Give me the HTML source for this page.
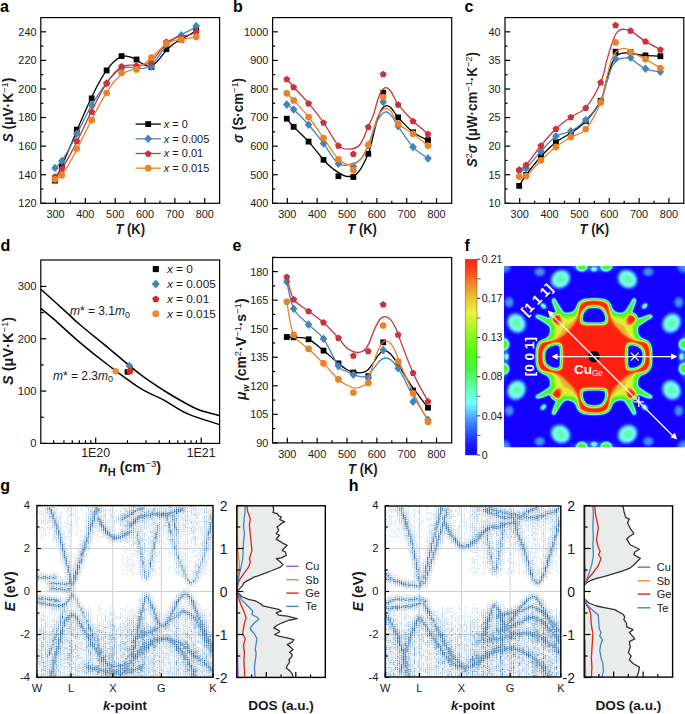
<!DOCTYPE html>
<html><head><meta charset="utf-8"><style>
html,body{margin:0;padding:0;background:#fff;}
svg{display:block;font-family:"Liberation Sans", sans-serif;}
</style></head><body>
<svg width="685" height="714" viewBox="0 0 685 714">
<rect x="40.8" y="17.6" width="178.8" height="185.7" fill="none" stroke="#000000" stroke-width="1.2" />
<line x1="40.8" y1="203.3" x2="46" y2="203.3" stroke="#000000" stroke-width="1.2" />
<line x1="40.8" y1="174.72" x2="46" y2="174.72" stroke="#000000" stroke-width="1.2" />
<line x1="40.8" y1="146.14" x2="46" y2="146.14" stroke="#000000" stroke-width="1.2" />
<line x1="40.8" y1="117.56" x2="46" y2="117.56" stroke="#000000" stroke-width="1.2" />
<line x1="40.8" y1="88.98" x2="46" y2="88.98" stroke="#000000" stroke-width="1.2" />
<line x1="40.8" y1="60.4" x2="46" y2="60.4" stroke="#000000" stroke-width="1.2" />
<line x1="40.8" y1="31.82" x2="46" y2="31.82" stroke="#000000" stroke-width="1.2" />
<line x1="40.8" y1="189.01" x2="43.4" y2="189.01" stroke="#000000" stroke-width="1.2" />
<line x1="40.8" y1="160.43" x2="43.4" y2="160.43" stroke="#000000" stroke-width="1.2" />
<line x1="40.8" y1="131.85" x2="43.4" y2="131.85" stroke="#000000" stroke-width="1.2" />
<line x1="40.8" y1="103.27" x2="43.4" y2="103.27" stroke="#000000" stroke-width="1.2" />
<line x1="40.8" y1="74.69" x2="43.4" y2="74.69" stroke="#000000" stroke-width="1.2" />
<line x1="40.8" y1="46.11" x2="43.4" y2="46.11" stroke="#000000" stroke-width="1.2" />
<text x="36.5" y="207.2" font-size="10.9" text-anchor="end" font-weight="normal" font-style="normal" fill="#1a1a1a" >120</text>
<text x="36.5" y="178.62" font-size="10.9" text-anchor="end" font-weight="normal" font-style="normal" fill="#1a1a1a" >140</text>
<text x="36.5" y="150.04" font-size="10.9" text-anchor="end" font-weight="normal" font-style="normal" fill="#1a1a1a" >160</text>
<text x="36.5" y="121.46" font-size="10.9" text-anchor="end" font-weight="normal" font-style="normal" fill="#1a1a1a" >180</text>
<text x="36.5" y="92.88" font-size="10.9" text-anchor="end" font-weight="normal" font-style="normal" fill="#1a1a1a" >200</text>
<text x="36.5" y="64.3" font-size="10.9" text-anchor="end" font-weight="normal" font-style="normal" fill="#1a1a1a" >220</text>
<text x="36.5" y="35.72" font-size="10.9" text-anchor="end" font-weight="normal" font-style="normal" fill="#1a1a1a" >240</text>
<line x1="55.5" y1="203.3" x2="55.5" y2="198.1" stroke="#000000" stroke-width="1.2" />
<line x1="85.35" y1="203.3" x2="85.35" y2="198.1" stroke="#000000" stroke-width="1.2" />
<line x1="115.2" y1="203.3" x2="115.2" y2="198.1" stroke="#000000" stroke-width="1.2" />
<line x1="145.05" y1="203.3" x2="145.05" y2="198.1" stroke="#000000" stroke-width="1.2" />
<line x1="174.9" y1="203.3" x2="174.9" y2="198.1" stroke="#000000" stroke-width="1.2" />
<line x1="204.75" y1="203.3" x2="204.75" y2="198.1" stroke="#000000" stroke-width="1.2" />
<line x1="70.42" y1="203.3" x2="70.42" y2="200.7" stroke="#000000" stroke-width="1.2" />
<line x1="100.28" y1="203.3" x2="100.28" y2="200.7" stroke="#000000" stroke-width="1.2" />
<line x1="130.12" y1="203.3" x2="130.12" y2="200.7" stroke="#000000" stroke-width="1.2" />
<line x1="159.97" y1="203.3" x2="159.97" y2="200.7" stroke="#000000" stroke-width="1.2" />
<line x1="189.82" y1="203.3" x2="189.82" y2="200.7" stroke="#000000" stroke-width="1.2" />
<text x="55.5" y="217.9" font-size="10.9" text-anchor="middle" font-weight="normal" font-style="normal" fill="#1a1a1a" >300</text>
<text x="85.35" y="217.9" font-size="10.9" text-anchor="middle" font-weight="normal" font-style="normal" fill="#1a1a1a" >400</text>
<text x="115.2" y="217.9" font-size="10.9" text-anchor="middle" font-weight="normal" font-style="normal" fill="#1a1a1a" >500</text>
<text x="145.05" y="217.9" font-size="10.9" text-anchor="middle" font-weight="normal" font-style="normal" fill="#1a1a1a" >600</text>
<text x="174.9" y="217.9" font-size="10.9" text-anchor="middle" font-weight="normal" font-style="normal" fill="#1a1a1a" >700</text>
<text x="204.75" y="217.9" font-size="10.9" text-anchor="middle" font-weight="normal" font-style="normal" fill="#1a1a1a" >800</text>
<text x="130.2" y="233.8" font-size="13.8" font-weight="bold" text-anchor="middle" textLength="29.6" lengthAdjust="spacingAndGlyphs" fill="#1a1a1a"><tspan font-style="italic">T</tspan> (K)</text>
<text x="0" y="11.6" font-size="16" font-weight="bold" fill="#000000">a</text>
<text transform="translate(12.6,110.1) rotate(-90)" font-size="14.1" textLength="64.8" lengthAdjust="spacingAndGlyphs" font-weight="bold" text-anchor="middle" fill="#1a1a1a"><tspan font-style="italic">S</tspan> (μV·K<tspan dy="-5" font-size="9.6" font-weight="normal">−1</tspan><tspan dy="5">)</tspan></text>
<path d="M55,180.49 L56.19,178.05 L57.37,175.57 L58.56,173.04 L59.75,170.47 L60.93,167.86 L62.12,165.22 L63.31,162.54 L64.49,159.84 L65.68,157.11 L66.86,154.36 L68.05,151.59 L69.24,148.81 L70.42,146.01 L71.61,143.2 L72.8,140.38 L73.98,137.56 L75.17,134.74 L76.36,131.92 L77.54,129.11 L78.73,126.3 L79.92,123.51 L81.1,120.73 L82.29,117.97 L83.48,115.23 L84.66,112.51 L85.85,109.82 L87.03,107.16 L88.22,104.53 L89.41,101.94 L90.59,99.39 L91.78,96.88 L92.97,94.42 L94.15,92 L95.34,89.63 L96.53,87.32 L97.71,85.07 L98.9,82.88 L100.09,80.75 L101.27,78.69 L102.46,76.7 L103.65,74.78 L104.83,72.94 L106.02,71.18 L107.2,69.5 L108.39,67.9 L109.58,66.39 L110.76,64.98 L111.95,63.66 L113.14,62.44 L114.32,61.31 L115.51,60.29 L116.7,59.38 L117.88,58.58 L119.07,57.89 L120.26,57.32 L121.44,56.87 L122.63,56.53 L123.82,56.32 L125,56.22 L126.19,56.22 L127.37,56.33 L128.56,56.53 L129.75,56.82 L130.93,57.19 L132.12,57.65 L133.31,58.17 L134.49,58.77 L135.68,59.43 L136.87,60.14 L138.05,60.9 L139.24,61.68 L140.43,62.46 L141.61,63.22 L142.8,63.94 L143.99,64.58 L145.17,65.14 L146.36,65.58 L147.55,65.88 L148.73,66.02 L149.92,65.98 L151.1,65.73 L152.29,65.26 L153.48,64.57 L154.66,63.69 L155.85,62.65 L157.04,61.47 L158.22,60.18 L159.41,58.8 L160.6,57.37 L161.78,55.9 L162.97,54.42 L164.16,52.96 L165.34,51.55 L166.53,50.2 L167.72,48.95 L168.9,47.78 L170.09,46.69 L171.27,45.67 L172.46,44.72 L173.65,43.83 L174.83,43 L176.02,42.21 L177.21,41.47 L178.39,40.76 L179.58,40.08 L180.77,39.43 L181.95,38.79 L183.14,38.17 L184.33,37.55 L185.51,36.93 L186.7,36.3 L187.89,35.66 L189.07,35 L190.26,34.32 L191.44,33.6 L192.63,32.85 L193.82,32.05 L195,31.2 L196.19,30.3" fill="none" stroke="#000000" stroke-width="1.3" stroke-linejoin="round"/>
<rect x="52.1" y="177.7" width="5.8" height="5.8" fill="#000000"/>
<rect x="58.97" y="163.1" width="5.8" height="5.8" fill="#000000"/>
<rect x="73.89" y="126.7" width="5.8" height="5.8" fill="#000000"/>
<rect x="88.82" y="95.5" width="5.8" height="5.8" fill="#000000"/>
<rect x="103.74" y="67.5" width="5.8" height="5.8" fill="#000000"/>
<rect x="118.67" y="53.2" width="5.8" height="5.8" fill="#000000"/>
<rect x="133.59" y="56.6" width="5.8" height="5.8" fill="#000000"/>
<rect x="148.52" y="64.1" width="5.8" height="5.8" fill="#000000"/>
<rect x="163.44" y="46.3" width="5.8" height="5.8" fill="#000000"/>
<rect x="178.37" y="36.8" width="5.8" height="5.8" fill="#000000"/>
<rect x="193.29" y="27.3" width="5.8" height="5.8" fill="#000000"/>
<path d="M55,168.31 L56.19,167.23 L57.37,166.03 L58.56,164.71 L59.75,163.28 L60.93,161.75 L62.12,160.12 L63.31,158.4 L64.49,156.59 L65.68,154.7 L66.86,152.74 L68.05,150.71 L69.24,148.62 L70.42,146.47 L71.61,144.28 L72.8,142.04 L73.98,139.76 L75.17,137.45 L76.36,135.12 L77.54,132.76 L78.73,130.4 L79.92,128.02 L81.1,125.64 L82.29,123.27 L83.48,120.91 L84.66,118.56 L85.85,116.24 L87.03,113.95 L88.22,111.69 L89.41,109.47 L90.59,107.3 L91.78,105.18 L92.97,103.11 L94.15,101.11 L95.34,99.16 L96.53,97.25 L97.71,95.4 L98.9,93.6 L100.09,91.84 L101.27,90.13 L102.46,88.46 L103.65,86.82 L104.83,85.23 L106.02,83.66 L107.2,82.14 L108.39,80.64 L109.58,79.19 L110.76,77.79 L111.95,76.45 L113.14,75.17 L114.32,73.97 L115.51,72.85 L116.7,71.81 L117.88,70.87 L119.07,70.03 L120.26,69.3 L121.44,68.68 L122.63,68.19 L123.82,67.82 L125,67.55 L126.19,67.37 L127.37,67.27 L128.56,67.25 L129.75,67.28 L130.93,67.36 L132.12,67.48 L133.31,67.63 L134.49,67.79 L135.68,67.95 L136.87,68.11 L138.05,68.25 L139.24,68.36 L140.43,68.42 L141.61,68.43 L142.8,68.37 L143.99,68.22 L145.17,67.99 L146.36,67.64 L147.55,67.18 L148.73,66.59 L149.92,65.85 L151.1,64.96 L152.29,63.9 L153.48,62.69 L154.66,61.34 L155.85,59.88 L157.04,58.34 L158.22,56.73 L159.41,55.08 L160.6,53.4 L161.78,51.73 L162.97,50.09 L164.16,48.49 L165.34,46.96 L166.53,45.53 L167.72,44.2 L168.9,42.97 L170.09,41.84 L171.27,40.8 L172.46,39.84 L173.65,38.95 L174.83,38.13 L176.02,37.37 L177.21,36.66 L178.39,35.99 L179.58,35.36 L180.77,34.76 L181.95,34.18 L183.14,33.61 L184.33,33.06 L185.51,32.5 L186.7,31.93 L187.89,31.35 L189.07,30.75 L190.26,30.12 L191.44,29.45 L192.63,28.73 L193.82,27.97 L195,27.14 L196.19,26.25" fill="none" stroke="#4484ba" stroke-width="1.3" stroke-linejoin="round"/>
<path d="M55,163.7 L58.8,168 L55,172.3 L51.2,168 Z" fill="#4484ba"/>
<path d="M61.87,156.8 L65.67,161.1 L61.87,165.4 L58.07,161.1 Z" fill="#4484ba"/>
<path d="M76.79,129.5 L80.59,133.8 L76.79,138.1 L72.99,133.8 Z" fill="#4484ba"/>
<path d="M91.72,100.9 L95.52,105.2 L91.72,109.5 L87.92,105.2 Z" fill="#4484ba"/>
<path d="M106.64,79.2 L110.44,83.5 L106.64,87.8 L102.84,83.5 Z" fill="#4484ba"/>
<path d="M121.57,63.9 L125.37,68.2 L121.57,72.5 L117.77,68.2 Z" fill="#4484ba"/>
<path d="M136.49,63.1 L140.29,67.4 L136.49,71.7 L132.69,67.4 Z" fill="#4484ba"/>
<path d="M151.42,62.1 L155.22,66.4 L151.42,70.7 L147.62,66.4 Z" fill="#4484ba"/>
<path d="M166.34,39.8 L170.14,44.1 L166.34,48.4 L162.54,44.1 Z" fill="#4484ba"/>
<path d="M181.27,31 L185.07,35.3 L181.27,39.6 L177.47,35.3 Z" fill="#4484ba"/>
<path d="M196.19,21.8 L199.99,26.1 L196.19,30.4 L192.39,26.1 Z" fill="#4484ba"/>
<path d="M55,176.7 L56.19,175.46 L57.37,174.12 L58.56,172.69 L59.75,171.17 L60.93,169.57 L62.12,167.88 L63.31,166.11 L64.49,164.27 L65.68,162.36 L66.86,160.39 L68.05,158.35 L69.24,156.25 L70.42,154.1 L71.61,151.9 L72.8,149.65 L73.98,147.37 L75.17,145.04 L76.36,142.68 L77.54,140.29 L78.73,137.87 L79.92,135.43 L81.1,132.97 L82.29,130.5 L83.48,128.02 L84.66,125.53 L85.85,123.04 L87.03,120.55 L88.22,118.07 L89.41,115.6 L90.59,113.14 L91.78,110.7 L92.97,108.28 L94.15,105.89 L95.34,103.53 L96.53,101.2 L97.71,98.9 L98.9,96.65 L100.09,94.45 L101.27,92.3 L102.46,90.2 L103.65,88.15 L104.83,86.17 L106.02,84.26 L107.2,82.41 L108.39,80.64 L109.58,78.95 L110.76,77.34 L111.95,75.81 L113.14,74.37 L114.32,73.03 L115.51,71.79 L116.7,70.64 L117.88,69.61 L119.07,68.68 L120.26,67.87 L121.44,67.17 L122.63,66.59 L123.82,66.13 L125,65.77 L126.19,65.49 L127.37,65.3 L128.56,65.18 L129.75,65.11 L130.93,65.09 L132.12,65.11 L133.31,65.15 L134.49,65.2 L135.68,65.26 L136.87,65.31 L138.05,65.34 L139.24,65.34 L140.43,65.3 L141.61,65.21 L142.8,65.05 L143.99,64.82 L145.17,64.51 L146.36,64.1 L147.55,63.59 L148.73,62.95 L149.92,62.19 L151.1,61.29 L152.29,60.24 L153.48,59.06 L154.66,57.76 L155.85,56.37 L157.04,54.91 L158.22,53.4 L159.41,51.88 L160.6,50.35 L161.78,48.84 L162.97,47.38 L164.16,45.98 L165.34,44.68 L166.53,43.49 L167.72,42.42 L168.9,41.48 L170.09,40.65 L171.27,39.92 L172.46,39.28 L173.65,38.73 L174.83,38.25 L176.02,37.84 L177.21,37.48 L178.39,37.16 L179.58,36.89 L180.77,36.64 L181.95,36.4 L183.14,36.18 L184.33,35.96 L185.51,35.72 L186.7,35.47 L187.89,35.18 L189.07,34.86 L190.26,34.49 L191.44,34.06 L192.63,33.57 L193.82,33 L195,32.35 L196.19,31.6" fill="none" stroke="#c7343b" stroke-width="1.3" stroke-linejoin="round"/>
<path d="M55,173.3 L58.42,175.79 L57.12,179.81 L52.88,179.81 L51.58,175.79 Z" fill="#c7343b"/>
<path d="M61.87,165.3 L65.29,167.79 L63.98,171.81 L59.75,171.81 L58.44,167.79 Z" fill="#c7343b"/>
<path d="M76.79,137.7 L80.21,140.19 L78.91,144.21 L74.67,144.21 L73.37,140.19 Z" fill="#c7343b"/>
<path d="M91.72,108.5 L95.14,110.99 L93.83,115.01 L89.6,115.01 L88.29,110.99 Z" fill="#c7343b"/>
<path d="M106.64,79.8 L110.06,82.29 L108.76,86.31 L104.52,86.31 L103.22,82.29 Z" fill="#c7343b"/>
<path d="M121.57,63.1 L124.99,65.59 L123.68,69.61 L119.45,69.61 L118.14,65.59 Z" fill="#c7343b"/>
<path d="M136.49,62.2 L139.91,64.69 L138.61,68.71 L134.37,68.71 L133.07,64.69 Z" fill="#c7343b"/>
<path d="M151.42,59 L154.84,61.49 L153.53,65.51 L149.3,65.51 L147.99,61.49 Z" fill="#c7343b"/>
<path d="M166.34,38.6 L169.76,41.09 L168.46,45.11 L164.22,45.11 L162.92,41.09 Z" fill="#c7343b"/>
<path d="M181.27,34.2 L184.69,36.69 L183.38,40.71 L179.15,40.71 L177.84,36.69 Z" fill="#c7343b"/>
<path d="M196.19,28.1 L199.61,30.59 L198.31,34.61 L194.07,34.61 L192.77,30.59 Z" fill="#c7343b"/>
<path d="M55,179.65 L56.19,179.21 L57.37,178.56 L58.56,177.73 L59.75,176.72 L60.93,175.55 L62.12,174.23 L63.31,172.76 L64.49,171.15 L65.68,169.43 L66.86,167.6 L68.05,165.66 L69.24,163.64 L70.42,161.54 L71.61,159.37 L72.8,157.14 L73.98,154.87 L75.17,152.56 L76.36,150.23 L77.54,147.89 L78.73,145.54 L79.92,143.18 L81.1,140.82 L82.29,138.45 L83.48,136.08 L84.66,133.71 L85.85,131.34 L87.03,128.98 L88.22,126.61 L89.41,124.26 L90.59,121.9 L91.78,119.56 L92.97,117.23 L94.15,114.91 L95.34,112.62 L96.53,110.34 L97.71,108.09 L98.9,105.87 L100.09,103.68 L101.27,101.53 L102.46,99.42 L103.65,97.36 L104.83,95.34 L106.02,93.38 L107.2,91.48 L108.39,89.64 L109.58,87.86 L110.76,86.16 L111.95,84.52 L113.14,82.97 L114.32,81.49 L115.51,80.1 L116.7,78.8 L117.88,77.59 L119.07,76.48 L120.26,75.47 L121.44,74.56 L122.63,73.76 L123.82,73.06 L125,72.44 L126.19,71.9 L127.37,71.4 L128.56,70.96 L129.75,70.54 L130.93,70.14 L132.12,69.75 L133.31,69.35 L134.49,68.92 L135.68,68.46 L136.87,67.96 L138.05,67.39 L139.24,66.77 L140.43,66.1 L141.61,65.37 L142.8,64.6 L143.99,63.78 L145.17,62.91 L146.36,62 L147.55,61.04 L148.73,60.05 L149.92,59.02 L151.1,57.95 L152.29,56.85 L153.48,55.72 L154.66,54.58 L155.85,53.42 L157.04,52.27 L158.22,51.12 L159.41,50 L160.6,48.9 L161.78,47.84 L162.97,46.82 L164.16,45.86 L165.34,44.97 L166.53,44.15 L167.72,43.41 L168.9,42.74 L170.09,42.15 L171.27,41.62 L172.46,41.15 L173.65,40.74 L174.83,40.38 L176.02,40.07 L177.21,39.79 L178.39,39.56 L179.58,39.35 L180.77,39.17 L181.95,39.01 L183.14,38.87 L184.33,38.74 L185.51,38.61 L186.7,38.48 L187.89,38.36 L189.07,38.22 L190.26,38.07 L191.44,37.9 L192.63,37.71 L193.82,37.48 L195,37.23 L196.19,36.94" fill="none" stroke="#eb8228" stroke-width="1.3" stroke-linejoin="round"/>
<circle cx="55" cy="179.3" r="3.35" fill="#eb8228"/>
<circle cx="61.87" cy="175.3" r="3.35" fill="#eb8228"/>
<circle cx="76.79" cy="148.5" r="3.35" fill="#eb8228"/>
<circle cx="91.72" cy="120.2" r="3.35" fill="#eb8228"/>
<circle cx="106.64" cy="93" r="3.35" fill="#eb8228"/>
<circle cx="121.57" cy="72.8" r="3.35" fill="#eb8228"/>
<circle cx="136.49" cy="69.5" r="3.35" fill="#eb8228"/>
<circle cx="151.42" cy="57.7" r="3.35" fill="#eb8228"/>
<circle cx="166.34" cy="43.4" r="3.35" fill="#eb8228"/>
<circle cx="181.27" cy="39.7" r="3.35" fill="#eb8228"/>
<circle cx="196.19" cy="36.8" r="3.35" fill="#eb8228"/>
<line x1="135.6" y1="124.1" x2="160.8" y2="124.1" stroke="#000000" stroke-width="1.3" />
<rect x="145.3" y="121.2" width="5.8" height="5.8" fill="#000000"/>
<text x="163.8" y="128" font-size="11" fill="#1a1a1a"><tspan font-style="italic">x</tspan> = 0</text>
<line x1="135.6" y1="138.8" x2="160.8" y2="138.8" stroke="#4484ba" stroke-width="1.3" />
<path d="M148.2,134.5 L152,138.8 L148.2,143.1 L144.4,138.8 Z" fill="#4484ba"/>
<text x="163.8" y="142.7" font-size="11" fill="#1a1a1a"><tspan font-style="italic">x</tspan> = 0.005</text>
<line x1="135.6" y1="153.5" x2="160.8" y2="153.5" stroke="#c7343b" stroke-width="1.3" />
<path d="M148.2,150.2 L151.62,152.69 L150.32,156.71 L146.08,156.71 L144.78,152.69 Z" fill="#c7343b"/>
<text x="163.8" y="157.4" font-size="11" fill="#1a1a1a"><tspan font-style="italic">x</tspan> = 0.01</text>
<line x1="135.6" y1="168.2" x2="160.8" y2="168.2" stroke="#eb8228" stroke-width="1.3" />
<circle cx="148.2" cy="168.2" r="3.35" fill="#eb8228"/>
<text x="163.8" y="172.1" font-size="11" fill="#1a1a1a"><tspan font-style="italic">x</tspan> = 0.015</text>
<rect x="272.6" y="17.6" width="179.1" height="185.7" fill="none" stroke="#000000" stroke-width="1.2" />
<line x1="272.6" y1="203.3" x2="277.8" y2="203.3" stroke="#000000" stroke-width="1.2" />
<line x1="272.6" y1="174.72" x2="277.8" y2="174.72" stroke="#000000" stroke-width="1.2" />
<line x1="272.6" y1="146.14" x2="277.8" y2="146.14" stroke="#000000" stroke-width="1.2" />
<line x1="272.6" y1="117.56" x2="277.8" y2="117.56" stroke="#000000" stroke-width="1.2" />
<line x1="272.6" y1="88.98" x2="277.8" y2="88.98" stroke="#000000" stroke-width="1.2" />
<line x1="272.6" y1="60.4" x2="277.8" y2="60.4" stroke="#000000" stroke-width="1.2" />
<line x1="272.6" y1="31.82" x2="277.8" y2="31.82" stroke="#000000" stroke-width="1.2" />
<line x1="272.6" y1="189.01" x2="275.2" y2="189.01" stroke="#000000" stroke-width="1.2" />
<line x1="272.6" y1="160.43" x2="275.2" y2="160.43" stroke="#000000" stroke-width="1.2" />
<line x1="272.6" y1="131.85" x2="275.2" y2="131.85" stroke="#000000" stroke-width="1.2" />
<line x1="272.6" y1="103.27" x2="275.2" y2="103.27" stroke="#000000" stroke-width="1.2" />
<line x1="272.6" y1="74.69" x2="275.2" y2="74.69" stroke="#000000" stroke-width="1.2" />
<line x1="272.6" y1="46.11" x2="275.2" y2="46.11" stroke="#000000" stroke-width="1.2" />
<text x="268.3" y="207.2" font-size="10.9" text-anchor="end" font-weight="normal" font-style="normal" fill="#1a1a1a" >400</text>
<text x="268.3" y="178.62" font-size="10.9" text-anchor="end" font-weight="normal" font-style="normal" fill="#1a1a1a" >500</text>
<text x="268.3" y="150.04" font-size="10.9" text-anchor="end" font-weight="normal" font-style="normal" fill="#1a1a1a" >600</text>
<text x="268.3" y="121.46" font-size="10.9" text-anchor="end" font-weight="normal" font-style="normal" fill="#1a1a1a" >700</text>
<text x="268.3" y="92.88" font-size="10.9" text-anchor="end" font-weight="normal" font-style="normal" fill="#1a1a1a" >800</text>
<text x="268.3" y="64.3" font-size="10.9" text-anchor="end" font-weight="normal" font-style="normal" fill="#1a1a1a" >900</text>
<text x="268.3" y="35.72" font-size="10.9" text-anchor="end" font-weight="normal" font-style="normal" fill="#1a1a1a" >1000</text>
<line x1="287.3" y1="203.3" x2="287.3" y2="198.1" stroke="#000000" stroke-width="1.2" />
<line x1="317.15" y1="203.3" x2="317.15" y2="198.1" stroke="#000000" stroke-width="1.2" />
<line x1="347" y1="203.3" x2="347" y2="198.1" stroke="#000000" stroke-width="1.2" />
<line x1="376.85" y1="203.3" x2="376.85" y2="198.1" stroke="#000000" stroke-width="1.2" />
<line x1="406.7" y1="203.3" x2="406.7" y2="198.1" stroke="#000000" stroke-width="1.2" />
<line x1="436.55" y1="203.3" x2="436.55" y2="198.1" stroke="#000000" stroke-width="1.2" />
<line x1="302.23" y1="203.3" x2="302.23" y2="200.7" stroke="#000000" stroke-width="1.2" />
<line x1="332.07" y1="203.3" x2="332.07" y2="200.7" stroke="#000000" stroke-width="1.2" />
<line x1="361.93" y1="203.3" x2="361.93" y2="200.7" stroke="#000000" stroke-width="1.2" />
<line x1="391.77" y1="203.3" x2="391.77" y2="200.7" stroke="#000000" stroke-width="1.2" />
<line x1="421.62" y1="203.3" x2="421.62" y2="200.7" stroke="#000000" stroke-width="1.2" />
<text x="287.3" y="217.9" font-size="10.9" text-anchor="middle" font-weight="normal" font-style="normal" fill="#1a1a1a" >300</text>
<text x="317.15" y="217.9" font-size="10.9" text-anchor="middle" font-weight="normal" font-style="normal" fill="#1a1a1a" >400</text>
<text x="347" y="217.9" font-size="10.9" text-anchor="middle" font-weight="normal" font-style="normal" fill="#1a1a1a" >500</text>
<text x="376.85" y="217.9" font-size="10.9" text-anchor="middle" font-weight="normal" font-style="normal" fill="#1a1a1a" >600</text>
<text x="406.7" y="217.9" font-size="10.9" text-anchor="middle" font-weight="normal" font-style="normal" fill="#1a1a1a" >700</text>
<text x="436.55" y="217.9" font-size="10.9" text-anchor="middle" font-weight="normal" font-style="normal" fill="#1a1a1a" >800</text>
<text x="362.15" y="233.8" font-size="13.8" font-weight="bold" text-anchor="middle" textLength="29.6" lengthAdjust="spacingAndGlyphs" fill="#1a1a1a"><tspan font-style="italic">T</tspan> (K)</text>
<text x="233" y="11.6" font-size="16" font-weight="bold" fill="#000000">b</text>
<text transform="translate(243.2,110.4) rotate(-90)" font-size="14" textLength="65" lengthAdjust="spacingAndGlyphs" font-weight="bold" text-anchor="middle" fill="#1a1a1a"><tspan font-style="italic">σ</tspan> (S·cm<tspan dy="-5" font-size="9.6" font-weight="normal">−1</tspan><tspan dy="5">)</tspan></text>
<path d="M286.8,118.7 C287.94,120.05 290.03,122.98 293.67,126.8 C297.3,130.62 303.62,136.1 308.59,141.6 C313.57,147.1 319.45,155.27 323.52,159.8 C327.58,164.33 329.17,166.05 333,168.8 C336.83,171.55 342.33,175.68 346.5,176.3 C350.67,176.92 354.37,176.28 358,172.5 C361.63,168.72 365.77,159.75 368.3,153.6 C370.83,147.45 371.62,141.48 373.2,135.6 C374.78,129.72 376.28,122.85 377.8,118.3 C379.32,113.75 380.78,110.42 382.3,108.3 C383.82,106.18 385.38,105.6 386.9,105.6 C388.42,105.6 389.53,106.33 391.4,108.3 C393.27,110.27 394.53,113.4 398.14,117.4 C401.75,121.4 408.09,128.5 413.07,132.3 C418.04,136.1 425.5,138.88 427.99,140.2" fill="none" stroke="#000000" stroke-width="1.3" stroke-linejoin="round"/>
<rect x="283.9" y="115.8" width="5.8" height="5.8" fill="#000000"/>
<rect x="290.77" y="123.9" width="5.8" height="5.8" fill="#000000"/>
<rect x="305.69" y="138.7" width="5.8" height="5.8" fill="#000000"/>
<rect x="320.62" y="156.9" width="5.8" height="5.8" fill="#000000"/>
<rect x="335.54" y="173.3" width="5.8" height="5.8" fill="#000000"/>
<rect x="350.47" y="174.1" width="5.8" height="5.8" fill="#000000"/>
<rect x="365.39" y="150.9" width="5.8" height="5.8" fill="#000000"/>
<rect x="380.32" y="89.9" width="5.8" height="5.8" fill="#000000"/>
<rect x="395.24" y="114.5" width="5.8" height="5.8" fill="#000000"/>
<rect x="410.17" y="129.4" width="5.8" height="5.8" fill="#000000"/>
<rect x="425.09" y="137.3" width="5.8" height="5.8" fill="#000000"/>
<path d="M286.8,104.6 C287.94,105.42 290.03,106.15 293.67,109.5 C297.3,112.85 303.62,119.05 308.59,124.7 C313.57,130.35 318.54,136.88 323.52,143.4 C328.49,149.92 333.83,160.37 338.44,163.8 C343.05,167.23 347.44,164.8 351.2,164 C354.96,163.2 358.18,161.92 361,159 C363.82,156.08 366.07,151 368.1,146.5 C370.13,142 371.58,136.4 373.2,132 C374.82,127.6 376.28,123.13 377.8,120.1 C379.32,117.07 380.78,115.15 382.3,113.8 C383.82,112.45 385.38,111.7 386.9,112 C388.42,112.3 389.53,113.25 391.4,115.6 C393.27,117.95 394.53,120.85 398.14,126.1 C401.75,131.35 408.09,141.72 413.07,147.1 C418.04,152.48 425.5,156.52 427.99,158.4" fill="none" stroke="#4484ba" stroke-width="1.3" stroke-linejoin="round"/>
<path d="M286.8,100.3 L290.6,104.6 L286.8,108.9 L283,104.6 Z" fill="#4484ba"/>
<path d="M293.67,105.2 L297.47,109.5 L293.67,113.8 L289.87,109.5 Z" fill="#4484ba"/>
<path d="M308.59,120.4 L312.39,124.7 L308.59,129 L304.79,124.7 Z" fill="#4484ba"/>
<path d="M323.52,139.1 L327.32,143.4 L323.52,147.7 L319.72,143.4 Z" fill="#4484ba"/>
<path d="M338.44,159.5 L342.24,163.8 L338.44,168.1 L334.64,163.8 Z" fill="#4484ba"/>
<path d="M353.37,162.3 L357.17,166.6 L353.37,170.9 L349.57,166.6 Z" fill="#4484ba"/>
<path d="M368.29,140.7 L372.09,145 L368.29,149.3 L364.49,145 Z" fill="#4484ba"/>
<path d="M383.22,97.6 L387.02,101.9 L383.22,106.2 L379.42,101.9 Z" fill="#4484ba"/>
<path d="M398.14,121.8 L401.94,126.1 L398.14,130.4 L394.34,126.1 Z" fill="#4484ba"/>
<path d="M413.07,142.8 L416.87,147.1 L413.07,151.4 L409.27,147.1 Z" fill="#4484ba"/>
<path d="M427.99,154.1 L431.79,158.4 L427.99,162.7 L424.19,158.4 Z" fill="#4484ba"/>
<path d="M286.8,79.1 C287.94,80.42 290.03,82.98 293.67,87 C297.3,91.02 303.62,97.28 308.59,103.2 C313.57,109.12 318.54,115.43 323.52,122.5 C328.49,129.57 334.03,141.17 338.44,145.6 C342.85,150.03 346.41,149.28 350,149.1 C353.59,148.92 356.98,148.2 360,144.5 C363.02,140.8 365.9,131.72 368.1,126.9 C370.3,122.08 371.73,119.62 373.2,115.6 C374.67,111.58 375.68,106.6 376.9,102.8 C378.12,99 379.05,95.32 380.5,92.8 C381.95,90.28 383.93,88 385.6,87.7 C387.27,87.4 388.92,89.08 390.5,91 C392.08,92.92 393.83,96.93 395.1,99.2 C396.37,101.47 395.15,100.97 398.14,104.6 C401.13,108.23 408.09,116.13 413.07,121 C418.04,125.87 425.5,131.67 427.99,133.8" fill="none" stroke="#c7343b" stroke-width="1.3" stroke-linejoin="round"/>
<path d="M286.8,75.8 L290.22,78.29 L288.92,82.31 L284.68,82.31 L283.38,78.29 Z" fill="#c7343b"/>
<path d="M293.67,83.7 L297.09,86.19 L295.78,90.21 L291.55,90.21 L290.24,86.19 Z" fill="#c7343b"/>
<path d="M308.59,99.9 L312.01,102.39 L310.71,106.41 L306.47,106.41 L305.17,102.39 Z" fill="#c7343b"/>
<path d="M323.52,119.2 L326.94,121.69 L325.63,125.71 L321.4,125.71 L320.09,121.69 Z" fill="#c7343b"/>
<path d="M338.44,142.3 L341.86,144.79 L340.56,148.81 L336.32,148.81 L335.02,144.79 Z" fill="#c7343b"/>
<path d="M353.37,150.5 L356.79,152.99 L355.48,157.01 L351.25,157.01 L349.94,152.99 Z" fill="#c7343b"/>
<path d="M368.29,123.6 L371.71,126.09 L370.41,130.11 L366.17,130.11 L364.87,126.09 Z" fill="#c7343b"/>
<path d="M383.22,70.7 L386.64,73.19 L385.33,77.21 L381.1,77.21 L379.79,73.19 Z" fill="#c7343b"/>
<path d="M398.14,101.3 L401.56,103.79 L400.26,107.81 L396.02,107.81 L394.72,103.79 Z" fill="#c7343b"/>
<path d="M413.07,117.7 L416.49,120.19 L415.18,124.21 L410.95,124.21 L409.64,120.19 Z" fill="#c7343b"/>
<path d="M427.99,130.5 L431.41,132.99 L430.11,137.01 L425.87,137.01 L424.57,132.99 Z" fill="#c7343b"/>
<path d="M286.8,93.3 C287.94,94.48 290.03,96.45 293.67,100.4 C297.3,104.35 303.62,110.73 308.59,117 C313.57,123.27 318.54,130.95 323.52,138 C328.49,145.05 334.11,154.85 338.44,159.3 C342.77,163.75 345.91,164.58 349.5,164.7 C353.09,164.82 356.9,163.27 360,160 C363.1,156.73 365.9,150.08 368.1,145.1 C370.3,140.12 371.58,134.87 373.2,130.1 C374.82,125.33 376.28,119.83 377.8,116.5 C379.32,113.17 380.78,111.47 382.3,110.1 C383.82,108.73 385.38,108 386.9,108.3 C388.42,108.6 389.53,109.32 391.4,111.9 C393.27,114.48 394.53,120.15 398.14,123.8 C401.75,127.45 408.09,130.17 413.07,133.8 C418.04,137.43 425.5,143.63 427.99,145.6" fill="none" stroke="#eb8228" stroke-width="1.3" stroke-linejoin="round"/>
<circle cx="286.8" cy="93.3" r="3.35" fill="#eb8228"/>
<circle cx="293.67" cy="100.4" r="3.35" fill="#eb8228"/>
<circle cx="308.59" cy="117" r="3.35" fill="#eb8228"/>
<circle cx="323.52" cy="138" r="3.35" fill="#eb8228"/>
<circle cx="338.44" cy="159.3" r="3.35" fill="#eb8228"/>
<circle cx="353.37" cy="170.2" r="3.35" fill="#eb8228"/>
<circle cx="368.29" cy="145" r="3.35" fill="#eb8228"/>
<circle cx="383.22" cy="97" r="3.35" fill="#eb8228"/>
<circle cx="398.14" cy="123.8" r="3.35" fill="#eb8228"/>
<circle cx="413.07" cy="133.8" r="3.35" fill="#eb8228"/>
<circle cx="427.99" cy="145.6" r="3.35" fill="#eb8228"/>
<rect x="505" y="17.6" width="178.8" height="185.7" fill="none" stroke="#000000" stroke-width="1.2" />
<line x1="505" y1="203.3" x2="510.2" y2="203.3" stroke="#000000" stroke-width="1.2" />
<line x1="505" y1="174.72" x2="510.2" y2="174.72" stroke="#000000" stroke-width="1.2" />
<line x1="505" y1="146.14" x2="510.2" y2="146.14" stroke="#000000" stroke-width="1.2" />
<line x1="505" y1="117.56" x2="510.2" y2="117.56" stroke="#000000" stroke-width="1.2" />
<line x1="505" y1="88.98" x2="510.2" y2="88.98" stroke="#000000" stroke-width="1.2" />
<line x1="505" y1="60.4" x2="510.2" y2="60.4" stroke="#000000" stroke-width="1.2" />
<line x1="505" y1="31.82" x2="510.2" y2="31.82" stroke="#000000" stroke-width="1.2" />
<line x1="505" y1="189.01" x2="507.6" y2="189.01" stroke="#000000" stroke-width="1.2" />
<line x1="505" y1="160.43" x2="507.6" y2="160.43" stroke="#000000" stroke-width="1.2" />
<line x1="505" y1="131.85" x2="507.6" y2="131.85" stroke="#000000" stroke-width="1.2" />
<line x1="505" y1="103.27" x2="507.6" y2="103.27" stroke="#000000" stroke-width="1.2" />
<line x1="505" y1="74.69" x2="507.6" y2="74.69" stroke="#000000" stroke-width="1.2" />
<line x1="505" y1="46.11" x2="507.6" y2="46.11" stroke="#000000" stroke-width="1.2" />
<text x="500.7" y="207.2" font-size="10.9" text-anchor="end" font-weight="normal" font-style="normal" fill="#1a1a1a" >10</text>
<text x="500.7" y="178.62" font-size="10.9" text-anchor="end" font-weight="normal" font-style="normal" fill="#1a1a1a" >15</text>
<text x="500.7" y="150.04" font-size="10.9" text-anchor="end" font-weight="normal" font-style="normal" fill="#1a1a1a" >20</text>
<text x="500.7" y="121.46" font-size="10.9" text-anchor="end" font-weight="normal" font-style="normal" fill="#1a1a1a" >25</text>
<text x="500.7" y="92.88" font-size="10.9" text-anchor="end" font-weight="normal" font-style="normal" fill="#1a1a1a" >30</text>
<text x="500.7" y="64.3" font-size="10.9" text-anchor="end" font-weight="normal" font-style="normal" fill="#1a1a1a" >35</text>
<text x="500.7" y="35.72" font-size="10.9" text-anchor="end" font-weight="normal" font-style="normal" fill="#1a1a1a" >40</text>
<line x1="519.7" y1="203.3" x2="519.7" y2="198.1" stroke="#000000" stroke-width="1.2" />
<line x1="549.55" y1="203.3" x2="549.55" y2="198.1" stroke="#000000" stroke-width="1.2" />
<line x1="579.4" y1="203.3" x2="579.4" y2="198.1" stroke="#000000" stroke-width="1.2" />
<line x1="609.25" y1="203.3" x2="609.25" y2="198.1" stroke="#000000" stroke-width="1.2" />
<line x1="639.1" y1="203.3" x2="639.1" y2="198.1" stroke="#000000" stroke-width="1.2" />
<line x1="668.95" y1="203.3" x2="668.95" y2="198.1" stroke="#000000" stroke-width="1.2" />
<line x1="534.62" y1="203.3" x2="534.62" y2="200.7" stroke="#000000" stroke-width="1.2" />
<line x1="564.48" y1="203.3" x2="564.48" y2="200.7" stroke="#000000" stroke-width="1.2" />
<line x1="594.33" y1="203.3" x2="594.33" y2="200.7" stroke="#000000" stroke-width="1.2" />
<line x1="624.18" y1="203.3" x2="624.18" y2="200.7" stroke="#000000" stroke-width="1.2" />
<line x1="654.03" y1="203.3" x2="654.03" y2="200.7" stroke="#000000" stroke-width="1.2" />
<text x="519.7" y="217.9" font-size="10.9" text-anchor="middle" font-weight="normal" font-style="normal" fill="#1a1a1a" >300</text>
<text x="549.55" y="217.9" font-size="10.9" text-anchor="middle" font-weight="normal" font-style="normal" fill="#1a1a1a" >400</text>
<text x="579.4" y="217.9" font-size="10.9" text-anchor="middle" font-weight="normal" font-style="normal" fill="#1a1a1a" >500</text>
<text x="609.25" y="217.9" font-size="10.9" text-anchor="middle" font-weight="normal" font-style="normal" fill="#1a1a1a" >600</text>
<text x="639.1" y="217.9" font-size="10.9" text-anchor="middle" font-weight="normal" font-style="normal" fill="#1a1a1a" >700</text>
<text x="668.95" y="217.9" font-size="10.9" text-anchor="middle" font-weight="normal" font-style="normal" fill="#1a1a1a" >800</text>
<text x="594.4" y="233.8" font-size="13.8" font-weight="bold" text-anchor="middle" textLength="29.6" lengthAdjust="spacingAndGlyphs" fill="#1a1a1a"><tspan font-style="italic">T</tspan> (K)</text>
<text x="464.4" y="11.6" font-size="16" font-weight="bold" fill="#000000">c</text>
<text transform="translate(476.6,109.7) rotate(-90)" font-size="14" textLength="115.2" lengthAdjust="spacingAndGlyphs" font-weight="bold" text-anchor="middle" fill="#1a1a1a"><tspan font-style="italic">S</tspan><tspan dy="-5" font-size="9.6" font-weight="normal">2</tspan><tspan dy="5" font-style="italic">σ</tspan> (μW·cm<tspan dy="-5" font-size="9.6" font-weight="normal">−1</tspan><tspan dy="5">·K</tspan><tspan dy="-5" font-size="9.6" font-weight="normal">−2</tspan><tspan dy="5">)</tspan></text>
<path d="M519.2,185.9 C520.34,184.08 522.43,179.9 526.07,175 C529.7,170.1 536.02,161.97 540.99,156.5 C545.97,151.03 550.94,146.12 555.92,142.2 C560.89,138.28 565.87,136.5 570.84,133 C575.82,129.5 580.79,126.55 585.77,121.2 C590.74,115.85 597.18,107.95 600.69,100.9 C604.2,93.85 604.93,85.08 606.8,78.9 C608.67,72.72 610.35,67.58 611.9,63.8 C613.45,60.02 614.7,57.88 616.1,56.2 C617.5,54.52 618.62,54.25 620.3,53.7 C621.98,53.15 624.4,52.92 626.2,52.9 C628,52.88 627.89,53.18 631.1,53.6 C634.31,54.02 640.58,54.97 645.47,55.4 C650.35,55.83 657.9,56.07 660.39,56.2" fill="none" stroke="#000000" stroke-width="1.3" stroke-linejoin="round"/>
<rect x="516.3" y="183" width="5.8" height="5.8" fill="#000000"/>
<rect x="523.17" y="172.1" width="5.8" height="5.8" fill="#000000"/>
<rect x="538.09" y="153.6" width="5.8" height="5.8" fill="#000000"/>
<rect x="553.02" y="139.3" width="5.8" height="5.8" fill="#000000"/>
<rect x="567.94" y="130.1" width="5.8" height="5.8" fill="#000000"/>
<rect x="582.87" y="118.3" width="5.8" height="5.8" fill="#000000"/>
<rect x="597.79" y="98" width="5.8" height="5.8" fill="#000000"/>
<rect x="612.72" y="48.8" width="5.8" height="5.8" fill="#000000"/>
<rect x="627.64" y="49.1" width="5.8" height="5.8" fill="#000000"/>
<rect x="642.57" y="52.5" width="5.8" height="5.8" fill="#000000"/>
<rect x="657.49" y="53.3" width="5.8" height="5.8" fill="#000000"/>
<path d="M519.2,170.8 C520.34,170.37 522.43,171.43 526.07,168.2 C529.7,164.97 536.02,156.72 540.99,151.4 C545.97,146.08 550.94,139.65 555.92,136.3 C560.89,132.95 565.87,134.02 570.84,131.3 C575.82,128.58 580.79,124.97 585.77,120 C590.74,115.03 597.18,107.78 600.69,101.5 C604.2,95.22 604.93,88.03 606.8,82.3 C608.67,76.57 610.35,70.6 611.9,67.1 C613.45,63.6 614.7,62.7 616.1,61.3 C617.5,59.9 618.62,59.27 620.3,58.7 C621.98,58.13 624.4,57.87 626.2,57.9 C628,57.93 627.89,57.08 631.1,58.9 C634.31,60.72 640.58,66.65 645.47,68.8 C650.35,70.95 657.9,71.3 660.39,71.8" fill="none" stroke="#4484ba" stroke-width="1.3" stroke-linejoin="round"/>
<path d="M519.2,166.5 L523,170.8 L519.2,175.1 L515.4,170.8 Z" fill="#4484ba"/>
<path d="M526.07,163.9 L529.87,168.2 L526.07,172.5 L522.27,168.2 Z" fill="#4484ba"/>
<path d="M540.99,147.1 L544.79,151.4 L540.99,155.7 L537.19,151.4 Z" fill="#4484ba"/>
<path d="M555.92,132 L559.72,136.3 L555.92,140.6 L552.12,136.3 Z" fill="#4484ba"/>
<path d="M570.84,127 L574.64,131.3 L570.84,135.6 L567.04,131.3 Z" fill="#4484ba"/>
<path d="M585.77,115.7 L589.57,120 L585.77,124.3 L581.97,120 Z" fill="#4484ba"/>
<path d="M600.69,97.2 L604.49,101.5 L600.69,105.8 L596.89,101.5 Z" fill="#4484ba"/>
<path d="M615.62,54.4 L619.42,58.7 L615.62,63 L611.82,58.7 Z" fill="#4484ba"/>
<path d="M630.54,53.3 L634.34,57.6 L630.54,61.9 L626.74,57.6 Z" fill="#4484ba"/>
<path d="M645.47,64.5 L649.27,68.8 L645.47,73.1 L641.67,68.8 Z" fill="#4484ba"/>
<path d="M660.39,67.5 L664.19,71.8 L660.39,76.1 L656.59,71.8 Z" fill="#4484ba"/>
<path d="M519.2,169.6 C520.34,168.82 522.43,168.92 526.07,164.9 C529.7,160.88 536.02,151.53 540.99,145.5 C545.97,139.47 550.94,133.45 555.92,128.7 C560.89,123.95 565.87,120.5 570.84,117 C575.82,113.5 580.79,113.47 585.77,107.7 C590.74,101.93 597.18,90.28 600.69,82.4 C604.2,74.52 604.93,66.87 606.8,60.4 C608.67,53.93 610.35,48.08 611.9,43.6 C613.45,39.12 614.7,35.8 616.1,33.5 C617.5,31.2 618.9,30.5 620.3,29.8 C621.7,29.1 623.1,29.23 624.5,29.3 C625.9,29.37 627.69,30 628.7,30.2 C629.71,30.4 627.75,28.63 630.54,30.5 C633.33,32.37 640.49,38.23 645.47,41.4 C650.44,44.57 657.9,48.15 660.39,49.5" fill="none" stroke="#c7343b" stroke-width="1.3" stroke-linejoin="round"/>
<path d="M519.2,166.3 L522.62,168.79 L521.32,172.81 L517.08,172.81 L515.78,168.79 Z" fill="#c7343b"/>
<path d="M526.07,161.6 L529.49,164.09 L528.18,168.11 L523.95,168.11 L522.64,164.09 Z" fill="#c7343b"/>
<path d="M540.99,142.2 L544.41,144.69 L543.11,148.71 L538.87,148.71 L537.57,144.69 Z" fill="#c7343b"/>
<path d="M555.92,125.4 L559.34,127.89 L558.03,131.91 L553.8,131.91 L552.49,127.89 Z" fill="#c7343b"/>
<path d="M570.84,113.7 L574.26,116.19 L572.96,120.21 L568.72,120.21 L567.42,116.19 Z" fill="#c7343b"/>
<path d="M585.77,104.4 L589.19,106.89 L587.88,110.91 L583.65,110.91 L582.34,106.89 Z" fill="#c7343b"/>
<path d="M600.69,79.1 L604.11,81.59 L602.81,85.61 L598.57,85.61 L597.27,81.59 Z" fill="#c7343b"/>
<path d="M615.62,21.8 L619.04,24.29 L617.73,28.31 L613.5,28.31 L612.19,24.29 Z" fill="#c7343b"/>
<path d="M630.54,27.2 L633.96,29.69 L632.66,33.71 L628.42,33.71 L627.12,29.69 Z" fill="#c7343b"/>
<path d="M645.47,38.1 L648.89,40.59 L647.58,44.61 L643.35,44.61 L642.04,40.59 Z" fill="#c7343b"/>
<path d="M660.39,46.2 L663.81,48.69 L662.51,52.71 L658.27,52.71 L656.97,48.69 Z" fill="#c7343b"/>
<path d="M519.2,176.6 C520.34,176.52 522.43,178.82 526.07,176.1 C529.7,173.38 536.02,165.17 540.99,160.3 C545.97,155.43 550.94,150.77 555.92,146.9 C560.89,143.03 565.87,140.07 570.84,137.1 C575.82,134.13 580.79,134.85 585.77,129.1 C590.74,123.35 597.18,111.25 600.69,102.6 C604.2,93.95 604.93,84.52 606.8,77.2 C608.67,69.88 610.35,62.9 611.9,58.7 C613.45,54.5 614.7,53.62 616.1,52 C617.5,50.38 618.9,49.62 620.3,49 C621.7,48.38 623.1,48.22 624.5,48.3 C625.9,48.38 627.69,48.88 628.7,49.5 C629.71,50.12 627.75,50.4 630.54,52 C633.33,53.6 640.49,56.43 645.47,59.1 C650.44,61.77 657.9,66.52 660.39,68" fill="none" stroke="#eb8228" stroke-width="1.3" stroke-linejoin="round"/>
<circle cx="519.2" cy="176.6" r="3.35" fill="#eb8228"/>
<circle cx="526.07" cy="176.1" r="3.35" fill="#eb8228"/>
<circle cx="540.99" cy="160.3" r="3.35" fill="#eb8228"/>
<circle cx="555.92" cy="146.9" r="3.35" fill="#eb8228"/>
<circle cx="570.84" cy="137.1" r="3.35" fill="#eb8228"/>
<circle cx="585.77" cy="129.1" r="3.35" fill="#eb8228"/>
<circle cx="600.69" cy="102.6" r="3.35" fill="#eb8228"/>
<circle cx="615.62" cy="42.4" r="3.35" fill="#eb8228"/>
<circle cx="630.54" cy="52" r="3.35" fill="#eb8228"/>
<circle cx="645.47" cy="59.1" r="3.35" fill="#eb8228"/>
<circle cx="660.39" cy="68" r="3.35" fill="#eb8228"/>
<rect x="40.8" y="260" width="178.8" height="183.4" fill="none" stroke="#000000" stroke-width="1.2" />
<line x1="40.8" y1="443.4" x2="46.3" y2="443.4" stroke="#000000" stroke-width="1.2" />
<line x1="40.8" y1="391.08" x2="46.3" y2="391.08" stroke="#000000" stroke-width="1.2" />
<line x1="40.8" y1="338.76" x2="46.3" y2="338.76" stroke="#000000" stroke-width="1.2" />
<line x1="40.8" y1="286.44" x2="46.3" y2="286.44" stroke="#000000" stroke-width="1.2" />
<line x1="40.8" y1="417.24" x2="43.8" y2="417.24" stroke="#000000" stroke-width="1.2" />
<line x1="40.8" y1="364.92" x2="43.8" y2="364.92" stroke="#000000" stroke-width="1.2" />
<line x1="40.8" y1="312.6" x2="43.8" y2="312.6" stroke="#000000" stroke-width="1.2" />
<text x="36.5" y="447.3" font-size="11.3" text-anchor="end" font-weight="normal" font-style="normal" fill="#1a1a1a" >0</text>
<text x="36.5" y="394.98" font-size="11.3" text-anchor="end" font-weight="normal" font-style="normal" fill="#1a1a1a" >100</text>
<text x="36.5" y="342.66" font-size="11.3" text-anchor="end" font-weight="normal" font-style="normal" fill="#1a1a1a" >200</text>
<text x="36.5" y="290.34" font-size="11.3" text-anchor="end" font-weight="normal" font-style="normal" fill="#1a1a1a" >300</text>
<line x1="95.7" y1="443.4" x2="95.7" y2="437.4" stroke="#000000" stroke-width="1.2" />
<line x1="201.2" y1="443.4" x2="201.2" y2="437.4" stroke="#000000" stroke-width="1.2" />
<line x1="53.72" y1="443.4" x2="53.72" y2="440.2" stroke="#000000" stroke-width="1.2" />
<line x1="63.94" y1="443.4" x2="63.94" y2="440.2" stroke="#000000" stroke-width="1.2" />
<line x1="72.29" y1="443.4" x2="72.29" y2="440.2" stroke="#000000" stroke-width="1.2" />
<line x1="79.36" y1="443.4" x2="79.36" y2="440.2" stroke="#000000" stroke-width="1.2" />
<line x1="85.48" y1="443.4" x2="85.48" y2="440.2" stroke="#000000" stroke-width="1.2" />
<line x1="90.87" y1="443.4" x2="90.87" y2="440.2" stroke="#000000" stroke-width="1.2" />
<line x1="127.46" y1="443.4" x2="127.46" y2="440.2" stroke="#000000" stroke-width="1.2" />
<line x1="146.04" y1="443.4" x2="146.04" y2="440.2" stroke="#000000" stroke-width="1.2" />
<line x1="159.22" y1="443.4" x2="159.22" y2="440.2" stroke="#000000" stroke-width="1.2" />
<line x1="169.44" y1="443.4" x2="169.44" y2="440.2" stroke="#000000" stroke-width="1.2" />
<line x1="177.79" y1="443.4" x2="177.79" y2="440.2" stroke="#000000" stroke-width="1.2" />
<line x1="184.86" y1="443.4" x2="184.86" y2="440.2" stroke="#000000" stroke-width="1.2" />
<line x1="190.98" y1="443.4" x2="190.98" y2="440.2" stroke="#000000" stroke-width="1.2" />
<line x1="196.37" y1="443.4" x2="196.37" y2="440.2" stroke="#000000" stroke-width="1.2" />
<text x="95.7" y="456.8" font-size="12.4" text-anchor="middle" font-weight="normal" font-style="normal" fill="#1a1a1a" >1E20</text>
<text x="201.2" y="456.8" font-size="12.4" text-anchor="middle" font-weight="normal" font-style="normal" fill="#1a1a1a" >1E21</text>
<text x="130.1" y="472.2" font-size="14.4" font-weight="bold" text-anchor="middle" fill="#1a1a1a"><tspan font-style="italic">n</tspan><tspan dy="3.5" font-size="11">H</tspan><tspan dy="-3.5"> (cm</tspan><tspan dy="-5" font-size="9.6" font-weight="normal">−3</tspan><tspan dy="5">)</tspan></text>
<text x="0.5" y="251.2" font-size="16" font-weight="bold" fill="#000000">d</text>
<text transform="translate(13,350.9) rotate(-90)" font-size="14.6" textLength="68" lengthAdjust="spacingAndGlyphs" font-weight="bold" text-anchor="middle" fill="#1a1a1a"><tspan font-style="italic">S</tspan> (μV·K<tspan dy="-5" font-size="9.6" font-weight="normal">−1</tspan><tspan dy="5">)</tspan></text>
<path d="M40.8,289.2 C45.27,293.23 61.07,307.47 67.6,313.4 C74.13,319.33 72.93,318.82 80,324.8 C87.07,330.78 100,341.08 110,349.3 C120,357.52 131.02,367.23 140,374.1 C148.98,380.97 156.52,385.77 163.9,390.5 C171.28,395.23 178.5,399.3 184.3,402.5 C190.1,405.7 192.82,407.5 198.7,409.7 C204.58,411.9 216.12,414.7 219.6,415.7" fill="none" stroke="#000000" stroke-width="1.5"/>
<path d="M40.8,308.4 C42.97,310.18 47.27,313.4 53.8,319.1 C60.33,324.8 70.63,334.7 80,342.6 C89.37,350.5 100,358.92 110,366.5 C120,374.08 131.02,382.5 140,388.1 C148.98,393.7 155.92,395.8 163.9,400.1 C171.88,404.4 178.62,409.82 187.9,413.9 C197.18,417.98 214.32,422.82 219.6,424.6" fill="none" stroke="#000000" stroke-width="1.5"/>
<text x="70" y="315" font-size="12" fill="#1a1a1a"><tspan font-style="italic">m</tspan>* = 3.1<tspan font-style="italic">m</tspan><tspan dy="2.8" font-size="9">0</tspan></text>
<text x="53" y="379.6" font-size="12" fill="#1a1a1a"><tspan font-style="italic">m</tspan>* = 2.3<tspan font-style="italic">m</tspan><tspan dy="2.8" font-size="9">0</tspan></text>
<circle cx="115.7" cy="371.2" r="3.18" fill="#ea8a3a"/>
<rect x="124.65" y="369.14" width="5.51" height="5.51" fill="#000000"/>
<path d="M129.5,361.7 L133.3,366 L129.5,370.3 L125.7,366 Z" fill="#4484ba"/>
<path d="M129.9,367.17 L133.67,369.91 L132.23,374.33 L127.57,374.33 L126.13,369.91 Z" fill="#d42a20"/>
<rect x="152.76" y="266.06" width="6.09" height="6.09" fill="#000000"/>
<text x="166.9" y="273.2" font-size="11.8" fill="#1a1a1a"><tspan font-style="italic">x</tspan> = 0</text>
<path d="M155.8,279.49 L159.79,284 L155.8,288.51 L151.81,284 Z" fill="#4484ba"/>
<text x="166.9" y="288.1" font-size="11.8" fill="#1a1a1a"><tspan font-style="italic">x</tspan> = 0.005</text>
<path d="M155.8,295.44 L159.39,298.05 L158.02,302.27 L153.58,302.27 L152.21,298.05 Z" fill="#d42a20"/>
<text x="166.9" y="303" font-size="11.8" fill="#1a1a1a"><tspan font-style="italic">x</tspan> = 0.01</text>
<circle cx="155.8" cy="313.8" r="3.52" fill="#ea8a3a"/>
<text x="166.9" y="317.9" font-size="11.8" fill="#1a1a1a"><tspan font-style="italic">x</tspan> = 0.015</text>
<rect x="272.6" y="257.5" width="179.1" height="185.4" fill="none" stroke="#000000" stroke-width="1.2" />
<line x1="272.6" y1="442.9" x2="277.8" y2="442.9" stroke="#000000" stroke-width="1.2" />
<line x1="272.6" y1="414.35" x2="277.8" y2="414.35" stroke="#000000" stroke-width="1.2" />
<line x1="272.6" y1="385.8" x2="277.8" y2="385.8" stroke="#000000" stroke-width="1.2" />
<line x1="272.6" y1="357.25" x2="277.8" y2="357.25" stroke="#000000" stroke-width="1.2" />
<line x1="272.6" y1="328.7" x2="277.8" y2="328.7" stroke="#000000" stroke-width="1.2" />
<line x1="272.6" y1="300.15" x2="277.8" y2="300.15" stroke="#000000" stroke-width="1.2" />
<line x1="272.6" y1="271.6" x2="277.8" y2="271.6" stroke="#000000" stroke-width="1.2" />
<line x1="272.6" y1="428.62" x2="275.2" y2="428.62" stroke="#000000" stroke-width="1.2" />
<line x1="272.6" y1="400.07" x2="275.2" y2="400.07" stroke="#000000" stroke-width="1.2" />
<line x1="272.6" y1="371.52" x2="275.2" y2="371.52" stroke="#000000" stroke-width="1.2" />
<line x1="272.6" y1="342.97" x2="275.2" y2="342.97" stroke="#000000" stroke-width="1.2" />
<line x1="272.6" y1="314.42" x2="275.2" y2="314.42" stroke="#000000" stroke-width="1.2" />
<line x1="272.6" y1="285.88" x2="275.2" y2="285.88" stroke="#000000" stroke-width="1.2" />
<line x1="272.6" y1="257.32" x2="275.2" y2="257.32" stroke="#000000" stroke-width="1.2" />
<text x="268.3" y="446.8" font-size="10.9" text-anchor="end" font-weight="normal" font-style="normal" fill="#1a1a1a" >90</text>
<text x="268.3" y="418.25" font-size="10.9" text-anchor="end" font-weight="normal" font-style="normal" fill="#1a1a1a" >105</text>
<text x="268.3" y="389.7" font-size="10.9" text-anchor="end" font-weight="normal" font-style="normal" fill="#1a1a1a" >120</text>
<text x="268.3" y="361.15" font-size="10.9" text-anchor="end" font-weight="normal" font-style="normal" fill="#1a1a1a" >135</text>
<text x="268.3" y="332.6" font-size="10.9" text-anchor="end" font-weight="normal" font-style="normal" fill="#1a1a1a" >150</text>
<text x="268.3" y="304.05" font-size="10.9" text-anchor="end" font-weight="normal" font-style="normal" fill="#1a1a1a" >165</text>
<text x="268.3" y="275.5" font-size="10.9" text-anchor="end" font-weight="normal" font-style="normal" fill="#1a1a1a" >180</text>
<line x1="287.3" y1="442.9" x2="287.3" y2="437.7" stroke="#000000" stroke-width="1.2" />
<line x1="317.15" y1="442.9" x2="317.15" y2="437.7" stroke="#000000" stroke-width="1.2" />
<line x1="347" y1="442.9" x2="347" y2="437.7" stroke="#000000" stroke-width="1.2" />
<line x1="376.85" y1="442.9" x2="376.85" y2="437.7" stroke="#000000" stroke-width="1.2" />
<line x1="406.7" y1="442.9" x2="406.7" y2="437.7" stroke="#000000" stroke-width="1.2" />
<line x1="436.55" y1="442.9" x2="436.55" y2="437.7" stroke="#000000" stroke-width="1.2" />
<line x1="302.23" y1="442.9" x2="302.23" y2="440.3" stroke="#000000" stroke-width="1.2" />
<line x1="332.07" y1="442.9" x2="332.07" y2="440.3" stroke="#000000" stroke-width="1.2" />
<line x1="361.93" y1="442.9" x2="361.93" y2="440.3" stroke="#000000" stroke-width="1.2" />
<line x1="391.77" y1="442.9" x2="391.77" y2="440.3" stroke="#000000" stroke-width="1.2" />
<line x1="421.62" y1="442.9" x2="421.62" y2="440.3" stroke="#000000" stroke-width="1.2" />
<text x="287.3" y="457.7" font-size="10.9" text-anchor="middle" font-weight="normal" font-style="normal" fill="#1a1a1a" >300</text>
<text x="317.15" y="457.7" font-size="10.9" text-anchor="middle" font-weight="normal" font-style="normal" fill="#1a1a1a" >400</text>
<text x="347" y="457.7" font-size="10.9" text-anchor="middle" font-weight="normal" font-style="normal" fill="#1a1a1a" >500</text>
<text x="376.85" y="457.7" font-size="10.9" text-anchor="middle" font-weight="normal" font-style="normal" fill="#1a1a1a" >600</text>
<text x="406.7" y="457.7" font-size="10.9" text-anchor="middle" font-weight="normal" font-style="normal" fill="#1a1a1a" >700</text>
<text x="436.55" y="457.7" font-size="10.9" text-anchor="middle" font-weight="normal" font-style="normal" fill="#1a1a1a" >800</text>
<text x="362.9" y="474.2" font-size="13.8" font-weight="bold" text-anchor="middle" textLength="29.6" lengthAdjust="spacingAndGlyphs" fill="#1a1a1a"><tspan font-style="italic">T</tspan> (K)</text>
<text x="232.6" y="251.4" font-size="16" font-weight="bold" fill="#000000">e</text>
<text transform="translate(245.6,349.25) rotate(-90)" font-size="14" textLength="101.5" lengthAdjust="spacingAndGlyphs" font-weight="bold" text-anchor="middle" fill="#1a1a1a"><tspan font-style="italic">μ</tspan><tspan dy="3" font-size="9" font-style="italic">w</tspan><tspan dy="-3" font-style="italic"> (</tspan>cm<tspan dy="-5" font-size="9.6" font-weight="normal">2</tspan><tspan dy="5">·V</tspan><tspan dy="-5" font-size="9.6" font-weight="normal">−1</tspan><tspan dy="5">·s</tspan><tspan dy="-5" font-size="9.6" font-weight="normal">−1</tspan><tspan dy="5">)</tspan></text>
<path d="M286.8,337 C287.94,337.05 290.03,336.92 293.67,337.3 C297.3,337.68 303.62,337.08 308.59,339.3 C313.57,341.52 318.54,346.58 323.52,350.6 C328.49,354.62 334.66,360.3 338.44,363.4 C342.22,366.5 343.74,367.77 346.2,369.2 C348.66,370.63 350.63,371.42 353.2,372 C355.77,372.58 359.27,372.93 361.6,372.7 C363.93,372.47 365.33,372.12 367.2,370.6 C369.07,369.08 370.93,366.17 372.8,363.6 C374.67,361.03 376.53,357.42 378.4,355.2 C380.27,352.98 382.02,350.53 384,350.3 C385.98,350.07 388.2,351.82 390.3,353.8 C392.4,355.78 394.38,358.93 396.6,362.2 C398.82,365.47 401.27,369.67 403.6,373.4 C405.93,377.13 406.53,378.88 410.6,384.6 C414.67,390.32 425.09,403.85 427.99,407.7" fill="none" stroke="#000000" stroke-width="1.3" stroke-linejoin="round"/>
<rect x="283.9" y="334.1" width="5.8" height="5.8" fill="#000000"/>
<rect x="290.77" y="334.4" width="5.8" height="5.8" fill="#000000"/>
<rect x="305.69" y="336.4" width="5.8" height="5.8" fill="#000000"/>
<rect x="320.62" y="347.7" width="5.8" height="5.8" fill="#000000"/>
<rect x="335.54" y="360.5" width="5.8" height="5.8" fill="#000000"/>
<rect x="350.47" y="369.6" width="5.8" height="5.8" fill="#000000"/>
<rect x="365.39" y="373.2" width="5.8" height="5.8" fill="#000000"/>
<rect x="380.32" y="339.4" width="5.8" height="5.8" fill="#000000"/>
<rect x="395.24" y="360" width="5.8" height="5.8" fill="#000000"/>
<rect x="410.17" y="387.6" width="5.8" height="5.8" fill="#000000"/>
<rect x="425.09" y="404.8" width="5.8" height="5.8" fill="#000000"/>
<path d="M286.8,281.8 C287.94,286.28 290.03,301.57 293.67,308.7 C297.3,315.83 303.62,319.58 308.59,324.6 C313.57,329.62 318.54,331.88 323.52,338.8 C328.49,345.72 334.66,360.68 338.44,366.1 C342.22,371.52 343.62,369.85 346.2,371.3 C348.78,372.75 351.1,373.87 353.9,374.8 C356.7,375.73 360.55,376.9 363,376.9 C365.45,376.9 366.73,376.32 368.6,374.8 C370.47,373.28 372.33,370.13 374.2,367.8 C376.07,365.47 377.93,362.43 379.8,360.8 C381.67,359.17 383.53,358.12 385.4,358 C387.27,357.88 389.13,358.7 391,360.1 C392.87,361.5 394.5,363.48 396.6,366.4 C398.7,369.32 401.27,373.4 403.6,377.6 C405.93,381.8 406.53,384.55 410.6,391.6 C414.67,398.65 425.09,415.18 427.99,419.9" fill="none" stroke="#4484ba" stroke-width="1.3" stroke-linejoin="round"/>
<path d="M286.8,277.5 L290.6,281.8 L286.8,286.1 L283,281.8 Z" fill="#4484ba"/>
<path d="M293.67,304.4 L297.47,308.7 L293.67,313 L289.87,308.7 Z" fill="#4484ba"/>
<path d="M308.59,320.3 L312.39,324.6 L308.59,328.9 L304.79,324.6 Z" fill="#4484ba"/>
<path d="M323.52,334.5 L327.32,338.8 L323.52,343.1 L319.72,338.8 Z" fill="#4484ba"/>
<path d="M338.44,361.8 L342.24,366.1 L338.44,370.4 L334.64,366.1 Z" fill="#4484ba"/>
<path d="M353.37,370.5 L357.17,374.8 L353.37,379.1 L349.57,374.8 Z" fill="#4484ba"/>
<path d="M368.29,373.7 L372.09,378 L368.29,382.3 L364.49,378 Z" fill="#4484ba"/>
<path d="M383.22,345.8 L387.02,350.1 L383.22,354.4 L379.42,350.1 Z" fill="#4484ba"/>
<path d="M398.14,364 L401.94,368.3 L398.14,372.6 L394.34,368.3 Z" fill="#4484ba"/>
<path d="M413.07,397.4 L416.87,401.7 L413.07,406 L409.27,401.7 Z" fill="#4484ba"/>
<path d="M427.99,415.6 L431.79,419.9 L427.99,424.2 L424.19,419.9 Z" fill="#4484ba"/>
<path d="M286.8,276.8 C287.94,280.53 290.03,293.48 293.67,299.2 C297.3,304.92 303.62,307.23 308.59,311.1 C313.57,314.97 318.54,317.93 323.52,322.4 C328.49,326.87 334.66,333.72 338.44,337.9 C342.22,342.08 343.74,345.2 346.2,347.5 C348.66,349.8 351.1,350.88 353.2,351.7 C355.3,352.52 356.93,352.63 358.8,352.4 C360.67,352.17 362.65,351.93 364.4,350.3 C366.15,348.67 367.67,345.98 369.3,342.6 C370.93,339.22 372.45,333.85 374.2,330 C375.95,326.15 377.93,321.72 379.8,319.5 C381.67,317.28 383.53,316.58 385.4,316.7 C387.27,316.82 389.13,317.98 391,320.2 C392.87,322.42 395.41,327.6 396.6,330 C397.79,332.4 395.4,327.45 398.14,334.6 C400.88,341.75 408.09,361.78 413.07,372.9 C418.04,384.02 425.5,396.57 427.99,401.3" fill="none" stroke="#c7343b" stroke-width="1.3" stroke-linejoin="round"/>
<path d="M286.8,273.5 L290.22,275.99 L288.92,280.01 L284.68,280.01 L283.38,275.99 Z" fill="#c7343b"/>
<path d="M293.67,295.9 L297.09,298.39 L295.78,302.41 L291.55,302.41 L290.24,298.39 Z" fill="#c7343b"/>
<path d="M308.59,307.8 L312.01,310.29 L310.71,314.31 L306.47,314.31 L305.17,310.29 Z" fill="#c7343b"/>
<path d="M323.52,319.1 L326.94,321.59 L325.63,325.61 L321.4,325.61 L320.09,321.59 Z" fill="#c7343b"/>
<path d="M338.44,334.6 L341.86,337.09 L340.56,341.11 L336.32,341.11 L335.02,337.09 Z" fill="#c7343b"/>
<path d="M353.37,352.2 L356.79,354.69 L355.48,358.71 L351.25,358.71 L349.94,354.69 Z" fill="#c7343b"/>
<path d="M368.29,347.7 L371.71,350.19 L370.41,354.21 L366.17,354.21 L364.87,350.19 Z" fill="#c7343b"/>
<path d="M383.22,300.9 L386.64,303.39 L385.33,307.41 L381.1,307.41 L379.79,303.39 Z" fill="#c7343b"/>
<path d="M398.14,331.3 L401.56,333.79 L400.26,337.81 L396.02,337.81 L394.72,333.79 Z" fill="#c7343b"/>
<path d="M413.07,369.6 L416.49,372.09 L415.18,376.11 L410.95,376.11 L409.64,372.09 Z" fill="#c7343b"/>
<path d="M427.99,398 L431.41,400.49 L430.11,404.51 L425.87,404.51 L424.57,400.49 Z" fill="#c7343b"/>
<path d="M286.8,301.8 C287.94,307.3 290.03,326.97 293.67,334.8 C297.3,342.63 303.62,344.03 308.59,348.8 C313.57,353.57 318.54,358.3 323.52,363.4 C328.49,368.5 334.66,375.87 338.44,379.4 C342.22,382.93 343.51,383.15 346.2,384.6 C348.89,386.05 351.8,387.87 354.6,388.1 C357.4,388.33 360.78,387.05 363,386 C365.22,384.95 366.27,385.3 367.9,381.8 C369.53,378.3 371.05,370.37 372.8,365 C374.55,359.63 376.53,353.57 378.4,349.6 C380.27,345.63 382.13,342.37 384,341.2 C385.87,340.03 387.73,340.97 389.6,342.6 C391.47,344.23 393.68,347.97 395.2,351 C396.72,354.03 397.07,356.83 398.7,360.8 C400.33,364.77 402.67,369.67 405,374.8 C407.33,379.93 408.87,383.78 412.7,391.6 C416.53,399.42 425.44,416.68 427.99,421.7" fill="none" stroke="#eb8228" stroke-width="1.3" stroke-linejoin="round"/>
<circle cx="286.8" cy="301.8" r="3.35" fill="#eb8228"/>
<circle cx="293.67" cy="334.8" r="3.35" fill="#eb8228"/>
<circle cx="308.59" cy="348.8" r="3.35" fill="#eb8228"/>
<circle cx="323.52" cy="363.4" r="3.35" fill="#eb8228"/>
<circle cx="338.44" cy="379.4" r="3.35" fill="#eb8228"/>
<circle cx="353.37" cy="392.5" r="3.35" fill="#eb8228"/>
<circle cx="368.29" cy="382.9" r="3.35" fill="#eb8228"/>
<circle cx="383.22" cy="325.5" r="3.35" fill="#eb8228"/>
<circle cx="398.14" cy="361.4" r="3.35" fill="#eb8228"/>
<circle cx="413.07" cy="393.3" r="3.35" fill="#eb8228"/>
<circle cx="427.99" cy="421.7" r="3.35" fill="#eb8228"/>
<defs>
<filter id="elf" x="0" y="0" width="1" height="1" color-interpolation-filters="sRGB">
<feGaussianBlur stdDeviation="1.1"/>
<feComponentTransfer><feFuncR type="table" tableValues="0.078 0.095 0.115 0.151 0.191 0.244 0.306 0.382 0.447 0.447 0.409 0.371 0.334 0.298 0.280 0.296 0.312 0.383 0.462 0.553 0.662 0.767 0.862 0.919 0.913 0.915 0.926 0.939 0.958 0.975 0.987 1.000"/><feFuncG type="table" tableValues="0.000 0.063 0.135 0.262 0.388 0.515 0.657 0.822 0.953 0.995 0.988 0.983 0.976 0.967 0.962 0.967 0.972 0.973 0.973 0.970 0.965 0.958 0.948 0.914 0.840 0.753 0.654 0.545 0.419 0.299 0.212 0.125"/><feFuncB type="table" tableValues="1.000 1.000 1.000 1.000 1.000 1.000 1.000 1.000 1.000 0.912 0.772 0.620 0.472 0.328 0.213 0.149 0.086 0.092 0.108 0.128 0.156 0.184 0.215 0.227 0.206 0.189 0.174 0.156 0.131 0.106 0.084 0.063"/><feFuncA type="identity"/></feComponentTransfer>
</filter>
<radialGradient id="gb1"><stop offset="0" stop-color="rgb(96,96,96)"/><stop offset="0.22" stop-color="rgb(86,86,86)"/><stop offset="0.45" stop-color="rgb(73,73,73)"/><stop offset="0.62" stop-color="rgb(65,65,65)"/><stop offset="0.8" stop-color="rgb(38,38,38)"/><stop offset="1" stop-color="rgb(0,0,0)"/></radialGradient>
<radialGradient id="gb2"><stop offset="0" stop-color="rgb(48,48,48)"/><stop offset="0.55" stop-color="rgb(40,40,40)"/><stop offset="0.8" stop-color="rgb(22,22,22)"/><stop offset="1" stop-color="rgb(0,0,0)"/></radialGradient>
<radialGradient id="gb3"><stop offset="0" stop-color="rgb(158,158,158)"/><stop offset="0.35" stop-color="rgb(127,127,127)"/><stop offset="0.7" stop-color="rgb(81,81,81)"/><stop offset="0.85" stop-color="rgb(51,51,51)"/><stop offset="1" stop-color="rgb(0,0,0)"/></radialGradient>
<radialGradient id="gb4"><stop offset="0" stop-color="rgb(96,96,96)"/><stop offset="0.5" stop-color="rgb(81,81,81)"/><stop offset="0.8" stop-color="rgb(51,51,51)"/><stop offset="1" stop-color="rgb(0,0,0)"/></radialGradient>
<radialGradient id="gb5"><stop offset="0" stop-color="rgb(38,38,38)"/><stop offset="0.6" stop-color="rgb(30,30,30)"/><stop offset="1" stop-color="rgb(0,0,0)"/></radialGradient>
<clipPath id="hmclip"><rect x="504" y="266" width="181" height="181.2"/></clipPath>
<linearGradient id="cbar" x1="0" y1="0" x2="0" y2="1"><stop offset="0.000" stop-color="rgb(255,32,16)"/><stop offset="0.070" stop-color="rgb(248,80,28)"/><stop offset="0.140" stop-color="rgb(238,150,42)"/><stop offset="0.210" stop-color="rgb(232,205,50)"/><stop offset="0.270" stop-color="rgb(235,240,60)"/><stop offset="0.330" stop-color="rgb(190,245,45)"/><stop offset="0.400" stop-color="rgb(130,248,30)"/><stop offset="0.480" stop-color="rgb(80,248,20)"/><stop offset="0.560" stop-color="rgb(70,245,60)"/><stop offset="0.630" stop-color="rgb(90,250,140)"/><stop offset="0.680" stop-color="rgb(105,252,200)"/><stop offset="0.730" stop-color="rgb(120,255,255)"/><stop offset="0.770" stop-color="rgb(100,215,255)"/><stop offset="0.820" stop-color="rgb(70,150,255)"/><stop offset="0.880" stop-color="rgb(45,90,255)"/><stop offset="0.940" stop-color="rgb(28,30,255)"/><stop offset="1.000" stop-color="rgb(20,0,255)"/></linearGradient>
</defs>
<rect x="465.2" y="259.2" width="11.8" height="195.8" fill="url(#cbar)" stroke="#555" stroke-width="0.5"/>
<line x1="477" y1="259.2" x2="480.2" y2="259.2" stroke="#333" stroke-width="1" />
<text x="481.8" y="263" font-size="10.6" text-anchor="start" font-weight="normal" font-style="normal" fill="#1a1a1a" >0.21</text>
<line x1="477" y1="278.78" x2="480.6" y2="278.78" stroke="#666" stroke-width="1" />
<line x1="477" y1="298.36" x2="480.2" y2="298.36" stroke="#333" stroke-width="1" />
<text x="481.8" y="302.16" font-size="10.6" text-anchor="start" font-weight="normal" font-style="normal" fill="#1a1a1a" >0.17</text>
<line x1="477" y1="317.94" x2="480.6" y2="317.94" stroke="#666" stroke-width="1" />
<line x1="477" y1="337.52" x2="480.2" y2="337.52" stroke="#333" stroke-width="1" />
<text x="481.8" y="341.32" font-size="10.6" text-anchor="start" font-weight="normal" font-style="normal" fill="#1a1a1a" >0.13</text>
<line x1="477" y1="357.1" x2="480.6" y2="357.1" stroke="#666" stroke-width="1" />
<line x1="477" y1="376.68" x2="480.2" y2="376.68" stroke="#333" stroke-width="1" />
<text x="481.8" y="380.48" font-size="10.6" text-anchor="start" font-weight="normal" font-style="normal" fill="#1a1a1a" >0.08</text>
<line x1="477" y1="396.26" x2="480.6" y2="396.26" stroke="#666" stroke-width="1" />
<line x1="477" y1="415.84" x2="480.2" y2="415.84" stroke="#333" stroke-width="1" />
<text x="481.8" y="419.64" font-size="10.6" text-anchor="start" font-weight="normal" font-style="normal" fill="#1a1a1a" >0.04</text>
<line x1="477" y1="435.42" x2="480.6" y2="435.42" stroke="#666" stroke-width="1" />
<line x1="477" y1="455" x2="480.2" y2="455" stroke="#333" stroke-width="1" />
<text x="481.8" y="458.8" font-size="10.6" text-anchor="start" font-weight="normal" font-style="normal" fill="#1a1a1a" >0</text>
<text x="464.5" y="251.1" font-size="16" font-weight="bold" fill="#000000">f</text>
<g clip-path="url(#hmclip)"><g filter="url(#elf)">
<rect x="500" y="262" width="190" height="190" fill="#000"/>
<ellipse cx="594" cy="265.6" rx="30" ry="8" fill="url(#gb5)" transform="rotate(0 594 265.6)"/>
<ellipse cx="503" cy="356.6" rx="8" ry="30" fill="url(#gb5)" transform="rotate(0 503 356.6)"/>
<ellipse cx="594" cy="447.6" rx="30" ry="8" fill="url(#gb5)" transform="rotate(0 594 447.6)"/>
<ellipse cx="685" cy="356.6" rx="8" ry="30" fill="url(#gb5)" transform="rotate(0 685 356.6)"/>
<ellipse cx="560.5" cy="279.1" rx="12.6" ry="11" fill="url(#gb1)" transform="rotate(-35 560.5 279.1)"/>
<ellipse cx="516.5" cy="323.1" rx="11" ry="12.6" fill="url(#gb1)" transform="rotate(-35 516.5 323.1)"/>
<ellipse cx="539.7" cy="271.8" rx="7" ry="6" fill="url(#gb2)" transform="rotate(0 539.7 271.8)"/>
<ellipse cx="509.2" cy="302.3" rx="6" ry="7" fill="url(#gb2)" transform="rotate(0 509.2 302.3)"/>
<ellipse cx="503.5" cy="265.6" rx="9.5" ry="9.5" fill="url(#gb2)" transform="rotate(0 503.5 265.6)"/>
<ellipse cx="581.8" cy="265.8" rx="7.2" ry="6.8" fill="url(#gb3)" transform="rotate(0 581.8 265.8)"/>
<ellipse cx="503.6" cy="344.4" rx="6.8" ry="7.2" fill="url(#gb3)" transform="rotate(0 503.6 344.4)"/>
<ellipse cx="543.4" cy="306" rx="4.4" ry="2.9" fill="url(#gb4)" transform="rotate(45 543.4 306)"/>
<ellipse cx="560.5" cy="434.1" rx="12.6" ry="11" fill="url(#gb1)" transform="rotate(35 560.5 434.1)"/>
<ellipse cx="516.5" cy="390.1" rx="11" ry="12.6" fill="url(#gb1)" transform="rotate(35 516.5 390.1)"/>
<ellipse cx="539.7" cy="441.4" rx="7" ry="6" fill="url(#gb2)" transform="rotate(0 539.7 441.4)"/>
<ellipse cx="509.2" cy="410.9" rx="6" ry="7" fill="url(#gb2)" transform="rotate(0 509.2 410.9)"/>
<ellipse cx="503.5" cy="447.6" rx="9.5" ry="9.5" fill="url(#gb2)" transform="rotate(0 503.5 447.6)"/>
<ellipse cx="581.8" cy="447.4" rx="7.2" ry="6.8" fill="url(#gb3)" transform="rotate(0 581.8 447.4)"/>
<ellipse cx="503.6" cy="368.8" rx="6.8" ry="7.2" fill="url(#gb3)" transform="rotate(0 503.6 368.8)"/>
<ellipse cx="543.4" cy="407.2" rx="4.4" ry="2.9" fill="url(#gb4)" transform="rotate(-45 543.4 407.2)"/>
<ellipse cx="627.5" cy="279.1" rx="12.6" ry="11" fill="url(#gb1)" transform="rotate(35 627.5 279.1)"/>
<ellipse cx="671.5" cy="323.1" rx="11" ry="12.6" fill="url(#gb1)" transform="rotate(35 671.5 323.1)"/>
<ellipse cx="648.3" cy="271.8" rx="7" ry="6" fill="url(#gb2)" transform="rotate(0 648.3 271.8)"/>
<ellipse cx="678.8" cy="302.3" rx="6" ry="7" fill="url(#gb2)" transform="rotate(0 678.8 302.3)"/>
<ellipse cx="684.5" cy="265.6" rx="9.5" ry="9.5" fill="url(#gb2)" transform="rotate(0 684.5 265.6)"/>
<ellipse cx="606.2" cy="265.8" rx="7.2" ry="6.8" fill="url(#gb3)" transform="rotate(0 606.2 265.8)"/>
<ellipse cx="684.4" cy="344.4" rx="6.8" ry="7.2" fill="url(#gb3)" transform="rotate(0 684.4 344.4)"/>
<ellipse cx="644.6" cy="306" rx="4.4" ry="2.9" fill="url(#gb4)" transform="rotate(-45 644.6 306)"/>
<ellipse cx="627.5" cy="434.1" rx="12.6" ry="11" fill="url(#gb1)" transform="rotate(-35 627.5 434.1)"/>
<ellipse cx="671.5" cy="390.1" rx="11" ry="12.6" fill="url(#gb1)" transform="rotate(-35 671.5 390.1)"/>
<ellipse cx="648.3" cy="441.4" rx="7" ry="6" fill="url(#gb2)" transform="rotate(0 648.3 441.4)"/>
<ellipse cx="678.8" cy="410.9" rx="6" ry="7" fill="url(#gb2)" transform="rotate(0 678.8 410.9)"/>
<ellipse cx="684.5" cy="447.6" rx="9.5" ry="9.5" fill="url(#gb2)" transform="rotate(0 684.5 447.6)"/>
<ellipse cx="606.2" cy="447.4" rx="7.2" ry="6.8" fill="url(#gb3)" transform="rotate(0 606.2 447.4)"/>
<ellipse cx="684.4" cy="368.8" rx="6.8" ry="7.2" fill="url(#gb3)" transform="rotate(0 684.4 368.8)"/>
<ellipse cx="644.6" cy="407.2" rx="4.4" ry="2.9" fill="url(#gb4)" transform="rotate(45 644.6 407.2)"/>
<ellipse cx="594" cy="269.1" rx="4.6" ry="3" fill="url(#gb4)" transform="rotate(0 594 269.1)"/>
<ellipse cx="506.5" cy="356.6" rx="3" ry="4.6" fill="url(#gb4)" transform="rotate(0 506.5 356.6)"/>
<ellipse cx="594" cy="444.1" rx="4.6" ry="3" fill="url(#gb4)" transform="rotate(0 594 444.1)"/>
<ellipse cx="681.5" cy="356.6" rx="3" ry="4.6" fill="url(#gb4)" transform="rotate(0 681.5 356.6)"/>
<path d="M594,298.7 C591.33,298.7 588.17,298.77 586,299.1 C583.83,299.43 582.38,299.85 581,300.7 C579.62,301.55 578.57,302.87 577.7,304.2 C576.83,305.53 576.55,307.45 575.8,308.7 C575.05,309.95 574.25,310.98 573.2,311.7 C572.15,312.42 570.75,312.78 569.5,313 C568.25,313.22 567.03,312.93 565.7,313 C564.37,313.07 562.95,313.47 561.5,313.4 C560.05,313.33 558.55,312.37 557,312.6 C555.45,312.83 553.37,313.63 552.2,314.8 C551.03,315.97 550.23,318.05 550,319.6 C549.77,321.15 550.73,322.65 550.8,324.1 C550.87,325.55 550.47,326.97 550.4,328.3 C550.33,329.63 550.62,330.85 550.4,332.1 C550.18,333.35 549.82,334.75 549.1,335.8 C548.38,336.85 547.35,337.65 546.1,338.4 C544.85,339.15 542.93,339.43 541.6,340.3 C540.27,341.17 538.95,342.22 538.1,343.6 C537.25,344.98 536.83,346.43 536.5,348.6 C536.17,350.77 536.1,353.93 536.1,356.6 C536.1,359.27 536.17,362.43 536.5,364.6 C536.83,366.77 537.25,368.22 538.1,369.6 C538.95,370.98 540.27,372.03 541.6,372.9 C542.93,373.77 544.85,374.05 546.1,374.8 C547.35,375.55 548.38,376.35 549.1,377.4 C549.82,378.45 550.18,379.85 550.4,381.1 C550.62,382.35 550.33,383.57 550.4,384.9 C550.47,386.23 550.87,387.65 550.8,389.1 C550.73,390.55 549.77,392.05 550,393.6 C550.23,395.15 551.03,397.23 552.2,398.4 C553.37,399.57 555.45,400.37 557,400.6 C558.55,400.83 560.05,399.87 561.5,399.8 C562.95,399.73 564.37,400.13 565.7,400.2 C567.03,400.27 568.25,399.98 569.5,400.2 C570.75,400.42 572.15,400.78 573.2,401.5 C574.25,402.22 575.05,403.25 575.8,404.5 C576.55,405.75 576.83,407.67 577.7,409 C578.57,410.33 579.62,411.65 581,412.5 C582.38,413.35 583.83,413.77 586,414.1 C588.17,414.43 591.33,414.5 594,414.5 C596.67,414.5 599.83,414.43 602,414.1 C604.17,413.77 605.62,413.35 607,412.5 C608.38,411.65 609.43,410.33 610.3,409 C611.17,407.67 611.45,405.75 612.2,404.5 C612.95,403.25 613.75,402.22 614.8,401.5 C615.85,400.78 617.25,400.42 618.5,400.2 C619.75,399.98 620.97,400.27 622.3,400.2 C623.63,400.13 625.05,399.73 626.5,399.8 C627.95,399.87 629.45,400.83 631,400.6 C632.55,400.37 634.63,399.57 635.8,398.4 C636.97,397.23 637.77,395.15 638,393.6 C638.23,392.05 637.27,390.55 637.2,389.1 C637.13,387.65 637.53,386.23 637.6,384.9 C637.67,383.57 637.38,382.35 637.6,381.1 C637.82,379.85 638.18,378.45 638.9,377.4 C639.62,376.35 640.65,375.55 641.9,374.8 C643.15,374.05 645.07,373.77 646.4,372.9 C647.73,372.03 649.05,370.98 649.9,369.6 C650.75,368.22 651.17,366.77 651.5,364.6 C651.83,362.43 651.9,359.27 651.9,356.6 C651.9,353.93 651.83,350.77 651.5,348.6 C651.17,346.43 650.75,344.98 649.9,343.6 C649.05,342.22 647.73,341.17 646.4,340.3 C645.07,339.43 643.15,339.15 641.9,338.4 C640.65,337.65 639.62,336.85 638.9,335.8 C638.18,334.75 637.82,333.35 637.6,332.1 C637.38,330.85 637.67,329.63 637.6,328.3 C637.53,326.97 637.13,325.55 637.2,324.1 C637.27,322.65 638.23,321.15 638,319.6 C637.77,318.05 636.97,315.97 635.8,314.8 C634.63,313.63 632.55,312.83 631,312.6 C629.45,312.37 627.95,313.33 626.5,313.4 C625.05,313.47 623.63,313.07 622.3,313 C620.97,312.93 619.75,313.22 618.5,313 C617.25,312.78 615.85,312.42 614.8,311.7 C613.75,310.98 612.95,309.95 612.2,308.7 C611.45,307.45 611.17,305.53 610.3,304.2 C609.43,302.87 608.38,301.55 607,300.7 C605.62,299.85 604.17,299.43 602,299.1 C599.83,298.77 596.67,298.7 594,298.7 Z" fill="rgb(128,128,128)"/>
<path d="M560.03,395.4 C559.55,396.23 558.03,398.71 557.18,400.4 C556.33,402.08 555.59,403.91 554.95,405.52 C554.31,407.13 553.72,408.73 553.33,410.05 C552.93,411.36 552.35,412.72 552.57,413.41 C552.79,414.1 554.01,414.56 554.63,414.19 C555.25,413.81 555.6,412.3 556.27,411.15 C556.94,410 557.76,408.67 558.65,407.28 C559.54,405.89 560.57,404.22 561.62,402.8 C562.67,401.39 565.24,400.04 564.97,398.8 C564.71,397.57 560.85,395.97 560.03,395.4" fill="rgb(120,120,120)" stroke="rgb(120,120,120)" stroke-width="1" stroke-linejoin="round"/>
<circle cx="553.6" cy="413.8" r="1.3" fill="rgb(102,102,102)"/>
<path d="M551.8,385.63 C551.13,386.19 549.21,387.93 547.8,388.98 C546.38,390.03 544.71,391.06 543.32,391.95 C541.93,392.84 540.6,393.66 539.45,394.33 C538.3,395 536.79,395.35 536.41,395.97 C536.04,396.59 536.5,397.81 537.19,398.03 C537.88,398.25 539.24,397.67 540.55,397.27 C541.87,396.88 543.47,396.29 545.08,395.65 C546.69,395.01 548.52,394.27 550.2,393.42 C551.89,392.57 554.94,391.87 555.2,390.57 C555.47,389.27 552.37,386.45 551.8,385.63" fill="rgb(120,120,120)" stroke="rgb(120,120,120)" stroke-width="1" stroke-linejoin="round"/>
<circle cx="536.8" cy="397" r="1.3" fill="rgb(102,102,102)"/>
<path d="M564.97,314.4 C564.41,313.73 562.67,311.81 561.62,310.4 C560.57,308.98 559.54,307.31 558.65,305.92 C557.76,304.53 556.94,303.2 556.27,302.05 C555.6,300.9 555.25,299.39 554.63,299.01 C554.01,298.64 552.79,299.1 552.57,299.79 C552.35,300.48 552.93,301.84 553.33,303.15 C553.72,304.47 554.31,306.07 554.95,307.68 C555.59,309.29 556.33,311.12 557.18,312.8 C558.03,314.49 558.73,317.54 560.03,317.8 C561.33,318.07 564.15,314.97 564.97,314.4" fill="rgb(120,120,120)" stroke="rgb(120,120,120)" stroke-width="1" stroke-linejoin="round"/>
<circle cx="553.6" cy="299.4" r="1.3" fill="rgb(102,102,102)"/>
<path d="M555.2,322.63 C554.37,322.15 551.89,320.63 550.2,319.78 C548.52,318.93 546.69,318.19 545.08,317.55 C543.47,316.91 541.87,316.32 540.55,315.93 C539.24,315.53 537.88,314.95 537.19,315.17 C536.5,315.39 536.04,316.61 536.41,317.23 C536.79,317.85 538.3,318.2 539.45,318.87 C540.6,319.54 541.93,320.36 543.32,321.25 C544.71,322.14 546.38,323.17 547.8,324.22 C549.21,325.27 550.56,327.84 551.8,327.57 C553.03,327.31 554.63,323.45 555.2,322.63" fill="rgb(120,120,120)" stroke="rgb(120,120,120)" stroke-width="1" stroke-linejoin="round"/>
<circle cx="536.8" cy="316.2" r="1.3" fill="rgb(102,102,102)"/>
<path d="M623.03,398.8 C623.59,399.47 625.33,401.39 626.38,402.8 C627.43,404.22 628.46,405.89 629.35,407.28 C630.24,408.67 631.06,410 631.73,411.15 C632.4,412.3 632.75,413.81 633.37,414.19 C633.99,414.56 635.21,414.1 635.43,413.41 C635.65,412.72 635.07,411.36 634.67,410.05 C634.28,408.73 633.69,407.13 633.05,405.52 C632.41,403.91 631.67,402.08 630.82,400.4 C629.97,398.71 629.27,395.66 627.97,395.4 C626.67,395.13 623.85,398.23 623.03,398.8" fill="rgb(120,120,120)" stroke="rgb(120,120,120)" stroke-width="1" stroke-linejoin="round"/>
<circle cx="634.4" cy="413.8" r="1.3" fill="rgb(102,102,102)"/>
<path d="M632.8,390.57 C633.63,391.05 636.11,392.57 637.8,393.42 C639.48,394.27 641.31,395.01 642.92,395.65 C644.53,396.29 646.13,396.88 647.45,397.27 C648.76,397.67 650.12,398.25 650.81,398.03 C651.5,397.81 651.96,396.59 651.59,395.97 C651.21,395.35 649.7,395 648.55,394.33 C647.4,393.66 646.07,392.84 644.68,391.95 C643.29,391.06 641.62,390.03 640.2,388.98 C638.79,387.93 637.44,385.36 636.2,385.63 C634.97,385.89 633.37,389.75 632.8,390.57" fill="rgb(120,120,120)" stroke="rgb(120,120,120)" stroke-width="1" stroke-linejoin="round"/>
<circle cx="651.2" cy="397" r="1.3" fill="rgb(102,102,102)"/>
<path d="M627.97,317.8 C628.45,316.97 629.97,314.49 630.82,312.8 C631.67,311.12 632.41,309.29 633.05,307.68 C633.69,306.07 634.28,304.47 634.67,303.15 C635.07,301.84 635.65,300.48 635.43,299.79 C635.21,299.1 633.99,298.64 633.37,299.01 C632.75,299.39 632.4,300.9 631.73,302.05 C631.06,303.2 630.24,304.53 629.35,305.92 C628.46,307.31 627.43,308.98 626.38,310.4 C625.33,311.81 622.76,313.16 623.03,314.4 C623.29,315.63 627.15,317.23 627.97,317.8" fill="rgb(120,120,120)" stroke="rgb(120,120,120)" stroke-width="1" stroke-linejoin="round"/>
<circle cx="634.4" cy="299.4" r="1.3" fill="rgb(102,102,102)"/>
<path d="M636.2,327.57 C636.87,327.01 638.79,325.27 640.2,324.22 C641.62,323.17 643.29,322.14 644.68,321.25 C646.07,320.36 647.4,319.54 648.55,318.87 C649.7,318.2 651.21,317.85 651.59,317.23 C651.96,316.61 651.5,315.39 650.81,315.17 C650.12,314.95 648.76,315.53 647.45,315.93 C646.13,316.32 644.53,316.91 642.92,317.55 C641.31,318.19 639.48,318.93 637.8,319.78 C636.11,320.63 633.06,321.33 632.8,322.63 C632.53,323.93 635.63,326.75 636.2,327.57" fill="rgb(120,120,120)" stroke="rgb(120,120,120)" stroke-width="1" stroke-linejoin="round"/>
<circle cx="651.2" cy="316.2" r="1.3" fill="rgb(102,102,102)"/>
<path d="M594,302.6 C589.67,302.6 583.58,302.43 581,303.6 C578.42,304.77 579.25,307.77 578.5,309.6 C577.75,311.43 577.5,313.43 576.5,314.6 C575.5,315.77 574,316.17 572.5,316.6 C571,317.03 569.12,317.03 567.5,317.2 C565.88,317.37 564.32,317.77 562.8,317.6 C561.28,317.43 559.63,316.13 558.4,316.2 C557.17,316.27 556.2,317.2 555.4,318 C554.6,318.8 553.67,319.77 553.6,321 C553.53,322.23 554.83,323.88 555,325.4 C555.17,326.92 554.77,328.48 554.6,330.1 C554.43,331.72 554.43,333.6 554,335.1 C553.57,336.6 553.17,338.1 552,339.1 C550.83,340.1 548.83,340.35 547,341.1 C545.17,341.85 542.17,341.02 541,343.6 C539.83,346.18 540,352.27 540,356.6 C540,360.93 539.83,367.02 541,369.6 C542.17,372.18 545.17,371.35 547,372.1 C548.83,372.85 550.83,373.1 552,374.1 C553.17,375.1 553.57,376.6 554,378.1 C554.43,379.6 554.43,381.48 554.6,383.1 C554.77,384.72 555.17,386.28 555,387.8 C554.83,389.32 553.53,390.97 553.6,392.2 C553.67,393.43 554.6,394.4 555.4,395.2 C556.2,396 557.17,396.93 558.4,397 C559.63,397.07 561.28,395.77 562.8,395.6 C564.32,395.43 565.88,395.83 567.5,396 C569.12,396.17 571,396.17 572.5,396.6 C574,397.03 575.5,397.43 576.5,398.6 C577.5,399.77 577.75,401.77 578.5,403.6 C579.25,405.43 578.42,408.43 581,409.6 C583.58,410.77 589.67,410.6 594,410.6 C598.33,410.6 604.42,410.77 607,409.6 C609.58,408.43 608.75,405.43 609.5,403.6 C610.25,401.77 610.5,399.77 611.5,398.6 C612.5,397.43 614,397.03 615.5,396.6 C617,396.17 618.88,396.17 620.5,396 C622.12,395.83 623.68,395.43 625.2,395.6 C626.72,395.77 628.37,397.07 629.6,397 C630.83,396.93 631.8,396 632.6,395.2 C633.4,394.4 634.33,393.43 634.4,392.2 C634.47,390.97 633.17,389.32 633,387.8 C632.83,386.28 633.23,384.72 633.4,383.1 C633.57,381.48 633.57,379.6 634,378.1 C634.43,376.6 634.83,375.1 636,374.1 C637.17,373.1 639.17,372.85 641,372.1 C642.83,371.35 645.83,372.18 647,369.6 C648.17,367.02 648,360.93 648,356.6 C648,352.27 648.17,346.18 647,343.6 C645.83,341.02 642.83,341.85 641,341.1 C639.17,340.35 637.17,340.1 636,339.1 C634.83,338.1 634.43,336.6 634,335.1 C633.57,333.6 633.57,331.72 633.4,330.1 C633.23,328.48 632.83,326.92 633,325.4 C633.17,323.88 634.47,322.23 634.4,321 C634.33,319.77 633.4,318.8 632.6,318 C631.8,317.2 630.83,316.27 629.6,316.2 C628.37,316.13 626.72,317.43 625.2,317.6 C623.68,317.77 622.12,317.37 620.5,317.2 C618.88,317.03 617,317.03 615.5,316.6 C614,316.17 612.5,315.77 611.5,314.6 C610.5,313.43 610.25,311.43 609.5,309.6 C608.75,307.77 609.58,304.77 607,303.6 C604.42,302.43 598.33,302.6 594,302.6 Z" fill="rgb(181,181,181)"/>
<path d="M594,301.6 C589.67,301.6 583.55,301.27 581,302.6 C578.45,303.93 579.33,307.52 578.7,309.6 C578.07,311.68 577.98,313.47 577.2,315.1 C576.42,316.73 575.28,318.07 574,319.4 C572.72,320.73 571.25,321.98 569.5,323.1 C567.75,324.22 565,324.6 563.5,326.1 C562,327.6 561.62,330.35 560.5,332.1 C559.38,333.85 558.13,335.32 556.8,336.6 C555.47,337.88 554.13,339.02 552.5,339.8 C550.87,340.58 549.08,340.67 547,341.3 C544.92,341.93 541.33,341.05 540,343.6 C538.67,346.15 539,352.27 539,356.6 C539,360.93 538.67,367.05 540,369.6 C541.33,372.15 544.92,371.27 547,371.9 C549.08,372.53 550.87,372.62 552.5,373.4 C554.13,374.18 555.47,375.32 556.8,376.6 C558.13,377.88 559.38,379.35 560.5,381.1 C561.62,382.85 562,385.6 563.5,387.1 C565,388.6 567.75,388.98 569.5,390.1 C571.25,391.22 572.72,392.47 574,393.8 C575.28,395.13 576.42,396.47 577.2,398.1 C577.98,399.73 578.07,401.52 578.7,403.6 C579.33,405.68 578.45,409.27 581,410.6 C583.55,411.93 589.67,411.6 594,411.6 C598.33,411.6 604.45,411.93 607,410.6 C609.55,409.27 608.67,405.68 609.3,403.6 C609.93,401.52 610.02,399.73 610.8,398.1 C611.58,396.47 612.72,395.13 614,393.8 C615.28,392.47 616.75,391.22 618.5,390.1 C620.25,388.98 623,388.6 624.5,387.1 C626,385.6 626.38,382.85 627.5,381.1 C628.62,379.35 629.87,377.88 631.2,376.6 C632.53,375.32 633.87,374.18 635.5,373.4 C637.13,372.62 638.92,372.53 641,371.9 C643.08,371.27 646.67,372.15 648,369.6 C649.33,367.05 649,360.93 649,356.6 C649,352.27 649.33,346.15 648,343.6 C646.67,341.05 643.08,341.93 641,341.3 C638.92,340.67 637.13,340.58 635.5,339.8 C633.87,339.02 632.53,337.88 631.2,336.6 C629.87,335.32 628.62,333.85 627.5,332.1 C626.38,330.35 626,327.6 624.5,326.1 C623,324.6 620.25,324.22 618.5,323.1 C616.75,321.98 615.28,320.73 614,319.4 C612.72,318.07 611.58,316.73 610.8,315.1 C610.02,313.47 609.93,311.68 609.3,309.6 C608.67,307.52 609.55,303.93 607,302.6 C604.45,301.27 598.33,301.6 594,301.6 Z" fill="rgb(209,209,209)"/>
<path d="M594,300 C592,300 589.67,300.07 588,300.3 C586.33,300.53 585.17,300.85 584,301.4 C582.83,301.95 581.8,302.7 581,303.6 C580.2,304.5 579.63,305.63 579.2,306.8 C578.77,307.97 578.6,309.3 578.4,310.6 C578.2,311.9 578.13,313.37 578,314.6 C577.87,315.83 577.97,316.83 577.6,318 C577.23,319.17 576.67,320.17 575.8,321.6 C574.93,323.03 573.67,325.07 572.4,326.6 C571.13,328.13 569.6,329.4 568.2,330.8 C566.8,332.2 565.53,333.73 564,335 C562.47,336.27 560.43,337.53 559,338.4 C557.57,339.27 556.57,339.83 555.4,340.2 C554.23,340.57 553.23,340.47 552,340.6 C550.77,340.73 549.3,340.8 548,341 C546.7,341.2 545.37,341.37 544.2,341.8 C543.03,342.23 541.9,342.8 541,343.6 C540.1,344.4 539.35,345.43 538.8,346.6 C538.25,347.77 537.93,348.93 537.7,350.6 C537.47,352.27 537.4,354.6 537.4,356.6 C537.4,358.6 537.47,360.93 537.7,362.6 C537.93,364.27 538.25,365.43 538.8,366.6 C539.35,367.77 540.1,368.8 541,369.6 C541.9,370.4 543.03,370.97 544.2,371.4 C545.37,371.83 546.7,372 548,372.2 C549.3,372.4 550.77,372.47 552,372.6 C553.23,372.73 554.23,372.63 555.4,373 C556.57,373.37 557.57,373.93 559,374.8 C560.43,375.67 562.47,376.93 564,378.2 C565.53,379.47 566.8,381 568.2,382.4 C569.6,383.8 571.13,385.07 572.4,386.6 C573.67,388.13 574.93,390.17 575.8,391.6 C576.67,393.03 577.23,394.03 577.6,395.2 C577.97,396.37 577.87,397.37 578,398.6 C578.13,399.83 578.2,401.3 578.4,402.6 C578.6,403.9 578.77,405.23 579.2,406.4 C579.63,407.57 580.2,408.7 581,409.6 C581.8,410.5 582.83,411.25 584,411.8 C585.17,412.35 586.33,412.67 588,412.9 C589.67,413.13 592,413.2 594,413.2 C596,413.2 598.33,413.13 600,412.9 C601.67,412.67 602.83,412.35 604,411.8 C605.17,411.25 606.2,410.5 607,409.6 C607.8,408.7 608.37,407.57 608.8,406.4 C609.23,405.23 609.4,403.9 609.6,402.6 C609.8,401.3 609.87,399.83 610,398.6 C610.13,397.37 610.03,396.37 610.4,395.2 C610.77,394.03 611.33,393.03 612.2,391.6 C613.07,390.17 614.33,388.13 615.6,386.6 C616.87,385.07 618.4,383.8 619.8,382.4 C621.2,381 622.47,379.47 624,378.2 C625.53,376.93 627.57,375.67 629,374.8 C630.43,373.93 631.43,373.37 632.6,373 C633.77,372.63 634.77,372.73 636,372.6 C637.23,372.47 638.7,372.4 640,372.2 C641.3,372 642.63,371.83 643.8,371.4 C644.97,370.97 646.1,370.4 647,369.6 C647.9,368.8 648.65,367.77 649.2,366.6 C649.75,365.43 650.07,364.27 650.3,362.6 C650.53,360.93 650.6,358.6 650.6,356.6 C650.6,354.6 650.53,352.27 650.3,350.6 C650.07,348.93 649.75,347.77 649.2,346.6 C648.65,345.43 647.9,344.4 647,343.6 C646.1,342.8 644.97,342.23 643.8,341.8 C642.63,341.37 641.3,341.2 640,341 C638.7,340.8 637.23,340.73 636,340.6 C634.77,340.47 633.77,340.57 632.6,340.2 C631.43,339.83 630.43,339.27 629,338.4 C627.57,337.53 625.53,336.27 624,335 C622.47,333.73 621.2,332.2 619.8,330.8 C618.4,329.4 616.87,328.13 615.6,326.6 C614.33,325.07 613.07,323.03 612.2,321.6 C611.33,320.17 610.77,319.17 610.4,318 C610.03,316.83 610.13,315.83 610,314.6 C609.87,313.37 609.8,311.9 609.6,310.6 C609.4,309.3 609.23,307.97 608.8,306.8 C608.37,305.63 607.8,304.5 607,303.6 C606.2,302.7 605.17,301.95 604,301.4 C602.83,300.85 601.67,300.53 600,300.3 C598.33,300.07 596,300 594,300 Z" fill="rgb(255,255,255)"/>
<ellipse cx="557.4" cy="320" rx="6.2" ry="5.2" fill="rgb(214,214,214)" transform="rotate(45 557.4 320)"/>
<path d="M558.4,322.4 L553.6,319.4 L558.8,315.8 Z" fill="rgb(255,255,255)" stroke="rgb(255,255,255)" stroke-width="3.2" stroke-linejoin="round"/>
<ellipse cx="557.4" cy="393.2" rx="6.2" ry="5.2" fill="rgb(214,214,214)" transform="rotate(-45 557.4 393.2)"/>
<path d="M558.4,390.8 L553.6,393.8 L558.8,397.4 Z" fill="rgb(255,255,255)" stroke="rgb(255,255,255)" stroke-width="3.2" stroke-linejoin="round"/>
<ellipse cx="630.6" cy="320" rx="6.2" ry="5.2" fill="rgb(214,214,214)" transform="rotate(-45 630.6 320)"/>
<path d="M629.6,322.4 L634.4,319.4 L629.2,315.8 Z" fill="rgb(255,255,255)" stroke="rgb(255,255,255)" stroke-width="3.2" stroke-linejoin="round"/>
<ellipse cx="630.6" cy="393.2" rx="6.2" ry="5.2" fill="rgb(214,214,214)" transform="rotate(45 630.6 393.2)"/>
<path d="M629.6,390.8 L634.4,393.8 L629.2,397.4 Z" fill="rgb(255,255,255)" stroke="rgb(255,255,255)" stroke-width="3.2" stroke-linejoin="round"/>
<path d="M594,305.63 C592.18,305.63 590.02,305.83 588.55,306.24 C587.07,306.64 586.1,307.24 585.14,308.05 C584.17,308.86 583.41,309.96 582.75,311.07 C582.09,312.18 581.54,313.43 581.16,314.7 C580.78,315.96 580.53,317.43 580.48,318.68 C580.42,319.93 580.5,321.28 580.82,322.19 C581.14,323.09 581.41,323.7 582.41,324.12 C583.41,324.54 584.91,324.6 586.84,324.73 C588.77,324.85 591.61,324.85 594,324.85 C596.39,324.85 599.23,324.85 601.16,324.73 C603.09,324.6 604.59,324.54 605.59,324.12 C606.59,323.7 606.86,323.09 607.18,322.19 C607.5,321.28 607.58,319.93 607.52,318.68 C607.47,317.43 607.22,315.96 606.84,314.7 C606.46,313.43 605.91,312.18 605.25,311.07 C604.59,309.96 603.83,308.86 602.86,308.05 C601.9,307.24 600.93,306.64 599.45,306.24 C597.98,305.83 595.82,305.63 594,305.63 Z" fill="rgb(140,140,140)"/>
<path d="M644.97,356.6 C644.97,354.78 644.77,352.62 644.36,351.15 C643.96,349.67 643.36,348.7 642.55,347.74 C641.74,346.77 640.64,346.01 639.53,345.35 C638.42,344.69 637.17,344.14 635.9,343.76 C634.64,343.38 633.17,343.13 631.92,343.08 C630.67,343.02 629.32,343.1 628.41,343.42 C627.51,343.74 626.9,344.01 626.48,345.01 C626.06,346.01 626,347.51 625.88,349.44 C625.75,351.37 625.75,354.21 625.75,356.6 C625.75,358.99 625.75,361.83 625.88,363.76 C626,365.69 626.06,367.19 626.48,368.19 C626.9,369.19 627.51,369.46 628.41,369.78 C629.32,370.1 630.67,370.18 631.92,370.12 C633.17,370.07 634.64,369.82 635.9,369.44 C637.17,369.06 638.42,368.51 639.53,367.85 C640.64,367.19 641.74,366.43 642.55,365.46 C643.36,364.5 643.96,363.53 644.36,362.05 C644.77,360.58 644.97,358.42 644.97,356.6 Z" fill="rgb(140,140,140)"/>
<path d="M594,407.57 C595.82,407.57 597.98,407.37 599.45,406.96 C600.93,406.56 601.9,405.96 602.86,405.15 C603.83,404.34 604.59,403.24 605.25,402.13 C605.91,401.02 606.46,399.77 606.84,398.5 C607.22,397.24 607.47,395.77 607.52,394.52 C607.58,393.27 607.5,391.92 607.18,391.01 C606.86,390.11 606.59,389.5 605.59,389.08 C604.59,388.66 603.09,388.6 601.16,388.48 C599.23,388.35 596.39,388.35 594,388.35 C591.61,388.35 588.77,388.35 586.84,388.48 C584.91,388.6 583.41,388.66 582.41,389.08 C581.41,389.5 581.14,390.11 580.82,391.01 C580.5,391.92 580.42,393.27 580.48,394.52 C580.53,395.77 580.78,397.24 581.16,398.5 C581.54,399.77 582.09,401.02 582.75,402.13 C583.41,403.24 584.17,404.34 585.14,405.15 C586.1,405.96 587.07,406.56 588.55,406.96 C590.02,407.37 592.18,407.57 594,407.57 Z" fill="rgb(140,140,140)"/>
<path d="M543.03,356.6 C543.03,358.42 543.23,360.58 543.64,362.05 C544.04,363.53 544.64,364.5 545.45,365.46 C546.26,366.43 547.36,367.19 548.47,367.85 C549.58,368.51 550.83,369.06 552.1,369.44 C553.36,369.82 554.83,370.07 556.08,370.12 C557.33,370.18 558.68,370.1 559.59,369.78 C560.49,369.46 561.1,369.19 561.52,368.19 C561.94,367.19 562,365.69 562.12,363.76 C562.25,361.83 562.25,358.99 562.25,356.6 C562.25,354.21 562.25,351.37 562.12,349.44 C562,347.51 561.94,346.01 561.52,345.01 C561.1,344.01 560.49,343.74 559.59,343.42 C558.68,343.1 557.33,343.02 556.08,343.08 C554.83,343.13 553.36,343.38 552.1,343.76 C550.83,344.14 549.58,344.69 548.47,345.35 C547.36,346.01 546.26,346.77 545.45,347.74 C544.64,348.7 544.04,349.67 543.64,351.15 C543.23,352.62 543.03,354.78 543.03,356.6 Z" fill="rgb(140,140,140)"/>
<path d="M594,307.3 C592.4,307.3 590.5,307.47 589.2,307.8 C587.9,308.13 587.05,308.63 586.2,309.3 C585.35,309.97 584.68,310.88 584.1,311.8 C583.52,312.72 583.03,313.75 582.7,314.8 C582.37,315.85 582.15,317.07 582.1,318.1 C582.05,319.13 582.12,320.25 582.4,321 C582.68,321.75 582.92,322.25 583.8,322.6 C584.68,322.95 586,323 587.7,323.1 C589.4,323.2 591.9,323.2 594,323.2 C596.1,323.2 598.6,323.2 600.3,323.1 C602,323 603.32,322.95 604.2,322.6 C605.08,322.25 605.32,321.75 605.6,321 C605.88,320.25 605.95,319.13 605.9,318.1 C605.85,317.07 605.63,315.85 605.3,314.8 C604.97,313.75 604.48,312.72 603.9,311.8 C603.32,310.88 602.65,309.97 601.8,309.3 C600.95,308.63 600.1,308.13 598.8,307.8 C597.5,307.47 595.6,307.3 594,307.3 Z" fill="rgb(0,0,0)"/>
<path d="M643.3,356.6 C643.3,355 643.13,353.1 642.8,351.8 C642.47,350.5 641.97,349.65 641.3,348.8 C640.63,347.95 639.72,347.28 638.8,346.7 C637.88,346.12 636.85,345.63 635.8,345.3 C634.75,344.97 633.53,344.75 632.5,344.7 C631.47,344.65 630.35,344.72 629.6,345 C628.85,345.28 628.35,345.52 628,346.4 C627.65,347.28 627.6,348.6 627.5,350.3 C627.4,352 627.4,354.5 627.4,356.6 C627.4,358.7 627.4,361.2 627.5,362.9 C627.6,364.6 627.65,365.92 628,366.8 C628.35,367.68 628.85,367.92 629.6,368.2 C630.35,368.48 631.47,368.55 632.5,368.5 C633.53,368.45 634.75,368.23 635.8,367.9 C636.85,367.57 637.88,367.08 638.8,366.5 C639.72,365.92 640.63,365.25 641.3,364.4 C641.97,363.55 642.47,362.7 642.8,361.4 C643.13,360.1 643.3,358.2 643.3,356.6 Z" fill="rgb(0,0,0)"/>
<path d="M594,405.9 C595.6,405.9 597.5,405.73 598.8,405.4 C600.1,405.07 600.95,404.57 601.8,403.9 C602.65,403.23 603.32,402.32 603.9,401.4 C604.48,400.48 604.97,399.45 605.3,398.4 C605.63,397.35 605.85,396.13 605.9,395.1 C605.95,394.07 605.88,392.95 605.6,392.2 C605.32,391.45 605.08,390.95 604.2,390.6 C603.32,390.25 602,390.2 600.3,390.1 C598.6,390 596.1,390 594,390 C591.9,390 589.4,390 587.7,390.1 C586,390.2 584.68,390.25 583.8,390.6 C582.92,390.95 582.68,391.45 582.4,392.2 C582.12,392.95 582.05,394.07 582.1,395.1 C582.15,396.13 582.37,397.35 582.7,398.4 C583.03,399.45 583.52,400.48 584.1,401.4 C584.68,402.32 585.35,403.23 586.2,403.9 C587.05,404.57 587.9,405.07 589.2,405.4 C590.5,405.73 592.4,405.9 594,405.9 Z" fill="rgb(0,0,0)"/>
<path d="M544.7,356.6 C544.7,358.2 544.87,360.1 545.2,361.4 C545.53,362.7 546.03,363.55 546.7,364.4 C547.37,365.25 548.28,365.92 549.2,366.5 C550.12,367.08 551.15,367.57 552.2,367.9 C553.25,368.23 554.47,368.45 555.5,368.5 C556.53,368.55 557.65,368.48 558.4,368.2 C559.15,367.92 559.65,367.68 560,366.8 C560.35,365.92 560.4,364.6 560.5,362.9 C560.6,361.2 560.6,358.7 560.6,356.6 C560.6,354.5 560.6,352 560.5,350.3 C560.4,348.6 560.35,347.28 560,346.4 C559.65,345.52 559.15,345.28 558.4,345 C557.65,344.72 556.53,344.65 555.5,344.7 C554.47,344.75 553.25,344.97 552.2,345.3 C551.15,345.63 550.12,346.12 549.2,346.7 C548.28,347.28 547.37,347.95 546.7,348.8 C546.03,349.65 545.53,350.5 545.2,351.8 C544.87,353.1 544.7,355 544.7,356.6 Z" fill="rgb(0,0,0)"/>
</g></g>
<circle cx="594" cy="356.6" r="5.7" fill="#000"/>
<line x1="556" y1="356.6" x2="673" y2="356.6" stroke="#ffffff" stroke-width="1.3" />
<path d="M551.4,356.6 L557.6,353.4 L557.6,359.8 Z" fill="#ffffff"/>
<path d="M677.4,356.6 L671.2,353.4 L671.2,359.8 Z" fill="#ffffff"/>
<line x1="551.5" y1="314.5" x2="673" y2="436" stroke="#ffffff" stroke-width="1.3" />
<path d="M547.6,310.4 L554.39,312.66 L549.86,317.19 Z" fill="#ffffff"/>
<path d="M677.2,439.6 L670.41,437.34 L674.94,432.81 Z" fill="#ffffff"/>
<path d="M630.8,352.6 L638.6,360.6 M638.6,352.6 L630.8,360.6" stroke="#ffffff" stroke-width="1.2"/>
<path d="M633.5,401.8 L644,401.8 M638.8,396.5 L638.8,407" stroke="#ffffff" stroke-width="1.3"/>
<text x="574" y="373.8" font-size="13.5" font-weight="bold" fill="#ffffff">Cu<tspan font-size="8.2" font-weight="normal" dy="2">Ge</tspan></text>
<text transform="translate(534.4,356.7) rotate(-90)" font-size="13.6" font-weight="bold" text-anchor="middle" fill="#ffffff">[0 0 1]</text>
<text transform="translate(540.1,302.9) rotate(-45)" font-size="13.3" font-weight="bold" text-anchor="middle" fill="#ffffff">[1 1 1]</text>
<defs><pattern id="dots" width="1.87" height="1.8" patternUnits="userSpaceOnUse"><rect x="0.2" y="0.2" width="1" height="1" fill="#3b78a8"/></pattern>
<pattern id="dots2" width="1.87" height="3.6" patternUnits="userSpaceOnUse"><rect x="0.2" y="0.2" width="1" height="1" fill="#3b78a8"/><rect x="0.2" y="2" width="1" height="0.8" fill="#3b78a8" opacity="0.5"/></pattern></defs>
<clipPath id="clipg"><rect x="36.9" y="505.6" width="176.1" height="171.6"/></clipPath>
<line x1="71" y1="505.6" x2="71" y2="677.2" stroke="#d0d0d0" stroke-width="1" />
<line x1="112.8" y1="505.6" x2="112.8" y2="677.2" stroke="#d0d0d0" stroke-width="1" />
<line x1="161.3" y1="505.6" x2="161.3" y2="677.2" stroke="#d0d0d0" stroke-width="1" />
<line x1="36.9" y1="548.5" x2="213" y2="548.5" stroke="#d0d0d0" stroke-width="1" />
<line x1="36.9" y1="591.5" x2="213" y2="591.5" stroke="#d0d0d0" stroke-width="1" />
<line x1="36.9" y1="634.5" x2="213" y2="634.5" stroke="#d0d0d0" stroke-width="1" />
<g clip-path="url(#clipg)">
<path d="M38 511.3v1.2m0 7.8v1.2m0 51v1.2m0 7.8v1.2m0 11.4v1.2m0 9.6v1.2m0 7.8v1.2m0 6v1.2m0 2.4v1.2m0 2.4v1.2m0 .6v1.2m0 .6v1.2m0 9.6v1.2m0 .6v1.2m0 .6v1.2m0 2.4v1.2m0 .6v1.2m0 .6v1.2m0 .6v1.2m0 .6v1.2m0 6v1.2m0 9.6v1.2m1.9-169.5v1.2m0 2.4v1.2m0 .6v1.2m0 .6v1.2m0 4.2v1.2m0 2.4v1.2m0 2.4v1.2m0 .6v1.2m0 .6v1.2m0 40.2v1.2m0 .6v1.2m0 6v1.2m0 11.4v1.2m0 11.4v1.2m0 .6v1.2m0 6v1.2m0 2.4v1.2m0 .6v1.2m0 6v1.2m0 4.2v1.2m0 2.4v1.2m0 2.4v1.2m0 .6v1.2m0 .6v1.2m0 .6v1.2m0 7.8v1.2m0 .6v1.2m0 7.8v1.2m0 .6v1.2m0 2.4v1.2m0 2.4v1.2m0 .6v1.2m1.8-170.3v1.2m0 2.4v1.2m0 .6v1.2m0 .6v1.2m0 .6v1.2m0 2.4v1.2m0 2.4v1.2m0 2.4v1.2m0 .6v1.2m0 2.4v1.2m0 .6v1.2m0 .6v1.2m0 .6v1.2m0 .6v1.2m0 31.2v1.2m0 6v1.2m0 .6v1.2m0 11.4v1.2m0 13.2v1.2m0 2.4v1.2m0 2.4v1.2m0 .6v1.2m0 4.2v1.2m0 .6v1.2m0 9.6v1.2m0 2.4v1.2m0 24v1.2m0 2.4v1.2m0 4.2v1.2m1.9-166.4v1.2m0 .6v1.2m0 .6v1.2m0 .6v1.2m0 .6v1.2m0 .6v1.2m0 .6v1.2m0 .6v1.2m0 .6v1.2m0 .6v1.2m0 2.4v1.2m0 .6v1.2m0 .6v1.2m0 2.4v1.2m0 36.6v1.2m0 .6v1.2m0 6v1.2m0 11.4v1.2m0 11.4v1.2m0 2.4v1.2m0 .6v1.2m0 .6v1.2m0 2.4v1.2m0 2.4v1.2m0 .6v1.2m0 2.4v1.2m0 13.2v1.2m0 6v1.2m0 2.4v1.2m0 .6v1.2m0 .6v1.2m0 15v1.2m1.9-162.7v1.2m0 .6v1.2m0 .6v1.2m0 .6v1.2m0 .6v1.2m0 .6v1.2m0 .6v1.2m0 .6v1.2m0 .6v1.2m0 2.4v1.2m0 .6v1.2m0 .6v1.2m0 .6v1.2m0 .6v1.2m0 2.4v1.2m0 33v1.2m0 7.8v1.2m0 .6v1.2m0 9.6v1.2m0 13.2v1.2m0 .6v1.2m0 2.4v1.2m0 .6v1.2m0 .6v1.2m0 .6v1.2m0 .6v1.2m0 6v1.2m0 4.2v1.2m0 .6v1.2m0 2.4v1.2m0 2.4v1.2m0 .6v1.2m0 13.2v1.2m0 4.2v1.2m0 6v1.2m0 2.4v1.2m1.8-162.5v1.2m0 .6v1.2m0 2.4v1.2m0 .6v1.2m0 .6v1.2m0 2.4v1.2m0 45.6v1.2m0 6v1.2m0 2.4v1.2m0 .6v1.2m0 2.4v1.2m0 4.2v1.2m0 9.6v1.2m0 .6v1.2m0 7.8v1.2m0 .6v1.2m0 .6v1.2m0 .6v1.2m0 .6v1.2m0 .6v1.2m0 .6v1.2m0 2.4v1.2m0 .6v1.2m0 .6v1.2m0 .6v1.2m0 .6v1.2m0 .6v1.2m0 6v1.2m1.9-126.6v1.2m0 .6v1.2m0 2.4v1.2m0 .6v1.2m0 .6v1.2m0 .6v1.2m0 40.2v1.2m0 16.8v1.2m0 15v1.2m0 .6v1.2m0 .6v1.2m0 4.2v1.2m0 2.4v1.2m0 .6v1.2m0 .6v1.2m0 .6v1.2m0 .6v1.2m0 .6v1.2m0 2.4v1.2m0 24v1.2m1.9-138.3v1.2m0 .6v1.2m0 .6v1.2m0 .6v1.2m0 .6v1.2m0 42v1.2m0 .6v1.2m0 16.8v1.2m0 2.4v1.2m0 11.4v1.2m0 .6v1.2m0 2.4v1.2m0 6v1.2m0 2.4v1.2m0 2.4v1.2m0 7.8v1.2m1.9-109.6v1.2m0 .6v1.2m0 .6v1.2m0 .6v1.2m0 .6v1.2m0 2.4v1.2m0 .6v1.2m0 31.2v1.2m0 6v1.2m0 13.2v1.2m0 15v1.2m0 .6v1.2m0 2.4v1.2m0 .6v1.2m0 .6v1.2m0 .6v1.2m0 .6v1.2m0 .6v1.2m1.8-117.8v1.2m0 29.4v1.2m0 31.2v1.2m0 18.6v1.2m0 2.4v1.2m0 13.2v1.2m0 .6v1.2m0 2.4v1.2m0 .6v1.2m0 .6v1.2m0 .6v1.2m0 .6v1.2m1.9-115.9v1.2m0 .6v1.2m0 .6v1.2m0 .6v1.2m0 .6v1.2m0 20.4v1.2m0 2.4v1.2m0 2.4v1.2m0 .6v1.2m0 27.6v1.2m0 16.8v1.2m0 2.4v1.2m0 13.2v1.2m0 .6v1.2m0 4.2v1.2m0 .6v1.2m0 49.2v1.2m1.9-162v1.2m0 4.2v1.2m0 .6v1.2m0 .6v1.2m0 .6v1.2m0 22.2v1.2m0 2.4v1.2m0 .6v1.2m0 .6v1.2m0 22.2v1.2m0 .6v1.2m0 .6v1.2m0 .6v1.2m0 11.4v1.2m0 4.2v1.2m0 4.2v1.2m0 6v1.2m0 .6v1.2m0 .6v1.2m0 .6v1.2m0 2.4v1.2m0 40.2v1.2m0 2.4v1.2m0 2.4v1.2m0 4.2v1.2m0 .6v1.2m1.8-164.3v1.2m0 .6v1.2m0 .6v1.2m0 .6v1.2m0 2.4v1.2m0 .6v1.2m0 .6v1.2m0 .6v1.2m0 24v1.2m0 2.4v1.2m0 .6v1.2m0 .6v1.2m0 .6v1.2m0 15v1.2m0 .6v1.2m0 .6v1.2m0 11.4v1.2m0 2.4v1.2m0 63.6v1.2m0 4.2v1.2m0 .6v1.2m0 .6v1.2m1.9-164.5v1.2m0 4.2v1.2m0 4.2v1.2m0 7.8v1.2m0 .6v1.2m0 .6v1.2m0 .6v1.2m0 2.4v1.2m0 22.2v1.2m0 .6v1.2m0 .6v1.2m0 .6v1.2m0 13.2v1.2m0 6v1.2m0 6v1.2m0 4.2v1.2m0 .6v1.2m0 .6v1.2m0 47.4v1.2m0 .6v1.2m0 2.4v1.2m0 .6v1.2m0 .6v1.2m0 .6v1.2m0 .6v1.2m0 2.4v1.2m0 4.2v1.2m0 .6v1.2m1.9-167v1.2m0 13.2v1.2m0 2.4v1.2m0 4.2v1.2m0 .6v1.2m0 .6v1.2m0 .6v1.2m0 .6v1.2m0 .6v1.2m0 22.2v1.2m0 .6v1.2m0 .6v1.2m0 .6v1.2m0 .6v1.2m0 .6v1.2m0 2.4v1.2m0 .6v1.2m0 .6v1.2m0 11.4v1.2m0 4.2v1.2m0 .6v1.2m0 43.8v1.2m0 4.2v1.2m0 .6v1.2m0 7.8v1.2m0 7.8v1.2m0 2.4v1.2m1.8-163.9v1.2m0 .6v1.2m0 4.2v1.2m0 4.2v1.2m0 2.4v1.2m0 7.8v1.2m0 .6v1.2m0 .6v1.2m0 2.4v1.2m0 .6v1.2m0 .6v1.2m0 22.2v1.2m0 2.4v1.2m0 2.4v1.2m0 .6v1.2m0 15v1.2m0 11.4v1.2m0 22.2v1.2m0 2.4v1.2m0 6v1.2m0 .6v1.2m0 .6v1.2m0 2.4v1.2m0 .6v1.2m0 .6v1.2m0 .6v1.2m0 .6v1.2m0 2.4v1.2m0 .6v1.2m0 4.2v1.2m0 .6v1.2m0 .6v1.2m0 2.4v1.2m0 .6v1.2m1.9-166.9v1.2m0 .6v1.2m0 .6v1.2m0 .6v1.2m0 .6v1.2m0 .6v1.2m0 .6v1.2m0 2.4v1.2m0 .6v1.2m0 .6v1.2m0 .6v1.2m0 .6v1.2m0 .6v1.2m0 .6v1.2m0 .6v1.2m0 6v1.2m0 2.4v1.2m0 .6v1.2m0 .6v1.2m0 .6v1.2m0 79.8v1.2m0 6v1.2m0 .6v1.2m0 .6v1.2m0 16.8v1.2m0 .6v1.2m0 2.4v1.2m0 .6v1.2m0 .6v1.2m1.9-166.9v1.2m0 2.4v1.2m0 2.4v1.2m0 .6v1.2m0 6v1.2m0 .6v1.2m0 2.4v1.2m0 .6v1.2m0 .6v1.2m0 2.4v1.2m0 2.4v1.2m0 4.2v1.2m0 .6v1.2m0 4.2v1.2m0 2.4v1.2m0 .6v1.2m0 .6v1.2m0 42v1.2m0 .6v1.2m0 .6v1.2m0 2.4v1.2m0 18.6v1.2m0 2.4v1.2m0 .6v1.2m0 .6v1.2m0 .6v1.2m0 4.2v1.2m0 2.4v1.2m0 2.4v1.2m0 9.6v1.2m0 4.2v1.2m0 .6v1.2m1.9-159.8v1.2m0 .6v1.2m0 4.2v1.2m0 4.2v1.2m0 4.2v1.2m0 2.4v1.2m0 .6v1.2m0 6v1.2m0 13.2v1.2m0 .6v1.2m0 .6v1.2m0 .6v1.2m0 2.4v1.2m0 .6v1.2m0 .6v1.2m0 2.4v1.2m0 29.4v1.2m0 2.4v1.2m0 11.4v1.2m0 16.8v1.2m0 24v1.2m0 2.4v1.2m1.8-159.8v1.2m0 .6v1.2m0 4.2v1.2m0 .6v1.2m0 7.8v1.2m0 4.2v1.2m0 33v1.2m0 .6v1.2m0 33v1.2m0 .6v1.2m0 .6v1.2m0 .6v1.2m0 2.4v1.2m0 13.2v1.2m0 .6v1.2m0 4.2v1.2m0 7.8v1.2m0 .6v1.2m0 .6v1.2m0 .6v1.2m0 .6v1.2m0 6v1.2m0 13.2v1.2m0 2.4v1.2m0 2.4v1.2m1.9-170.5v1.2m0 .6v1.2m0 .6v1.2m0 .6v1.2m0 .6v1.2m0 .6v1.2m0 .6v1.2m0 2.4v1.2m0 .6v1.2m0 2.4v1.2m0 6v1.2m0 20.4v1.2m0 .6v1.2m0 .6v1.2m0 .6v1.2m0 22.2v1.2m0 .6v1.2m0 .6v1.2m0 .6v1.2m0 .6v1.2m0 .6v1.2m0 7.8v1.2m0 .6v1.2m0 .6v1.2m0 .6v1.2m0 .6v1.2m0 .6v1.2m0 18.6v1.2m0 .6v1.2m0 6v1.2m0 .6v1.2m0 7.8v1.2m0 2.4v1.2m0 2.4v1.2m0 2.4v1.2m0 9.6v1.2m0 2.4v1.2m1.9-169.4v1.2m0 .6v1.2m0 .6v1.2m0 4.2v1.2m0 .6v1.2m0 .6v1.2m0 .6v1.2m0 .6v1.2m0 .6v1.2m0 2.4v1.2m0 2.4v1.2m0 .6v1.2m0 11.4v1.2m0 4.2v1.2m0 .6v1.2m0 .6v1.2m0 24v1.2m0 .6v1.2m0 11.4v1.2m0 11.4v1.2m0 .6v1.2m0 .6v1.2m0 16.8v1.2m0 7.8v1.2m0 2.4v1.2m0 4.2v1.2m0 4.2v1.2m0 6v1.2m0 .6v1.2m0 .6v1.2m0 7.8v1.2m1.8-156.2v1.2m0 7.8v1.2m0 11.4v1.2m0 2.4v1.2m0 .6v1.2m0 .6v1.2m0 .6v1.2m0 25.8v1.2m0 .6v1.2m0 18.6v1.2m0 .6v1.2m0 .6v1.2m0 6v1.2m0 .6v1.2m0 .6v1.2m0 .6v1.2m0 16.8v1.2m0 .6v1.2m0 9.6v1.2m0 .6v1.2m0 2.4v1.2m0 .6v1.2m0 .6v1.2m0 4.2v1.2m0 2.4v1.2m0 9.6v1.2m1.9-166.3v1.2m0 .6v1.2m0 18.6v1.2m0 .6v1.2m0 2.4v1.2m0 .6v1.2m0 2.4v1.2m0 .6v1.2m0 22.2v1.2m0 2.4v1.2m0 2.4v1.2m0 .6v1.2m0 25.8v1.2m0 .6v1.2m0 .6v1.2m0 9.6v1.2m0 18.6v1.2m0 .6v1.2m0 .6v1.2m0 .6v1.2m0 4.2v1.2m0 2.4v1.2m0 .6v1.2m0 .6v1.2m0 .6v1.2m0 2.4v1.2m0 .6v1.2m0 2.4v1.2m0 6v1.2m0 .6v1.2m0 .6v1.2m1.9-155.1v1.2m0 7.8v1.2m0 2.4v1.2m0 .6v1.2m0 .6v1.2m0 24v1.2m0 .6v1.2m0 .6v1.2m0 .6v1.2m0 34.8v1.2m0 .6v1.2m0 29.4v1.2m0 2.4v1.2m0 .6v1.2m0 .6v1.2m0 7.8v1.2m0 2.4v1.2m0 .6v1.2m0 13.2v1.2m0 .6v1.2m1.9-152v1.2m0 .6v1.2m0 .6v1.2m0 .6v1.2m0 .6v1.2m0 .6v1.2m0 .6v1.2m0 18.6v1.2m0 2.4v1.2m0 .6v1.2m0 .6v1.2m0 .6v1.2m0 42v1.2m0 .6v1.2m0 .6v1.2m0 29.4v1.2m0 .6v1.2m0 .6v1.2m0 .6v1.2m0 4.2v1.2m0 .6v1.2m0 .6v1.2m0 .6v1.2m0 .6v1.2m0 15v1.2m0 .6v1.2m1.8-171.3v1.2m0 .6v1.2m0 2.4v1.2m0 .6v1.2m0 .6v1.2m0 .6v1.2m0 .6v1.2m0 2.4v1.2m0 .6v1.2m0 2.4v1.2m0 20.4v1.2m0 .6v1.2m0 .6v1.2m0 .6v1.2m0 2.4v1.2m0 51v1.2m0 40.2v1.2m0 2.4v1.2m0 16.8v1.2m0 .6v1.2m1.9-170.1v1.2m0 2.4v1.2m0 .6v1.2m0 .6v1.2m0 29.4v1.2m0 4.2v1.2m0 54.6v1.2m0 2.4v1.2m0 .6v1.2m0 34.8v1.2m0 7.8v1.2m0 .6v1.2m0 15v1.2m1.9-168.1v1.2m0 .6v1.2m0 31.2v1.2m0 .6v1.2m0 .6v1.2m0 .6v1.2m0 60v1.2m0 2.4v1.2m0 .6v1.2m0 .6v1.2m0 .6v1.2m0 .6v1.2m1.8-84.3v1.2m0 .6v1.2m0 .6v1.2m0 2.4v1.2m0 69v1.2m0 2.4v1.2m0 .6v1.2m0 .6v1.2m0 .6v1.2m0 52.8v1.2m1.9-148.9v1.2m0 .6v1.2m0 .6v1.2m0 .6v1.2m0 81.6v1.2m0 6v1.2m0 .6v1.2m0 2.4v1.2m0 25.8v1.2m0 2.4v1.2m0 .6v1.2m0 .6v1.2m0 11.4v1.2m1.9-152.3v1.2m0 .6v1.2m0 .6v1.2m0 .6v1.2m0 92.4v1.2m0 .6v1.2m0 2.4v1.2m0 29.4v1.2m0 .6v1.2m1.8-134.8v1.2m0 .6v1.2m0 .6v1.2m0 .6v1.2m0 .6v1.2m0 4.2v1.2m0 63.6v1.2m0 2.4v1.2m0 4.2v1.2m0 .6v1.2m0 .6v1.2m0 2.4v1.2m0 .6v1.2m0 2.4v1.2m0 34.8v1.2m1.9-151.1v1.2m0 13.2v1.2m0 2.4v1.2m0 4.2v1.2m0 67.2v1.2m0 .6v1.2m0 .6v1.2m0 .6v1.2m0 11.4v1.2m0 4.2v1.2m0 4.2v1.2m0 .6v1.2m0 .6v1.2m0 36.6v1.2m1.9-167v1.2m0 20.4v1.2m0 .6v1.2m0 2.4v1.2m0 70.8v1.2m0 2.4v1.2m0 2.4v1.2m0 2.4v1.2m0 .6v1.2m0 .6v1.2m0 .6v1.2m0 .6v1.2m0 .6v1.2m0 4.2v1.2m0 6v1.2m0 2.4v1.2m1.9-138.4v1.2m0 .6v1.2m0 .6v1.2m0 .6v1.2m0 .6v1.2m0 .6v1.2m0 .6v1.2m0 15v1.2m0 .6v1.2m0 83.4v1.2m0 .6v1.2m0 .6v1.2m0 .6v1.2m0 .6v1.2m0 .6v1.2m0 4.2v1.2m0 6v1.2m0 33v1.2m1.8-169.9v1.2m0 2.4v1.2m0 6v1.2m0 16.8v1.2m0 .6v1.2m0 70.8v1.2m0 .6v1.2m0 .6v1.2m0 2.4v1.2m0 2.4v1.2m0 2.4v1.2m0 2.4v1.2m0 9.6v1.2m1.9-130.6v1.2m0 7.8v1.2m0 .6v1.2m0 .6v1.2m0 .6v1.2m0 13.2v1.2m0 76.2v1.2m0 4.2v1.2m0 .6v1.2m0 .6v1.2m0 2.4v1.2m0 2.4v1.2m0 .6v1.2m0 .6v1.2m0 .6v1.2m0 .6v1.2m0 .6v1.2m0 4.2v1.2m1.9-138.5v1.2m0 .6v1.2m0 .6v1.2m0 6v1.2m0 .6v1.2m0 .6v1.2m0 .6v1.2m0 13.2v1.2m0 .6v1.2m0 67.2v1.2m0 2.4v1.2m0 .6v1.2m0 .6v1.2m0 .6v1.2m0 2.4v1.2m0 2.4v1.2m0 .6v1.2m0 .6v1.2m0 9.6v1.2m0 4.2v1.2m0 2.4v1.2m1.8-143.6v1.2m0 .6v1.2m0 2.4v1.2m0 4.2v1.2m0 .6v1.2m0 .6v1.2m0 .6v1.2m0 .6v1.2m0 .6v1.2m0 .6v1.2m0 11.4v1.2m0 .6v1.2m0 61.8v1.2m0 .6v1.2m0 2.4v1.2m0 2.4v1.2m0 2.4v1.2m0 .6v1.2m0 7.8v1.2m0 2.4v1.2m0 9.6v1.2m1.9-138.3v1.2m0 .6v1.2m0 .6v1.2m0 .6v1.2m0 4.2v1.2m0 .6v1.2m0 .6v1.2m0 .6v1.2m0 2.4v1.2m0 .6v1.2m0 .6v1.2m0 .6v1.2m0 9.6v1.2m0 61.8v1.2m0 .6v1.2m0 .6v1.2m0 .6v1.2m0 .6v1.2m0 .6v1.2m0 24v1.2m0 2.4v1.2m1.9-135.6v1.2m0 2.4v1.2m0 .6v1.2m0 .6v1.2m0 4.2v1.2m0 .6v1.2m0 .6v1.2m0 .6v1.2m0 .6v1.2m0 .6v1.2m0 .6v1.2m0 7.8v1.2m0 67.2v1.2m0 .6v1.2m0 .6v1.2m0 .6v1.2m0 .6v1.2m0 .6v1.2m0 2.4v1.2m0 7.8v1.2m0 22.2v1.2m0 .6v1.2m0 .6v1.2m1.8-149.4v1.2m0 4.2v1.2m0 .6v1.2m0 .6v1.2m0 .6v1.2m0 2.4v1.2m0 15v1.2m0 74.4v1.2m0 .6v1.2m0 6v1.2m0 4.2v1.2m0 4.2v1.2m0 2.4v1.2m0 18.6v1.2m1.9-147.7v1.2m0 .6v1.2m0 4.2v1.2m0 .6v1.2m0 7.8v1.2m0 7.8v1.2m0 76.2v1.2m0 7.8v1.2m0 .6v1.2m0 .6v1.2m0 .6v1.2m0 .6v1.2m0 .6v1.2m0 .6v1.2m0 7.8v1.2m0 .6v1.2m0 .6v1.2m0 2.4v1.2m0 6v1.2m1.9-155v1.2m0 4.2v1.2m0 15v1.2m0 .6v1.2m0 76.2v1.2m0 2.4v1.2m0 .6v1.2m0 .6v1.2m0 6v1.2m0 7.8v1.2m0 4.2v1.2m0 .6v1.2m0 13.2v1.2m1.9-146.5v1.2m0 13.2v1.2m0 2.4v1.2m0 .6v1.2m0 11.4v1.2m0 .6v1.2m0 6v1.2m0 4.2v1.2m0 .6v1.2m0 4.2v1.2m0 2.4v1.2m0 2.4v1.2m0 4.2v1.2m0 33v1.2m0 .6v1.2m0 2.4v1.2m0 .6v1.2m0 2.4v1.2m0 .6v1.2m0 .6v1.2m0 25.8v1.2m0 .6v1.2m0 6v1.2m1.8-150.5v1.2m0 .6v1.2m0 15v1.2m0 16.8v1.2m0 4.2v1.2m0 6v1.2m0 4.2v1.2m0 4.2v1.2m0 2.4v1.2m0 34.8v1.2m0 4.2v1.2m0 2.4v1.2m0 2.4v1.2m0 .6v1.2m0 7.8v1.2m0 .6v1.2m0 .6v1.2m0 .6v1.2m0 .6v1.2m0 9.6v1.2m1.9-144.4v1.2m0 15v1.2m0 16.8v1.2m0 .6v1.2m0 2.4v1.2m0 2.4v1.2m0 .6v1.2m0 4.2v1.2m0 6v1.2m0 .6v1.2m0 2.4v1.2m0 2.4v1.2m0 31.2v1.2m0 .6v1.2m0 .6v1.2m0 .6v1.2m0 2.4v1.2m0 .6v1.2m0 .6v1.2m0 2.4v1.2m0 .6v1.2m0 6v1.2m0 .6v1.2m0 6v1.2m0 9.6v1.2m0 .6v1.2m0 .6v1.2m1.9-148v1.2m0 27.6v1.2m0 11.4v1.2m0 4.2v1.2m0 .6v1.2m0 .6v1.2m0 .6v1.2m0 .6v1.2m0 .6v1.2m0 2.4v1.2m0 .6v1.2m0 4.2v1.2m0 31.2v1.2m0 4.2v1.2m0 2.4v1.2m0 4.2v1.2m0 4.2v1.2m0 6v1.2m0 7.8v1.2m1.8-124.8v1.2m0 18.6v1.2m0 .6v1.2m0 .6v1.2m0 2.4v1.2m0 .6v1.2m0 .6v1.2m0 7.8v1.2m0 4.2v1.2m0 .6v1.2m0 2.4v1.2m0 40.2v1.2m0 .6v1.2m0 .6v1.2m0 .6v1.2m0 .6v1.2m0 4.2v1.2m0 6v1.2m0 4.2v1.2m0 4.2v1.2m0 2.4v1.2m1.9-109.1v1.2m0 .6v1.2m0 .6v1.2m0 2.4v1.2m0 .6v1.2m0 6v1.2m0 4.2v1.2m0 4.2v1.2m0 .6v1.2m0 .6v1.2m0 .6v1.2m0 .6v1.2m0 36.6v1.2m0 .6v1.2m0 2.4v1.2m0 9.6v1.2m1.9-87.7v1.2m0 6v1.2m0 .6v1.2m0 .6v1.2m0 2.4v1.2m0 .6v1.2m0 .6v1.2m0 2.4v1.2m0 .6v1.2m0 .6v1.2m0 .6v1.2m0 4.2v1.2m0 .6v1.2m0 34.8v1.2m0 .6v1.2m0 .6v1.2m0 .6v1.2m0 4.2v1.2m1.8-94.5v1.2m0 6v1.2m0 .6v1.2m0 2.4v1.2m0 .6v1.2m0 2.4v1.2m0 4.2v1.2m0 2.4v1.2m0 58.2v1.2m0 .6v1.2m0 .6v1.2m0 .6v1.2m0 .6v1.2m0 .6v1.2m1.9-99.2v1.2m0 4.2v1.2m0 18.6v1.2m0 2.4v1.2m0 .6v1.2m0 .6v1.2m0 .6v1.2m0 .6v1.2m0 .6v1.2m0 9.6v1.2m0 33v1.2m0 .6v1.2m0 .6v1.2m0 2.4v1.2m1.9-90.8v1.2m0 2.4v1.2m0 25.8v1.2m0 .6v1.2m0 .6v1.2m0 .6v1.2m0 .6v1.2m0 .6v1.2m0 .6v1.2m0 .6v1.2m0 .6v1.2m0 .6v1.2m0 .6v1.2m0 24v1.2m0 .6v1.2m0 .6v1.2m0 .6v1.2m0 .6v1.2m1.9-82.9v1.2m0 2.4v1.2m0 4.2v1.2m0 .6v1.2m0 33v1.2m0 6v1.2m0 .6v1.2m0 .6v1.2m0 13.2v1.2m0 .6v1.2m0 .6v1.2m1.8-75.1v1.2m0 .6v1.2m0 2.4v1.2m0 .6v1.2m0 .6v1.2m0 2.4v1.2m0 4.2v1.2m0 .6v1.2m0 .6v1.2m0 31.2v1.2m0 .6v1.2m0 11.4v1.2m0 .6v1.2m0 78v1.2m1.9-149.4v1.2m0 6v1.2m0 2.4v1.2m0 .6v1.2m0 15v1.2m0 .6v1.2m0 22.2v1.2m0 .6v1.2m0 9.6v1.2m0 27.6v1.2m0 2.4v1.2m0 34.8v1.2m0 15v1.2m1.9-167.5v1.2m0 11.4v1.2m0 .6v1.2m0 .6v1.2m0 .6v1.2m0 .6v1.2m0 4.2v1.2m0 2.4v1.2m0 .6v1.2m0 6v1.2m0 .6v1.2m0 .6v1.2m0 2.4v1.2m0 2.4v1.2m0 .6v1.2m0 .6v1.2m0 .6v1.2m0 2.4v1.2m0 .6v1.2m0 20.4v1.2m0 11.4v1.2m0 .6v1.2m0 .6v1.2m0 2.4v1.2m0 .6v1.2m0 .6v1.2m0 .6v1.2m0 .6v1.2m0 .6v1.2m0 .6v1.2m0 15v1.2m0 20.4v1.2m0 .6v1.2m0 .6v1.2m0 7.8v1.2m1.8-165.6v1.2m0 11.4v1.2m0 .6v1.2m0 .6v1.2m0 .6v1.2m0 .6v1.2m0 2.4v1.2m0 4.2v1.2m0 .6v1.2m0 .6v1.2m0 .6v1.2m0 .6v1.2m0 .6v1.2m0 .6v1.2m0 2.4v1.2m0 .6v1.2m0 .6v1.2m0 .6v1.2m0 .6v1.2m0 6v1.2m0 11.4v1.2m0 .6v1.2m0 .6v1.2m0 9.6v1.2m0 16.8v1.2m0 .6v1.2m0 9.6v1.2m0 29.4v1.2m0 .6v1.2m0 9.6v1.2m0 7.8v1.2m0 .6v1.2m1.9-169.8v1.2m0 11.4v1.2m0 .6v1.2m0 .6v1.2m0 2.4v1.2m0 .6v1.2m0 2.4v1.2m0 2.4v1.2m0 .6v1.2m0 4.2v1.2m0 .6v1.2m0 .6v1.2m0 .6v1.2m0 24v1.2m0 .6v1.2m0 .6v1.2m0 13.2v1.2m0 .6v1.2m0 20.4v1.2m0 .6v1.2m0 .6v1.2m0 .6v1.2m0 .6v1.2m0 .6v1.2m0 25.8v1.2m0 .6v1.2m0 2.4v1.2m0 7.8v1.2m0 6v1.2m1.9-149.8v1.2m0 .6v1.2m0 .6v1.2m0 4.2v1.2m0 2.4v1.2m0 33v1.2m0 .6v1.2m0 .6v1.2m0 18.6v1.2m0 .6v1.2m0 .6v1.2m0 18.6v1.2m0 .6v1.2m0 2.4v1.2m0 25.8v1.2m0 2.4v1.2m0 .6v1.2m0 15v1.2m1.8-147.9v1.2m0 29.4v1.2m0 6v1.2m0 .6v1.2m0 .6v1.2m0 2.4v1.2m0 2.4v1.2m0 22.2v1.2m0 .6v1.2m0 .6v1.2m1.9-93.7v1.2m0 7.8v1.2m0 24v1.2m0 6v1.2m0 2.4v1.2m0 2.4v1.2m0 .6v1.2m0 .6v1.2m0 .6v1.2m0 .6v1.2m0 .6v1.2m0 .6v1.2m0 .6v1.2m0 .6v1.2m0 .6v1.2m0 27.6v1.2m0 .6v1.2m0 45.6v1.2m0 4.2v1.2m0 .6v1.2m0 4.2v1.2m0 .6v1.2m0 .6v1.2m0 7.8v1.2m1.9-170.5v1.2m0 11.4v1.2m0 .6v1.2m0 20.4v1.2m0 .6v1.2m0 .6v1.2m0 .6v1.2m0 4.2v1.2m0 .6v1.2m0 4.2v1.2m0 43.8v1.2m0 .6v1.2m0 .6v1.2m0 38.4v1.2m0 6v1.2m0 7.8v1.2m0 2.4v1.2m0 .6v1.2m0 .6v1.2m1.9-153.3v1.2m0 16.8v1.2m0 2.4v1.2m0 .6v1.2m0 2.4v1.2m0 2.4v1.2m0 .6v1.2m0 .6v1.2m0 2.4v1.2m0 2.4v1.2m0 4.2v1.2m0 .6v1.2m0 2.4v1.2m0 36.6v1.2m0 .6v1.2m0 31.2v1.2m0 4.2v1.2m0 2.4v1.2m0 4.2v1.2m0 2.4v1.2m0 4.2v1.2m1.8-161.8v1.2m0 .6v1.2m0 7.8v1.2m0 2.4v1.2m0 .6v1.2m0 .6v1.2m0 .6v1.2m0 .6v1.2m0 .6v1.2m0 2.4v1.2m0 2.4v1.2m0 .6v1.2m0 2.4v1.2m0 69v1.2m0 .6v1.2m0 .6v1.2m0 .6v1.2m0 .6v1.2m0 20.4v1.2m0 .6v1.2m0 .6v1.2m0 .6v1.2m0 .6v1.2m0 .6v1.2m0 2.4v1.2m0 2.4v1.2m0 .6v1.2m0 .6v1.2m0 .6v1.2m0 .6v1.2m0 .6v1.2m0 2.4v1.2m0 .6v1.2m0 .6v1.2m1.9-169.1v1.2m0 11.4v1.2m0 .6v1.2m0 .6v1.2m0 6v1.2m0 .6v1.2m0 .6v1.2m0 .6v1.2m0 4.2v1.2m0 .6v1.2m0 4.2v1.2m0 15v1.2m0 6v1.2m0 40.2v1.2m0 .6v1.2m0 .6v1.2m0 2.4v1.2m0 7.8v1.2m0 2.4v1.2m0 13.2v1.2m0 6v1.2m0 9.6v1.2m0 .6v1.2m0 6v1.2m1.9-146.3v1.2m0 .6v1.2m0 .6v1.2m0 4.2v1.2m0 4.2v1.2m0 .6v1.2m0 .6v1.2m0 7.8v1.2m0 51v1.2m0 2.4v1.2m0 .6v1.2m0 .6v1.2m0 13.2v1.2m0 16.8v1.2m0 2.4v1.2m0 2.4v1.2m0 2.4v1.2m0 2.4v1.2m0 6v1.2m0 .6v1.2m0 .6v1.2m0 .6v1.2m1.8-169v1.2m0 15v1.2m0 2.4v1.2m0 .6v1.2m0 .6v1.2m0 .6v1.2m0 .6v1.2m0 .6v1.2m0 .6v1.2m0 .6v1.2m0 7.8v1.2m0 60v1.2m0 .6v1.2m0 .6v1.2m0 15v1.2m0 .6v1.2m0 16.8v1.2m0 .6v1.2m0 2.4v1.2m0 .6v1.2m0 .6v1.2m0 .6v1.2m0 .6v1.2m0 2.4v1.2m0 .6v1.2m0 .6v1.2m0 4.2v1.2m0 .6v1.2m1.9-144v1.2m0 2.4v1.2m0 2.4v1.2m0 .6v1.2m0 .6v1.2m0 4.2v1.2m0 .6v1.2m0 2.4v1.2m0 4.2v1.2m0 6v1.2m0 .6v1.2m0 34.8v1.2m0 .6v1.2m0 .6v1.2m0 20.4v1.2m0 .6v1.2m0 15v1.2m0 .6v1.2m0 .6v1.2m0 2.4v1.2m0 2.4v1.2m0 4.2v1.2m0 .6v1.2m0 .6v1.2m1.9-125.1v1.2m0 .6v1.2m0 .6v1.2m0 2.4v1.2m0 .6v1.2m0 2.4v1.2m0 7.8v1.2m0 34.8v1.2m0 .6v1.2m0 .6v1.2m0 16.8v1.2m0 .6v1.2m0 .6v1.2m0 2.4v1.2m0 .6v1.2m0 18.6v1.2m0 4.2v1.2m0 .6v1.2m0 4.2v1.2m0 7.8v1.2m1.8-147.8v1.2m0 20.4v1.2m0 .6v1.2m0 .6v1.2m0 45.6v1.2m0 .6v1.2m0 .6v1.2m0 20.4v1.2m0 .6v1.2m0 4.2v1.2m0 .6v1.2m0 13.2v1.2m0 6v1.2m0 2.4v1.2m0 .6v1.2m0 2.4v1.2m0 .6v1.2m0 .6v1.2m0 2.4v1.2m0 2.4v1.2m1.9-119.2v1.2m0 .6v1.2m0 .6v1.2m0 .6v1.2m0 4.2v1.2m0 .6v1.2m0 .6v1.2m0 24v1.2m0 .6v1.2m0 24v1.2m0 27.6v1.2m0 4.2v1.2m0 .6v1.2m0 4.2v1.2m0 4.2v1.2m0 4.2v1.2m1.9-117.9v1.2m0 .6v1.2m0 2.4v1.2m0 2.4v1.2m0 .6v1.2m0 .6v1.2m0 .6v1.2m0 18.6v1.2m0 2.4v1.2m0 25.8v1.2m0 33v1.2m0 6v1.2m0 9.6v1.2m1.9-158v1.2m0 13.2v1.2m0 4.2v1.2m0 4.2v1.2m0 22.2v1.2m0 4.2v1.2m0 16.8v1.2m0 .6v1.2m0 25.8v1.2m0 9.6v1.2m0 31.2v1.2m0 9.6v1.2m0 .6v1.2m1.8-163.2v1.2m0 .6v1.2m0 2.4v1.2m0 .6v1.2m0 .6v1.2m0 .6v1.2m0 .6v1.2m0 .6v1.2m0 .6v1.2m0 .6v1.2m0 .6v1.2m0 .6v1.2m0 .6v1.2m0 .6v1.2m0 .6v1.2m0 .6v1.2m0 .6v1.2m0 .6v1.2m0 .6v1.2m0 .6v1.2m0 .6v1.2m0 .6v1.2m0 .6v1.2m0 .6v1.2m0 9.6v1.2m0 .6v1.2m0 .6v1.2m0 .6v1.2m0 16.8v1.2m0 9.6v1.2m0 .6v1.2m0 .6v1.2m0 .6v1.2m0 9.6v1.2m0 .6v1.2m0 .6v1.2m0 2.4v1.2m0 .6v1.2m0 .6v1.2m0 4.2v1.2m0 .6v1.2m0 27.6v1.2m0 2.4v1.2m0 6v1.2m1.9-164.4v1.2m0 .6v1.2m0 2.4v1.2m0 4.2v1.2m0 .6v1.2m0 .6v1.2m0 .6v1.2m0 .6v1.2m0 .6v1.2m0 .6v1.2m0 .6v1.2m0 .6v1.2m0 2.4v1.2m0 .6v1.2m0 7.8v1.2m0 .6v1.2m0 .6v1.2m0 .6v1.2m0 13.2v1.2m0 2.4v1.2m0 13.2v1.2m0 7.8v1.2m0 .6v1.2m0 .6v1.2m0 2.4v1.2m0 7.8v1.2m0 .6v1.2m0 .6v1.2m0 2.4v1.2m0 .6v1.2m0 6v1.2m0 .6v1.2m0 .6v1.2m0 29.4v1.2m0 2.4v1.2m0 .6v1.2m0 .6v1.2m0 .6v1.2m1.9-161.8v1.2m0 .6v1.2m0 9.6v1.2m0 4.2v1.2m0 .6v1.2m0 4.2v1.2m0 .6v1.2m0 .6v1.2m0 .6v1.2m0 .6v1.2m0 .6v1.2m0 .6v1.2m0 .6v1.2m0 2.4v1.2m0 .6v1.2m0 .6v1.2m0 .6v1.2m0 2.4v1.2m0 11.4v1.2m0 .6v1.2m0 7.8v1.2m0 9.6v1.2m0 4.2v1.2m0 .6v1.2m0 9.6v1.2m0 .6v1.2m0 .6v1.2m0 4.2v1.2m0 .6v1.2m0 6v1.2m0 .6v1.2m0 29.4v1.2m1.8-156.1v1.2m0 .6v1.2m0 2.4v1.2m0 4.2v1.2m0 4.2v1.2m0 .6v1.2m0 .6v1.2m0 .6v1.2m0 .6v1.2m0 .6v1.2m0 .6v1.2m0 .6v1.2m0 .6v1.2m0 .6v1.2m0 .6v1.2m0 .6v1.2m0 .6v1.2m0 .6v1.2m0 .6v1.2m0 .6v1.2m0 .6v1.2m0 .6v1.2m0 .6v1.2m0 18.6v1.2m0 .6v1.2m0 6v1.2m0 7.8v1.2m0 .6v1.2m0 .6v1.2m0 2.4v1.2m0 .6v1.2m0 15v1.2m0 2.4v1.2m0 .6v1.2m0 .6v1.2m0 2.4v1.2m0 2.4v1.2m1.9-130.7v1.2m0 2.4v1.2m0 15v1.2m0 2.4v1.2m0 .6v1.2m0 2.4v1.2m0 .6v1.2m0 2.4v1.2m0 2.4v1.2m0 .6v1.2m0 .6v1.2m0 .6v1.2m0 .6v1.2m0 2.4v1.2m0 .6v1.2m0 .6v1.2m0 .6v1.2m0 .6v1.2m0 .6v1.2m0 .6v1.2m0 2.4v1.2m0 2.4v1.2m0 7.8v1.2m0 2.4v1.2m0 .6v1.2m0 9.6v1.2m0 .6v1.2m0 .6v1.2m0 .6v1.2m0 13.2v1.2m0 .6v1.2m0 .6v1.2m0 .6v1.2m0 11.4v1.2m0 36.6v1.2m1.9-170.1v1.2m0 2.4v1.2m0 6v1.2m0 .6v1.2m0 4.2v1.2m0 .6v1.2m0 .6v1.2m0 .6v1.2m0 .6v1.2m0 .6v1.2m0 4.2v1.2m0 4.2v1.2m0 2.4v1.2m0 9.6v1.2m0 4.2v1.2m0 .6v1.2m0 6v1.2m0 .6v1.2m0 .6v1.2m0 6v1.2m0 4.2v1.2m0 .6v1.2m0 11.4v1.2m0 .6v1.2m0 .6v1.2m0 9.6v1.2m0 .6v1.2m0 .6v1.2m0 .6v1.2m0 2.4v1.2m0 4.2v1.2m0 4.2v1.2m0 .6v1.2m0 .6v1.2m0 31.2v1.2m1.8-167.9v1.2m0 4.2v1.2m0 .6v1.2m0 2.4v1.2m0 6v1.2m0 4.2v1.2m0 .6v1.2m0 2.4v1.2m0 .6v1.2m0 .6v1.2m0 .6v1.2m0 2.4v1.2m0 .6v1.2m0 2.4v1.2m0 4.2v1.2m0 2.4v1.2m0 .6v1.2m0 6v1.2m0 2.4v1.2m0 2.4v1.2m0 .6v1.2m0 .6v1.2m0 4.2v1.2m0 4.2v1.2m0 .6v1.2m0 31.2v1.2m0 .6v1.2m0 4.2v1.2m0 2.4v1.2m0 6v1.2m1.9-134.1v1.2m0 6v1.2m0 4.2v1.2m0 4.2v1.2m0 4.2v1.2m0 .6v1.2m0 2.4v1.2m0 7.8v1.2m0 .6v1.2m0 .6v1.2m0 2.4v1.2m0 6v1.2m0 6v1.2m0 2.4v1.2m0 .6v1.2m0 .6v1.2m0 6v1.2m0 .6v1.2m0 6v1.2m0 .6v1.2m0 33v1.2m0 .6v1.2m0 2.4v1.2m0 .6v1.2m0 .6v1.2m0 .6v1.2m1.9-130.3v1.2m0 4.2v1.2m0 .6v1.2m0 2.4v1.2m0 .6v1.2m0 .6v1.2m0 .6v1.2m0 2.4v1.2m0 2.4v1.2m0 6v1.2m0 2.4v1.2m0 2.4v1.2m0 .6v1.2m0 2.4v1.2m0 .6v1.2m0 4.2v1.2m0 .6v1.2m0 20.4v1.2m0 9.6v1.2m0 .6v1.2m0 .6v1.2m0 33v1.2m0 7.8v1.2m0 2.4v1.2m1.9-139v1.2m0 .6v1.2m0 .6v1.2m0 .6v1.2m0 9.6v1.2m0 2.4v1.2m0 .6v1.2m0 6v1.2m0 .6v1.2m0 .6v1.2m0 2.4v1.2m0 2.4v1.2m0 6v1.2m0 .6v1.2m0 2.4v1.2m0 .6v1.2m0 4.2v1.2m0 11.4v1.2m0 .6v1.2m0 16.8v1.2m0 .6v1.2m0 25.8v1.2m0 .6v1.2m0 2.4v1.2m0 .6v1.2m0 .6v1.2m0 .6v1.2m0 2.4v1.2m0 4.2v1.2m1.8-142.6v1.2m0 .6v1.2m0 2.4v1.2m0 4.2v1.2m0 .6v1.2m0 4.2v1.2m0 .6v1.2m0 .6v1.2m0 2.4v1.2m0 .6v1.2m0 2.4v1.2m0 6v1.2m0 .6v1.2m0 .6v1.2m0 .6v1.2m0 .6v1.2m0 .6v1.2m0 2.4v1.2m0 2.4v1.2m0 .6v1.2m0 15v1.2m0 24v1.2m0 .6v1.2m0 .6v1.2m0 27.6v1.2m0 .6v1.2m0 25.8v1.2m0 .6v1.2m0 2.4v1.2m0 2.4v1.2m1.9-167.3v1.2m0 .6v1.2m0 2.4v1.2m0 6v1.2m0 4.2v1.2m0 .6v1.2m0 .6v1.2m0 .6v1.2m0 2.4v1.2m0 6v1.2m0 .6v1.2m0 2.4v1.2m0 .6v1.2m0 .6v1.2m0 .6v1.2m0 .6v1.2m0 .6v1.2m0 .6v1.2m0 9.6v1.2m0 2.4v1.2m0 .6v1.2m0 .6v1.2m0 29.4v1.2m0 .6v1.2m0 .6v1.2m0 27.6v1.2m0 2.4v1.2m0 4.2v1.2m0 .6v1.2m0 .6v1.2m0 13.2v1.2m0 .6v1.2m0 2.4v1.2m0 .6v1.2m1.9-166.7v1.2m0 2.4v1.2m0 4.2v1.2m0 .6v1.2m0 .6v1.2m0 4.2v1.2m0 .6v1.2m0 .6v1.2m0 .6v1.2m0 .6v1.2m0 .6v1.2m0 2.4v1.2m0 .6v1.2m0 6v1.2m0 15v1.2m0 2.4v1.2m0 .6v1.2m0 .6v1.2m0 .6v1.2m0 36.6v1.2m0 .6v1.2m0 31.2v1.2m0 .6v1.2m0 27.6v1.2m1.8-152.1v1.2m0 2.4v1.2m0 2.4v1.2m0 29.4v1.2m0 .6v1.2m0 .6v1.2m0 .6v1.2m0 .6v1.2m0 2.4v1.2m0 34.8v1.2m0 .6v1.2m0 .6v1.2m0 4.2v1.2m0 29.4v1.2m0 .6v1.2m0 2.4v1.2m0 16.8v1.2m1.9-160.2v1.2m0 2.4v1.2m0 .6v1.2m0 34.8v1.2m0 .6v1.2m0 .6v1.2m0 4.2v1.2m0 .6v1.2m0 .6v1.2m0 .6v1.2m0 .6v1.2m0 .6v1.2m0 34.8v1.2m0 4.2v1.2m0 2.4v1.2m0 33v1.2m0 20.4v1.2m1.9-165.2v1.2m0 .6v1.2m0 .6v1.2m0 .6v1.2m0 .6v1.2m0 6v1.2m0 25.8v1.2m0 .6v1.2m0 .6v1.2m0 .6v1.2m0 .6v1.2m0 54.6v1.2m0 .6v1.2m0 2.4v1.2m0 2.4v1.2m0 .6v1.2m0 2.4v1.2m0 27.6v1.2m1.8-151v1.2m0 38.4v1.2m0 2.4v1.2m0 .6v1.2m0 .6v1.2m0 .6v1.2m0 .6v1.2m0 2.4v1.2m0 2.4v1.2m0 2.4v1.2m0 .6v1.2m0 2.4v1.2m0 31.2v1.2m0 4.2v1.2m0 2.4v1.2m0 .6v1.2m0 .6v1.2m0 2.4v1.2m0 .6v1.2m0 .6v1.2m0 .6v1.2m0 .6v1.2m1.9-121.4v1.2m0 .6v1.2m0 16.8v1.2m0 .6v1.2m0 .6v1.2m0 .6v1.2m0 .6v1.2m0 .6v1.2m0 .6v1.2m0 .6v1.2m0 2.4v1.2m0 78v1.2m0 .6v1.2m0 2.4v1.2m0 .6v1.2m0 24v1.2m0 .6v1.2m0 .6v1.2m0 13.2v1.2" stroke="#c6d9e8" stroke-width="1.0" fill="none"/>
<path d="M38 574.3v1.3m0 4.1v1.3m0 14.9v1.3m0 2.3v1.3m0 2.3v1.3m0 31.1v1.3m0 2.3v1.3m0 7.7v1.3m0 9.5v1.3m0 .5v1.3m0 .5v1.3m0 5.9v1.3m0 2.3v1.3m1.9-99.4v1.3m0 2.3v1.3m0 14.9v1.3m0 7.7v1.3m0 23.9v1.3m0 .5v1.3m0 5.9v1.3m0 9.5v1.3m0 .5v1.3m0 .5v1.3m0 4.1v1.3m0 2.3v1.3m0 .5v1.3m1.8-143.4v1.3m0 50.9v1.3m0 .5v1.3m0 18.5v1.3m0 4.1v1.3m0 4.1v1.3m0 11.3v1.3m0 .5v1.3m0 4.1v1.3m0 .5v1.3m0 .5v1.3m0 .5v1.3m0 4.1v1.3m0 2.3v1.3m0 2.3v1.3m0 4.1v1.3m0 .5v1.3m0 .5v1.3m0 4.1v1.3m0 .5v1.3m0 4.1v1.3m0 4.1v1.3m0 4.1v1.3m1.9-98.1v1.3m0 14.9v1.3m0 7.7v1.3m0 9.5v1.3m0 2.3v1.3m0 7.7v1.3m0 .5v1.3m0 .5v1.3m0 .5v1.3m0 7.7v1.3m0 2.3v1.3m0 2.3v1.3m0 5.9v1.3m0 .5v1.3m0 .5v1.3m0 2.3v1.3m0 .5v1.3m0 .5v1.3m0 4.1v1.3m0 .5v1.3m0 .5v1.3m1.9-170v1.3m0 65.3v1.3m0 4.1v1.3m0 14.9v1.3m0 2.3v1.3m0 4.1v1.3m0 .5v1.3m0 14.9v1.3m0 .5v1.3m0 .5v1.3m0 2.3v1.3m0 .5v1.3m0 4.1v1.3m0 2.3v1.3m0 4.1v1.3m0 .5v1.3m0 .5v1.3m0 .5v1.3m0 2.3v1.3m0 .5v1.3m0 2.3v1.3m0 .5v1.3m0 4.1v1.3m0 4.1v1.3m1.8-168v1.3m0 2.3v1.3m0 .5v1.3m0 61.7v1.3m0 2.3v1.3m0 2.3v1.3m0 13.1v1.3m0 2.3v1.3m0 .5v1.3m0 38.3v1.3m0 .5v1.3m0 .5v1.3m0 2.3v1.3m0 .5v1.3m0 .5v1.3m0 4.1v1.3m0 .5v1.3m0 .5v1.3m0 .5v1.3m0 .5v1.3m0 .5v1.3m0 .5v1.3m0 .5v1.3m0 .5v1.3m0 .5v1.3m1.9-164.5v1.3m0 .5v1.3m0 .5v1.3m0 .5v1.3m0 .5v1.3m0 .5v1.3m0 58.1v1.3m0 4.1v1.3m0 .5v1.3m0 .5v1.3m0 .5v1.3m0 4.1v1.3m0 4.1v1.3m0 4.1v1.3m0 23.9v1.3m0 2.3v1.3m0 .5v1.3m0 .5v1.3m0 .5v1.3m0 .5v1.3m0 .5v1.3m0 .5v1.3m0 9.5v1.3m0 2.3v1.3m0 .5v1.3m0 .5v1.3m0 .5v1.3m0 .5v1.3m1.9-161.8v1.3m0 9.5v1.3m0 .5v1.3m0 58.1v1.3m0 .5v1.3m0 2.3v1.3m0 4.1v1.3m0 5.9v1.3m0 2.3v1.3m0 4.1v1.3m0 18.5v1.3m0 4.1v1.3m0 .5v1.3m0 .5v1.3m0 2.3v1.3m0 .5v1.3m0 .5v1.3m0 .5v1.3m0 9.5v1.3m0 .5v1.3m0 .5v1.3m0 2.3v1.3m1.9-156.5v1.3m0 .5v1.3m0 .5v1.3m0 11.3v1.3m0 .5v1.3m0 .5v1.3m0 47.3v1.3m0 2.3v1.3m0 4.1v1.3m0 4.1v1.3m0 .5v1.3m0 4.1v1.3m0 4.1v1.3m0 4.1v1.3m0 .5v1.3m0 16.7v1.3m0 4.1v1.3m0 .5v1.3m0 13.1v1.3m0 .5v1.3m0 .5v1.3m1.8-146.7v1.3m0 2.3v1.3m0 2.3v1.3m0 .5v1.3m0 9.5v1.3m0 .5v1.3m0 2.3v1.3m0 .5v1.3m0 .5v1.3m0 .5v1.3m0 34.7v1.3m0 4.1v1.3m0 .5v1.3m0 2.3v1.3m0 .5v1.3m0 2.3v1.3m0 5.9v1.3m0 4.1v1.3m0 4.1v1.3m0 14.9v1.3m0 .5v1.3m0 .5v1.3m0 .5v1.3m0 .5v1.3m0 11.3v1.3m1.9-128.6v1.3m0 .5v1.3m0 .5v1.3m0 13.1v1.3m0 2.3v1.3m0 2.3v1.3m0 32.9v1.3m0 .5v1.3m0 .5v1.3m0 .5v1.3m0 2.3v1.3m0 4.1v1.3m0 5.9v1.3m0 4.1v1.3m0 2.3v1.3m0 .5v1.3m0 11.3v1.3m0 .5v1.3m0 .5v1.3m0 .5v1.3m0 9.5v1.3m0 5.9v1.3m0 13.1v1.3m0 2.3v1.3m0 7.7v1.3m0 .5v1.3m0 .5v1.3m1.9-154.9v1.3m0 .5v1.3m0 .5v1.3m0 13.1v1.3m0 .5v1.3m0 2.3v1.3m0 34.7v1.3m0 2.3v1.3m0 .5v1.3m0 2.3v1.3m0 7.7v1.3m0 7.7v1.3m0 7.7v1.3m0 2.3v1.3m0 .5v1.3m0 5.9v1.3m0 .5v1.3m0 2.3v1.3m0 18.5v1.3m0 .5v1.3m0 .5v1.3m0 2.3v1.3m0 2.3v1.3m0 2.3v1.3m0 .5v1.3m0 4.1v1.3m1.8-159v1.3m0 7.7v1.3m0 .5v1.3m0 .5v1.3m0 13.1v1.3m0 .5v1.3m0 .5v1.3m0 2.3v1.3m0 27.5v1.3m0 2.3v1.3m0 .5v1.3m0 2.3v1.3m0 5.9v1.3m0 .5v1.3m0 .5v1.3m0 .5v1.3m0 2.3v1.3m0 .5v1.3m0 .5v1.3m0 .5v1.3m0 .5v1.3m0 27.5v1.3m0 .5v1.3m0 4.1v1.3m0 2.3v1.3m0 .5v1.3m0 .5v1.3m0 .5v1.3m0 2.3v1.3m0 .5v1.3m0 5.9v1.3m0 .5v1.3m0 .5v1.3m1.9-143v1.3m0 2.3v1.3m0 .5v1.3m0 .5v1.3m0 9.5v1.3m0 .5v1.3m0 .5v1.3m0 .5v1.3m0 22.1v1.3m0 9.5v1.3m0 14.9v1.3m0 .5v1.3m0 .5v1.3m0 7.7v1.3m0 18.5v1.3m0 2.3v1.3m0 .5v1.3m0 .5v1.3m0 .5v1.3m0 4.1v1.3m0 9.5v1.3m0 9.5v1.3m1.9-134.7v1.3m0 .5v1.3m0 .5v1.3m0 .5v1.3m0 11.3v1.3m0 .5v1.3m0 18.5v1.3m0 2.3v1.3m0 .5v1.3m0 2.3v1.3m0 9.5v1.3m0 9.5v1.3m0 .5v1.3m0 .5v1.3m0 9.5v1.3m0 .5v1.3m0 2.3v1.3m0 2.3v1.3m0 .5v1.3m0 .5v1.3m0 .5v1.3m0 .5v1.3m0 2.3v1.3m0 .5v1.3m0 4.1v1.3m0 .5v1.3m0 .5v1.3m0 .5v1.3m0 2.3v1.3m0 2.3v1.3m0 .5v1.3m0 2.3v1.3m0 2.3v1.3m1.8-128v1.3m0 .5v1.3m0 .5v1.3m0 .5v1.3m0 11.3v1.3m0 .5v1.3m0 2.3v1.3m0 2.3v1.3m0 4.1v1.3m0 4.1v1.3m0 4.1v1.3m0 4.1v1.3m0 .5v1.3m0 5.9v1.3m0 2.3v1.3m0 .5v1.3m0 .5v1.3m0 .5v1.3m0 9.5v1.3m0 .5v1.3m0 .5v1.3m0 2.3v1.3m0 2.3v1.3m0 .5v1.3m0 .5v1.3m0 5.9v1.3m0 9.5v1.3m0 5.9v1.3m1.9-159.8v1.3m0 .5v1.3m0 13.1v1.3m0 31.1v1.3m0 .5v1.3m0 .5v1.3m0 .5v1.3m0 .5v1.3m0 11.3v1.3m0 .5v1.3m0 .5v1.3m0 .5v1.3m0 2.3v1.3m0 .5v1.3m0 4.1v1.3m0 .5v1.3m0 .5v1.3m0 .5v1.3m0 4.1v1.3m0 .5v1.3m0 .5v1.3m0 .5v1.3m0 .5v1.3m0 .5v1.3m0 .5v1.3m0 7.7v1.3m0 .5v1.3m0 .5v1.3m0 2.3v1.3m0 .5v1.3m0 .5v1.3m0 2.3v1.3m0 .5v1.3m0 7.7v1.3m0 .5v1.3m0 .5v1.3m0 7.7v1.3m0 5.9v1.3m0 5.9v1.3m1.9-114.8v1.3m0 .5v1.3m0 .5v1.3m0 2.3v1.3m0 .5v1.3m0 14.9v1.3m0 4.1v1.3m0 .5v1.3m0 5.9v1.3m0 9.5v1.3m0 7.7v1.3m0 .5v1.3m0 .5v1.3m0 .5v1.3m0 13.1v1.3m0 16.7v1.3m0 .5v1.3m0 9.5v1.3m0 .5v1.3m1.9-165.3v1.3m0 4.1v1.3m0 5.9v1.3m0 2.3v1.3m0 43.7v1.3m0 2.3v1.3m0 .5v1.3m0 .5v1.3m0 7.7v1.3m0 2.3v1.3m0 .5v1.3m0 5.9v1.3m0 .5v1.3m0 7.7v1.3m0 .5v1.3m0 7.7v1.3m0 .5v1.3m0 .5v1.3m0 .5v1.3m0 .5v1.3m0 .5v1.3m0 .5v1.3m0 5.9v1.3m0 2.3v1.3m0 11.3v1.3m0 .5v1.3m0 .5v1.3m0 4.1v1.3m0 4.1v1.3m0 .5v1.3m0 .5v1.3m0 2.3v1.3m1.8-109.5v1.3m0 .5v1.3m0 .5v1.3m0 13.1v1.3m0 .5v1.3m0 .5v1.3m0 .5v1.3m0 .5v1.3m0 4.1v1.3m0 11.3v1.3m0 .5v1.3m0 2.3v1.3m0 .5v1.3m0 .5v1.3m0 .5v1.3m0 4.1v1.3m0 .5v1.3m0 2.3v1.3m0 .5v1.3m0 .5v1.3m0 11.3v1.3m0 .5v1.3m0 4.1v1.3m0 4.1v1.3m0 .5v1.3m0 2.3v1.3m0 5.9v1.3m1.9-113v1.3m0 .5v1.3m0 .5v1.3m0 .5v1.3m0 13.1v1.3m0 11.3v1.3m0 .5v1.3m0 2.3v1.3m0 18.5v1.3m0 .5v1.3m0 .5v1.3m0 .5v1.3m0 .5v1.3m0 .5v1.3m0 4.1v1.3m0 2.3v1.3m0 4.1v1.3m0 2.3v1.3m0 4.1v1.3m0 2.3v1.3m0 2.3v1.3m0 2.3v1.3m0 .5v1.3m0 .5v1.3m0 .5v1.3m0 .5v1.3m1.9-113.7v1.3m0 .5v1.3m0 .5v1.3m0 13.1v1.3m0 .5v1.3m0 .5v1.3m0 16.7v1.3m0 5.9v1.3m0 .5v1.3m0 5.9v1.3m0 11.3v1.3m0 .5v1.3m0 2.3v1.3m0 2.3v1.3m0 .5v1.3m0 2.3v1.3m0 2.3v1.3m0 .5v1.3m0 2.3v1.3m0 .5v1.3m0 2.3v1.3m0 .5v1.3m0 .5v1.3m0 5.9v1.3m0 .5v1.3m0 .5v1.3m0 .5v1.3m0 2.3v1.3m1.8-125.7v1.3m0 .5v1.3m0 .5v1.3m0 .5v1.3m0 13.1v1.3m0 .5v1.3m0 .5v1.3m0 40.1v1.3m0 .5v1.3m0 7.7v1.3m0 .5v1.3m0 .5v1.3m0 4.1v1.3m0 .5v1.3m0 .5v1.3m0 2.3v1.3m0 4.1v1.3m0 5.9v1.3m0 .5v1.3m0 5.9v1.3m0 .5v1.3m0 .5v1.3m0 .5v1.3m0 .5v1.3m0 2.3v1.3m0 .5v1.3m1.9-134v1.3m0 .5v1.3m0 .5v1.3m0 .5v1.3m0 13.1v1.3m0 2.3v1.3m0 2.3v1.3m0 40.1v1.3m0 .5v1.3m0 2.3v1.3m0 2.3v1.3m0 5.9v1.3m0 2.3v1.3m0 .5v1.3m0 7.7v1.3m0 .5v1.3m0 2.3v1.3m0 7.7v1.3m0 4.1v1.3m0 2.3v1.3m0 .5v1.3m0 .5v1.3m1.9-131.8v1.3m0 .5v1.3m0 .5v1.3m0 13.1v1.3m0 2.3v1.3m0 45.5v1.3m0 .5v1.3m0 5.9v1.3m0 .5v1.3m0 .5v1.3m0 9.5v1.3m0 2.3v1.3m0 2.3v1.3m0 7.7v1.3m0 .5v1.3m0 9.5v1.3m0 .5v1.3m0 .5v1.3m0 .5v1.3m0 2.3v1.3m0 .5v1.3m0 4.1v1.3m1.9-141.3v1.3m0 .5v1.3m0 .5v1.3m0 11.3v1.3m0 2.3v1.3m0 54.5v1.3m0 .5v1.3m0 4.1v1.3m0 .5v1.3m0 .5v1.3m0 .5v1.3m0 .5v1.3m0 7.7v1.3m0 .5v1.3m0 .5v1.3m0 9.5v1.3m0 9.5v1.3m0 .5v1.3m0 4.1v1.3m0 .5v1.3m0 .5v1.3m0 .5v1.3m1.8-153.4v1.3m0 4.1v1.3m0 2.3v1.3m0 .5v1.3m0 14.9v1.3m0 63.5v1.3m0 .5v1.3m0 .5v1.3m0 .5v1.3m0 5.9v1.3m0 13.1v1.3m0 2.3v1.3m0 4.1v1.3m0 .5v1.3m0 2.3v1.3m0 2.3v1.3m0 .5v1.3m0 .5v1.3m1.9-154v1.3m0 5.9v1.3m0 .5v1.3m0 .5v1.3m0 18.5v1.3m0 2.3v1.3m0 2.3v1.3m0 .5v1.3m0 63.5v1.3m0 .5v1.3m0 .5v1.3m0 .5v1.3m0 2.3v1.3m0 7.7v1.3m0 20.3v1.3m0 .5v1.3m0 4.1v1.3m0 11.3v1.3m1.9-162.8v1.3m0 .5v1.3m0 .5v1.3m0 .5v1.3m0 2.3v1.3m0 11.3v1.3m0 .5v1.3m0 .5v1.3m0 .5v1.3m0 .5v1.3m0 79.7v1.3m0 .5v1.3m0 .5v1.3m0 22.1v1.3m0 .5v1.3m0 4.1v1.3m0 .5v1.3m0 2.3v1.3m0 .5v1.3m0 .5v1.3m0 7.7v1.3m0 .5v1.3m1.8-169v1.3m0 .5v1.3m0 .5v1.3m0 14.9v1.3m0 .5v1.3m0 .5v1.3m0 .5v1.3m0 .5v1.3m0 88.7v1.3m0 .5v1.3m0 .5v1.3m0 20.3v1.3m0 .5v1.3m0 .5v1.3m0 .5v1.3m0 .5v1.3m0 .5v1.3m0 .5v1.3m0 .5v1.3m0 9.5v1.3m0 .5v1.3m1.9-168.8v1.3m0 .5v1.3m0 13.1v1.3m0 .5v1.3m0 .5v1.3m0 99.5v1.3m0 2.3v1.3m0 2.3v1.3m0 5.9v1.3m0 7.7v1.3m0 .5v1.3m0 .5v1.3m0 2.3v1.3m0 11.3v1.3m0 .5v1.3m0 .5v1.3m1.9-159.6v1.3m0 .5v1.3m0 .5v1.3m0 .5v1.3m0 .5v1.3m0 103.1v1.3m0 2.3v1.3m0 .5v1.3m0 .5v1.3m0 2.3v1.3m0 5.9v1.3m0 7.7v1.3m0 .5v1.3m0 .5v1.3m0 4.1v1.3m0 7.7v1.3m0 .5v1.3m0 .5v1.3m1.8-154.7v1.3m0 .5v1.3m0 .5v1.3m0 92.3v1.3m0 4.1v1.3m0 5.9v1.3m0 27.5v1.3m0 13.1v1.3m1.9-162v1.3m0 .5v1.3m0 7.7v1.3m0 2.3v1.3m0 94.1v1.3m0 .5v1.3m0 4.1v1.3m0 7.7v1.3m0 .5v1.3m0 29.3v1.3m1.9-167.1v1.3m0 2.3v1.3m0 2.3v1.3m0 .5v1.3m0 .5v1.3m0 7.7v1.3m0 101.3v1.3m0 4.1v1.3m0 2.3v1.3m0 2.3v1.3m0 2.3v1.3m0 18.5v1.3m1.9-147.5v1.3m0 .5v1.3m0 .5v1.3m0 5.9v1.3m0 .5v1.3m0 97.7v1.3m0 4.1v1.3m0 .5v1.3m0 .5v1.3m0 2.3v1.3m0 .5v1.3m0 .5v1.3m0 .5v1.3m0 2.3v1.3m0 20.3v1.3m1.8-166.4v1.3m0 2.3v1.3m0 .5v1.3m0 .5v1.3m0 2.3v1.3m0 .5v1.3m0 .5v1.3m0 9.5v1.3m0 79.7v1.3m0 2.3v1.3m0 9.5v1.3m0 2.3v1.3m0 2.3v1.3m0 2.3v1.3m0 2.3v1.3m0 2.3v1.3m0 2.3v1.3m1.9-127.1v1.3m0 .5v1.3m0 5.9v1.3m0 .5v1.3m0 88.7v1.3m0 14.9v1.3m0 4.1v1.3m0 .5v1.3m0 .5v1.3m0 .5v1.3m0 .5v1.3m0 .5v1.3m0 .5v1.3m1.9-133.2v1.3m0 .5v1.3m0 7.7v1.3m0 81.5v1.3m0 2.3v1.3m0 5.9v1.3m0 .5v1.3m0 2.3v1.3m0 5.9v1.3m0 5.9v1.3m0 23.9v1.3m1.8-163.5v1.3m0 .5v1.3m0 13.1v1.3m0 .5v1.3m0 4.1v1.3m0 .5v1.3m0 72.5v1.3m0 7.7v1.3m0 .5v1.3m0 .5v1.3m0 .5v1.3m0 2.3v1.3m0 4.1v1.3m0 4.1v1.3m0 4.1v1.3m0 2.3v1.3m0 23.9v1.3m1.9-161.8v1.3m0 23.9v1.3m0 76.1v1.3m0 .5v1.3m0 .5v1.3m0 4.1v1.3m0 2.3v1.3m0 2.3v1.3m0 5.9v1.3m0 2.3v1.3m1.9-126.7v1.3m0 18.5v1.3m0 83.3v1.3m0 2.3v1.3m0 .5v1.3m0 2.3v1.3m0 .5v1.3m0 5.9v1.3m0 4.1v1.3m0 .5v1.3m0 .5v1.3m0 14.9v1.3m1.8-135.1v1.3m0 4.1v1.3m0 88.7v1.3m0 2.3v1.3m0 .5v1.3m0 2.3v1.3m0 2.3v1.3m0 .5v1.3m0 .5v1.3m0 .5v1.3m0 .5v1.3m0 .5v1.3m0 .5v1.3m0 .5v1.3m0 .5v1.3m0 .5v1.3m0 4.1v1.3m0 2.3v1.3m1.9-151.4v1.3m0 .5v1.3m0 13.1v1.3m0 4.1v1.3m0 104.9v1.3m0 11.3v1.3m0 .5v1.3m0 14.9v1.3m1.9-165.9v1.3m0 2.3v1.3m0 .5v1.3m0 2.3v1.3m0 .5v1.3m0 .5v1.3m0 .5v1.3m0 5.9v1.3m0 5.9v1.3m0 .5v1.3m0 74.3v1.3m0 5.9v1.3m0 .5v1.3m0 .5v1.3m0 .5v1.3m0 2.3v1.3m0 5.9v1.3m0 .5v1.3m0 2.3v1.3m0 .5v1.3m0 2.3v1.3m0 2.3v1.3m0 .5v1.3m0 .5v1.3m0 .5v1.3m0 .5v1.3m1.9-150.2v1.3m0 9.5v1.3m0 4.1v1.3m0 7.7v1.3m0 86.9v1.3m0 2.3v1.3m0 .5v1.3m0 .5v1.3m0 .5v1.3m0 .5v1.3m0 .5v1.3m0 .5v1.3m0 .5v1.3m0 .5v1.3m0 .5v1.3m0 .5v1.3m0 4.1v1.3m0 .5v1.3m0 .5v1.3m0 4.1v1.3m0 11.3v1.3m1.8-168.6v1.3m0 11.3v1.3m0 .5v1.3m0 .5v1.3m0 .5v1.3m0 2.3v1.3m0 5.9v1.3m0 .5v1.3m0 .5v1.3m0 83.3v1.3m0 .5v1.3m0 .5v1.3m0 .5v1.3m0 9.5v1.3m0 2.3v1.3m0 .5v1.3m0 4.1v1.3m0 2.3v1.3m0 .5v1.3m0 .5v1.3m1.9-151.7v1.3m0 .5v1.3m0 .5v1.3m0 7.7v1.3m0 4.1v1.3m0 .5v1.3m0 7.7v1.3m0 .5v1.3m0 79.7v1.3m0 4.1v1.3m0 .5v1.3m0 .5v1.3m0 7.7v1.3m0 4.1v1.3m0 .5v1.3m0 9.5v1.3m0 2.3v1.3m0 14.9v1.3m1.9-167.9v1.3m0 7.7v1.3m0 18.5v1.3m0 .5v1.3m0 .5v1.3m0 74.3v1.3m0 .5v1.3m0 2.3v1.3m0 4.1v1.3m0 7.7v1.3m0 .5v1.3m0 4.1v1.3m0 7.7v1.3m0 4.1v1.3m0 14.9v1.3m1.8-169.9v1.3m0 .5v1.3m0 18.5v1.3m0 5.9v1.3m0 .5v1.3m0 81.5v1.3m0 .5v1.3m0 2.3v1.3m0 .5v1.3m0 4.1v1.3m0 4.1v1.3m0 .5v1.3m0 2.3v1.3m0 29.3v1.3m0 .5v1.3m1.9-170.4v1.3m0 .5v1.3m0 5.9v1.3m0 .5v1.3m0 .5v1.3m0 7.7v1.3m0 4.1v1.3m0 .5v1.3m0 81.5v1.3m0 .5v1.3m0 .5v1.3m0 .5v1.3m0 2.3v1.3m0 .5v1.3m0 5.9v1.3m0 5.9v1.3m0 29.3v1.3m0 .5v1.3m1.9-161.6v1.3m0 13.1v1.3m0 4.1v1.3m0 .5v1.3m0 2.3v1.3m0 .5v1.3m0 .5v1.3m0 70.7v1.3m0 .5v1.3m0 4.1v1.3m0 2.3v1.3m0 4.1v1.3m0 32.9v1.3m0 5.9v1.3m1.8-168.4v1.3m0 .5v1.3m0 2.3v1.3m0 .5v1.3m0 .5v1.3m0 7.7v1.3m0 2.3v1.3m0 .5v1.3m0 .5v1.3m0 4.1v1.3m0 4.1v1.3m0 79.7v1.3m0 .5v1.3m0 .5v1.3m0 2.3v1.3m0 16.7v1.3m0 13.1v1.3m0 .5v1.3m0 5.9v1.3m0 .5v1.3m0 .5v1.3m1.9-165.9v1.3m0 .5v1.3m0 11.3v1.3m0 .5v1.3m0 13.1v1.3m0 .5v1.3m0 .5v1.3m0 .5v1.3m0 2.3v1.3m0 59.9v1.3m0 2.3v1.3m0 .5v1.3m0 2.3v1.3m0 20.3v1.3m0 2.3v1.3m0 .5v1.3m0 13.1v1.3m0 .5v1.3m0 7.7v1.3m0 .5v1.3m1.9-164.7v1.3m0 .5v1.3m0 7.7v1.3m0 2.3v1.3m0 2.3v1.3m0 .5v1.3m0 .5v1.3m0 .5v1.3m0 .5v1.3m0 11.3v1.3m0 .5v1.3m0 .5v1.3m0 52.7v1.3m0 .5v1.3m0 4.1v1.3m0 23.9v1.3m0 16.7v1.3m0 .5v1.3m0 2.3v1.3m0 5.9v1.3m0 4.1v1.3m1.9-165.8v1.3m0 7.7v1.3m0 .5v1.3m0 2.3v1.3m0 2.3v1.3m0 .5v1.3m0 4.1v1.3m0 .5v1.3m0 2.3v1.3m0 .5v1.3m0 .5v1.3m0 14.9v1.3m0 .5v1.3m0 .5v1.3m0 .5v1.3m0 2.3v1.3m0 .5v1.3m0 .5v1.3m0 23.9v1.3m0 .5v1.3m0 .5v1.3m0 .5v1.3m0 .5v1.3m0 31.1v1.3m0 2.3v1.3m0 .5v1.3m0 13.1v1.3m0 .5v1.3m0 .5v1.3m0 9.5v1.3m0 2.3v1.3m1.8-165.2v1.3m0 7.7v1.3m0 4.1v1.3m0 5.9v1.3m0 2.3v1.3m0 .5v1.3m0 5.9v1.3m0 .5v1.3m0 .5v1.3m0 .5v1.3m0 4.1v1.3m0 11.3v1.3m0 .5v1.3m0 .5v1.3m0 .5v1.3m0 18.5v1.3m0 .5v1.3m0 .5v1.3m0 .5v1.3m0 11.3v1.3m0 .5v1.3m0 4.1v1.3m0 32.9v1.3m0 20.3v1.3m1.9-171.1v1.3m0 .5v1.3m0 .5v1.3m0 7.7v1.3m0 .5v1.3m0 .5v1.3m0 2.3v1.3m0 .5v1.3m0 4.1v1.3m0 4.1v1.3m0 2.3v1.3m0 .5v1.3m0 .5v1.3m0 .5v1.3m0 .5v1.3m0 .5v1.3m0 4.1v1.3m0 .5v1.3m0 .5v1.3m0 .5v1.3m0 .5v1.3m0 .5v1.3m0 .5v1.3m0 23.9v1.3m0 .5v1.3m0 9.5v1.3m0 .5v1.3m0 2.3v1.3m0 .5v1.3m0 .5v1.3m0 .5v1.3m0 .5v1.3m0 2.3v1.3m0 2.3v1.3m0 11.3v1.3m0 25.7v1.3m0 2.3v1.3m0 .5v1.3m0 .5v1.3m0 .5v1.3m1.9-167.6v1.3m0 7.7v1.3m0 .5v1.3m0 .5v1.3m0 43.7v1.3m0 4.1v1.3m0 .5v1.3m0 .5v1.3m0 4.1v1.3m0 11.3v1.3m0 4.1v1.3m0 .5v1.3m0 .5v1.3m0 5.9v1.3m0 13.1v1.3m0 .5v1.3m0 .5v1.3m0 .5v1.3m0 23.9v1.3m0 .5v1.3m0 .5v1.3m0 5.9v1.3m0 .5v1.3m0 .5v1.3m0 .5v1.3m0 2.3v1.3m0 .5v1.3m1.8-167.5v1.3m0 5.9v1.3m0 .5v1.3m0 40.1v1.3m0 .5v1.3m0 .5v1.3m0 2.3v1.3m0 .5v1.3m0 23.9v1.3m0 7.7v1.3m0 .5v1.3m0 .5v1.3m0 .5v1.3m0 14.9v1.3m0 .5v1.3m0 .5v1.3m0 7.7v1.3m0 18.5v1.3m0 .5v1.3m0 .5v1.3m0 .5v1.3m0 .5v1.3m0 2.3v1.3m0 .5v1.3m0 .5v1.3m0 .5v1.3m1.9-164.5v1.3m0 .5v1.3m0 5.9v1.3m0 11.3v1.3m0 7.7v1.3m0 .5v1.3m0 7.7v1.3m0 .5v1.3m0 .5v1.3m0 .5v1.3m0 11.3v1.3m0 .5v1.3m0 .5v1.3m0 22.1v1.3m0 .5v1.3m0 9.5v1.3m0 .5v1.3m0 .5v1.3m0 .5v1.3m0 18.5v1.3m0 .5v1.3m0 9.5v1.3m0 .5v1.3m0 .5v1.3m0 4.1v1.3m0 2.3v1.3m0 .5v1.3m0 .5v1.3m0 .5v1.3m0 2.3v1.3m0 .5v1.3m0 .5v1.3m0 2.3v1.3m1.9-167.9v1.3m0 9.5v1.3m0 2.3v1.3m0 5.9v1.3m0 .5v1.3m0 2.3v1.3m0 2.3v1.3m0 .5v1.3m0 .5v1.3m0 .5v1.3m0 .5v1.3m0 13.1v1.3m0 .5v1.3m0 .5v1.3m0 .5v1.3m0 .5v1.3m0 .5v1.3m0 29.3v1.3m0 .5v1.3m0 7.7v1.3m0 .5v1.3m0 .5v1.3m0 .5v1.3m0 4.1v1.3m0 2.3v1.3m0 20.3v1.3m0 .5v1.3m0 7.7v1.3m0 .5v1.3m0 2.3v1.3m0 .5v1.3m0 .5v1.3m0 .5v1.3m0 .5v1.3m0 2.3v1.3m0 .5v1.3m1.8-160.6v1.3m0 .5v1.3m0 .5v1.3m0 .5v1.3m0 .5v1.3m0 2.3v1.3m0 .5v1.3m0 .5v1.3m0 2.3v1.3m0 14.9v1.3m0 .5v1.3m0 .5v1.3m0 2.3v1.3m0 .5v1.3m0 .5v1.3m0 5.9v1.3m0 32.9v1.3m0 .5v1.3m0 14.9v1.3m0 .5v1.3m0 .5v1.3m0 5.9v1.3m0 18.5v1.3m0 .5v1.3m0 5.9v1.3m0 4.1v1.3m0 .5v1.3m0 2.3v1.3m0 .5v1.3m1.9-167.6v1.3m0 2.3v1.3m0 4.1v1.3m0 4.1v1.3m0 .5v1.3m0 .5v1.3m0 .5v1.3m0 .5v1.3m0 14.9v1.3m0 .5v1.3m0 .5v1.3m0 2.3v1.3m0 2.3v1.3m0 49.1v1.3m0 .5v1.3m0 .5v1.3m0 .5v1.3m0 13.1v1.3m0 5.9v1.3m0 .5v1.3m0 11.3v1.3m0 .5v1.3m0 2.3v1.3m0 .5v1.3m0 4.1v1.3m0 .5v1.3m0 5.9v1.3m0 .5v1.3m0 .5v1.3m0 .5v1.3m1.9-167v1.3m0 .5v1.3m0 5.9v1.3m0 4.1v1.3m0 11.3v1.3m0 .5v1.3m0 .5v1.3m0 .5v1.3m0 68.9v1.3m0 .5v1.3m0 .5v1.3m0 16.7v1.3m0 9.5v1.3m0 .5v1.3m0 .5v1.3m0 2.3v1.3m0 .5v1.3m0 .5v1.3m0 4.1v1.3m0 .5v1.3m0 .5v1.3m0 2.3v1.3m0 5.9v1.3m0 .5v1.3m1.9-169.6v1.3m0 .5v1.3m0 7.7v1.3m0 2.3v1.3m0 .5v1.3m0 .5v1.3m0 .5v1.3m0 .5v1.3m0 .5v1.3m0 .5v1.3m0 .5v1.3m0 .5v1.3m0 2.3v1.3m0 72.5v1.3m0 .5v1.3m0 .5v1.3m0 13.1v1.3m0 .5v1.3m0 11.3v1.3m0 .5v1.3m0 2.3v1.3m0 4.1v1.3m0 5.9v1.3m0 .5v1.3m0 2.3v1.3m0 2.3v1.3m0 .5v1.3m1.8-165.5v1.3m0 110.3v1.3m0 4.1v1.3m0 .5v1.3m0 .5v1.3m0 .5v1.3m0 .5v1.3m0 32.9v1.3m0 5.9v1.3m1.9-169.2v1.3m0 .5v1.3m0 5.9v1.3m0 5.9v1.3m0 .5v1.3m0 .5v1.3m0 88.7v1.3m0 7.7v1.3m0 2.3v1.3m0 11.3v1.3m0 .5v1.3m0 4.1v1.3m0 .5v1.3m0 2.3v1.3m0 .5v1.3m0 .5v1.3m0 .5v1.3m0 .5v1.3m0 4.1v1.3m0 .5v1.3m0 .5v1.3m0 2.3v1.3m1.9-169.8v1.3m0 .5v1.3m0 7.7v1.3m0 .5v1.3m0 .5v1.3m0 .5v1.3m0 .5v1.3m0 90.5v1.3m0 .5v1.3m0 13.1v1.3m0 5.9v1.3m0 .5v1.3m0 .5v1.3m0 .5v1.3m0 5.9v1.3m0 2.3v1.3m0 5.9v1.3m1.8-156.5v1.3m0 .5v1.3m0 13.1v1.3m0 88.7v1.3m0 11.3v1.3m0 4.1v1.3m0 .5v1.3m0 5.9v1.3m0 .5v1.3m0 .5v1.3m0 .5v1.3m0 4.1v1.3m0 16.7v1.3m0 .5v1.3m1.9-167.5v1.3m0 .5v1.3m0 .5v1.3m0 5.9v1.3m0 .5v1.3m0 14.9v1.3m0 2.3v1.3m0 70.7v1.3m0 .5v1.3m0 .5v1.3m0 11.3v1.3m0 .5v1.3m0 13.1v1.3m0 .5v1.3m0 .5v1.3m0 5.9v1.3m0 2.3v1.3m0 2.3v1.3m0 .5v1.3m0 5.9v1.3m0 .5v1.3m0 .5v1.3m0 .5v1.3m1.9-168.4v1.3m0 7.7v1.3m0 .5v1.3m0 .5v1.3m0 .5v1.3m0 .5v1.3m0 .5v1.3m0 7.7v1.3m0 .5v1.3m0 2.3v1.3m0 .5v1.3m0 63.5v1.3m0 .5v1.3m0 11.3v1.3m0 5.9v1.3m0 4.1v1.3m0 7.7v1.3m0 2.3v1.3m0 .5v1.3m0 .5v1.3m0 2.3v1.3m0 5.9v1.3m0 .5v1.3m0 2.3v1.3m0 .5v1.3m0 .5v1.3m0 .5v1.3m0 2.3v1.3m1.8-169.5v1.3m0 13.1v1.3m0 .5v1.3m0 .5v1.3m0 2.3v1.3m0 .5v1.3m0 .5v1.3m0 2.3v1.3m0 5.9v1.3m0 .5v1.3m0 .5v1.3m0 56.3v1.3m0 7.7v1.3m0 4.1v1.3m0 .5v1.3m0 .5v1.3m0 5.9v1.3m0 4.1v1.3m0 7.7v1.3m0 .5v1.3m0 2.3v1.3m0 .5v1.3m0 20.3v1.3m1.9-167.9v1.3m0 22.1v1.3m0 .5v1.3m0 .5v1.3m0 .5v1.3m0 .5v1.3m0 .5v1.3m0 9.5v1.3m0 .5v1.3m0 .5v1.3m0 .5v1.3m0 43.7v1.3m0 9.5v1.3m0 5.9v1.3m0 .5v1.3m0 .5v1.3m0 2.3v1.3m0 .5v1.3m0 2.3v1.3m0 .5v1.3m0 .5v1.3m0 .5v1.3m0 9.5v1.3m0 2.3v1.3m0 2.3v1.3m0 .5v1.3m0 4.1v1.3m0 .5v1.3m0 2.3v1.3m0 .5v1.3m0 2.3v1.3m0 .5v1.3m1.9-161.2v1.3m0 .5v1.3m0 4.1v1.3m0 .5v1.3m0 .5v1.3m0 9.5v1.3m0 .5v1.3m0 .5v1.3m0 .5v1.3m0 .5v1.3m0 2.3v1.3m0 7.7v1.3m0 .5v1.3m0 4.1v1.3m0 2.3v1.3m0 27.5v1.3m0 2.3v1.3m0 7.7v1.3m0 .5v1.3m0 5.9v1.3m0 .5v1.3m0 .5v1.3m0 .5v1.3m0 2.3v1.3m0 2.3v1.3m0 2.3v1.3m0 2.3v1.3m0 13.1v1.3m0 .5v1.3m0 .5v1.3m0 .5v1.3m0 9.5v1.3m0 .5v1.3m0 .5v1.3m0 .5v1.3m0 .5v1.3m1.9-168.9v1.3m0 5.9v1.3m0 .5v1.3m0 .5v1.3m0 2.3v1.3m0 .5v1.3m0 .5v1.3m0 .5v1.3m0 7.7v1.3m0 .5v1.3m0 2.3v1.3m0 .5v1.3m0 2.3v1.3m0 .5v1.3m0 .5v1.3m0 .5v1.3m0 .5v1.3m0 5.9v1.3m0 .5v1.3m0 .5v1.3m0 .5v1.3m0 2.3v1.3m0 .5v1.3m0 22.1v1.3m0 7.7v1.3m0 .5v1.3m0 .5v1.3m0 .5v1.3m0 7.7v1.3m0 2.3v1.3m0 .5v1.3m0 .5v1.3m0 2.3v1.3m0 2.3v1.3m0 .5v1.3m0 18.5v1.3m0 .5v1.3m0 .5v1.3m0 .5v1.3m0 .5v1.3m0 2.3v1.3m0 .5v1.3m0 2.3v1.3m0 .5v1.3m1.8-161.5v1.3m0 45.5v1.3m0 5.9v1.3m0 25.7v1.3m0 5.9v1.3m0 7.7v1.3m0 5.9v1.3m0 13.1v1.3m0 5.9v1.3m0 16.7v1.3m0 .5v1.3m0 2.3v1.3m0 .5v1.3m0 2.3v1.3m0 4.1v1.3m0 .5v1.3m1.9-164.5v1.3m0 4.1v1.3m0 41.9v1.3m0 .5v1.3m0 .5v1.3m0 5.9v1.3m0 2.3v1.3m0 16.7v1.3m0 4.1v1.3m0 14.9v1.3m0 13.1v1.3m0 7.7v1.3m0 .5v1.3m0 .5v1.3m0 4.1v1.3m0 9.5v1.3m0 .5v1.3m0 .5v1.3m0 .5v1.3m0 .5v1.3m0 2.3v1.3m1.9-156.5v1.3m0 4.1v1.3m0 .5v1.3m0 2.3v1.3m0 .5v1.3m0 2.3v1.3m0 .5v1.3m0 31.1v1.3m0 2.3v1.3m0 7.7v1.3m0 13.1v1.3m0 .5v1.3m0 4.1v1.3m0 9.5v1.3m0 4.1v1.3m0 .5v1.3m0 7.7v1.3m0 4.1v1.3m0 .5v1.3m0 .5v1.3m0 4.1v1.3m0 9.5v1.3m0 13.1v1.3m0 .5v1.3m0 2.3v1.3m0 .5v1.3m0 .5v1.3m0 .5v1.3m0 .5v1.3m1.8-170.6v1.3m0 .5v1.3m0 .5v1.3m0 4.1v1.3m0 2.3v1.3m0 .5v1.3m0 2.3v1.3m0 .5v1.3m0 36.5v1.3m0 .5v1.3m0 .5v1.3m0 .5v1.3m0 .5v1.3m0 5.9v1.3m0 11.3v1.3m0 2.3v1.3m0 .5v1.3m0 16.7v1.3m0 .5v1.3m0 .5v1.3m0 .5v1.3m0 .5v1.3m0 2.3v1.3m0 9.5v1.3m0 34.7v1.3m0 .5v1.3m0 .5v1.3m1.9-170.4v1.3m0 2.3v1.3m0 2.3v1.3m0 .5v1.3m0 .5v1.3m0 .5v1.3m0 .5v1.3m0 .5v1.3m0 2.3v1.3m0 2.3v1.3m0 9.5v1.3m0 27.5v1.3m0 2.3v1.3m0 5.9v1.3m0 .5v1.3m0 7.7v1.3m0 4.1v1.3m0 .5v1.3m0 7.7v1.3m0 .5v1.3m0 4.1v1.3m0 .5v1.3m0 .5v1.3m0 7.7v1.3m0 .5v1.3m0 .5v1.3m0 2.3v1.3m0 18.5v1.3m0 9.5v1.3m0 4.1v1.3m0 .5v1.3m0 .5v1.3m1.9-96.4v1.3m0 2.3v1.3m0 9.5v1.3m0 4.1v1.3m0 .5v1.3m0 .5v1.3m0 5.9v1.3m0 5.9v1.3m0 7.7v1.3m0 2.3v1.3m0 4.1v1.3m0 .5v1.3m0 5.9v1.3m0 9.5v1.3m0 .5v1.3m0 13.1v1.3m1.8-166.2v1.3m0 2.3v1.3m0 .5v1.3m0 7.7v1.3m0 .5v1.3m0 4.1v1.3m0 .5v1.3m0 52.7v1.3m0 9.5v1.3m0 9.5v1.3m0 .5v1.3m0 .5v1.3m0 .5v1.3m0 7.7v1.3m0 .5v1.3m0 .5v1.3m0 4.1v1.3m0 4.1v1.3m0 4.1v1.3m0 .5v1.3m0 2.3v1.3m0 .5v1.3m0 13.1v1.3m0 .5v1.3m1.9-157.6v1.3m0 .5v1.3m0 4.1v1.3m0 5.9v1.3m0 4.1v1.3m0 2.3v1.3m0 .5v1.3m0 4.1v1.3m0 32.9v1.3m0 5.9v1.3m0 2.3v1.3m0 13.1v1.3m0 .5v1.3m0 9.5v1.3m0 .5v1.3m0 .5v1.3m0 5.9v1.3m0 .5v1.3m0 .5v1.3m0 .5v1.3m0 .5v1.3m0 4.1v1.3m0 7.7v1.3m0 2.3v1.3m0 16.7v1.3m1.9-157.4v1.3m0 .5v1.3m0 2.3v1.3m0 .5v1.3m0 4.1v1.3m0 7.7v1.3m0 2.3v1.3m0 2.3v1.3m0 .5v1.3m0 .5v1.3m0 2.3v1.3m0 20.3v1.3m0 .5v1.3m0 .5v1.3m0 .5v1.3m0 .5v1.3m0 .5v1.3m0 .5v1.3m0 4.1v1.3m0 .5v1.3m0 16.7v1.3m0 27.5v1.3m0 4.1v1.3m0 .5v1.3m0 .5v1.3m0 20.3v1.3m0 .5v1.3m0 .5v1.3m1.9-149.9v1.3m0 .5v1.3m0 4.1v1.3m0 40.1v1.3m0 .5v1.3m0 2.3v1.3m0 7.7v1.3m0 23.9v1.3m0 .5v1.3m0 .5v1.3m0 18.5v1.3m0 4.1v1.3m0 7.7v1.3m0 4.1v1.3m0 5.9v1.3m0 7.7v1.3m0 .5v1.3m0 .5v1.3m0 4.1v1.3m1.8-158.9v1.3m0 5.9v1.3m0 36.5v1.3m0 4.1v1.3m0 7.7v1.3m0 .5v1.3m0 .5v1.3m0 31.1v1.3m0 .5v1.3m0 27.5v1.3m0 .5v1.3m0 4.1v1.3m0 .5v1.3m0 .5v1.3m0 .5v1.3m0 7.7v1.3m0 5.9v1.3m0 2.3v1.3m0 2.3v1.3m1.9-117v1.3m0 4.1v1.3m0 .5v1.3m0 2.3v1.3m0 40.1v1.3m0 .5v1.3m0 16.7v1.3m0 2.3v1.3m0 .5v1.3m0 2.3v1.3m0 11.3v1.3m0 .5v1.3m0 7.7v1.3m0 4.1v1.3m0 4.1v1.3m1.9-134.4v1.3m0 .5v1.3m0 .5v1.3m0 2.3v1.3m0 .5v1.3m0 .5v1.3m0 .5v1.3m0 5.9v1.3m0 2.3v1.3m0 47.3v1.3m0 .5v1.3m0 .5v1.3m0 20.3v1.3m0 .5v1.3m0 .5v1.3m0 4.1v1.3m0 .5v1.3m0 .5v1.3m0 .5v1.3m0 .5v1.3m0 9.5v1.3m0 .5v1.3m0 .5v1.3m0 .5v1.3m0 .5v1.3m1.8-166.6v1.3m0 .5v1.3m0 .5v1.3m0 2.3v1.3m0 .5v1.3m0 .5v1.3m0 .5v1.3m0 .5v1.3m0 2.3v1.3m0 2.3v1.3m0 2.3v1.3m0 .5v1.3m0 .5v1.3m0 .5v1.3m0 .5v1.3m0 .5v1.3m0 .5v1.3m0 .5v1.3m0 9.5v1.3m0 .5v1.3m0 .5v1.3m0 52.7v1.3m0 .5v1.3m0 2.3v1.3m0 25.7v1.3m0 7.7v1.3m0 9.5v1.3m0 .5v1.3m0 .5v1.3m0 2.3v1.3m0 .5v1.3m1.9-171.1v1.3m0 .5v1.3m0 .5v1.3m0 .5v1.3m0 2.3v1.3m0 5.9v1.3m0 .5v1.3m0 .5v1.3m0 .5v1.3m0 .5v1.3m0 .5v1.3m0 .5v1.3m0 16.7v1.3m0 .5v1.3m0 5.9v1.3m0 .5v1.3m0 56.3v1.3m0 .5v1.3m0 .5v1.3m0 23.9v1.3m0 .5v1.3m0 16.7v1.3m0 2.3v1.3m0 2.3v1.3m1.9-158.1v1.3m0 .5v1.3m0 .5v1.3m0 2.3v1.3m0 .5v1.3m0 11.3v1.3m0 .5v1.3m0 .5v1.3m0 .5v1.3m0 .5v1.3m0 .5v1.3m0 76.1v1.3m0 2.3v1.3m0 .5v1.3m0 16.7v1.3m0 .5v1.3m0 .5v1.3m0 .5v1.3m0 2.3v1.3m0 11.3v1.3m0 .5v1.3m0 .5v1.3m1.8-167.3v1.3m0 .5v1.3m0 .5v1.3m0 5.9v1.3m0 13.1v1.3m0 4.1v1.3m0 .5v1.3m0 .5v1.3m0 .5v1.3m0 2.3v1.3m0 63.5v1.3m0 5.9v1.3m0 9.5v1.3m0 .5v1.3m0 23.9v1.3m0 .5v1.3m0 11.3v1.3m1.9-161.1v1.3m0 7.7v1.3m0 .5v1.3m0 .5v1.3m0 .5v1.3m0 104.9v1.3m0 .5v1.3m0 .5v1.3m0 .5v1.3m0 11.3v1.3m0 2.3v1.3m0 5.9v1.3m0 .5v1.3m0 .5v1.3m0 4.1v1.3m0 .5v1.3" stroke="#93b6d3" stroke-width="1.0" fill="none"/>
<path d="M38 577.9v1.4m1.9-2.3v1.4m0 18.4v1.4m0 2.2v1.4m1.9 2.3v1.4m0 27.4v1.4m0 7.6v1.4m0 2.2v1.4m0 .4v1.4m0 5.8v1.4m0 .4v1.4m0 4v1.4m0 5.8v1.4m0 4v1.4m1.9-98.2v1.4m0 18.4v1.4m0 .4v1.4m0 .4v1.4m0 32.8v1.4m0 .4v1.4m0 .4v1.4m0 4v1.4m0 16.6v1.4m0 5.8v1.4m1.8-92.7v1.4m0 22v1.4m0 50.8v1.4m0 11.2v1.4m0 2.2v1.4m1.9-162.7v1.4m0 144.4v1.4m0 .4v1.4m0 18.4v1.4m1.9-168.2v1.4m0 65.2v1.4m0 4v1.4m0 .4v1.4m0 13v1.4m0 49v1.4m0 .4v1.4m0 4v1.4m0 13v1.4m0 .4v1.4m0 .4v1.4m0 .4v1.4m0 .4v1.4m1.8-163.7v1.4m0 .4v1.4m0 58v1.4m0 .4v1.4m0 7.6v1.4m0 14.8v1.4m0 41.8v1.4m0 4v1.4m0 .4v1.4m0 5.8v1.4m0 2.2v1.4m0 .4v1.4m0 .4v1.4m0 .4v1.4m1.9-158.4v1.4m0 5.8v1.4m0 .4v1.4m0 63.4v1.4m0 13v1.4m0 4v1.4m0 22v1.4m0 .4v1.4m0 4v1.4m0 .4v1.4m0 2.2v1.4m0 2.2v1.4m0 .4v1.4m0 5.8v1.4m0 .4v1.4m0 .4v1.4m0 14.8v1.4m0 .4v1.4m1.9-164.8v1.4m0 4v1.4m0 5.8v1.4m0 4v1.4m0 43.6v1.4m0 29.2v1.4m0 25.6v1.4m0 .4v1.4m0 4v1.4m0 .4v1.4m0 2.2v1.4m0 .4v1.4m0 .4v1.4m0 13v1.4m0 .4v1.4m0 .4v1.4m0 .4v1.4m0 .4v1.4m0 .4v1.4m0 2.2v1.4m1.8-155.7v1.4m0 5.8v1.4m0 .4v1.4m0 .4v1.4m0 52.6v1.4m0 13v1.4m0 25.6v1.4m0 2.2v1.4m0 2.2v1.4m0 2.2v1.4m0 .4v1.4m0 .4v1.4m0 11.2v1.4m0 .4v1.4m0 2.2v1.4m0 2.2v1.4m0 .4v1.4m0 .4v1.4m1.9-142.4v1.4m0 .4v1.4m0 5.8v1.4m0 .4v1.4m0 85v1.4m0 .4v1.4m0 .4v1.4m0 4v1.4m0 2.2v1.4m0 11.2v1.4m0 .4v1.4m0 .4v1.4m1.9-121.3v1.4m0 .4v1.4m0 7.6v1.4m0 70.6v1.4m0 .4v1.4m0 4v1.4m0 .4v1.4m0 .4v1.4m0 .4v1.4m0 16.6v1.4m0 .4v1.4m0 2.2v1.4m1.9-110.7v1.4m0 38.2v1.4m0 .4v1.4m0 2.2v1.4m0 .4v1.4m0 22v1.4m0 .4v1.4m0 2.2v1.4m0 2.2v1.4m0 .4v1.4m0 .4v1.4m0 7.6v1.4m0 .4v1.4m0 .4v1.4m0 2.2v1.4m1.8-93.4v1.4m0 7.6v1.4m0 45.4v1.4m0 .4v1.4m0 .4v1.4m0 .4v1.4m0 5.8v1.4m0 11.2v1.4m0 2.2v1.4m1.9-79.5v1.4m0 7.6v1.4m0 18.4v1.4m0 2.2v1.4m0 .4v1.4m0 9.4v1.4m0 2.2v1.4m0 14.8v1.4m0 .4v1.4m0 .4v1.4m1.9-53.7v1.4m0 .4v1.4m0 14.8v1.4m0 29.2v1.4m0 5.8v1.4m0 11.2v1.4m0 11.2v1.4m0 .4v1.4m0 .4v1.4m0 .4v1.4m0 2.2v1.4m0 13v1.4m1.8-111.3v1.4m0 4v1.4m0 11.2v1.4m0 4v1.4m0 4v1.4m0 2.2v1.4m0 13v1.4m0 2.2v1.4m0 .4v1.4m0 7.6v1.4m0 2.2v1.4m0 9.4v1.4m0 2.2v1.4m0 2.2v1.4m0 2.2v1.4m0 .4v1.4m0 .4v1.4m0 5.8v1.4m0 .4v1.4m0 7.6v1.4m0 .4v1.4m1.9-98.8v1.4m0 .4v1.4m0 5.8v1.4m0 7.6v1.4m0 18.4v1.4m0 14.8v1.4m0 .4v1.4m0 4v1.4m0 2.2v1.4m0 .4v1.4m0 .4v1.4m0 .4v1.4m0 .4v1.4m0 .4v1.4m0 5.8v1.4m0 5.8v1.4m0 5.8v1.4m1.9-102.4v1.4m0 4v1.4m0 4v1.4m0 9.4v1.4m0 .4v1.4m1.8-28.5v1.4m0 9.4v1.4m0 16.6v1.4m0 13v1.4m0 .4v1.4m0 2.2v1.4m0 16.6v1.4m0 7.6v1.4m0 2.2v1.4m0 23.8v1.4m1.9-112v1.4m0 9.4v1.4m0 23.8v1.4m0 .4v1.4m0 .4v1.4m0 11.2v1.4m0 4v1.4m0 .4v1.4m0 .4v1.4m0 7.6v1.4m1.9-77.2v1.4m0 .4v1.4m0 2.2v1.4m0 4v1.4m0 32.8v1.4m0 .4v1.4m0 .4v1.4m0 11.2v1.4m0 4v1.4m1.9-74.7v1.4m0 4v1.4m0 49v1.4m0 2.2v1.4m0 7.6v1.4m0 9.4v1.4m1.8-86.9v1.4m0 .4v1.4m0 7.6v1.4m0 2.2v1.4m0 52.6v1.4m0 .4v1.4m0 5.8v1.4m0 .4v1.4m0 7.6v1.4m0 32.8v1.4m1.9-118v1.4m0 63.4v1.4m0 .4v1.4m0 9.4v1.4m0 4v1.4m0 29.2v1.4m0 .4v1.4m1.9-133.7v1.4m0 .4v1.4m0 5.8v1.4m0 .4v1.4m0 .4v1.4m0 74.2v1.4m0 .4v1.4m0 2.2v1.4m0 .4v1.4m0 .4v1.4m0 5.8v1.4m0 2.2v1.4m0 2.2v1.4m0 .4v1.4m0 14.8v1.4m0 .4v1.4m0 2.2v1.4m0 .4v1.4m0 .4v1.4m1.8-152.3v1.4m0 .4v1.4m0 .4v1.4m0 .4v1.4m0 .4v1.4m0 .4v1.4m0 4v1.4m0 .4v1.4m0 2.2v1.4m0 77.8v1.4m0 7.6v1.4m0 2.2v1.4m0 5.8v1.4m0 .4v1.4m0 .4v1.4m0 .4v1.4m0 2.2v1.4m0 .4v1.4m0 9.4v1.4m0 .4v1.4m0 5.8v1.4m0 4v1.4m1.9-159.3v1.4m0 2.2v1.4m0 7.6v1.4m0 94v1.4m0 4v1.4m0 .4v1.4m0 2.2v1.4m0 7.6v1.4m0 4v1.4m0 .4v1.4m0 4v1.4m0 9.4v1.4m0 .4v1.4m0 4v1.4m1.9-165.5v1.4m0 .4v1.4m0 .4v1.4m0 .4v1.4m0 110.2v1.4m0 .4v1.4m0 5.8v1.4m0 .4v1.4m0 5.8v1.4m0 14.8v1.4m0 .4v1.4m0 4v1.4m1.9-150.9v1.4m0 110.2v1.4m0 2.2v1.4m0 2.2v1.4m0 7.6v1.4m0 14.8v1.4m1.8-152.5v1.4m0 121v1.4m0 2.2v1.4m0 .4v1.4m0 .4v1.4m0 7.6v1.4m0 11.2v1.4m0 4v1.4m1.9-165.6v1.4m0 4v1.4m0 .4v1.4m0 .4v1.4m0 4v1.4m0 106.6v1.4m0 .4v1.4m0 2.2v1.4m0 .4v1.4m0 4v1.4m0 13v1.4m0 .4v1.4m0 14.8v1.4m1.9-167.5v1.4m0 .4v1.4m0 .4v1.4m0 117.4v1.4m0 7.6v1.4m0 4v1.4m0 .4v1.4m0 11.2v1.4m0 .4v1.4m0 .4v1.4m0 .4v1.4m0 .4v1.4m0 4v1.4m1.8-152.8v1.4m0 7.6v1.4m0 101.2v1.4m0 4v1.4m0 9.4v1.4m0 .4v1.4m0 2.2v1.4m0 .4v1.4m0 5.8v1.4m0 .4v1.4m0 2.2v1.4m0 2.2v1.4m0 .4v1.4m0 .4v1.4m1.9-25.2v1.4m0 2.2v1.4m0 5.8v1.4m0 .4v1.4m0 .4v1.4m0 .4v1.4m0 4v1.4m1.9-148.5v1.4m0 5.8v1.4m0 92.2v1.4m0 4v1.4m0 2.2v1.4m0 5.8v1.4m0 2.2v1.4m0 2.2v1.4m0 2.2v1.4m0 2.2v1.4m0 5.8v1.4m0 .4v1.4m0 7.6v1.4m1.8-147v1.4m0 130v1.4m0 4v1.4m0 .4v1.4m0 4v1.4m0 .4v1.4m1.9-145.9v1.4m0 4v1.4m0 97.6v1.4m0 2.2v1.4m0 2.2v1.4m0 4v1.4m0 4v1.4m0 .4v1.4m0 .4v1.4m0 .4v1.4m0 .4v1.4m0 4v1.4m0 7.6v1.4m1.9-41.2v1.4m0 2.2v1.4m0 .4v1.4m0 4v1.4m0 2.2v1.4m0 2.2v1.4m0 .4v1.4m0 .4v1.4m0 .4v1.4m0 .4v1.4m0 .4v1.4m0 11.2v1.4m1.9-142.1v1.4m0 4v1.4m0 83.2v1.4m0 .4v1.4m0 2.2v1.4m0 2.2v1.4m0 2.2v1.4m0 .4v1.4m0 7.6v1.4m0 .4v1.4m0 .4v1.4m0 .4v1.4m0 .4v1.4m0 .4v1.4m0 .4v1.4m0 .4v1.4m0 .4v1.4m0 .4v1.4m0 2.2v1.4m0 7.6v1.4m1.8-143v1.4m0 90.4v1.4m0 9.4v1.4m0 .4v1.4m0 .4v1.4m0 2.2v1.4m0 .4v1.4m0 5.8v1.4m0 5.8v1.4m0 .4v1.4m0 .4v1.4m0 9.4v1.4m0 .4v1.4m1.9-142.4v1.4m0 124.6v1.4m0 11.2v1.4m0 .4v1.4m1.9-142.5v1.4m0 126.4v1.4m0 2.2v1.4m0 .4v1.4m0 2.2v1.4m1.8-155.2v1.4m0 14.8v1.4m0 2.2v1.4m0 95.8v1.4m0 7.6v1.4m0 4v1.4m0 25.6v1.4m1.9-162.9v1.4m0 .4v1.4m0 2.2v1.4m0 9.4v1.4m0 .4v1.4m0 126.4v1.4m0 4v1.4m0 2.2v1.4m1.9-157.9v1.4m0 .4v1.4m0 2.2v1.4m0 11.2v1.4m0 110.2v1.4m0 4v1.4m0 4v1.4m0 5.8v1.4m0 11.2v1.4m0 .4v1.4m1.8-162.6v1.4m0 2.2v1.4m0 .4v1.4m0 4v1.4m0 4v1.4m0 4v1.4m0 97.6v1.4m0 .4v1.4m0 4v1.4m0 4v1.4m0 .4v1.4m0 23.8v1.4m1.9-164.4v1.4m0 .4v1.4m0 2.2v1.4m0 2.2v1.4m0 .4v1.4m0 .4v1.4m0 .4v1.4m0 .4v1.4m0 .4v1.4m0 4v1.4m0 88.6v1.4m0 4v1.4m0 .4v1.4m0 2.2v1.4m0 4v1.4m0 4v1.4m0 .4v1.4m0 .4v1.4m0 .4v1.4m0 4v1.4m0 2.2v1.4m0 11.2v1.4m1.9-164.6v1.4m0 .4v1.4m0 2.2v1.4m0 .4v1.4m0 2.2v1.4m0 7.6v1.4m0 2.2v1.4m0 94v1.4m0 4v1.4m0 11.2v1.4m0 2.2v1.4m0 .4v1.4m0 2.2v1.4m0 .4v1.4m0 5.8v1.4m0 .4v1.4m1.9-157.9v1.4m0 9.4v1.4m0 4v1.4m0 2.2v1.4m0 .4v1.4m0 97.6v1.4m0 .4v1.4m0 .4v1.4m0 2.2v1.4m0 .4v1.4m0 5.8v1.4m0 2.2v1.4m0 5.8v1.4m0 4v1.4m0 .4v1.4m1.8-159.9v1.4m0 .4v1.4m0 4v1.4m0 2.2v1.4m0 5.8v1.4m0 .4v1.4m0 .4v1.4m0 2.2v1.4m0 .4v1.4m0 86.8v1.4m0 2.2v1.4m0 2.2v1.4m0 .4v1.4m0 2.2v1.4m0 .4v1.4m0 .4v1.4m0 4v1.4m0 16.6v1.4m0 9.4v1.4m0 2.2v1.4m1.9-159.5v1.4m0 4v1.4m0 104.8v1.4m0 2.2v1.4m0 .4v1.4m0 14.8v1.4m0 .4v1.4m0 5.8v1.4m0 .4v1.4m0 4v1.4m0 2.2v1.4m1.9-164.2v1.4m0 5.8v1.4m0 4v1.4m0 .4v1.4m0 7.6v1.4m0 .4v1.4m0 2.2v1.4m0 .4v1.4m0 .4v1.4m0 77.8v1.4m0 2.2v1.4m0 14.8v1.4m0 .4v1.4m0 2.2v1.4m0 13v1.4m0 .4v1.4m0 4v1.4m0 2.2v1.4m0 .4v1.4m1.8-166.6v1.4m0 2.2v1.4m0 7.6v1.4m0 .4v1.4m0 16.6v1.4m0 .4v1.4m0 2.2v1.4m0 .4v1.4m0 .4v1.4m0 61.6v1.4m0 .4v1.4m0 14.8v1.4m0 .4v1.4m0 .4v1.4m0 4v1.4m0 2.2v1.4m0 .4v1.4m0 .4v1.4m0 .4v1.4m0 7.6v1.4m0 4v1.4m0 9.4v1.4m0 .4v1.4m1.9-162.3v1.4m0 4v1.4m0 20.2v1.4m0 5.8v1.4m0 .4v1.4m0 .4v1.4m0 2.2v1.4m0 2.2v1.4m0 .4v1.4m0 47.2v1.4m0 11.2v1.4m0 .4v1.4m0 .4v1.4m0 .4v1.4m0 .4v1.4m0 11.2v1.4m0 13v1.4m0 .4v1.4m0 5.8v1.4m0 5.8v1.4m0 2.2v1.4m1.9-167.1v1.4m0 .4v1.4m0 5.8v1.4m0 .4v1.4m0 32.8v1.4m0 .4v1.4m0 2.2v1.4m0 4v1.4m0 .4v1.4m0 .4v1.4m0 41.8v1.4m0 4v1.4m0 .4v1.4m0 2.2v1.4m0 .4v1.4m0 .4v1.4m0 .4v1.4m0 11.2v1.4m0 14.8v1.4m0 .4v1.4m0 .4v1.4m0 .4v1.4m0 4v1.4m0 .4v1.4m0 .4v1.4m0 2.2v1.4m1.8-164v1.4m0 4v1.4m0 50.8v1.4m0 2.2v1.4m0 .4v1.4m0 .4v1.4m0 23.8v1.4m0 .4v1.4m0 4v1.4m0 16.6v1.4m0 .4v1.4m0 5.8v1.4m0 2.2v1.4m0 2.2v1.4m0 5.8v1.4m0 .4v1.4m0 .4v1.4m0 .4v1.4m0 .4v1.4m0 2.2v1.4m0 .4v1.4m0 2.2v1.4m1.9-156.9v1.4m0 .4v1.4m0 61.6v1.4m0 .4v1.4m0 14.8v1.4m0 34.6v1.4m0 2.2v1.4m0 .4v1.4m0 2.2v1.4m0 .4v1.4m0 .4v1.4m0 5.8v1.4m0 .4v1.4m1.9-142.4v1.4m0 .4v1.4m0 56.2v1.4m0 .4v1.4m0 .4v1.4m0 .4v1.4m0 18.4v1.4m0 4v1.4m0 27.4v1.4m0 2.2v1.4m0 .4v1.4m0 2.2v1.4m0 .4v1.4m0 7.6v1.4m0 .4v1.4m1.9-135.8v1.4m0 40v1.4m0 .4v1.4m0 5.8v1.4m0 31v1.4m0 4v1.4m0 .4v1.4m0 18.4v1.4m0 .4v1.4m0 7.6v1.4m1.8-128.4v1.4m0 4v1.4m0 .4v1.4m0 29.2v1.4m0 .4v1.4m0 .4v1.4m0 .4v1.4m0 2.2v1.4m0 .4v1.4m0 49v1.4m0 16.6v1.4m0 5.8v1.4m0 .4v1.4m0 .4v1.4m0 5.8v1.4m0 5.8v1.4m0 7.6v1.4m1.9-155.3v1.4m0 .4v1.4m0 .4v1.4m0 2.2v1.4m0 16.6v1.4m0 2.2v1.4m0 .4v1.4m0 .4v1.4m0 7.6v1.4m0 56.2v1.4m0 5.8v1.4m0 .4v1.4m0 .4v1.4m0 .4v1.4m0 13v1.4m0 .4v1.4m0 5.8v1.4m0 4v1.4m0 .4v1.4m0 4v1.4m0 .4v1.4m0 .4v1.4m0 2.2v1.4m0 .4v1.4m0 4v1.4m0 4v1.4m1.9-146.1v1.4m0 7.6v1.4m0 .4v1.4m0 77.8v1.4m0 .4v1.4m0 .4v1.4m0 5.8v1.4m0 4v1.4m0 4v1.4m0 .4v1.4m0 .4v1.4m1.8-131.1v1.4m0 9.4v1.4m0 .4v1.4m0 .4v1.4m0 .4v1.4m0 .4v1.4m0 81.4v1.4m0 .4v1.4m0 4v1.4m0 .4v1.4m0 2.2v1.4m0 .4v1.4m0 2.2v1.4m0 .4v1.4m0 4v1.4m1.9-131.9v1.4m0 4v1.4m0 101.2v1.4m0 .4v1.4m0 4v1.4m0 .4v1.4m0 .4v1.4m0 4v1.4m0 4v1.4m0 .4v1.4m0 11.2v1.4m0 4v1.4m0 9.4v1.4m1.9-156.6v1.4m0 108.4v1.4m0 13v1.4m1.8-126.1v1.4m0 104.8v1.4m0 .4v1.4m0 9.4v1.4m0 .4v1.4m0 2.2v1.4m0 .4v1.4m1.9-132.1v1.4m0 4v1.4m0 103v1.4m0 4v1.4m0 .4v1.4m0 5.8v1.4m1.9-117v1.4m0 .4v1.4m0 94v1.4m0 .4v1.4m0 4v1.4m0 .4v1.4m0 13v1.4m1.9-126.2v1.4m0 4v1.4m0 5.8v1.4m0 .4v1.4m0 .4v1.4m0 88.6v1.4m0 .4v1.4m0 .4v1.4m0 7.6v1.4m0 .4v1.4m0 4v1.4m1.8-136.1v1.4m0 2.2v1.4m0 2.2v1.4m0 .4v1.4m0 11.2v1.4m0 4v1.4m0 4v1.4m0 70.6v1.4m0 4v1.4m0 2.2v1.4m0 14.8v1.4m0 7.6v1.4m1.9-137.2v1.4m0 2.2v1.4m0 2.2v1.4m0 2.2v1.4m0 13v1.4m0 2.2v1.4m0 .4v1.4m0 .4v1.4m0 63.4v1.4m0 7.6v1.4m0 20.2v1.4m1.9-130.2v1.4m0 2.2v1.4m0 .4v1.4m0 .4v1.4m0 .4v1.4m0 .4v1.4m0 .4v1.4m0 5.8v1.4m0 11.2v1.4m0 .4v1.4m0 .4v1.4m0 2.2v1.4m0 52.6v1.4m0 .4v1.4m0 4v1.4m0 2.2v1.4m0 .4v1.4m0 22v1.4m0 5.8v1.4m0 2.2v1.4m1.8-143.3v1.4m0 9.4v1.4m0 .4v1.4m0 5.8v1.4m0 2.2v1.4m0 .4v1.4m0 .4v1.4m0 9.4v1.4m0 2.2v1.4m0 .4v1.4m0 .4v1.4m0 .4v1.4m0 50.8v1.4m0 4v1.4m0 .4v1.4m0 13v1.4m0 2.2v1.4m0 2.2v1.4m0 2.2v1.4m0 2.2v1.4m0 16.6v1.4m0 .4v1.4m0 .4v1.4m1.9-152.8v1.4m0 14.8v1.4m0 .4v1.4m0 .4v1.4m0 25.6v1.4m0 36.4v1.4m0 4v1.4m0 7.6v1.4m0 2.2v1.4m0 .4v1.4m0 9.4v1.4m0 7.6v1.4m0 .4v1.4m0 4v1.4m0 7.6v1.4m0 14.8v1.4m1.9-163.4v1.4m0 52.6v1.4m0 .4v1.4m0 .4v1.4m0 29.2v1.4m0 2.2v1.4m0 13v1.4m0 .4v1.4m0 23.8v1.4m0 4v1.4m0 4v1.4m0 .4v1.4m0 .4v1.4m1.8-89v1.4m0 .4v1.4m0 38.2v1.4m0 2.2v1.4m0 34.6v1.4m0 5.8v1.4m1.9-149.4v1.4m0 .4v1.4m0 .4v1.4m0 56.2v1.4m0 2.2v1.4m0 .4v1.4m0 20.2v1.4m0 43.6v1.4m0 .4v1.4m0 16.6v1.4m0 .4v1.4m1.9-89.7v1.4m0 .4v1.4m0 .4v1.4m0 31v1.4m0 2.2v1.4m0 18.4v1.4m0 5.8v1.4m0 2.2v1.4m0 4v1.4m0 .4v1.4m0 .4v1.4m0 5.8v1.4m0 .4v1.4m0 .4v1.4m0 .4v1.4m0 .4v1.4m0 .4v1.4m0 .4v1.4m1.9-94.9v1.4m0 54.4v1.4m0 2.2v1.4m0 2.2v1.4m0 .4v1.4m0 9.4v1.4m0 2.2v1.4m0 9.4v1.4m1.8-71.3v1.4m0 13v1.4m0 2.2v1.4m0 29.2v1.4m0 .4v1.4m0 4v1.4m0 4v1.4m0 .4v1.4m0 5.8v1.4m0 .4v1.4m0 2.2v1.4m1.9-92.5v1.4m0 13v1.4m0 4v1.4m0 .4v1.4m0 7.6v1.4m0 2.2v1.4m0 .4v1.4m0 11.2v1.4m0 5.8v1.4m0 9.4v1.4m0 5.8v1.4m0 .4v1.4m0 .4v1.4m0 11.2v1.4m0 2.2v1.4m1.9-69.5v1.4m0 5.8v1.4m0 2.2v1.4m0 23.8v1.4m0 2.2v1.4m0 .4v1.4m0 .4v1.4m0 5.8v1.4m0 .4v1.4m0 .4v1.4m0 2.2v1.4m0 .4v1.4m0 7.6v1.4m1.8-99.9v1.4m0 .4v1.4m0 22v1.4m0 .4v1.4m0 5.8v1.4m0 .4v1.4m0 .4v1.4m0 4v1.4m0 .4v1.4m0 .4v1.4m0 .4v1.4m0 .4v1.4m0 2.2v1.4m0 7.6v1.4m0 2.2v1.4m0 2.2v1.4m0 .4v1.4m0 2.2v1.4m0 4v1.4m0 5.8v1.4m0 .4v1.4m0 4v1.4m1.9-103.2v1.4m0 .4v1.4m0 .4v1.4m0 .4v1.4m0 31v1.4m0 7.6v1.4m0 4v1.4m0 .4v1.4m0 23.8v1.4m0 .4v1.4m0 5.8v1.4m0 .4v1.4m0 5.8v1.4m0 .4v1.4m0 2.2v1.4m0 .4v1.4m1.9-108.6v1.4m0 .4v1.4m0 .4v1.4m0 40v1.4m0 .4v1.4m0 4v1.4m0 5.8v1.4m0 .4v1.4m0 .4v1.4m0 .4v1.4m0 .4v1.4m0 18.4v1.4m0 7.6v1.4m1.8-102.7v1.4m0 .4v1.4m0 50.8v1.4m0 .4v1.4m0 11.2v1.4m0 2.2v1.4m0 22v1.4m0 2.2v1.4m0 .4v1.4m1.9-107.5v1.4m0 .4v1.4m0 .4v1.4m0 58v1.4m0 .4v1.4m0 13v1.4m0 .4v1.4m0 18.4v1.4m0 .4v1.4m0 2.2v1.4m0 .4v1.4m1.9-118.1v1.4m0 .4v1.4m0 .4v1.4m0 .4v1.4m0 .4v1.4m0 65.2v1.4m0 .4v1.4m0 .4v1.4m0 .4v1.4m0 13v1.4m0 .4v1.4m0 .4v1.4m0 5.8v1.4m0 4v1.4m0 5.8v1.4m1.9-146v1.4m0 13v1.4m0 .4v1.4m0 .4v1.4m0 .4v1.4m0 2.2v1.4m0 .4v1.4m0 2.2v1.4m0 74.2v1.4m0 .4v1.4m0 .4v1.4m0 .4v1.4m0 11.2v1.4m0 2.2v1.4m0 5.8v1.4m0 .4v1.4m0 .4v1.4m0 .4v1.4m0 .4v1.4m0 4v1.4m0 2.2v1.4m1.8-142v1.4m0 4v1.4m0 .4v1.4m0 .4v1.4m0 94v1.4m0 .4v1.4m0 7.6v1.4m0 .4v1.4m0 .4v1.4m0 11.2v1.4m0 .4v1.4m0 .4v1.4m0 2.2v1.4m0 .4v1.4m1.9-156.6v1.4m0 .4v1.4m0 .4v1.4m0 13v1.4m0 2.2v1.4m0 .4v1.4m0 97.6v1.4m0 14.8v1.4m0 .4v1.4m0 .4v1.4m0 4v1.4m0 .4v1.4m0 5.8v1.4m0 2.2v1.4m1.9-161.2v1.4m0 .4v1.4m0 .4v1.4m0 .4v1.4m0 119.2v1.4m0 11.2v1.4" stroke="#6193bd" stroke-width="1.1" fill="none"/>
<path d="M38.1 576.1v1.6m0 20v1.6m0 2v1.6m1.9-4.3v1.6m0 2v1.6m1.9-26.7v1.6m0 18.2v1.6m0 .2v1.6m0 2v1.6m1.9-28.2v1.6m0 25.4v1.6m1.8-28.1v1.6m0 20v1.6m0 3.8v1.6m1.9-27.9v1.6m0 20v1.6m0 3.8v1.6m1.9-98.2v1.6m0 68.6v1.6m0 20v1.6m0 2v1.6m0 .2v1.6m0 45.2v1.6m0 .2v1.6m1.8-145.9v1.6m0 .2v1.6m0 .2v1.6m0 68.6v1.6m0 3.8v1.6m0 9.2v1.6m0 3.8v1.6m0 41.6v1.6m0 .2v1.6m0 20v1.6m0 .2v1.6m0 .2v1.6m0 .2v1.6m1.9-164v1.6m0 .2v1.6m0 .2v1.6m0 57.8v1.6m0 3.8v1.6m0 3.8v1.6m0 9.2v1.6m0 3.8v1.6m0 34.4v1.6m0 2v1.6m0 14.6v1.6m0 .2v1.6m0 .2v1.6m0 .2v1.6m0 .2v1.6m0 .2v1.6m0 .2v1.6m0 .2v1.6m1.9-154.2v1.6m0 .2v1.6m0 .2v1.6m0 52.4v1.6m0 3.8v1.6m0 3.8v1.6m0 9.2v1.6m0 .2v1.6m0 2v1.6m0 30.8v1.6m0 .2v1.6m0 11v1.6m0 .2v1.6m0 .2v1.6m0 .2v1.6m0 .2v1.6m0 .2v1.6m0 .2v1.6m0 11v1.6m1.8-152.3v1.6m0 .2v1.6m0 .2v1.6m0 54.2v1.6m0 3.8v1.6m0 9.2v1.6m0 3.8v1.6m0 23.6v1.6m0 2v1.6m0 11v1.6m0 .2v1.6m0 .2v1.6m0 .2v1.6m0 .2v1.6m1.9-124.6v1.6m0 .2v1.6m0 .2v1.6m0 47v1.6m0 3.8v1.6m0 11v1.6m0 2v1.6m0 .2v1.6m0 30.8v1.6m0 .2v1.6m0 .2v1.6m0 .2v1.6m0 .2v1.6m0 .2v1.6m1.9-112.5v1.6m0 .2v1.6m0 .2v1.6m0 .2v1.6m0 39.8v1.6m0 3.8v1.6m0 14.6v1.6m0 12.8v1.6m0 .2v1.6m0 7.4v1.6m0 .2v1.6m0 .2v1.6m0 .2v1.6m0 .2v1.6m0 .2v1.6m0 .2v1.6m1.9-98.3v1.6m0 .2v1.6m0 .2v1.6m0 .2v1.6m0 52.4v1.6m0 .2v1.6m0 9.2v1.6m0 9.2v1.6m0 .2v1.6m0 .2v1.6m0 .2v1.6m1.8-82.8v1.6m0 .2v1.6m0 .2v1.6m0 .2v1.6m0 25.4v1.6m0 3.8v1.6m0 12.8v1.6m0 14.6v1.6m0 .2v1.6m0 .2v1.6m0 .2v1.6m1.9-68.9v1.6m0 .2v1.6m0 .2v1.6m0 .2v1.6m0 18.2v1.6m0 18.2v1.6m0 12.8v1.6m0 .2v1.6m1.9-55.7v1.6m0 .2v1.6m0 .2v1.6m0 .2v1.6m0 11v1.6m0 3.8v1.6m0 9.2v1.6m0 .2v1.6m0 12.8v1.6m0 .2v1.6m0 .2v1.6m1.8-46.7v1.6m0 .2v1.6m0 .2v1.6m0 .2v1.6m0 .2v1.6m0 .2v1.6m0 3.8v1.6m0 7.4v1.6m0 16.4v1.6m1.9-34.2v1.6m0 .2v1.6m0 7.4v1.6m0 .2v1.6m0 16.4v1.6m0 .2v1.6m1.9-41.4v1.6m0 .2v1.6m0 2v1.6m0 .2v1.6m0 30.8v1.6m1.8-44.9v1.6m0 .2v1.6m0 .2v1.6m0 .2v1.6m0 .2v1.6m0 36.2v1.6m1.9-52.8v1.6m0 .2v1.6m0 .2v1.6m0 .2v1.6m0 .2v1.6m0 43.4v1.6m0 .2v1.6m1.9-59.4v1.6m0 2v1.6m0 .2v1.6m0 52.4v1.6m0 .2v1.6m1.9-71.3v1.6m0 .2v1.6m0 2v1.6m0 .2v1.6m0 .2v1.6m0 45.2v1.6m0 12.8v1.6m0 .2v1.6m0 .2v1.6m1.8-79.9v1.6m0 .2v1.6m0 .2v1.6m0 .2v1.6m0 56v1.6m0 12.8v1.6m0 .2v1.6m0 .2v1.6m1.9-89.4v1.6m0 .2v1.6m0 .2v1.6m0 .2v1.6m0 .2v1.6m0 79.4v1.6m0 .2v1.6m1.9-96.1v1.6m0 .2v1.6m0 .2v1.6m0 77.6v1.6m0 11v1.6m0 .2v1.6m0 .2v1.6m0 29v1.6m1.8-136.3v1.6m0 .2v1.6m0 88.4v1.6m0 .2v1.6m0 .2v1.6m0 5.6v1.6m0 .2v1.6m0 .2v1.6m0 25.4v1.6m0 .2v1.6m0 .2v1.6m1.9-146.9v1.6m0 .2v1.6m0 .2v1.6m0 .2v1.6m0 97.4v1.6m0 .2v1.6m0 3.8v1.6m0 2v1.6m0 .2v1.6m0 .2v1.6m0 .2v1.6m0 20v1.6m0 .2v1.6m1.9-149.5v1.6m0 .2v1.6m0 .2v1.6m0 .2v1.6m0 106.4v1.6m0 .2v1.6m0 .2v1.6m0 3.8v1.6m0 .2v1.6m0 .2v1.6m0 20v1.6m0 .2v1.6m1.9-160.1v1.6m0 .2v1.6m0 .2v1.6m0 .2v1.6m0 .2v1.6m0 .2v1.6m0 117.2v1.6m0 3.8v1.6m0 .2v1.6m0 .2v1.6m0 18.2v1.6m0 .2v1.6m1.8-163.5v1.6m0 .2v1.6m0 .2v1.6m0 .2v1.6m0 133.4v1.6m0 .2v1.6m0 .2v1.6m0 14.6v1.6m0 .2v1.6m1.9-162.2v1.6m0 .2v1.6m0 5.6v1.6m0 .2v1.6m0 117.2v1.6m0 .2v1.6m0 2v1.6m0 .2v1.6m0 .2v1.6m0 .2v1.6m0 .2v1.6m0 .2v1.6m0 .2v1.6m0 3.8v1.6m0 3.8v1.6m0 .2v1.6m0 .2v1.6m0 .2v1.6m0 .2v1.6m1.9-155.1v1.6m0 .2v1.6m0 .2v1.6m0 .2v1.6m0 122.6v1.6m0 .2v1.6m0 .2v1.6m0 .2v1.6m0 .2v1.6m0 .2v1.6m0 9.2v1.6m0 .2v1.6m1.8-149.4v1.6m0 .2v1.6m0 .2v1.6m0 124.4v1.6m0 3.8v1.6m0 .2v1.6m0 .2v1.6m0 7.4v1.6m1.9-146v1.6m0 .2v1.6m0 .2v1.6m0 126.2v1.6m0 .2v1.6m0 .2v1.6m0 7.4v1.6m0 .2v1.6m1.9-145.1v1.6m0 .2v1.6m0 .2v1.6m0 122.6v1.6m0 2v1.6m0 .2v1.6m0 .2v1.6m0 3.8v1.6m0 .2v1.6m0 .2v1.6m0 .2v1.6m1.8-143.6v1.6m0 .2v1.6m0 128v1.6m0 .2v1.6m0 3.8v1.6m0 .2v1.6m1.9-140.7v1.6m0 .2v1.6m0 126.2v1.6m0 .2v1.6m0 2v1.6m0 .2v1.6m0 .2v1.6m0 .2v1.6m1.9-140.4v1.6m0 .2v1.6m0 126.2v1.6m0 .2v1.6m0 .2v1.6m0 .2v1.6m0 .2v1.6m0 .2v1.6m1.9-138.7v1.6m0 .2v1.6m0 126.2v1.6m0 2v1.6m0 .2v1.6m0 .2v1.6m0 .2v1.6m1.8-139.6v1.6m0 .2v1.6m0 126.2v1.6m0 2v1.6m0 .2v1.6m0 .2v1.6m1.9-137.2v1.6m0 126.2v1.6m0 2v1.6m0 .2v1.6m0 .2v1.6m1.9-137.3v1.6m0 126.2v1.6m0 3.8v1.6m0 2v1.6m1.8-139.2v1.6m0 126.2v1.6m0 .2v1.6m0 .2v1.6m0 .2v1.6m0 .2v1.6m0 .2v1.6m0 .2v1.6m1.9-157.7v1.6m0 14.6v1.6m0 .2v1.6m0 126.2v1.6m0 2v1.6m0 2v1.6m0 .2v1.6m1.9-158.1v1.6m0 14.6v1.6m0 .2v1.6m0 126.2v1.6m0 .2v1.6m0 .2v1.6m0 .2v1.6m0 .2v1.6m0 .2v1.6m1.8-157.4v1.6m0 14.6v1.6m0 .2v1.6m0 122.6v1.6m0 2v1.6m0 .2v1.6m0 .2v1.6m0 .2v1.6m0 .2v1.6m0 .2v1.6m0 .2v1.6m1.9-159.2v1.6m0 14.6v1.6m0 .2v1.6m0 120.8v1.6m0 5.6v1.6m0 .2v1.6m0 .2v1.6m0 .2v1.6m0 .2v1.6m0 .2v1.6m1.9-159.4v1.6m0 7.4v1.6m0 .2v1.6m0 .2v1.6m0 3.8v1.6m0 115.4v1.6m0 3.8v1.6m0 3.8v1.6m0 .2v1.6m0 .2v1.6m0 3.8v1.6m0 .2v1.6m0 .2v1.6m1.9-161.7v1.6m0 .2v1.6m0 7.4v1.6m0 .2v1.6m0 115.4v1.6m0 2v1.6m0 2v1.6m0 2v1.6m0 .2v1.6m0 .2v1.6m0 2v1.6m0 .2v1.6m0 3.8v1.6m0 .2v1.6m0 .2v1.6m0 .2v1.6m1.8-163.7v1.6m0 .2v1.6m0 5.6v1.6m0 .2v1.6m0 .2v1.6m0 115.4v1.6m0 .2v1.6m0 2v1.6m0 .2v1.6m0 .2v1.6m0 .2v1.6m0 .2v1.6m0 .2v1.6m0 .2v1.6m0 .2v1.6m0 .2v1.6m0 2v1.6m0 .2v1.6m0 2v1.6m0 .2v1.6m1.9-161.5v1.6m0 7.4v1.6m0 .2v1.6m0 113.6v1.6m0 .2v1.6m0 .2v1.6m0 .2v1.6m0 .2v1.6m0 .2v1.6m0 .2v1.6m0 5.6v1.6m0 .2v1.6m0 .2v1.6m0 9.2v1.6m1.9-160.8v1.6m0 5.6v1.6m0 .2v1.6m0 14.6v1.6m0 88.4v1.6m0 .2v1.6m0 .2v1.6m0 .2v1.6m0 .2v1.6m0 .2v1.6m0 .2v1.6m0 .2v1.6m0 11v1.6m0 .2v1.6m0 .2v1.6m0 .2v1.6m0 .2v1.6m0 9.2v1.6m1.8-161.4v1.6m0 5.6v1.6m0 .2v1.6m0 23.6v1.6m0 72.2v1.6m0 .2v1.6m0 .2v1.6m0 .2v1.6m0 .2v1.6m0 .2v1.6m0 .2v1.6m0 5.6v1.6m0 .2v1.6m0 11v1.6m0 .2v1.6m0 .2v1.6m0 .2v1.6m0 9.2v1.6m0 .2v1.6m0 .2v1.6m1.9-162.5v1.6m0 .2v1.6m0 3.8v1.6m0 .2v1.6m0 34.4v1.6m0 2v1.6m0 52.4v1.6m0 .2v1.6m0 .2v1.6m0 .2v1.6m0 .2v1.6m0 .2v1.6m0 9.2v1.6m0 .2v1.6m0 .2v1.6m0 .2v1.6m0 .2v1.6m0 7.4v1.6m0 .2v1.6m0 .2v1.6m0 .2v1.6m0 .2v1.6m0 11v1.6m0 .2v1.6m0 .2v1.6m1.9-163.7v1.6m0 5.6v1.6m0 .2v1.6m0 43.4v1.6m0 .2v1.6m0 38v1.6m0 .2v1.6m0 .2v1.6m0 .2v1.6m0 .2v1.6m0 18.2v1.6m0 .2v1.6m0 .2v1.6m0 .2v1.6m0 .2v1.6m0 .2v1.6m0 2v1.6m0 .2v1.6m0 .2v1.6m0 .2v1.6m0 .2v1.6m0 .2v1.6m0 .2v1.6m0 9.2v1.6m0 .2v1.6m1.8-153.4v1.6m0 .2v1.6m0 54.2v1.6m0 23.6v1.6m0 .2v1.6m0 .2v1.6m0 29v1.6m0 .2v1.6m0 .2v1.6m0 5.6v1.6m0 2v1.6m0 .2v1.6m0 .2v1.6m1.9-135.5v1.6m0 79.4v1.6m0 34.4v1.6m0 11v1.6m0 .2v1.6m0 .2v1.6m1.9-135.4v1.6m0 81.2v1.6m0 .2v1.6m0 30.8v1.6m0 9.2v1.6m0 .2v1.6m0 .2v1.6m0 .2v1.6m1.9-136v1.6m0 .2v1.6m0 45.2v1.6m0 .2v1.6m0 .2v1.6m0 34.4v1.6m0 .2v1.6m0 25.4v1.6m0 .2v1.6m0 5.6v1.6m0 .2v1.6m0 .2v1.6m0 .2v1.6m1.8-134v1.6m0 .2v1.6m0 39.8v1.6m0 47v1.6m0 .2v1.6m0 .2v1.6m0 20v1.6m0 .2v1.6m0 .2v1.6m0 5.6v1.6m0 .2v1.6m0 .2v1.6m1.9-132.1v1.6m0 27.2v1.6m0 .2v1.6m0 .2v1.6m0 .2v1.6m0 59.6v1.6m0 .2v1.6m0 .2v1.6m0 12.8v1.6m0 .2v1.6m0 .2v1.6m0 5.6v1.6m0 .2v1.6m0 .2v1.6m0 2v1.6m0 .2v1.6m1.9-135.5v1.6m0 .2v1.6m0 16.4v1.6m0 .2v1.6m0 .2v1.6m0 .2v1.6m0 74v1.6m0 .2v1.6m0 .2v1.6m0 .2v1.6m0 7.4v1.6m0 .2v1.6m0 7.4v1.6m0 .2v1.6m1.8-129.5v1.6m0 .2v1.6m0 9.2v1.6m0 93.8v1.6m0 .2v1.6m0 3.8v1.6m0 9.2v1.6m0 .2v1.6m1.9-128.5v1.6m0 .2v1.6m0 106.4v1.6m0 .2v1.6m0 11v1.6m0 .2v1.6m1.9-128v1.6m0 .2v1.6m0 108.2v1.6m0 11v1.6m0 .2v1.6m1.8-128.1v1.6m0 .2v1.6m0 110v1.6m0 11v1.6m1.9-126.9v1.6m0 .2v1.6m0 106.4v1.6m0 .2v1.6m0 11v1.6m0 .2v1.6m1.9-128v1.6m0 .2v1.6m0 .2v1.6m0 .2v1.6m0 101v1.6m0 .2v1.6m0 12.8v1.6m0 .2v1.6m1.9-128.2v1.6m0 .2v1.6m0 7.4v1.6m0 .2v1.6m0 .2v1.6m0 88.4v1.6m0 .2v1.6m0 .2v1.6m0 16.4v1.6m0 .2v1.6m1.8-129.1v1.6m0 16.4v1.6m0 .2v1.6m0 79.4v1.6m0 .2v1.6m0 2v1.6m0 18.2v1.6m0 .2v1.6m0 .2v1.6m1.9-132v1.6m0 2v1.6m0 2v1.6m0 88.4v1.6m0 .2v1.6m0 .2v1.6m0 3.8v1.6m0 20v1.6m0 .2v1.6m0 .2v1.6m1.9-134v1.6m0 11v1.6m0 .2v1.6m0 .2v1.6m0 18.2v1.6m0 57.8v1.6m0 .2v1.6m0 7.4v1.6m0 21.8v1.6m0 .2v1.6m0 .2v1.6m1.8-136.3v1.6m0 .2v1.6m0 .2v1.6m0 14.6v1.6m0 70.4v1.6m0 .2v1.6m0 .2v1.6m0 9.2v1.6m0 23.6v1.6m0 2v1.6m0 .2v1.6m0 .2v1.6m0 .2v1.6m1.9-142.2v1.6m0 .2v1.6m0 43.4v1.6m0 .2v1.6m0 39.8v1.6m0 .2v1.6m0 11v1.6m0 25.4v1.6m0 .2v1.6m0 2v1.6m0 .2v1.6m0 .2v1.6m0 .2v1.6m1.9-143.8v1.6m0 .2v1.6m0 84.8v1.6m0 12.8v1.6m0 29v1.6m0 .2v1.6m0 2v1.6m0 .2v1.6m1.8-143.2v1.6m0 .2v1.6m0 54.2v1.6m0 27.2v1.6m0 .2v1.6m0 12.8v1.6m0 30.8v1.6m0 .2v1.6m0 3.8v1.6m0 .2v1.6m0 .2v1.6m1.9-84.8v1.6m0 21.8v1.6m0 14.6v1.6m0 .2v1.6m0 30.8v1.6m0 .2v1.6m0 .2v1.6m0 2v1.6m0 .2v1.6m0 .2v1.6m0 .2v1.6m0 .2v1.6m1.9-66.5v1.6m0 16.4v1.6m0 29v1.6m0 2v1.6m0 .2v1.6m0 5.6v1.6m0 .2v1.6m0 .2v1.6m1.9-80.7v1.6m0 12.8v1.6m0 .2v1.6m0 14.6v1.6m0 .2v1.6m0 29v1.6m0 .2v1.6m0 .2v1.6m0 .2v1.6m0 .2v1.6m0 5.6v1.6m0 .2v1.6m0 .2v1.6m0 .2v1.6m0 3.8v1.6m1.8-89.5v1.6m0 12.8v1.6m0 16.4v1.6m0 34.4v1.6m0 .2v1.6m0 9.2v1.6m0 .2v1.6m0 .2v1.6m1.9-69.3v1.6m0 .2v1.6m0 12.8v1.6m0 34.4v1.6m0 .2v1.6m0 .2v1.6m0 9.2v1.6m0 .2v1.6m0 .2v1.6m0 .2v1.6m0 2v1.6m1.9-94.9v1.6m0 18.2v1.6m0 .2v1.6m0 .2v1.6m0 .2v1.6m0 9.2v1.6m0 34.4v1.6m0 .2v1.6m0 .2v1.6m0 11v1.6m0 .2v1.6m0 .2v1.6m0 .2v1.6m1.8-69.5v1.6m0 .2v1.6m0 .2v1.6m0 5.6v1.6m0 .2v1.6m0 30.8v1.6m0 2v1.6m0 .2v1.6m0 11v1.6m0 .2v1.6m0 2v1.6m0 .2v1.6m1.9-67.4v1.6m0 .2v1.6m0 .2v1.6m0 .2v1.6m0 2v1.6m0 .2v1.6m0 32.6v1.6m0 .2v1.6m1.9-92.6v1.6m0 48.8v1.6m0 .2v1.6m0 2v1.6m0 .2v1.6m0 .2v1.6m0 29v1.6m0 .2v1.6m0 .2v1.6m1.8-41.7v1.6m0 .2v1.6m0 .2v1.6m0 .2v1.6m0 .2v1.6m0 .2v1.6m0 29v1.6m1.9-37.5v1.6m0 .2v1.6m0 .2v1.6m0 .2v1.6m0 .2v1.6m0 .2v1.6m0 .2v1.6m0 25.4v1.6m1.9-33.7v1.6m0 .2v1.6m0 .2v1.6m0 .2v1.6m0 .2v1.6m0 .2v1.6m0 .2v1.6m0 18.2v1.6m0 .2v1.6m0 .2v1.6m1.9-122.8v1.6m0 3.8v1.6m0 83v1.6m0 .2v1.6m0 .2v1.6m0 .2v1.6m0 .2v1.6m0 .2v1.6m0 2v1.6m0 16.4v1.6m0 .2v1.6m1.8-135v1.6m0 .2v1.6m0 102.8v1.6m0 .2v1.6m0 .2v1.6m0 .2v1.6m0 21.8v1.6m1.9-146v1.6m0 .2v1.6m0 .2v1.6m0 .2v1.6m0 .2v1.6m0 .2v1.6m0 102.8v1.6m0 2v1.6m0 .2v1.6m0 .2v1.6m0 .2v1.6m0 .2v1.6m0 .2v1.6m0 .2v1.6m0 .2v1.6m0 12.8v1.6m0 .2v1.6m0 .2v1.6m1.9-28.2v1.6m0 .2v1.6m0 .2v1.6m0 .2v1.6m0 .2v1.6m0 16.4v1.6m0 .2v1.6" stroke="#3a72a2" stroke-width="1.3" fill="none"/>
</g>
<rect x="36.9" y="505.6" width="176.1" height="171.6" fill="none" stroke="#000000" stroke-width="1.4" />
<line x1="36.9" y1="677.5" x2="40.9" y2="677.5" stroke="#000000" stroke-width="1.2" />
<text x="30.1" y="681.4" font-size="11.2" text-anchor="end" font-weight="normal" font-style="normal" fill="#1a1a1a" >-4</text>
<line x1="36.9" y1="656" x2="39.4" y2="656" stroke="#000000" stroke-width="1.2" />
<line x1="36.9" y1="634.5" x2="40.9" y2="634.5" stroke="#000000" stroke-width="1.2" />
<text x="30.1" y="638.4" font-size="11.2" text-anchor="end" font-weight="normal" font-style="normal" fill="#1a1a1a" >-2</text>
<line x1="36.9" y1="613" x2="39.4" y2="613" stroke="#000000" stroke-width="1.2" />
<line x1="36.9" y1="591.5" x2="40.9" y2="591.5" stroke="#000000" stroke-width="1.2" />
<text x="30.1" y="595.4" font-size="11.2" text-anchor="end" font-weight="normal" font-style="normal" fill="#1a1a1a" >0</text>
<line x1="36.9" y1="570" x2="39.4" y2="570" stroke="#000000" stroke-width="1.2" />
<line x1="36.9" y1="548.5" x2="40.9" y2="548.5" stroke="#000000" stroke-width="1.2" />
<text x="30.1" y="552.4" font-size="11.2" text-anchor="end" font-weight="normal" font-style="normal" fill="#1a1a1a" >2</text>
<line x1="36.9" y1="527" x2="39.4" y2="527" stroke="#000000" stroke-width="1.2" />
<line x1="36.9" y1="505.5" x2="40.9" y2="505.5" stroke="#000000" stroke-width="1.2" />
<text x="30.1" y="509.4" font-size="11.2" text-anchor="end" font-weight="normal" font-style="normal" fill="#1a1a1a" >4</text>
<line x1="36.9" y1="677.2" x2="36.9" y2="673.2" stroke="#000000" stroke-width="1.2" />
<text x="36.9" y="692.2" font-size="11" text-anchor="middle" font-weight="normal" font-style="normal" fill="#1a1a1a" >W</text>
<line x1="71" y1="677.2" x2="71" y2="673.2" stroke="#000000" stroke-width="1.2" />
<text x="71" y="692.2" font-size="11" text-anchor="middle" font-weight="normal" font-style="normal" fill="#1a1a1a" >L</text>
<line x1="112.8" y1="677.2" x2="112.8" y2="673.2" stroke="#000000" stroke-width="1.2" />
<text x="112.8" y="692.2" font-size="11" text-anchor="middle" font-weight="normal" font-style="normal" fill="#1a1a1a" >X</text>
<line x1="161.3" y1="677.2" x2="161.3" y2="673.2" stroke="#000000" stroke-width="1.2" />
<text x="161.3" y="692.2" font-size="11" text-anchor="middle" font-weight="normal" font-style="normal" fill="#1a1a1a" >G</text>
<line x1="213" y1="677.2" x2="213" y2="673.2" stroke="#000000" stroke-width="1.2" />
<text x="213" y="692.2" font-size="11" text-anchor="middle" font-weight="normal" font-style="normal" fill="#1a1a1a" >K</text>
<text x="124.95" y="710.2" font-size="13.2" font-weight="bold" text-anchor="middle" fill="#1a1a1a"><tspan font-style="italic">k</tspan>-point</text>
<text x="0.3" y="490.6" font-size="16" font-weight="bold" fill="#000000">g</text>
<text transform="translate(14.9,591.3) rotate(-90)" font-size="14" font-weight="bold" text-anchor="middle" fill="#1a1a1a"><tspan font-style="italic">E</tspan> (eV)</text>
<clipPath id="cliph"><rect x="385.2" y="506" width="175.6" height="171"/></clipPath>
<line x1="419.4" y1="506" x2="419.4" y2="677" stroke="#d0d0d0" stroke-width="1" />
<line x1="461.5" y1="506" x2="461.5" y2="677" stroke="#d0d0d0" stroke-width="1" />
<line x1="510.1" y1="506" x2="510.1" y2="677" stroke="#d0d0d0" stroke-width="1" />
<line x1="385.2" y1="548.5" x2="560.8" y2="548.5" stroke="#d0d0d0" stroke-width="1" />
<line x1="385.2" y1="591.5" x2="560.8" y2="591.5" stroke="#d0d0d0" stroke-width="1" />
<line x1="385.2" y1="634.5" x2="560.8" y2="634.5" stroke="#d0d0d0" stroke-width="1" />
<g clip-path="url(#cliph)">
<path d="M386.3 510.1v1.2m0 .6v1.2m0 .6v1.2m0 2.4v1.2m0 2.4v1.2m0 .6v1.2m0 2.4v1.2m0 .6v1.2m0 .6v1.2m0 4.2v1.2m0 2.4v1.2m0 .6v1.2m0 .6v1.2m0 .6v1.2m0 36.6v1.2m0 15v1.2m0 25.8v1.2m0 4.2v1.2m0 2.4v1.2m0 6v1.2m0 .6v1.2m0 15v1.2m0 .6v1.2m0 2.4v1.2m1.9-159.4v1.2m0 2.4v1.2m0 .6v1.2m0 2.4v1.2m0 .6v1.2m0 2.4v1.2m0 .6v1.2m0 .6v1.2m0 .6v1.2m0 2.4v1.2m0 .6v1.2m0 7.8v1.2m0 .6v1.2m0 25.8v1.2m0 .6v1.2m0 9.6v1.2m0 .6v1.2m0 11.4v1.2m0 33v1.2m0 6v1.2m0 11.4v1.2m0 .6v1.2m0 7.8v1.2m0 .6v1.2m0 .6v1.2m0 2.4v1.2m0 .6v1.2m1.8-165v1.2m0 2.4v1.2m0 2.4v1.2m0 2.4v1.2m0 .6v1.2m0 .6v1.2m0 2.4v1.2m0 .6v1.2m0 6v1.2m0 .6v1.2m0 4.2v1.2m0 27.6v1.2m0 .6v1.2m0 22.2v1.2m0 34.8v1.2m0 2.4v1.2m0 .6v1.2m0 6v1.2m0 .6v1.2m0 7.8v1.2m0 .6v1.2m0 .6v1.2m0 6v1.2m0 2.4v1.2m1.9-162.8v1.2m0 .6v1.2m0 .6v1.2m0 .6v1.2m0 2.4v1.2m0 .6v1.2m0 .6v1.2m0 .6v1.2m0 .6v1.2m0 4.2v1.2m0 .6v1.2m0 .6v1.2m0 2.4v1.2m0 34.8v1.2m0 .6v1.2m0 7.8v1.2m0 .6v1.2m0 9.6v1.2m0 15v1.2m0 .6v1.2m0 .6v1.2m0 20.4v1.2m0 .6v1.2m0 .6v1.2m0 7.8v1.2m0 4.2v1.2m0 16.8v1.2m0 2.4v1.2m1.9-170.6v1.2m0 2.4v1.2m0 2.4v1.2m0 .6v1.2m0 6v1.2m0 4.2v1.2m0 .6v1.2m0 .6v1.2m0 2.4v1.2m0 2.4v1.2m0 33v1.2m0 .6v1.2m0 7.8v1.2m0 9.6v1.2m0 16.8v1.2m0 2.4v1.2m0 27.6v1.2m0 2.4v1.2m0 .6v1.2m0 2.4v1.2m0 2.4v1.2m0 6v1.2m0 .6v1.2m0 2.4v1.2m1.9-165.1v1.2m0 7.8v1.2m0 2.4v1.2m0 .6v1.2m0 .6v1.2m0 6v1.2m0 .6v1.2m0 .6v1.2m0 .6v1.2m0 38.4v1.2m0 .6v1.2m0 16.8v1.2m0 6v1.2m0 7.8v1.2m0 .6v1.2m0 .6v1.2m0 6v1.2m0 27.6v1.2m0 .6v1.2m0 2.4v1.2m0 4.2v1.2m0 7.8v1.2m0 .6v1.2m0 2.4v1.2m1.8-161.5v1.2m0 .6v1.2m0 2.4v1.2m0 6v1.2m0 4.2v1.2m0 .6v1.2m0 4.2v1.2m0 33v1.2m0 .6v1.2m0 7.8v1.2m0 15v1.2m0 7.8v1.2m0 2.4v1.2m0 .6v1.2m0 .6v1.2m0 .6v1.2m0 .6v1.2m1.9-106.3v1.2m0 4.2v1.2m0 .6v1.2m0 2.4v1.2m0 .6v1.2m0 .6v1.2m0 4.2v1.2m0 40.2v1.2m0 15v1.2m0 15v1.2m0 .6v1.2m0 .6v1.2m0 .6v1.2m0 2.4v1.2m0 .6v1.2m0 .6v1.2m0 .6v1.2m0 .6v1.2m1.9-104.2v1.2m0 .6v1.2m0 .6v1.2m0 2.4v1.2m0 2.4v1.2m0 2.4v1.2m0 38.4v1.2m0 7.8v1.2m0 24v1.2m0 .6v1.2m0 .6v1.2m0 .6v1.2m0 .6v1.2m0 .6v1.2m0 6v1.2m1.8-99.2v1.2m0 .6v1.2m0 .6v1.2m0 2.4v1.2m0 40.2v1.2m0 7.8v1.2m0 6v1.2m0 6v1.2m0 7.8v1.2m0 4.2v1.2m0 .6v1.2m0 2.4v1.2m0 .6v1.2m0 2.4v1.2m0 .6v1.2m0 2.4v1.2m0 6v1.2m1.9-133.3v1.2m0 .6v1.2m0 20.4v1.2m0 4.2v1.2m0 .6v1.2m0 .6v1.2m0 36.6v1.2m0 9.6v1.2m0 4.2v1.2m0 .6v1.2m0 15v1.2m0 2.4v1.2m0 4.2v1.2m0 4.2v1.2m0 .6v1.2m1.9-121.6v1.2m0 .6v1.2m0 29.4v1.2m0 .6v1.2m0 .6v1.2m0 2.4v1.2m0 31.2v1.2m0 7.8v1.2m0 4.2v1.2m0 15v1.2m0 2.4v1.2m0 .6v1.2m0 .6v1.2m0 2.4v1.2m0 4.2v1.2m0 .6v1.2m1.8-122.8v1.2m0 .6v1.2m0 .6v1.2m0 .6v1.2m0 .6v1.2m0 .6v1.2m0 .6v1.2m0 27.6v1.2m0 .6v1.2m0 .6v1.2m0 27.6v1.2m0 7.8v1.2m0 6v1.2m0 13.2v1.2m0 .6v1.2m0 2.4v1.2m0 .6v1.2m0 .6v1.2m0 .6v1.2m1.9-107.5v1.2m0 .6v1.2m0 2.4v1.2m0 .6v1.2m0 .6v1.2m0 .6v1.2m0 .6v1.2m0 20.4v1.2m0 4.2v1.2m0 .6v1.2m0 .6v1.2m0 .6v1.2m0 .6v1.2m0 25.8v1.2m0 .6v1.2m0 4.2v1.2m0 13.2v1.2m0 6v1.2m0 2.4v1.2m0 .6v1.2m0 33v1.2m0 2.4v1.2m0 6v1.2m1.9-150.3v1.2m0 6v1.2m0 .6v1.2m0 .6v1.2m0 .6v1.2m0 .6v1.2m0 27.6v1.2m0 .6v1.2m0 .6v1.2m0 .6v1.2m0 20.4v1.2m0 6v1.2m0 11.4v1.2m0 .6v1.2m0 6v1.2m0 .6v1.2m0 20.4v1.2m0 4.2v1.2m0 .6v1.2m0 .6v1.2m0 2.4v1.2m0 .6v1.2m0 .6v1.2m0 2.4v1.2m0 .6v1.2m0 .6v1.2m0 .6v1.2m0 .6v1.2m0 .6v1.2m0 .6v1.2m1.9-161.3v1.2m0 .6v1.2m0 2.4v1.2m0 .6v1.2m0 .6v1.2m0 .6v1.2m0 .6v1.2m0 2.4v1.2m0 .6v1.2m0 2.4v1.2m0 2.4v1.2m0 31.2v1.2m0 .6v1.2m0 6v1.2m0 .6v1.2m0 29.4v1.2m0 .6v1.2m0 .6v1.2m0 .6v1.2m0 40.2v1.2m0 6v1.2m0 .6v1.2m1.8-149.9v1.2m0 2.4v1.2m0 9.6v1.2m0 2.4v1.2m0 .6v1.2m0 2.4v1.2m0 .6v1.2m0 .6v1.2m0 2.4v1.2m0 2.4v1.2m0 29.4v1.2m0 6v1.2m0 4.2v1.2m0 13.2v1.2m0 24v1.2m0 .6v1.2m0 .6v1.2m0 .6v1.2m0 .6v1.2m0 .6v1.2m0 2.4v1.2m0 .6v1.2m0 .6v1.2m0 .6v1.2m0 7.8v1.2m0 2.4v1.2m0 .6v1.2m0 .6v1.2m0 .6v1.2m0 .6v1.2m0 2.4v1.2m1.9-169v1.2m0 2.4v1.2m0 .6v1.2m0 4.2v1.2m0 4.2v1.2m0 .6v1.2m0 .6v1.2m0 18.6v1.2m0 .6v1.2m0 .6v1.2m0 .6v1.2m0 .6v1.2m0 .6v1.2m0 36.6v1.2m0 13.2v1.2m0 .6v1.2m0 .6v1.2m0 .6v1.2m0 18.6v1.2m0 6v1.2m0 .6v1.2m0 .6v1.2m0 2.4v1.2m0 .6v1.2m0 2.4v1.2m0 2.4v1.2m0 9.6v1.2m0 4.2v1.2m0 .6v1.2m1.9-168.7v1.2m0 2.4v1.2m0 .6v1.2m0 4.2v1.2m0 2.4v1.2m0 33v1.2m0 .6v1.2m0 .6v1.2m0 .6v1.2m0 .6v1.2m0 .6v1.2m0 24v1.2m0 2.4v1.2m0 11.4v1.2m0 .6v1.2m0 .6v1.2m0 2.4v1.2m0 13.2v1.2m0 .6v1.2m0 .6v1.2m0 .6v1.2m0 2.4v1.2m0 2.4v1.2m0 .6v1.2m0 2.4v1.2m0 7.8v1.2m0 .6v1.2m0 .6v1.2m0 11.4v1.2m1.8-163.4v1.2m0 6v1.2m0 2.4v1.2m0 .6v1.2m0 .6v1.2m0 .6v1.2m0 2.4v1.2m0 6v1.2m0 25.8v1.2m0 .6v1.2m0 .6v1.2m0 .6v1.2m0 18.6v1.2m0 6v1.2m0 9.6v1.2m0 .6v1.2m0 .6v1.2m0 2.4v1.2m0 15v1.2m0 .6v1.2m0 11.4v1.2m0 7.8v1.2m0 6v1.2m0 2.4v1.2m0 6v1.2m0 .6v1.2m0 .6v1.2m1.9-158.2v1.2m0 2.4v1.2m0 36.6v1.2m0 .6v1.2m0 24v1.2m0 .6v1.2m0 22.2v1.2m0 .6v1.2m0 .6v1.2m0 15v1.2m0 .6v1.2m0 .6v1.2m0 6v1.2m0 .6v1.2m0 4.2v1.2m0 .6v1.2m0 .6v1.2m0 2.4v1.2m0 4.2v1.2m0 2.4v1.2m0 .6v1.2m0 .6v1.2m0 6v1.2m1.9-170.5v1.2m0 2.4v1.2m0 7.8v1.2m0 29.4v1.2m0 .6v1.2m0 .6v1.2m0 .6v1.2m0 .6v1.2m0 .6v1.2m0 25.8v1.2m0 9.6v1.2m0 16.8v1.2m0 .6v1.2m0 18.6v1.2m0 .6v1.2m0 6v1.2m0 2.4v1.2m0 2.4v1.2m0 .6v1.2m0 2.4v1.2m0 .6v1.2m0 .6v1.2m0 4.2v1.2m1.8-161.4v1.2m0 .6v1.2m0 2.4v1.2m0 .6v1.2m0 4.2v1.2m0 6v1.2m0 2.4v1.2m0 4.2v1.2m0 .6v1.2m0 .6v1.2m0 .6v1.2m0 .6v1.2m0 .6v1.2m0 .6v1.2m0 34.8v1.2m0 .6v1.2m0 .6v1.2m0 51v1.2m0 7.8v1.2m0 .6v1.2m0 4.2v1.2m0 6v1.2m0 13.2v1.2m1.9-165.2v1.2m0 6v1.2m0 .6v1.2m0 2.4v1.2m0 .6v1.2m0 .6v1.2m0 .6v1.2m0 .6v1.2m0 .6v1.2m0 .6v1.2m0 .6v1.2m0 .6v1.2m0 38.4v1.2m0 .6v1.2m0 .6v1.2m0 15v1.2m0 .6v1.2m0 .6v1.2m0 .6v1.2m0 42v1.2m0 .6v1.2m0 .6v1.2m0 4.2v1.2m0 2.4v1.2m0 .6v1.2m0 .6v1.2m1.9-152.2v1.2m0 .6v1.2m0 2.4v1.2m0 .6v1.2m0 2.4v1.2m0 2.4v1.2m0 .6v1.2m0 43.8v1.2m0 .6v1.2m0 2.4v1.2m0 25.8v1.2m0 .6v1.2m0 .6v1.2m0 34.8v1.2m0 .6v1.2m0 .6v1.2m0 .6v1.2m0 4.2v1.2m0 2.4v1.2m0 .6v1.2m0 2.4v1.2m0 4.2v1.2m0 .6v1.2m0 .6v1.2m1.9-161.5v1.2m0 .6v1.2m0 .6v1.2m0 2.4v1.2m0 .6v1.2m0 38.4v1.2m0 .6v1.2m0 .6v1.2m0 .6v1.2m0 .6v1.2m0 36.6v1.2m0 .6v1.2m0 .6v1.2m0 33v1.2m0 4.2v1.2m0 .6v1.2m0 .6v1.2m0 .6v1.2m0 .6v1.2m0 .6v1.2m0 .6v1.2m0 2.4v1.2m0 .6v1.2m0 2.4v1.2m0 .6v1.2m1.8-166.7v1.2m0 .6v1.2m0 .6v1.2m0 .6v1.2m0 2.4v1.2m0 43.8v1.2m0 .6v1.2m0 .6v1.2m0 47.4v1.2m0 2.4v1.2m0 33v1.2m0 2.4v1.2m0 6v1.2m0 .6v1.2m0 6v1.2m0 .6v1.2m1.9-166.3v1.2m0 .6v1.2m0 43.8v1.2m0 .6v1.2m0 .6v1.2m0 .6v1.2m0 52.8v1.2m0 42v1.2m0 6v1.2m0 9.6v1.2m1.9-126.6v1.2m0 .6v1.2m0 .6v1.2m0 .6v1.2m0 52.8v1.2m0 .6v1.2m0 2.4v1.2m0 .6v1.2m0 38.4v1.2m0 2.4v1.2m0 9.6v1.2m0 .6v1.2m0 2.4v1.2m1.8-133.5v1.2m0 .6v1.2m0 .6v1.2m0 .6v1.2m0 63.6v1.2m0 4.2v1.2m0 .6v1.2m0 2.4v1.2m0 31.2v1.2m0 7.8v1.2m0 .6v1.2m0 6v1.2m1.9-135.3v1.2m0 .6v1.2m0 .6v1.2m0 61.8v1.2m0 .6v1.2m0 .6v1.2m0 .6v1.2m0 4.2v1.2m0 .6v1.2m0 2.4v1.2m0 2.4v1.2m0 38.4v1.2m1.9-132.4v1.2m0 .6v1.2m0 .6v1.2m0 .6v1.2m0 67.2v1.2m0 2.4v1.2m0 .6v1.2m0 2.4v1.2m0 .6v1.2m0 2.4v1.2m0 4.2v1.2m0 34.8v1.2m0 2.4v1.2m0 4.2v1.2m1.8-140v1.2m0 .6v1.2m0 70.8v1.2m0 .6v1.2m0 .6v1.2m0 2.4v1.2m0 .6v1.2m0 .6v1.2m0 .6v1.2m0 2.4v1.2m0 .6v1.2m0 4.2v1.2m0 34.8v1.2m0 2.4v1.2m0 .6v1.2m1.9-137.3v1.2m0 .6v1.2m0 67.2v1.2m0 .6v1.2m0 .6v1.2m0 .6v1.2m0 2.4v1.2m0 .6v1.2m0 .6v1.2m0 .6v1.2m0 2.4v1.2m0 .6v1.2m0 2.4v1.2m0 .6v1.2m0 4.2v1.2m0 25.8v1.2m0 .6v1.2m1.9-161v1.2m0 11.4v1.2m0 .6v1.2m0 .6v1.2m0 16.8v1.2m0 .6v1.2m0 63.6v1.2m0 .6v1.2m0 .6v1.2m0 2.4v1.2m0 2.4v1.2m0 2.4v1.2m0 .6v1.2m0 .6v1.2m0 .6v1.2m0 .6v1.2m0 2.4v1.2m0 .6v1.2m0 31.2v1.2m1.9-161.8v1.2m0 .6v1.2m0 2.4v1.2m0 .6v1.2m0 4.2v1.2m0 .6v1.2m0 .6v1.2m0 18.6v1.2m0 2.4v1.2m0 60v1.2m0 2.4v1.2m0 .6v1.2m0 .6v1.2m0 4.2v1.2m0 4.2v1.2m0 6v1.2m0 2.4v1.2m0 38.4v1.2m1.8-163.8v1.2m0 .6v1.2m0 6v1.2m0 2.4v1.2m0 .6v1.2m0 .6v1.2m0 .6v1.2m0 11.4v1.2m0 69v1.2m0 6v1.2m0 4.2v1.2m0 .6v1.2m0 .6v1.2m0 .6v1.2m0 2.4v1.2m0 .6v1.2m0 .6v1.2m0 2.4v1.2m0 .6v1.2m0 2.4v1.2m0 20.4v1.2m0 .6v1.2m0 2.4v1.2m1.9-167.5v1.2m0 .6v1.2m0 4.2v1.2m0 2.4v1.2m0 .6v1.2m0 2.4v1.2m0 2.4v1.2m0 .6v1.2m0 .6v1.2m0 13.2v1.2m0 65.4v1.2m0 2.4v1.2m0 .6v1.2m0 .6v1.2m0 2.4v1.2m0 4.2v1.2m0 .6v1.2m0 9.6v1.2m0 7.8v1.2m0 18.6v1.2m1.9-162.6v1.2m0 .6v1.2m0 .6v1.2m0 .6v1.2m0 .6v1.2m0 9.6v1.2m0 .6v1.2m0 2.4v1.2m0 .6v1.2m0 11.4v1.2m0 .6v1.2m0 61.8v1.2m0 2.4v1.2m0 .6v1.2m0 .6v1.2m0 2.4v1.2m0 2.4v1.2m0 6v1.2m0 13.2v1.2m0 .6v1.2m0 22.2v1.2m1.8-165.6v1.2m0 .6v1.2m0 .6v1.2m0 7.8v1.2m0 4.2v1.2m0 .6v1.2m0 .6v1.2m0 .6v1.2m0 .6v1.2m0 .6v1.2m0 11.4v1.2m0 .6v1.2m0 54.6v1.2m0 .6v1.2m0 .6v1.2m0 4.2v1.2m0 .6v1.2m0 .6v1.2m0 .6v1.2m0 .6v1.2m0 2.4v1.2m0 .6v1.2m0 2.4v1.2m0 6v1.2m0 .6v1.2m0 .6v1.2m0 33v1.2m1.9-167.6v1.2m0 .6v1.2m0 2.4v1.2m0 .6v1.2m0 .6v1.2m0 .6v1.2m0 .6v1.2m0 .6v1.2m0 .6v1.2m0 2.4v1.2m0 2.4v1.2m0 2.4v1.2m0 .6v1.2m0 .6v1.2m0 7.8v1.2m0 61.8v1.2m0 2.4v1.2m0 2.4v1.2m0 .6v1.2m0 .6v1.2m0 2.4v1.2m0 .6v1.2m0 .6v1.2m0 .6v1.2m0 6v1.2m0 4.2v1.2m0 .6v1.2m0 .6v1.2m0 .6v1.2m0 .6v1.2m0 4.2v1.2m0 16.8v1.2m1.9-162.4v1.2m0 2.4v1.2m0 .6v1.2m0 .6v1.2m0 2.4v1.2m0 15v1.2m0 7.8v1.2m0 63.6v1.2m0 .6v1.2m0 6v1.2m0 .6v1.2m0 .6v1.2m0 .6v1.2m0 .6v1.2m0 .6v1.2m0 .6v1.2m0 2.4v1.2m0 2.4v1.2m0 .6v1.2m0 .6v1.2m0 .6v1.2m0 .6v1.2m0 .6v1.2m0 .6v1.2m0 .6v1.2m0 2.4v1.2m0 15v1.2m0 .6v1.2m1.8-171v1.2m0 .6v1.2m0 4.2v1.2m0 .6v1.2m0 .6v1.2m0 .6v1.2m0 .6v1.2m0 .6v1.2m0 .6v1.2m0 .6v1.2m0 .6v1.2m0 2.4v1.2m0 .6v1.2m0 .6v1.2m0 2.4v1.2m0 .6v1.2m0 7.8v1.2m0 .6v1.2m0 54.6v1.2m0 6v1.2m0 .6v1.2m0 .6v1.2m0 .6v1.2m0 .6v1.2m0 2.4v1.2m0 2.4v1.2m0 9.6v1.2m0 .6v1.2m0 9.6v1.2m0 .6v1.2m0 .6v1.2m0 2.4v1.2m0 15v1.2m1.9-169.1v1.2m0 .6v1.2m0 .6v1.2m0 7.8v1.2m0 .6v1.2m0 .6v1.2m0 .6v1.2m0 .6v1.2m0 .6v1.2m0 .6v1.2m0 6v1.2m0 .6v1.2m0 7.8v1.2m0 56.4v1.2m0 4.2v1.2m0 .6v1.2m0 .6v1.2m0 2.4v1.2m0 2.4v1.2m0 4.2v1.2m0 2.4v1.2m0 4.2v1.2m0 2.4v1.2m0 .6v1.2m0 2.4v1.2m0 4.2v1.2m1.9-141.4v1.2m0 4.2v1.2m0 6v1.2m0 .6v1.2m0 7.8v1.2m0 2.4v1.2m0 9.6v1.2m0 65.4v1.2m0 2.4v1.2m0 .6v1.2m0 6v1.2m0 2.4v1.2m0 2.4v1.2m0 .6v1.2m0 2.4v1.2m0 .6v1.2m0 .6v1.2m0 .6v1.2m0 .6v1.2m0 2.4v1.2m0 .6v1.2m0 20.4v1.2m1.9-167.7v1.2m0 .6v1.2m0 4.2v1.2m0 .6v1.2m0 .6v1.2m0 .6v1.2m0 .6v1.2m0 .6v1.2m0 .6v1.2m0 .6v1.2m0 .6v1.2m0 .6v1.2m0 .6v1.2m0 .6v1.2m0 .6v1.2m0 9.6v1.2m0 .6v1.2m0 7.8v1.2m0 2.4v1.2m0 4.2v1.2m0 .6v1.2m0 43.8v1.2m0 .6v1.2m0 .6v1.2m0 .6v1.2m0 15v1.2m0 4.2v1.2m0 33v1.2m1.8-169.1v1.2m0 2.4v1.2m0 2.4v1.2m0 .6v1.2m0 .6v1.2m0 .6v1.2m0 7.8v1.2m0 2.4v1.2m0 13.2v1.2m0 .6v1.2m0 .6v1.2m0 4.2v1.2m0 .6v1.2m0 .6v1.2m0 .6v1.2m0 2.4v1.2m0 .6v1.2m0 2.4v1.2m0 34.8v1.2m0 .6v1.2m0 .6v1.2m0 .6v1.2m0 2.4v1.2m0 6v1.2m0 .6v1.2m0 .6v1.2m0 .6v1.2m0 2.4v1.2m0 4.2v1.2m0 .6v1.2m0 9.6v1.2m1.9-143.1v1.2m0 4.2v1.2m0 4.2v1.2m0 2.4v1.2m0 .6v1.2m0 22.2v1.2m0 2.4v1.2m0 6v1.2m0 .6v1.2m0 .6v1.2m0 .6v1.2m0 .6v1.2m0 2.4v1.2m0 .6v1.2m0 .6v1.2m0 29.4v1.2m0 2.4v1.2m0 .6v1.2m0 .6v1.2m0 .6v1.2m0 .6v1.2m0 4.2v1.2m0 7.8v1.2m0 2.4v1.2m0 13.2v1.2m0 24v1.2m1.9-156.2v1.2m0 2.4v1.2m0 .6v1.2m0 .6v1.2m0 6v1.2m0 13.2v1.2m0 2.4v1.2m0 .6v1.2m0 2.4v1.2m0 2.4v1.2m0 .6v1.2m0 .6v1.2m0 4.2v1.2m0 .6v1.2m0 .6v1.2m0 31.2v1.2m0 2.4v1.2m0 .6v1.2m0 4.2v1.2m0 .6v1.2m0 .6v1.2m0 2.4v1.2m0 .6v1.2m0 .6v1.2m0 .6v1.2m0 .6v1.2m0 4.2v1.2m0 33v1.2m1.8-157.8v1.2m0 9.6v1.2m0 2.4v1.2m0 .6v1.2m0 15v1.2m0 2.4v1.2m0 .6v1.2m0 .6v1.2m0 .6v1.2m0 .6v1.2m0 .6v1.2m0 .6v1.2m0 2.4v1.2m0 .6v1.2m0 .6v1.2m0 .6v1.2m0 2.4v1.2m0 34.8v1.2m0 .6v1.2m0 6v1.2m0 2.4v1.2m0 2.4v1.2m0 22.2v1.2m1.9-136.2v1.2m0 4.2v1.2m0 2.4v1.2m0 .6v1.2m0 .6v1.2m0 .6v1.2m0 15v1.2m0 2.4v1.2m0 2.4v1.2m0 4.2v1.2m0 7.8v1.2m0 2.4v1.2m0 45.6v1.2m0 2.4v1.2m0 .6v1.2m0 6v1.2m0 .6v1.2m0 15v1.2m0 24v1.2m0 .6v1.2m0 2.4v1.2m1.9-164.9v1.2m0 2.4v1.2m0 .6v1.2m0 2.4v1.2m0 .6v1.2m0 16.8v1.2m0 .6v1.2m0 .6v1.2m0 .6v1.2m0 .6v1.2m0 7.8v1.2m0 4.2v1.2m0 9.6v1.2m0 34.8v1.2m0 .6v1.2m0 6v1.2m0 .6v1.2m0 .6v1.2m0 45.6v1.2m1.8-156v1.2m0 .6v1.2m0 2.4v1.2m0 2.4v1.2m0 15v1.2m0 4.2v1.2m0 .6v1.2m0 .6v1.2m0 .6v1.2m0 .6v1.2m0 .6v1.2m0 2.4v1.2m0 2.4v1.2m0 .6v1.2m0 .6v1.2m0 4.2v1.2m0 2.4v1.2m1.9-60.8v1.2m0 2.4v1.2m0 .6v1.2m0 25.8v1.2m0 .6v1.2m0 .6v1.2m0 .6v1.2m0 .6v1.2m0 2.4v1.2m0 2.4v1.2m0 .6v1.2m0 .6v1.2m0 .6v1.2m0 .6v1.2m0 40.2v1.2m0 .6v1.2m0 51v1.2m0 4.2v1.2m1.9-153.2v1.2m0 4.2v1.2m0 36.6v1.2m0 2.4v1.2m0 .6v1.2m0 .6v1.2m0 34.8v1.2m0 .6v1.2m0 .6v1.2m1.9-72.1v1.2m0 .6v1.2m0 25.8v1.2m0 .6v1.2m0 .6v1.2m0 .6v1.2m0 .6v1.2m0 29.4v1.2m0 .6v1.2m0 .6v1.2m0 56.4v1.2m0 9.6v1.2m1.8-156.3v1.2m0 .6v1.2m0 9.6v1.2m0 6v1.2m0 4.2v1.2m0 20.4v1.2m0 6v1.2m0 25.8v1.2m0 .6v1.2m0 58.2v1.2m0 2.4v1.2m0 9.6v1.2m1.9-157.2v1.2m0 9.6v1.2m0 .6v1.2m0 2.4v1.2m0 .6v1.2m0 .6v1.2m0 2.4v1.2m0 6v1.2m0 49.2v1.2m0 60v1.2m0 .6v1.2m1.9-146.7v1.2m0 .6v1.2m0 9.6v1.2m0 .6v1.2m0 2.4v1.2m0 4.2v1.2m0 .6v1.2m0 4.2v1.2m0 .6v1.2m0 .6v1.2m0 .6v1.2m0 .6v1.2m0 .6v1.2m0 .6v1.2m0 2.4v1.2m0 9.6v1.2m0 36.6v1.2m0 7.8v1.2m0 .6v1.2m0 34.8v1.2m0 .6v1.2m0 .6v1.2m0 .6v1.2m0 7.8v1.2m0 .6v1.2m1.8-139.7v1.2m0 .6v1.2m0 34.8v1.2m0 .6v1.2m0 22.2v1.2m0 70.8v1.2m0 .6v1.2m1.9-143.3v1.2m0 .6v1.2m0 2.4v1.2m0 .6v1.2m0 24v1.2m0 .6v1.2m0 2.4v1.2m0 2.4v1.2m0 27.6v1.2m0 .6v1.2m0 49.2v1.2m0 .6v1.2m0 2.4v1.2m0 .6v1.2m0 .6v1.2m0 4.2v1.2m0 2.4v1.2m0 .6v1.2m0 .6v1.2m1.9-117.5v1.2m0 6v1.2m0 6v1.2m0 27.6v1.2m0 .6v1.2m0 .6v1.2m1.8-59.1v1.2m0 6v1.2m0 .6v1.2m0 4.2v1.2m0 .6v1.2m0 2.4v1.2m0 .6v1.2m0 .6v1.2m0 31.2v1.2m0 .6v1.2m0 .6v1.2m0 49.2v1.2m1.9-151.7v1.2m0 38.4v1.2m0 2.4v1.2m0 .6v1.2m0 .6v1.2m0 .6v1.2m0 2.4v1.2m0 .6v1.2m0 .6v1.2m0 4.2v1.2m0 36.6v1.2m0 .6v1.2m0 63.6v1.2m1.9-167v1.2m0 20.4v1.2m0 6v1.2m0 .6v1.2m0 .6v1.2m0 .6v1.2m0 4.2v1.2m0 2.4v1.2m0 .6v1.2m0 54.6v1.2m0 .6v1.2m0 43.8v1.2m0 4.2v1.2m0 6v1.2m0 2.4v1.2m0 2.4v1.2m1.9-168.1v1.2m0 22.2v1.2m0 .6v1.2m0 .6v1.2m0 2.4v1.2m0 2.4v1.2m0 2.4v1.2m0 .6v1.2m0 2.4v1.2m0 6v1.2m0 .6v1.2m0 .6v1.2m0 6v1.2m0 .6v1.2m0 .6v1.2m0 .6v1.2m0 87v1.2m0 2.4v1.2m0 4.2v1.2m0 .6v1.2m1.8-166.2v1.2m0 20.4v1.2m0 .6v1.2m0 .6v1.2m0 .6v1.2m0 .6v1.2m0 .6v1.2m0 .6v1.2m0 .6v1.2m0 .6v1.2m0 2.4v1.2m0 4.2v1.2m0 .6v1.2m0 6v1.2m0 4.2v1.2m0 38.4v1.2m0 45.6v1.2m0 6v1.2m0 2.4v1.2m0 2.4v1.2m0 4.2v1.2m1.9-167.3v1.2m0 22.2v1.2m0 .6v1.2m0 .6v1.2m0 7.8v1.2m0 .6v1.2m0 6v1.2m0 .6v1.2m0 2.4v1.2m0 2.4v1.2m0 .6v1.2m0 6v1.2m0 .6v1.2m0 33v1.2m0 34.8v1.2m1.9-108.6v1.2m0 2.4v1.2m0 .6v1.2m0 .6v1.2m0 .6v1.2m0 .6v1.2m0 .6v1.2m0 .6v1.2m0 .6v1.2m0 .6v1.2m0 .6v1.2m0 .6v1.2m0 2.4v1.2m0 .6v1.2m0 .6v1.2m0 .6v1.2m0 2.4v1.2m0 .6v1.2m0 .6v1.2m0 31.2v1.2m0 .6v1.2m0 33v1.2m0 15v1.2m1.8-150.8v1.2m0 .6v1.2m0 27.6v1.2m0 .6v1.2m0 2.4v1.2m0 .6v1.2m0 2.4v1.2m0 .6v1.2m0 .6v1.2m0 7.8v1.2m0 .6v1.2m0 4.2v1.2m0 34.8v1.2m0 34.8v1.2m0 22.2v1.2m0 4.2v1.2m0 2.4v1.2m0 .6v1.2m1.9-131.9v1.2m0 4.2v1.2m0 52.8v1.2m0 54.6v1.2m0 2.4v1.2m0 2.4v1.2m0 6v1.2m1.9-167.3v1.2m0 38.4v1.2m0 2.4v1.2m0 .6v1.2m0 .6v1.2m0 .6v1.2m0 .6v1.2m0 .6v1.2m0 2.4v1.2m0 .6v1.2m0 .6v1.2m0 .6v1.2m0 .6v1.2m0 .6v1.2m0 27.6v1.2m0 .6v1.2m0 61.8v1.2m1.8-159.9v1.2m0 .6v1.2m0 11.4v1.2m0 .6v1.2m0 25.8v1.2m0 .6v1.2m0 .6v1.2m0 .6v1.2m0 42v1.2m0 15v1.2m0 22.2v1.2m0 .6v1.2m0 13.2v1.2m0 2.4v1.2m0 6v1.2m0 2.4v1.2m0 4.2v1.2m1.9-155.7v1.2m0 .6v1.2m0 .6v1.2m0 .6v1.2m0 .6v1.2m0 .6v1.2m0 2.4v1.2m0 .6v1.2m0 20.4v1.2m0 2.4v1.2m0 .6v1.2m0 .6v1.2m0 6v1.2m0 .6v1.2m0 24v1.2m0 25.8v1.2m0 15v1.2m0 2.4v1.2m0 18.6v1.2m0 6v1.2m0 .6v1.2m0 .6v1.2m1.9-169v1.2m0 15v1.2m0 2.4v1.2m0 .6v1.2m0 .6v1.2m0 .6v1.2m0 .6v1.2m0 .6v1.2m0 .6v1.2m0 24v1.2m0 .6v1.2m0 .6v1.2m0 2.4v1.2m0 .6v1.2m0 22.2v1.2m0 27.6v1.2m0 11.4v1.2m0 4.2v1.2m0 13.2v1.2m0 2.4v1.2m0 2.4v1.2m0 2.4v1.2m0 .6v1.2m0 .6v1.2m0 .6v1.2m0 .6v1.2m1.9-154.9v1.2m0 .6v1.2m0 .6v1.2m0 .6v1.2m0 .6v1.2m0 .6v1.2m0 4.2v1.2m0 .6v1.2m0 2.4v1.2m0 .6v1.2m0 .6v1.2m0 24v1.2m0 .6v1.2m0 .6v1.2m0 .6v1.2m0 45.6v1.2m0 .6v1.2m0 13.2v1.2m0 .6v1.2m0 2.4v1.2m0 16.8v1.2m0 2.4v1.2m1.8-144.2v1.2m0 .6v1.2m0 .6v1.2m0 .6v1.2m0 .6v1.2m0 .6v1.2m0 2.4v1.2m0 .6v1.2m0 .6v1.2m0 .6v1.2m0 .6v1.2m0 2.4v1.2m0 .6v1.2m0 .6v1.2m0 24v1.2m0 .6v1.2m0 15v1.2m0 .6v1.2m0 16.8v1.2m0 9.6v1.2m0 .6v1.2m0 16.8v1.2m0 .6v1.2m0 22.2v1.2m0 .6v1.2m0 .6v1.2m0 2.4v1.2m1.9-155.2v1.2m0 .6v1.2m0 .6v1.2m0 25.8v1.2m0 .6v1.2m0 .6v1.2m0 .6v1.2m0 .6v1.2m0 18.6v1.2m0 .6v1.2m0 .6v1.2m0 7.8v1.2m0 .6v1.2m0 7.8v1.2m0 6v1.2m0 .6v1.2m0 11.4v1.2m0 .6v1.2m0 13.2v1.2m0 .6v1.2m0 .6v1.2m0 .6v1.2m0 .6v1.2m0 11.4v1.2m0 2.4v1.2m0 .6v1.2m0 .6v1.2m0 2.4v1.2m0 2.4v1.2m0 .6v1.2m1.9-155.2v1.2m0 2.4v1.2m0 2.4v1.2m0 .6v1.2m0 .6v1.2m0 2.4v1.2m0 .6v1.2m0 2.4v1.2m0 2.4v1.2m0 .6v1.2m0 .6v1.2m0 .6v1.2m0 .6v1.2m0 2.4v1.2m0 .6v1.2m0 22.2v1.2m0 .6v1.2m0 7.8v1.2m0 52.8v1.2m0 20.4v1.2m1.8-145.3v1.2m0 2.4v1.2m0 7.8v1.2m0 2.4v1.2m0 .6v1.2m0 .6v1.2m0 7.8v1.2m0 .6v1.2m0 .6v1.2m0 .6v1.2m0 .6v1.2m0 .6v1.2m0 2.4v1.2m0 .6v1.2m0 16.8v1.2m0 4.2v1.2m0 7.8v1.2m0 .6v1.2m0 42v1.2m0 4.2v1.2m1.9-130.1v1.2m0 2.4v1.2m0 .6v1.2m0 2.4v1.2m0 .6v1.2m0 .6v1.2m0 .6v1.2m0 .6v1.2m0 4.2v1.2m0 2.4v1.2m0 .6v1.2m0 .6v1.2m0 .6v1.2m0 .6v1.2m0 .6v1.2m0 .6v1.2m0 2.4v1.2m0 .6v1.2m0 .6v1.2m0 .6v1.2m0 2.4v1.2m0 .6v1.2m0 2.4v1.2m0 9.6v1.2m0 6v1.2m0 31.2v1.2m1.9-103.8v1.2m0 2.4v1.2m0 .6v1.2m0 .6v1.2m0 .6v1.2m0 6v1.2m0 .6v1.2m0 .6v1.2m0 4.2v1.2m0 .6v1.2m0 .6v1.2m0 4.2v1.2m0 2.4v1.2m0 2.4v1.2m0 .6v1.2m0 .6v1.2m0 .6v1.2m0 .6v1.2m0 2.4v1.2m0 .6v1.2m0 7.8v1.2m0 6v1.2m0 51v1.2m0 4.2v1.2m1.8-129.7v1.2m0 .6v1.2m0 .6v1.2m0 .6v1.2m0 .6v1.2m0 7.8v1.2m0 2.4v1.2m0 .6v1.2m0 .6v1.2m0 15v1.2m0 6v1.2m0 .6v1.2m0 .6v1.2m0 .6v1.2m0 9.6v1.2m0 .6v1.2m0 7.8v1.2m0 .6v1.2m0 15v1.2m0 .6v1.2m0 9.6v1.2m0 15v1.2m0 .6v1.2m0 .6v1.2m0 .6v1.2m0 2.4v1.2m0 2.4v1.2m0 16.8v1.2m1.9-163.7v1.2m0 7.8v1.2m0 .6v1.2m0 .6v1.2m0 .6v1.2m0 .6v1.2m0 .6v1.2m0 2.4v1.2m0 .6v1.2m0 .6v1.2m0 .6v1.2m0 .6v1.2m0 9.6v1.2m0 6v1.2m0 .6v1.2m0 .6v1.2m0 .6v1.2m0 .6v1.2m0 .6v1.2m0 15v1.2m0 .6v1.2m0 11.4v1.2m0 33v1.2m0 15v1.2m0 .6v1.2m0 .6v1.2m0 2.4v1.2m0 .6v1.2m1.9-138.9v1.2m0 2.4v1.2m0 2.4v1.2m0 .6v1.2m0 .6v1.2m0 4.2v1.2m0 .6v1.2m0 .6v1.2m0 2.4v1.2m0 .6v1.2m0 4.2v1.2m0 .6v1.2m0 .6v1.2m0 2.4v1.2m0 .6v1.2m0 .6v1.2m0 20.4v1.2m0 .6v1.2m0 13.2v1.2m1.9-91.9v1.2m0 11.4v1.2m0 2.4v1.2m0 .6v1.2m0 .6v1.2m0 .6v1.2m0 .6v1.2m0 .6v1.2m0 .6v1.2m0 .6v1.2m0 .6v1.2m0 .6v1.2m0 .6v1.2m0 .6v1.2m0 .6v1.2m0 .6v1.2m0 .6v1.2m0 .6v1.2m0 .6v1.2m0 24v1.2m0 .6v1.2m0 22.2v1.2m0 47.4v1.2m0 .6v1.2m1.8-134.2v1.2m0 .6v1.2m0 2.4v1.2m0 2.4v1.2m0 7.8v1.2m0 2.4v1.2m0 .6v1.2m0 .6v1.2m0 .6v1.2m0 2.4v1.2m0 22.2v1.2m0 .6v1.2m0 .6v1.2m0 25.8v1.2m0 .6v1.2m0 40.2v1.2m0 2.4v1.2m0 .6v1.2m0 2.4v1.2m1.9-138.6v1.2m0 .6v1.2m0 4.2v1.2m0 .6v1.2m0 .6v1.2m0 .6v1.2m0 2.4v1.2m0 31.2v1.2m0 .6v1.2m0 .6v1.2m0 .6v1.2m0 33v1.2m0 43.8v1.2m0 .6v1.2m1.9-136.8v1.2m0 2.4v1.2m0 .6v1.2m0 .6v1.2m0 2.4v1.2m0 .6v1.2m0 .6v1.2m0 29.4v1.2m0 .6v1.2m0 .6v1.2m0 .6v1.2m0 .6v1.2m0 .6v1.2m0 36.6v1.2m0 42v1.2m1.8-138.4v1.2m0 4.2v1.2m0 .6v1.2m0 31.2v1.2m0 .6v1.2m0 .6v1.2m0 .6v1.2m0 .6v1.2m0 .6v1.2m0 2.4v1.2m0 40.2v1.2m0 .6v1.2m0 .6v1.2m0 40.2v1.2m0 .6v1.2m0 2.4v1.2m0 4.2v1.2m0 2.4v1.2m1.9-155.5v1.2m0 .6v1.2m0 .6v1.2m0 31.2v1.2m0 .6v1.2m0 .6v1.2m0 .6v1.2m0 4.2v1.2m0 .6v1.2m0 43.8v1.2m0 4.2v1.2m0 .6v1.2m0 36.6v1.2m0 6v1.2m0 2.4v1.2m0 6v1.2m1.9-127.5v1.2m0 4.2v1.2m0 .6v1.2m0 .6v1.2m0 4.2v1.2m0 .6v1.2m0 2.4v1.2m0 2.4v1.2m0 .6v1.2m0 36.6v1.2m0 2.4v1.2m0 56.4v1.2m1.8-158.2v1.2m0 .6v1.2m0 20.4v1.2m0 .6v1.2m0 .6v1.2m0 .6v1.2m0 .6v1.2m0 .6v1.2m0 65.4v1.2m0 6v1.2m0 40.2v1.2m0 .6v1.2m0 .6v1.2m0 .6v1.2m0 .6v1.2m0 .6v1.2m0 4.2v1.2m1.9-162.2v1.2m0 18.6v1.2m0 .6v1.2m0 .6v1.2m0 .6v1.2m0 .6v1.2m0 .6v1.2m0 .6v1.2m0 .6v1.2m0 .6v1.2m0 2.4v1.2m0 2.4v1.2m0 .6v1.2m0 .6v1.2m0 .6v1.2m0 .6v1.2m0 .6v1.2m0 .6v1.2m0 4.2v1.2m0 .6v1.2m0 34.8v1.2m0 .6v1.2m0 6v1.2m0 4.2v1.2m0 42v1.2" stroke="#c6d9e8" stroke-width="1.0" fill="none"/>
<path d="M386.3 519.1v1.3m0 49.1v1.3m0 .5v1.3m0 7.7v1.3m0 18.5v1.3m0 2.3v1.3m0 4.1v1.3m0 .5v1.3m0 .5v1.3m0 13.1v1.3m0 .5v1.3m0 2.3v1.3m0 2.3v1.3m0 .5v1.3m0 .5v1.3m0 4.1v1.3m0 4.1v1.3m0 .5v1.3m0 2.3v1.3m0 .5v1.3m0 4.1v1.3m0 2.3v1.3m0 .5v1.3m0 .5v1.3m0 4.1v1.3m1.9-96.5v1.3m0 16.7v1.3m0 11.3v1.3m0 .5v1.3m0 11.3v1.3m0 .5v1.3m0 .5v1.3m0 2.3v1.3m0 .5v1.3m0 .5v1.3m0 2.3v1.3m0 4.1v1.3m0 .5v1.3m0 .5v1.3m0 4.1v1.3m0 .5v1.3m0 .5v1.3m0 .5v1.3m0 5.9v1.3m0 4.1v1.3m0 .5v1.3m0 .5v1.3m1.8-168.7v1.3m0 5.9v1.3m0 5.9v1.3m0 49.1v1.3m0 7.7v1.3m0 13.1v1.3m0 .5v1.3m0 4.1v1.3m0 5.9v1.3m0 .5v1.3m0 .5v1.3m0 13.1v1.3m0 2.3v1.3m0 4.1v1.3m0 2.3v1.3m0 5.9v1.3m0 2.3v1.3m0 5.9v1.3m0 2.3v1.3m0 5.9v1.3m0 .5v1.3m0 2.3v1.3m1.9-101.7v1.3m0 4.1v1.3m0 14.9v1.3m0 4.1v1.3m0 .5v1.3m0 4.1v1.3m0 5.9v1.3m0 .5v1.3m0 .5v1.3m0 7.7v1.3m0 .5v1.3m0 .5v1.3m0 .5v1.3m0 5.9v1.3m0 .5v1.3m0 .5v1.3m0 .5v1.3m0 2.3v1.3m0 .5v1.3m0 2.3v1.3m0 .5v1.3m0 .5v1.3m0 .5v1.3m0 .5v1.3m0 2.3v1.3m0 .5v1.3m0 .5v1.3m0 2.3v1.3m1.9-167.1v1.3m0 67.1v1.3m0 4.1v1.3m0 13.1v1.3m0 4.1v1.3m0 .5v1.3m0 4.1v1.3m0 .5v1.3m0 2.3v1.3m0 2.3v1.3m0 2.3v1.3m0 11.3v1.3m0 4.1v1.3m0 .5v1.3m0 9.5v1.3m0 2.3v1.3m0 2.3v1.3m0 14.9v1.3m1.9-168.8v1.3m0 .5v1.3m0 67.1v1.3m0 4.1v1.3m0 14.9v1.3m0 2.3v1.3m0 4.1v1.3m0 7.7v1.3m0 .5v1.3m0 2.3v1.3m0 .5v1.3m0 14.9v1.3m0 2.3v1.3m0 .5v1.3m0 .5v1.3m0 4.1v1.3m0 2.3v1.3m0 .5v1.3m0 2.3v1.3m0 .5v1.3m0 7.7v1.3m1.8-167v1.3m0 .5v1.3m0 .5v1.3m0 .5v1.3m0 68.9v1.3m0 9.5v1.3m0 .5v1.3m0 2.3v1.3m0 2.3v1.3m0 18.5v1.3m0 .5v1.3m0 .5v1.3m0 14.9v1.3m0 5.9v1.3m0 .5v1.3m0 .5v1.3m0 2.3v1.3m0 2.3v1.3m0 2.3v1.3m0 4.1v1.3m0 .5v1.3m0 .5v1.3m1.9-164v1.3m0 .5v1.3m0 .5v1.3m0 2.3v1.3m0 .5v1.3m0 63.5v1.3m0 9.5v1.3m0 4.1v1.3m0 .5v1.3m0 4.1v1.3m0 18.5v1.3m0 4.1v1.3m0 11.3v1.3m0 5.9v1.3m0 .5v1.3m0 2.3v1.3m0 14.9v1.3m1.9-160.1v1.3m0 .5v1.3m0 .5v1.3m0 .5v1.3m0 56.3v1.3m0 4.1v1.3m0 9.5v1.3m0 4.1v1.3m0 .5v1.3m0 .5v1.3m0 2.3v1.3m0 .5v1.3m0 11.3v1.3m0 .5v1.3m0 4.1v1.3m0 .5v1.3m0 .5v1.3m0 4.1v1.3m0 34.7v1.3m1.8-169.5v1.3m0 13.1v1.3m0 .5v1.3m0 .5v1.3m0 .5v1.3m0 .5v1.3m0 50.9v1.3m0 4.1v1.3m0 9.5v1.3m0 2.3v1.3m0 2.3v1.3m0 2.3v1.3m0 .5v1.3m0 20.3v1.3m0 2.3v1.3m0 .5v1.3m0 .5v1.3m0 2.3v1.3m0 27.5v1.3m0 2.3v1.3m0 .5v1.3m1.9-165.8v1.3m0 .5v1.3m0 14.9v1.3m0 2.3v1.3m0 .5v1.3m0 43.7v1.3m0 5.9v1.3m0 13.1v1.3m0 .5v1.3m0 4.1v1.3m0 .5v1.3m0 2.3v1.3m0 2.3v1.3m0 .5v1.3m0 4.1v1.3m0 4.1v1.3m0 36.5v1.3m1.9-157.7v1.3m0 .5v1.3m0 .5v1.3m0 .5v1.3m0 13.1v1.3m0 .5v1.3m0 2.3v1.3m0 .5v1.3m0 41.9v1.3m0 4.1v1.3m0 7.7v1.3m0 4.1v1.3m0 .5v1.3m0 4.1v1.3m0 13.1v1.3m0 .5v1.3m0 4.1v1.3m0 .5v1.3m0 2.3v1.3m0 2.3v1.3m0 13.1v1.3m1.8-135.5v1.3m0 .5v1.3m0 .5v1.3m0 .5v1.3m0 11.3v1.3m0 .5v1.3m0 .5v1.3m0 .5v1.3m0 .5v1.3m0 34.7v1.3m0 14.9v1.3m0 4.1v1.3m0 18.5v1.3m0 .5v1.3m0 .5v1.3m0 .5v1.3m0 2.3v1.3m0 2.3v1.3m0 14.9v1.3m0 2.3v1.3m0 5.9v1.3m0 4.1v1.3m1.9-140v1.3m0 .5v1.3m0 .5v1.3m0 11.3v1.3m0 .5v1.3m0 2.3v1.3m0 .5v1.3m0 27.5v1.3m0 .5v1.3m0 2.3v1.3m0 9.5v1.3m0 2.3v1.3m0 .5v1.3m0 4.1v1.3m0 14.9v1.3m0 .5v1.3m0 16.7v1.3m0 2.3v1.3m0 .5v1.3m0 .5v1.3m0 .5v1.3m0 .5v1.3m0 2.3v1.3m0 2.3v1.3m0 .5v1.3m0 7.7v1.3m1.9-139.6v1.3m0 .5v1.3m0 .5v1.3m0 14.9v1.3m0 .5v1.3m0 .5v1.3m0 .5v1.3m0 20.3v1.3m0 .5v1.3m0 2.3v1.3m0 9.5v1.3m0 2.3v1.3m0 .5v1.3m0 16.7v1.3m0 .5v1.3m0 .5v1.3m0 7.7v1.3m0 .5v1.3m0 .5v1.3m0 .5v1.3m0 2.3v1.3m0 .5v1.3m0 27.5v1.3m0 .5v1.3m0 .5v1.3m1.9-168.6v1.3m0 4.1v1.3m0 14.9v1.3m0 2.3v1.3m0 2.3v1.3m0 .5v1.3m0 .5v1.3m0 .5v1.3m0 .5v1.3m0 .5v1.3m0 .5v1.3m0 11.3v1.3m0 2.3v1.3m0 .5v1.3m0 4.1v1.3m0 .5v1.3m0 .5v1.3m0 4.1v1.3m0 .5v1.3m0 4.1v1.3m0 5.9v1.3m0 4.1v1.3m0 5.9v1.3m0 7.7v1.3m0 .5v1.3m0 16.7v1.3m0 .5v1.3m0 2.3v1.3m0 .5v1.3m0 .5v1.3m0 22.1v1.3m0 2.3v1.3m1.8-128.4v1.3m0 2.3v1.3m0 2.3v1.3m0 .5v1.3m0 .5v1.3m0 14.9v1.3m0 2.3v1.3m0 .5v1.3m0 .5v1.3m0 2.3v1.3m0 2.3v1.3m0 7.7v1.3m0 2.3v1.3m0 .5v1.3m0 4.1v1.3m0 5.9v1.3m0 .5v1.3m0 .5v1.3m0 9.5v1.3m0 .5v1.3m0 .5v1.3m0 20.3v1.3m0 .5v1.3m1.9-98.9v1.3m0 .5v1.3m0 .5v1.3m0 .5v1.3m0 .5v1.3m0 .5v1.3m0 13.1v1.3m0 .5v1.3m0 2.3v1.3m0 .5v1.3m0 5.9v1.3m0 4.1v1.3m0 2.3v1.3m0 .5v1.3m0 14.9v1.3m0 2.3v1.3m0 .5v1.3m0 .5v1.3m0 .5v1.3m0 2.3v1.3m0 .5v1.3m0 7.7v1.3m0 4.1v1.3m0 7.7v1.3m0 .5v1.3m0 .5v1.3m0 .5v1.3m0 4.1v1.3m1.9-105.8v1.3m0 .5v1.3m0 .5v1.3m0 .5v1.3m0 .5v1.3m0 .5v1.3m0 11.3v1.3m0 5.9v1.3m0 7.7v1.3m0 18.5v1.3m0 .5v1.3m0 7.7v1.3m0 2.3v1.3m0 4.1v1.3m0 2.3v1.3m0 2.3v1.3m0 .5v1.3m0 13.1v1.3m0 .5v1.3m0 2.3v1.3m0 .5v1.3m1.8-105.9v1.3m0 .5v1.3m0 .5v1.3m0 11.3v1.3m0 13.1v1.3m0 2.3v1.3m0 9.5v1.3m0 9.5v1.3m0 5.9v1.3m0 .5v1.3m0 .5v1.3m0 .5v1.3m0 .5v1.3m0 .5v1.3m0 2.3v1.3m0 .5v1.3m0 .5v1.3m0 4.1v1.3m0 .5v1.3m0 .5v1.3m0 2.3v1.3m0 2.3v1.3m0 .5v1.3m0 .5v1.3m0 5.9v1.3m1.9-115.1v1.3m0 .5v1.3m0 .5v1.3m0 .5v1.3m0 .5v1.3m0 7.7v1.3m0 4.1v1.3m0 11.3v1.3m0 9.5v1.3m0 .5v1.3m0 5.9v1.3m0 .5v1.3m0 5.9v1.3m0 .5v1.3m0 .5v1.3m0 5.9v1.3m0 .5v1.3m0 .5v1.3m0 13.1v1.3m0 7.7v1.3m0 5.9v1.3m1.9-111.2v1.3m0 .5v1.3m0 20.3v1.3m0 13.1v1.3m0 2.3v1.3m0 7.7v1.3m0 .5v1.3m0 4.1v1.3m0 .5v1.3m0 11.3v1.3m0 .5v1.3m0 5.9v1.3m0 .5v1.3m0 5.9v1.3m0 4.1v1.3m0 11.3v1.3m0 .5v1.3m0 .5v1.3m0 2.3v1.3m1.8-129.1v1.3m0 .5v1.3m0 .5v1.3m0 .5v1.3m0 .5v1.3m0 11.3v1.3m0 7.7v1.3m0 .5v1.3m0 .5v1.3m0 16.7v1.3m0 .5v1.3m0 .5v1.3m0 .5v1.3m0 .5v1.3m0 7.7v1.3m0 2.3v1.3m0 .5v1.3m0 .5v1.3m0 16.7v1.3m0 2.3v1.3m0 .5v1.3m0 4.1v1.3m0 .5v1.3m0 2.3v1.3m0 .5v1.3m0 .5v1.3m0 2.3v1.3m0 .5v1.3m0 .5v1.3m0 .5v1.3m0 .5v1.3m0 .5v1.3m0 .5v1.3m1.9-134.7v1.3m0 .5v1.3m0 .5v1.3m0 .5v1.3m0 .5v1.3m0 9.5v1.3m0 .5v1.3m0 9.5v1.3m0 .5v1.3m0 .5v1.3m0 .5v1.3m0 27.5v1.3m0 .5v1.3m0 7.7v1.3m0 2.3v1.3m0 .5v1.3m0 .5v1.3m0 .5v1.3m0 .5v1.3m0 7.7v1.3m0 .5v1.3m0 .5v1.3m0 .5v1.3m0 .5v1.3m0 .5v1.3m0 5.9v1.3m0 .5v1.3m0 2.3v1.3m0 5.9v1.3m0 .5v1.3m0 .5v1.3m0 .5v1.3m0 .5v1.3m0 .5v1.3m0 .5v1.3m1.9-152.3v1.3m0 4.1v1.3m0 .5v1.3m0 .5v1.3m0 .5v1.3m0 .5v1.3m0 .5v1.3m0 .5v1.3m0 11.3v1.3m0 .5v1.3m0 11.3v1.3m0 .5v1.3m0 .5v1.3m0 47.3v1.3m0 4.1v1.3m0 .5v1.3m0 13.1v1.3m0 .5v1.3m0 7.7v1.3m0 .5v1.3m0 2.3v1.3m0 4.1v1.3m0 2.3v1.3m0 .5v1.3m0 5.9v1.3m1.9-152.6v1.3m0 .5v1.3m0 .5v1.3m0 .5v1.3m0 .5v1.3m0 11.3v1.3m0 .5v1.3m0 .5v1.3m0 .5v1.3m0 9.5v1.3m0 50.9v1.3m0 .5v1.3m0 .5v1.3m0 5.9v1.3m0 2.3v1.3m0 .5v1.3m0 11.3v1.3m0 .5v1.3m0 2.3v1.3m0 20.3v1.3m1.8-156v1.3m0 2.3v1.3m0 .5v1.3m0 .5v1.3m0 16.7v1.3m0 .5v1.3m0 .5v1.3m0 11.3v1.3m0 .5v1.3m0 .5v1.3m0 50.9v1.3m0 2.3v1.3m0 2.3v1.3m0 13.1v1.3m0 18.5v1.3m0 2.3v1.3m0 .5v1.3m0 5.9v1.3m0 .5v1.3m0 .5v1.3m0 4.1v1.3m0 .5v1.3m1.9-166.4v1.3m0 .5v1.3m0 .5v1.3m0 2.3v1.3m0 13.1v1.3m0 .5v1.3m0 14.9v1.3m0 .5v1.3m0 61.7v1.3m0 .5v1.3m0 .5v1.3m0 .5v1.3m0 27.5v1.3m0 .5v1.3m0 2.3v1.3m0 4.1v1.3m0 .5v1.3m0 4.1v1.3m0 .5v1.3m0 .5v1.3m0 .5v1.3m0 2.3v1.3m1.9-151.9v1.3m0 .5v1.3m0 .5v1.3m0 13.1v1.3m0 .5v1.3m0 .5v1.3m0 68.9v1.3m0 .5v1.3m0 .5v1.3m0 .5v1.3m0 .5v1.3m0 14.9v1.3m0 5.9v1.3m0 2.3v1.3m0 .5v1.3m0 9.5v1.3m0 .5v1.3m0 .5v1.3m0 4.1v1.3m1.8-157v1.3m0 .5v1.3m0 .5v1.3m0 .5v1.3m0 .5v1.3m0 9.5v1.3m0 .5v1.3m0 .5v1.3m0 .5v1.3m0 79.7v1.3m0 2.3v1.3m0 .5v1.3m0 .5v1.3m0 11.3v1.3m0 .5v1.3m0 9.5v1.3m0 2.3v1.3m0 .5v1.3m0 .5v1.3m0 .5v1.3m0 7.7v1.3m0 2.3v1.3m1.9-166v1.3m0 .5v1.3m0 .5v1.3m0 4.1v1.3m0 11.3v1.3m0 .5v1.3m0 .5v1.3m0 .5v1.3m0 74.3v1.3m0 .5v1.3m0 4.1v1.3m0 2.3v1.3m0 4.1v1.3m0 25.7v1.3m0 .5v1.3m0 4.1v1.3m0 4.1v1.3m0 .5v1.3m0 .5v1.3m0 .5v1.3m1.9-168.5v1.3m0 2.3v1.3m0 .5v1.3m0 11.3v1.3m0 .5v1.3m0 .5v1.3m0 .5v1.3m0 .5v1.3m0 86.9v1.3m0 2.3v1.3m0 .5v1.3m0 2.3v1.3m0 .5v1.3m0 2.3v1.3m0 9.5v1.3m0 18.5v1.3m0 2.3v1.3m0 .5v1.3m1.8-154.5v1.3m0 .5v1.3m0 9.5v1.3m0 .5v1.3m0 88.7v1.3m0 4.1v1.3m0 .5v1.3m0 2.3v1.3m0 2.3v1.3m0 11.3v1.3m0 9.5v1.3m0 .5v1.3m0 .5v1.3m0 .5v1.3m0 2.3v1.3m0 4.1v1.3m1.9-169.8v1.3m0 2.3v1.3m0 4.1v1.3m0 .5v1.3m0 .5v1.3m0 .5v1.3m0 13.1v1.3m0 86.9v1.3m0 4.1v1.3m0 4.1v1.3m0 .5v1.3m0 2.3v1.3m0 4.1v1.3m0 16.7v1.3m0 4.1v1.3m0 .5v1.3m0 .5v1.3m1.9-164.7v1.3m0 .5v1.3m0 .5v1.3m0 .5v1.3m0 .5v1.3m0 .5v1.3m0 5.9v1.3m0 .5v1.3m0 9.5v1.3m0 .5v1.3m0 90.5v1.3m0 4.1v1.3m0 .5v1.3m0 2.3v1.3m0 2.3v1.3m0 22.1v1.3m0 2.3v1.3m0 .5v1.3m1.9-165.5v1.3m0 4.1v1.3m0 .5v1.3m0 5.9v1.3m0 .5v1.3m0 .5v1.3m0 9.5v1.3m0 .5v1.3m0 74.3v1.3m0 4.1v1.3m0 .5v1.3m0 2.3v1.3m0 2.3v1.3m0 5.9v1.3m0 2.3v1.3m0 .5v1.3m0 22.1v1.3m0 2.3v1.3m0 .5v1.3m1.8-140.5v1.3m0 7.7v1.3m0 106.7v1.3m0 .5v1.3m0 13.1v1.3m0 .5v1.3m1.9-135.2v1.3m0 .5v1.3m0 5.9v1.3m0 .5v1.3m0 79.7v1.3m0 5.9v1.3m0 2.3v1.3m0 .5v1.3m0 .5v1.3m0 2.3v1.3m0 .5v1.3m0 .5v1.3m0 .5v1.3m0 2.3v1.3m0 14.9v1.3m0 2.3v1.3m0 .5v1.3m1.9-139.3v1.3m0 .5v1.3m0 5.9v1.3m0 81.5v1.3m0 .5v1.3m0 4.1v1.3m0 .5v1.3m0 .5v1.3m0 .5v1.3m0 .5v1.3m0 .5v1.3m0 .5v1.3m0 4.1v1.3m0 .5v1.3m0 .5v1.3m0 13.1v1.3m0 .5v1.3m0 2.3v1.3m1.8-169.3v1.3m0 5.9v1.3m0 9.5v1.3m0 11.3v1.3m0 .5v1.3m0 83.3v1.3m0 4.1v1.3m0 4.1v1.3m0 .5v1.3m0 7.7v1.3m0 .5v1.3m0 .5v1.3m0 .5v1.3m0 18.5v1.3m0 .5v1.3m1.9-131.7v1.3m0 4.1v1.3m0 76.1v1.3m0 7.7v1.3m0 .5v1.3m0 .5v1.3m0 2.3v1.3m0 .5v1.3m0 9.5v1.3m0 .5v1.3m0 2.3v1.3m0 9.5v1.3m0 2.3v1.3m1.9-131.9v1.3m0 4.1v1.3m0 106.7v1.3m0 2.3v1.3m0 11.3v1.3m1.8-131.5v1.3m0 4.1v1.3m0 74.3v1.3m0 5.9v1.3m0 2.3v1.3m0 .5v1.3m0 .5v1.3m0 4.1v1.3m0 .5v1.3m0 .5v1.3m0 .5v1.3m0 .5v1.3m0 5.9v1.3m0 2.3v1.3m0 9.5v1.3m0 .5v1.3m1.9-133.2v1.3m0 4.1v1.3m0 76.1v1.3m0 .5v1.3m0 2.3v1.3m0 2.3v1.3m0 .5v1.3m0 2.3v1.3m0 7.7v1.3m0 .5v1.3m0 2.3v1.3m0 .5v1.3m0 .5v1.3m0 2.3v1.3m0 .5v1.3m0 7.7v1.3m0 2.3v1.3m1.9-136.1v1.3m0 .5v1.3m0 4.1v1.3m0 85.1v1.3m0 4.1v1.3m0 9.5v1.3m0 4.1v1.3m0 .5v1.3m0 .5v1.3m0 2.3v1.3m0 5.9v1.3m0 2.3v1.3m1.9-167.8v1.3m0 5.9v1.3m0 23.9v1.3m0 5.9v1.3m0 74.3v1.3m0 .5v1.3m0 .5v1.3m0 .5v1.3m0 .5v1.3m0 .5v1.3m0 .5v1.3m0 .5v1.3m0 2.3v1.3m0 .5v1.3m0 2.3v1.3m0 2.3v1.3m0 .5v1.3m0 .5v1.3m0 .5v1.3m0 .5v1.3m0 .5v1.3m0 11.3v1.3m0 .5v1.3m0 .5v1.3m0 .5v1.3m1.8-169.2v1.3m0 2.3v1.3m0 2.3v1.3m0 7.7v1.3m0 .5v1.3m0 .5v1.3m0 .5v1.3m0 2.3v1.3m0 2.3v1.3m0 .5v1.3m0 7.7v1.3m0 72.5v1.3m0 .5v1.3m0 11.3v1.3m0 .5v1.3m0 4.1v1.3m0 2.3v1.3m0 .5v1.3m0 4.1v1.3m0 .5v1.3m0 13.1v1.3m0 5.9v1.3m1.9-170.2v1.3m0 2.3v1.3m0 .5v1.3m0 2.3v1.3m0 .5v1.3m0 2.3v1.3m0 4.1v1.3m0 .5v1.3m0 .5v1.3m0 .5v1.3m0 .5v1.3m0 .5v1.3m0 7.7v1.3m0 .5v1.3m0 70.7v1.3m0 2.3v1.3m0 .5v1.3m0 .5v1.3m0 .5v1.3m0 2.3v1.3m0 7.7v1.3m0 .5v1.3m0 2.3v1.3m0 20.3v1.3m1.9-161.7v1.3m0 .5v1.3m0 .5v1.3m0 .5v1.3m0 .5v1.3m0 .5v1.3m0 2.3v1.3m0 5.9v1.3m0 .5v1.3m0 .5v1.3m0 13.1v1.3m0 2.3v1.3m0 70.7v1.3m0 9.5v1.3m0 4.1v1.3m0 9.5v1.3m0 .5v1.3m0 2.3v1.3m0 18.5v1.3m0 .5v1.3m0 .5v1.3m1.8-170.5v1.3m0 5.9v1.3m0 .5v1.3m0 .5v1.3m0 .5v1.3m0 .5v1.3m0 7.7v1.3m0 9.5v1.3m0 .5v1.3m0 2.3v1.3m0 63.5v1.3m0 .5v1.3m0 4.1v1.3m0 2.3v1.3m0 2.3v1.3m0 .5v1.3m0 .5v1.3m0 .5v1.3m0 16.7v1.3m0 .5v1.3m0 18.5v1.3m0 4.1v1.3m1.9-170.5v1.3m0 .5v1.3m0 .5v1.3m0 2.3v1.3m0 13.1v1.3m0 .5v1.3m0 7.7v1.3m0 .5v1.3m0 83.3v1.3m0 4.1v1.3m0 .5v1.3m0 9.5v1.3m0 2.3v1.3m0 .5v1.3m0 .5v1.3m0 .5v1.3m0 13.1v1.3m0 .5v1.3m0 4.1v1.3m1.9-168.6v1.3m0 .5v1.3m0 .5v1.3m0 2.3v1.3m0 4.1v1.3m0 4.1v1.3m0 .5v1.3m0 .5v1.3m0 7.7v1.3m0 .5v1.3m0 72.5v1.3m0 .5v1.3m0 .5v1.3m0 11.3v1.3m0 18.5v1.3m0 2.3v1.3m0 9.5v1.3m0 .5v1.3m0 5.9v1.3m0 2.3v1.3m1.8-170.5v1.3m0 4.1v1.3m0 7.7v1.3m0 2.3v1.3m0 11.3v1.3m0 2.3v1.3m0 .5v1.3m0 65.3v1.3m0 .5v1.3m0 .5v1.3m0 .5v1.3m0 .5v1.3m0 .5v1.3m0 .5v1.3m0 27.5v1.3m0 11.3v1.3m0 .5v1.3m0 2.3v1.3m0 .5v1.3m1.9-154.5v1.3m0 4.1v1.3m0 .5v1.3m0 .5v1.3m0 .5v1.3m0 5.9v1.3m0 .5v1.3m0 .5v1.3m0 .5v1.3m0 .5v1.3m0 .5v1.3m0 .5v1.3m0 67.1v1.3m0 .5v1.3m0 27.5v1.3m0 .5v1.3m0 13.1v1.3m0 .5v1.3m0 2.3v1.3m0 4.1v1.3m0 .5v1.3m0 .5v1.3m1.9-160.5v1.3m0 2.3v1.3m0 .5v1.3m0 2.3v1.3m0 20.3v1.3m0 .5v1.3m0 .5v1.3m0 .5v1.3m0 .5v1.3m0 .5v1.3m0 .5v1.3m0 .5v1.3m0 2.3v1.3m0 45.5v1.3m0 .5v1.3m0 2.3v1.3m0 31.1v1.3m0 .5v1.3m0 22.1v1.3m1.9-156.8v1.3m0 .5v1.3m0 .5v1.3m0 .5v1.3m0 11.3v1.3m0 4.1v1.3m0 14.9v1.3m0 .5v1.3m0 .5v1.3m0 .5v1.3m0 .5v1.3m0 43.7v1.3m0 .5v1.3m0 18.5v1.3m0 2.3v1.3m0 9.5v1.3m0 2.3v1.3m0 9.5v1.3m0 .5v1.3m0 .5v1.3m1.8-147.4v1.3m0 .5v1.3m0 4.1v1.3m0 4.1v1.3m0 .5v1.3m0 2.3v1.3m0 .5v1.3m0 .5v1.3m0 2.3v1.3m0 .5v1.3m0 2.3v1.3m0 .5v1.3m0 .5v1.3m0 11.3v1.3m0 .5v1.3m0 2.3v1.3m0 .5v1.3m0 .5v1.3m0 31.1v1.3m0 .5v1.3m0 14.9v1.3m0 .5v1.3m0 2.3v1.3m0 .5v1.3m0 .5v1.3m0 11.3v1.3m0 .5v1.3m0 9.5v1.3m0 .5v1.3m0 7.7v1.3m0 2.3v1.3m0 .5v1.3m1.9-157.3v1.3m0 .5v1.3m0 2.3v1.3m0 11.3v1.3m0 5.9v1.3m0 2.3v1.3m0 .5v1.3m0 .5v1.3m0 2.3v1.3m0 .5v1.3m0 .5v1.3m0 .5v1.3m0 .5v1.3m0 9.5v1.3m0 .5v1.3m0 .5v1.3m0 27.5v1.3m0 14.9v1.3m0 .5v1.3m0 .5v1.3m0 .5v1.3m0 .5v1.3m0 .5v1.3m0 29.3v1.3m0 5.9v1.3m0 .5v1.3m0 .5v1.3m0 .5v1.3m0 2.3v1.3m1.9-159.4v1.3m0 4.1v1.3m0 5.9v1.3m0 31.1v1.3m0 2.3v1.3m0 .5v1.3m0 4.1v1.3m0 27.5v1.3m0 5.9v1.3m0 .5v1.3m0 2.3v1.3m0 .5v1.3m0 .5v1.3m0 .5v1.3m0 4.1v1.3m0 .5v1.3m0 .5v1.3m0 .5v1.3m0 2.3v1.3m0 7.7v1.3m0 9.5v1.3m0 .5v1.3m0 .5v1.3m0 7.7v1.3m0 .5v1.3m0 .5v1.3m0 .5v1.3m1.8-154.2v1.3m0 .5v1.3m0 .5v1.3m0 5.9v1.3m0 .5v1.3m0 .5v1.3m0 .5v1.3m0 4.1v1.3m0 .5v1.3m0 .5v1.3m0 .5v1.3m0 .5v1.3m0 .5v1.3m0 .5v1.3m0 .5v1.3m0 .5v1.3m0 .5v1.3m0 13.1v1.3m0 .5v1.3m0 27.5v1.3m0 .5v1.3m0 54.5v1.3m0 .5v1.3m0 .5v1.3m0 .5v1.3m0 2.3v1.3m0 5.9v1.3m1.9-168.6v1.3m0 7.7v1.3m0 .5v1.3m0 .5v1.3m0 .5v1.3m0 .5v1.3m0 4.1v1.3m0 4.1v1.3m0 4.1v1.3m0 .5v1.3m0 .5v1.3m0 .5v1.3m0 2.3v1.3m0 9.5v1.3m0 .5v1.3m0 4.1v1.3m0 2.3v1.3m0 32.9v1.3m0 13.1v1.3m0 .5v1.3m0 .5v1.3m0 .5v1.3m0 .5v1.3m0 7.7v1.3m0 4.1v1.3m0 .5v1.3m0 7.7v1.3m0 11.3v1.3m0 .5v1.3m0 2.3v1.3m1.9-164.4v1.3m0 .5v1.3m0 4.1v1.3m0 4.1v1.3m0 9.5v1.3m0 .5v1.3m0 .5v1.3m0 .5v1.3m0 .5v1.3m0 13.1v1.3m0 .5v1.3m0 .5v1.3m0 .5v1.3m0 2.3v1.3m0 .5v1.3m0 .5v1.3m0 2.3v1.3m0 .5v1.3m0 36.5v1.3m0 56.3v1.3m0 .5v1.3m0 4.1v1.3m1.8-165.4v1.3m0 9.5v1.3m0 20.3v1.3m0 7.7v1.3m0 .5v1.3m0 .5v1.3m0 4.1v1.3m0 .5v1.3m0 47.3v1.3m0 .5v1.3m0 20.3v1.3m0 22.1v1.3m0 7.7v1.3m0 .5v1.3m0 2.3v1.3m0 4.1v1.3m1.9-157.2v1.3m0 11.3v1.3m0 .5v1.3m0 .5v1.3m0 .5v1.3m0 .5v1.3m0 .5v1.3m0 .5v1.3m0 .5v1.3m0 2.3v1.3m0 59.9v1.3m0 41.9v1.3m0 .5v1.3m0 .5v1.3m0 .5v1.3m0 .5v1.3m0 .5v1.3m0 .5v1.3m0 .5v1.3m0 .5v1.3m0 .5v1.3m0 4.1v1.3m1.9-167.1v1.3m0 9.5v1.3m0 .5v1.3m0 2.3v1.3m0 .5v1.3m0 2.3v1.3m0 .5v1.3m0 .5v1.3m0 79.7v1.3m0 .5v1.3m0 .5v1.3m0 .5v1.3m0 .5v1.3m0 16.7v1.3m0 .5v1.3m0 .5v1.3m0 11.3v1.3m0 .5v1.3m0 4.1v1.3m0 .5v1.3m0 2.3v1.3m0 2.3v1.3m0 2.3v1.3m1.9-168.2v1.3m0 9.5v1.3m0 5.9v1.3m0 .5v1.3m0 5.9v1.3m0 70.7v1.3m0 32.9v1.3m0 .5v1.3m0 7.7v1.3m0 2.3v1.3m0 .5v1.3m0 .5v1.3m0 2.3v1.3m0 2.3v1.3m1.8-159.1v1.3m0 7.7v1.3m0 .5v1.3m0 4.1v1.3m0 .5v1.3m0 79.7v1.3m0 13.1v1.3m0 31.1v1.3m0 .5v1.3m0 .5v1.3m0 2.3v1.3m0 7.7v1.3m1.9-163.8v1.3m0 13.1v1.3m0 .5v1.3m0 .5v1.3m0 .5v1.3m0 5.9v1.3m0 70.7v1.3m0 5.9v1.3m0 23.9v1.3m0 2.3v1.3m0 5.9v1.3m0 .5v1.3m0 4.1v1.3m0 .5v1.3m0 2.3v1.3m0 .5v1.3m0 2.3v1.3m0 .5v1.3m0 .5v1.3m0 .5v1.3m1.9-168.1v1.3m0 .5v1.3m0 16.7v1.3m0 4.1v1.3m0 2.3v1.3m0 90.5v1.3m0 9.5v1.3m0 18.5v1.3m0 13.1v1.3m0 .5v1.3m1.8-165.3v1.3m0 22.1v1.3m0 .5v1.3m0 4.1v1.3m0 63.5v1.3m0 11.3v1.3m0 7.7v1.3m0 14.9v1.3m0 11.3v1.3m0 .5v1.3m0 .5v1.3m0 .5v1.3m0 2.3v1.3m0 .5v1.3m0 2.3v1.3m1.9-162.6v1.3m0 .5v1.3m0 23.9v1.3m0 .5v1.3m0 .5v1.3m0 .5v1.3m0 61.7v1.3m0 .5v1.3m0 7.7v1.3m0 .5v1.3m0 7.7v1.3m0 2.3v1.3m0 4.1v1.3m0 .5v1.3m0 .5v1.3m0 .5v1.3m0 .5v1.3m0 7.7v1.3m0 .5v1.3m0 .5v1.3m0 .5v1.3m0 2.3v1.3m0 2.3v1.3m0 4.1v1.3m0 .5v1.3m0 2.3v1.3m1.9-167.4v1.3m0 14.9v1.3m0 2.3v1.3m0 .5v1.3m0 9.5v1.3m0 2.3v1.3m0 2.3v1.3m0 63.5v1.3m0 11.3v1.3m0 13.1v1.3m0 .5v1.3m0 14.9v1.3m0 7.7v1.3m0 2.3v1.3m1.8-161.8v1.3m0 .5v1.3m0 5.9v1.3m0 4.1v1.3m0 .5v1.3m0 .5v1.3m0 .5v1.3m0 .5v1.3m0 .5v1.3m0 .5v1.3m0 7.7v1.3m0 2.3v1.3m0 50.9v1.3m0 .5v1.3m0 7.7v1.3m0 .5v1.3m0 2.3v1.3m0 5.9v1.3m0 .5v1.3m0 .5v1.3m0 .5v1.3m0 5.9v1.3m0 4.1v1.3m0 .5v1.3m0 .5v1.3m0 9.5v1.3m0 2.3v1.3m0 .5v1.3m0 .5v1.3m0 5.9v1.3m0 .5v1.3m1.9-166.6v1.3m0 .5v1.3m0 20.3v1.3m0 4.1v1.3m0 .5v1.3m0 .5v1.3m0 9.5v1.3m0 .5v1.3m0 .5v1.3m0 2.3v1.3m0 40.1v1.3m0 11.3v1.3m0 .5v1.3m0 11.3v1.3m0 .5v1.3m0 7.7v1.3m0 .5v1.3m0 2.3v1.3m0 11.3v1.3m0 4.1v1.3m0 .5v1.3m0 2.3v1.3m1.9-158.3v1.3m0 7.7v1.3m0 .5v1.3m0 18.5v1.3m0 .5v1.3m0 2.3v1.3m0 9.5v1.3m0 .5v1.3m0 .5v1.3m0 .5v1.3m0 34.7v1.3m0 .5v1.3m0 4.1v1.3m0 5.9v1.3m0 .5v1.3m0 5.9v1.3m0 .5v1.3m0 2.3v1.3m0 .5v1.3m0 5.9v1.3m0 2.3v1.3m0 .5v1.3m0 2.3v1.3m0 .5v1.3m0 .5v1.3m0 5.9v1.3m0 2.3v1.3m0 2.3v1.3m0 2.3v1.3m1.9-160.4v1.3m0 38.3v1.3m0 .5v1.3m0 .5v1.3m0 .5v1.3m0 9.5v1.3m0 2.3v1.3m0 .5v1.3m0 25.7v1.3m0 .5v1.3m0 4.1v1.3m0 .5v1.3m0 4.1v1.3m0 .5v1.3m0 .5v1.3m0 11.3v1.3m0 9.5v1.3m0 4.1v1.3m0 4.1v1.3m0 .5v1.3m0 7.7v1.3m0 .5v1.3m0 5.9v1.3m0 .5v1.3m0 .5v1.3m0 .5v1.3m0 .5v1.3m1.8-167.7v1.3m0 4.1v1.3m0 .5v1.3m0 2.3v1.3m0 .5v1.3m0 29.3v1.3m0 .5v1.3m0 .5v1.3m0 .5v1.3m0 .5v1.3m0 11.3v1.3m0 .5v1.3m0 22.1v1.3m0 4.1v1.3m0 .5v1.3m0 5.9v1.3m0 14.9v1.3m0 .5v1.3m0 9.5v1.3m0 .5v1.3m0 4.1v1.3m0 11.3v1.3m0 .5v1.3m0 .5v1.3m0 .5v1.3m0 .5v1.3m1.9-160.7v1.3m0 4.1v1.3m0 .5v1.3m0 4.1v1.3m0 40.1v1.3m0 .5v1.3m0 .5v1.3m0 9.5v1.3m0 .5v1.3m0 16.7v1.3m0 2.3v1.3m0 .5v1.3m0 2.3v1.3m0 2.3v1.3m0 4.1v1.3m0 .5v1.3m0 4.1v1.3m0 .5v1.3m0 4.1v1.3m0 .5v1.3m0 5.9v1.3m0 .5v1.3m0 9.5v1.3m0 .5v1.3m0 5.9v1.3m0 2.3v1.3m1.9-149.9v1.3m0 5.9v1.3m0 2.3v1.3m0 2.3v1.3m0 5.9v1.3m0 23.9v1.3m0 .5v1.3m0 .5v1.3m0 .5v1.3m0 .5v1.3m0 2.3v1.3m0 27.5v1.3m0 2.3v1.3m0 4.1v1.3m0 11.3v1.3m0 2.3v1.3m0 .5v1.3m0 2.3v1.3m0 11.3v1.3m0 .5v1.3m0 2.3v1.3m0 .5v1.3m0 22.1v1.3m0 .5v1.3m1.8-165.2v1.3m0 .5v1.3m0 5.9v1.3m0 .5v1.3m0 2.3v1.3m0 4.1v1.3m0 .5v1.3m0 4.1v1.3m0 23.9v1.3m0 4.1v1.3m0 .5v1.3m0 .5v1.3m0 .5v1.3m0 .5v1.3m0 4.1v1.3m0 .5v1.3m0 7.7v1.3m0 .5v1.3m0 2.3v1.3m0 4.1v1.3m0 .5v1.3m0 2.3v1.3m0 .5v1.3m0 .5v1.3m0 .5v1.3m0 27.5v1.3m0 7.7v1.3m0 20.3v1.3m1.9-164.4v1.3m0 .5v1.3m0 .5v1.3m0 7.7v1.3m0 4.1v1.3m0 9.5v1.3m0 4.1v1.3m0 27.5v1.3m0 2.3v1.3m0 5.9v1.3m0 9.5v1.3m0 4.1v1.3m0 .5v1.3m0 .5v1.3m0 5.9v1.3m0 .5v1.3m0 13.1v1.3m0 14.9v1.3m0 .5v1.3m0 .5v1.3m0 .5v1.3m0 2.3v1.3m0 18.5v1.3m1.9-161.5v1.3m0 7.7v1.3m0 2.3v1.3m0 7.7v1.3m0 38.3v1.3m0 4.1v1.3m0 .5v1.3m0 2.3v1.3m0 9.5v1.3m0 5.9v1.3m0 .5v1.3m0 .5v1.3m0 5.9v1.3m0 .5v1.3m0 7.7v1.3m0 2.3v1.3m0 18.5v1.3m0 4.1v1.3m0 2.3v1.3m0 .5v1.3m0 9.5v1.3m0 2.3v1.3m0 .5v1.3m1.8-167.6v1.3m0 .5v1.3m0 .5v1.3m0 .5v1.3m0 4.1v1.3m0 .5v1.3m0 54.5v1.3m0 .5v1.3m0 4.1v1.3m0 14.9v1.3m0 5.9v1.3m0 9.5v1.3m0 5.9v1.3m0 2.3v1.3m0 .5v1.3m0 .5v1.3m0 16.7v1.3m0 2.3v1.3m0 2.3v1.3m0 13.1v1.3m0 2.3v1.3m1.9-169.2v1.3m0 .5v1.3m0 58.1v1.3m0 .5v1.3m0 .5v1.3m0 7.7v1.3m0 16.7v1.3m0 .5v1.3m0 5.9v1.3m0 5.9v1.3m0 .5v1.3m0 7.7v1.3m0 .5v1.3m0 .5v1.3m0 2.3v1.3m0 11.3v1.3m0 27.5v1.3m0 .5v1.3m1.9-169.6v1.3m0 .5v1.3m0 .5v1.3m0 4.1v1.3m0 2.3v1.3m0 2.3v1.3m0 5.9v1.3m0 .5v1.3m0 5.9v1.3m0 4.1v1.3m0 7.7v1.3m0 5.9v1.3m0 .5v1.3m0 .5v1.3m0 2.3v1.3m0 7.7v1.3m0 .5v1.3m0 18.5v1.3m0 .5v1.3m0 .5v1.3m0 .5v1.3m0 43.7v1.3m0 7.7v1.3m1.9-151.4v1.3m0 5.9v1.3m0 4.1v1.3m0 31.1v1.3m0 .5v1.3m0 .5v1.3m0 .5v1.3m0 .5v1.3m0 .5v1.3m0 11.3v1.3m0 27.5v1.3m0 .5v1.3m0 11.3v1.3m0 9.5v1.3m0 .5v1.3m0 16.7v1.3m0 7.7v1.3m0 .5v1.3m0 .5v1.3m1.8-154.1v1.3m0 4.1v1.3m0 .5v1.3m0 .5v1.3m0 29.3v1.3m0 2.3v1.3m0 .5v1.3m0 13.1v1.3m0 .5v1.3m0 .5v1.3m0 34.7v1.3m0 .5v1.3m0 9.5v1.3m0 11.3v1.3m0 14.9v1.3m0 4.1v1.3m0 2.3v1.3m0 .5v1.3m0 .5v1.3m0 .5v1.3m1.9-158.5v1.3m0 .5v1.3m0 4.1v1.3m0 .5v1.3m0 .5v1.3m0 4.1v1.3m0 13.1v1.3m0 .5v1.3m0 .5v1.3m0 .5v1.3m0 .5v1.3m0 .5v1.3m0 .5v1.3m0 2.3v1.3m0 13.1v1.3m0 41.9v1.3m0 2.3v1.3m0 9.5v1.3m0 7.7v1.3m0 4.1v1.3m0 7.7v1.3m0 9.5v1.3m0 2.3v1.3m0 4.1v1.3m1.9-160.3v1.3m0 5.9v1.3m0 .5v1.3m0 2.3v1.3m0 5.9v1.3m0 5.9v1.3m0 .5v1.3m0 .5v1.3m0 .5v1.3m0 .5v1.3m0 .5v1.3m0 11.3v1.3m0 .5v1.3m0 .5v1.3m0 .5v1.3m0 45.5v1.3m0 2.3v1.3m0 .5v1.3m0 31.1v1.3m0 2.3v1.3m0 .5v1.3m0 2.3v1.3m0 .5v1.3m0 .5v1.3m0 2.3v1.3m0 7.7v1.3m1.8-165.5v1.3m0 4.1v1.3m0 .5v1.3m0 2.3v1.3m0 .5v1.3m0 4.1v1.3m0 .5v1.3m0 .5v1.3m0 .5v1.3m0 .5v1.3m0 .5v1.3m0 14.9v1.3m0 .5v1.3m0 .5v1.3m0 59.9v1.3m0 .5v1.3m0 20.3v1.3m0 11.3v1.3m0 5.9v1.3m0 4.1v1.3m0 2.3v1.3m0 4.1v1.3m0 .5v1.3m1.9-155.6v1.3m0 .5v1.3m0 .5v1.3m0 2.3v1.3m0 .5v1.3m0 .5v1.3m0 13.1v1.3m0 .5v1.3m0 .5v1.3m0 67.1v1.3m0 32.9v1.3m0 2.3v1.3m0 .5v1.3m0 .5v1.3m0 2.3v1.3m0 4.1v1.3m0 .5v1.3m0 2.3v1.3m1.9-161.8v1.3m0 2.3v1.3m0 20.3v1.3m0 .5v1.3m0 .5v1.3m0 .5v1.3m0 2.3v1.3m0 .5v1.3m0 59.9v1.3m0 2.3v1.3m0 .5v1.3m0 .5v1.3m0 .5v1.3m0 36.5v1.3m0 4.1v1.3m0 .5v1.3m0 9.5v1.3m1.8-165.5v1.3m0 20.3v1.3m0 .5v1.3m0 85.1v1.3m0 .5v1.3m0 2.3v1.3m0 4.1v1.3m0 11.3v1.3m0 9.5v1.3m0 .5v1.3m0 .5v1.3m0 11.3v1.3m0 .5v1.3m1.9-167.7v1.3m0 2.3v1.3m0 .5v1.3m0 11.3v1.3m0 .5v1.3m0 4.1v1.3m0 79.7v1.3m0 .5v1.3m0 .5v1.3m0 2.3v1.3m0 23.9v1.3m0 18.5v1.3m0 4.1v1.3" stroke="#93b6d3" stroke-width="1.0" fill="none"/>
<path d="M386.4 574.9v1.4m0 .4v1.4m0 27.4v1.4m0 11.2v1.4m0 .4v1.4m0 .4v1.4m0 .4v1.4m0 22v1.4m0 .4v1.4m0 4v1.4m0 16.6v1.4m0 .4v1.4m1.8-102v1.4m0 2.2v1.4m0 22v1.4m0 2.2v1.4m0 .4v1.4m0 2.2v1.4m0 4v1.4m0 4v1.4m0 .4v1.4m0 .4v1.4m0 16.6v1.4m1.9-68v1.4m0 4v1.4m0 20.2v1.4m0 2.2v1.4m0 2.2v1.4m0 5.8v1.4m0 5.8v1.4m0 .4v1.4m0 .4v1.4m0 11.2v1.4m0 5.8v1.4m0 2.2v1.4m0 9.4v1.4m0 4v1.4m0 5.8v1.4m1.9-98.2v1.4m0 .4v1.4m0 20.2v1.4m0 23.8v1.4m0 .4v1.4m1.8-28.6v1.4m0 5.8v1.4m0 11.2v1.4m0 2.2v1.4m0 7.6v1.4m0 2.2v1.4m0 .4v1.4m0 4v1.4m0 2.2v1.4m0 13v1.4m0 .4v1.4m0 4v1.4m0 2.2v1.4m0 .4v1.4m1.9-93.3v1.4m0 13v1.4m0 29.2v1.4m0 5.8v1.4m0 .4v1.4m0 .4v1.4m0 .4v1.4m0 2.2v1.4m0 22v1.4m0 .4v1.4m1.9-163.5v1.4m0 70.6v1.4m0 2.2v1.4m0 25.6v1.4m0 18.4v1.4m0 .4v1.4m0 13v1.4m0 .4v1.4m0 .4v1.4m0 5.8v1.4m0 2.2v1.4m0 2.2v1.4m0 2.2v1.4m0 .4v1.4m0 5.8v1.4m1.8-169.5v1.4m0 .4v1.4m0 68.8v1.4m0 2.2v1.4m0 14.8v1.4m0 4v1.4m0 23.8v1.4m0 .4v1.4m0 14.8v1.4m0 .4v1.4m0 .4v1.4m0 4v1.4m0 2.2v1.4m0 .4v1.4m0 .4v1.4m0 .4v1.4m0 .4v1.4m0 2.2v1.4m0 .4v1.4m1.9-163.8v1.4m0 .4v1.4m0 .4v1.4m0 81.4v1.4m0 36.4v1.4m0 .4v1.4m0 2.2v1.4m0 .4v1.4m0 7.6v1.4m0 .4v1.4m0 .4v1.4m0 .4v1.4m0 .4v1.4m0 .4v1.4m0 .4v1.4m0 9.4v1.4m1.9-166v1.4m0 .4v1.4m0 .4v1.4m0 5.8v1.4m0 122.8v1.4m0 .4v1.4m0 .4v1.4m0 16.6v1.4m0 .4v1.4m0 .4v1.4m0 2.2v1.4m1.9-158.7v1.4m0 9.4v1.4m0 .4v1.4m0 52.6v1.4m0 2.2v1.4m0 11.2v1.4m0 32.8v1.4m0 .4v1.4m0 .4v1.4m0 .4v1.4m0 .4v1.4m0 .4v1.4m0 4v1.4m0 25.6v1.4m0 .4v1.4m1.8-157.8v1.4m0 .4v1.4m0 7.6v1.4m0 4v1.4m0 47.2v1.4m0 .4v1.4m0 11.2v1.4m0 .4v1.4m0 5.8v1.4m0 25.6v1.4m0 2.2v1.4m0 2.2v1.4m0 .4v1.4m0 7.6v1.4m0 2.2v1.4m0 .4v1.4m0 .4v1.4m0 13v1.4m1.9-148.2v1.4m0 .4v1.4m0 5.8v1.4m0 45.4v1.4m0 2.2v1.4m0 13v1.4m0 2.2v1.4m0 2.2v1.4m0 20.2v1.4m0 2.2v1.4m0 11.2v1.4m0 .4v1.4m0 .4v1.4m0 2.2v1.4m0 2.2v1.4m0 .4v1.4m0 .4v1.4m0 2.2v1.4m0 .4v1.4m0 4v1.4m1.9-138.3v1.4m0 7.6v1.4m0 59.8v1.4m0 22v1.4m0 .4v1.4m0 .4v1.4m0 7.6v1.4m0 .4v1.4m0 2.2v1.4m0 18.4v1.4m0 2.2v1.4m0 .4v1.4m0 2.2v1.4m0 .4v1.4m1.8-137.9v1.4m0 .4v1.4m0 2.2v1.4m0 2.2v1.4m0 .4v1.4m0 .4v1.4m0 52.6v1.4m0 18.4v1.4m1.9-67.9v1.4m0 2.2v1.4m0 22v1.4m0 14.8v1.4m0 2.2v1.4m0 13v1.4m0 9.4v1.4m0 .4v1.4m0 .4v1.4m0 4v1.4m0 5.8v1.4m0 .4v1.4m0 .4v1.4m0 .4v1.4m0 .4v1.4m0 2.2v1.4m0 .4v1.4m0 .4v1.4m0 4v1.4m0 2.2v1.4m0 2.2v1.4m0 .4v1.4m1.9-119.5v1.4m0 .4v1.4m0 7.6v1.4m0 .4v1.4m0 2.2v1.4m0 29.2v1.4m0 18.4v1.4m0 .4v1.4m1.8-57.6v1.4m0 .4v1.4m0 .4v1.4m0 4v1.4m0 4v1.4m0 11.2v1.4m0 .4v1.4m0 14.8v1.4m0 4v1.4m0 2.2v1.4m1.9-48.3v1.4m0 .4v1.4m0 5.8v1.4m0 9.4v1.4m0 2.2v1.4m0 13v1.4m0 2.2v1.4m0 .4v1.4m0 .4v1.4m1.9-48.4v1.4m0 .4v1.4m0 .4v1.4m0 2.2v1.4m0 .4v1.4m0 11.2v1.4m0 4v1.4m0 13v1.4m0 4v1.4m0 .4v1.4m0 2.2v1.4m1.9-57.6v1.4m0 .4v1.4m0 5.8v1.4m0 16.6v1.4m0 5.8v1.4m0 13v1.4m1.8-57.3v1.4m0 7.6v1.4m0 .4v1.4m0 4v1.4m0 .4v1.4m0 20.2v1.4m0 4v1.4m0 11.2v1.4m0 4v1.4m0 .4v1.4m0 .4v1.4m1.9-66.2v1.4m0 2.2v1.4m0 4v1.4m0 36.4v1.4m0 2.2v1.4m0 5.8v1.4m0 .4v1.4m0 4v1.4m0 .4v1.4m0 .4v1.4m0 .4v1.4m0 4v1.4m1.9-93.4v1.4m0 5.8v1.4m0 4v1.4m0 .4v1.4m0 43.6v1.4m0 7.6v1.4m0 9.4v1.4m1.8-78.6v1.4m0 4v1.4m0 5.8v1.4m0 .4v1.4m0 43.6v1.4m0 .4v1.4m0 .4v1.4m0 5.8v1.4m0 .4v1.4m0 4v1.4m0 .4v1.4m0 4v1.4m0 .4v1.4m0 .4v1.4m1.9-107.7v1.4m0 .4v1.4m0 5.8v1.4m0 14.8v1.4m0 61.6v1.4m0 2.2v1.4m0 4v1.4m0 .4v1.4m0 .4v1.4m0 4v1.4m1.9-118.3v1.4m0 .4v1.4m0 .4v1.4m0 2.2v1.4m0 5.8v1.4m0 5.8v1.4m0 .4v1.4m0 4v1.4m0 .4v1.4m0 65.2v1.4m0 .4v1.4m0 4v1.4m0 .4v1.4m0 .4v1.4m0 2.2v1.4m0 .4v1.4m0 5.8v1.4m0 .4v1.4m0 .4v1.4m0 .4v1.4m1.8-134.1v1.4m0 2.2v1.4m0 7.6v1.4m0 .4v1.4m0 4v1.4m0 .4v1.4m0 7.6v1.4m0 .4v1.4m0 72.4v1.4m0 .4v1.4m0 5.8v1.4m0 .4v1.4m0 .4v1.4m0 .4v1.4m0 .4v1.4m0 7.6v1.4m0 4v1.4m0 4v1.4m0 5.8v1.4m1.9-159.2v1.4m0 .4v1.4m0 .4v1.4m0 11.2v1.4m0 5.8v1.4m0 .4v1.4m0 5.8v1.4m0 .4v1.4m0 83.2v1.4m0 7.6v1.4m0 .4v1.4m0 .4v1.4m0 9.4v1.4m0 5.8v1.4m0 2.2v1.4m0 .4v1.4m1.9-149.9v1.4m0 .4v1.4m0 9.4v1.4m0 5.8v1.4m0 95.8v1.4m0 5.8v1.4m0 .4v1.4m0 9.4v1.4m0 .4v1.4m1.9-144.5v1.4m0 5.8v1.4m0 .4v1.4m0 7.6v1.4m0 .4v1.4m0 .4v1.4m0 95.8v1.4m0 2.2v1.4m0 9.4v1.4m0 .4v1.4m0 .4v1.4m0 .4v1.4m0 5.8v1.4m0 4v1.4m0 .4v1.4m0 4v1.4m1.8-159.6v1.4m0 122.8v1.4m0 2.2v1.4m0 9.4v1.4m0 .4v1.4m0 4v1.4m0 .4v1.4m0 .4v1.4m0 .4v1.4m0 .4v1.4m1.9-156.4v1.4m0 7.6v1.4m0 11.2v1.4m0 104.8v1.4m0 2.2v1.4m0 .4v1.4m0 .4v1.4m0 7.6v1.4m0 .4v1.4m0 4v1.4m1.9-151.9v1.4m0 2.2v1.4m0 .4v1.4m0 7.6v1.4m0 .4v1.4m0 5.8v1.4m0 .4v1.4m0 106.6v1.4m0 .4v1.4m0 9.4v1.4m0 18.4v1.4m0 .4v1.4m1.8-148.6v1.4m0 5.8v1.4m0 103v1.4m0 2.2v1.4m0 11.2v1.4m0 4v1.4m0 2.2v1.4m0 4v1.4m0 4v1.4m1.9-147.6v1.4m0 .4v1.4m0 4v1.4m0 90.4v1.4m0 4v1.4m0 4v1.4m0 4v1.4m0 .4v1.4m0 .4v1.4m0 14.8v1.4m0 2.2v1.4m0 4v1.4m1.9-140.6v1.4m0 4v1.4m0 112v1.4m0 4v1.4m0 .4v1.4m0 2.2v1.4m1.8-11.1v1.4m0 .4v1.4m0 2.2v1.4m0 .4v1.4m0 4v1.4m1.9-11.6v1.4m0 4v1.4m0 4v1.4m1.9-128v1.4m0 4v1.4m0 85v1.4m0 9.4v1.4m0 7.6v1.4m0 .4v1.4m0 .4v1.4m0 .4v1.4m0 7.6v1.4m0 .4v1.4m0 4v1.4m1.9-14.8v1.4m0 5.8v1.4m0 2.2v1.4m1.8-126.6v1.4m0 113.8v1.4m0 .4v1.4m0 4v1.4m0 .4v1.4m1.9-128v1.4m0 117.4v1.4m1.9-19.9v1.4m0 13v1.4m0 7.6v1.4m0 4v1.4m1.8-13.8v1.4m0 2.2v1.4m0 2.2v1.4m0 2.2v1.4m1.9-128.3v1.4m0 115.6v1.4m0 .4v1.4m0 2.2v1.4m1.9-129.7v1.4m0 4v1.4m0 85v1.4m0 11.2v1.4m0 4v1.4m0 11.2v1.4m0 4v1.4m0 2.2v1.4m0 .4v1.4m0 .4v1.4m1.8-137.9v1.4m0 4v1.4m0 90.4v1.4m0 .4v1.4m0 .4v1.4m0 4v1.4m0 4v1.4m0 .4v1.4m0 .4v1.4m0 .4v1.4m0 .4v1.4m0 11.2v1.4m0 .4v1.4m0 2.2v1.4m0 .4v1.4m1.9-143.8v1.4m0 .4v1.4m0 .4v1.4m0 4v1.4m0 88.6v1.4m0 4v1.4m0 .4v1.4m0 .4v1.4m0 .4v1.4m0 .4v1.4m0 4v1.4m0 7.6v1.4m0 4v1.4m0 .4v1.4m0 2.2v1.4m1.9-163.4v1.4m0 .4v1.4m0 20.2v1.4m0 .4v1.4m0 97.6v1.4m0 .4v1.4m0 .4v1.4m0 .4v1.4m0 2.2v1.4m0 .4v1.4m0 .4v1.4m0 5.8v1.4m0 13v1.4m0 .4v1.4m0 2.2v1.4m0 .4v1.4m1.9-143.6v1.4m0 101.2v1.4m0 .4v1.4m0 .4v1.4m0 2.2v1.4m0 11.2v1.4m0 9.4v1.4m1.8-136.3v1.4m0 4v1.4m0 86.8v1.4m0 .4v1.4m0 .4v1.4m0 2.2v1.4m0 7.6v1.4m0 .4v1.4m0 .4v1.4m0 .4v1.4m0 .4v1.4m0 2.2v1.4m0 9.4v1.4m0 4v1.4m0 2.2v1.4m0 2.2v1.4m1.9-165.2v1.4m0 14.8v1.4m0 .4v1.4m0 4v1.4m0 .4v1.4m0 86.8v1.4m0 .4v1.4m0 2.2v1.4m0 5.8v1.4m0 5.8v1.4m0 .4v1.4m0 .4v1.4m0 2.2v1.4m0 .4v1.4m0 16.6v1.4m0 .4v1.4m0 .4v1.4m0 .4v1.4m1.9-170.8v1.4m0 4v1.4m0 18.4v1.4m0 83.2v1.4m0 .4v1.4m0 .4v1.4m0 2.2v1.4m0 11.2v1.4m0 .4v1.4m0 .4v1.4m0 .4v1.4m0 4v1.4m0 .4v1.4m0 7.6v1.4m0 7.6v1.4m0 7.6v1.4m1.8-164.2v1.4m0 16.6v1.4m0 .4v1.4m0 2.2v1.4m0 2.2v1.4m0 .4v1.4m0 .4v1.4m0 67v1.4m0 2.2v1.4m0 13v1.4m0 2.2v1.4m0 2.2v1.4m0 4v1.4m0 5.8v1.4m0 7.6v1.4m0 .4v1.4m0 .4v1.4m0 .4v1.4m0 .4v1.4m0 .4v1.4m0 .4v1.4m0 2.2v1.4m0 .4v1.4m1.9-162.3v1.4m0 7.6v1.4m0 .4v1.4m0 4v1.4m0 .4v1.4m0 7.6v1.4m0 .4v1.4m0 .4v1.4m0 2.2v1.4m0 .4v1.4m0 .4v1.4m0 .4v1.4m0 56.2v1.4m0 9.4v1.4m0 .4v1.4m0 .4v1.4m0 .4v1.4m0 2.2v1.4m0 2.2v1.4m0 5.8v1.4m0 2.2v1.4m0 2.2v1.4m0 14.8v1.4m0 .4v1.4m0 .4v1.4m0 .4v1.4m0 .4v1.4m0 2.2v1.4m1.9-170.9v1.4m0 2.2v1.4m0 2.2v1.4m0 9.4v1.4m0 25.6v1.4m0 .4v1.4m0 4v1.4m0 .4v1.4m0 45.4v1.4m0 5.8v1.4m0 .4v1.4m0 .4v1.4m0 .4v1.4m0 4v1.4m0 5.8v1.4m0 .4v1.4m0 .4v1.4m0 4v1.4m0 4v1.4m0 .4v1.4m0 4v1.4m0 4v1.4m0 2.2v1.4m0 4v1.4m0 4v1.4m1.8-168.2v1.4m0 2.2v1.4m0 2.2v1.4m0 7.6v1.4m0 4v1.4m0 31v1.4m0 .4v1.4m0 .4v1.4m0 2.2v1.4m0 38.2v1.4m0 .4v1.4m0 .4v1.4m0 .4v1.4m0 .4v1.4m0 .4v1.4m0 11.2v1.4m0 .4v1.4m0 .4v1.4m0 5.8v1.4m0 2.2v1.4m0 .4v1.4m0 7.6v1.4m0 .4v1.4m0 2.2v1.4m0 11.2v1.4m1.9-166.7v1.4m0 2.2v1.4m0 2.2v1.4m0 7.6v1.4m0 43.6v1.4m0 .4v1.4m0 31v1.4m0 2.2v1.4m0 23.8v1.4m0 2.2v1.4m0 4v1.4m0 2.2v1.4m0 .4v1.4m1.9-139.9v1.4m0 7.6v1.4m0 5.8v1.4m0 32.8v1.4m0 .4v1.4m0 .4v1.4m0 5.8v1.4m0 34.6v1.4m0 4v1.4m0 .4v1.4m0 5.8v1.4m0 .4v1.4m0 .4v1.4m0 .4v1.4m0 .4v1.4m0 4v1.4m0 .4v1.4m0 .4v1.4m0 5.8v1.4m0 .4v1.4m0 7.6v1.4m0 .4v1.4m0 .4v1.4m0 7.6v1.4m0 2.2v1.4m1.9-161.5v1.4m0 2.2v1.4m0 13v1.4m0 18.4v1.4m0 4v1.4m0 2.2v1.4m0 49v1.4m0 9.4v1.4m0 9.4v1.4m0 2.2v1.4m0 .4v1.4m0 4v1.4m0 4v1.4m0 2.2v1.4m1.8-137.5v1.4m0 4v1.4m0 2.2v1.4m0 5.8v1.4m0 9.4v1.4m0 .4v1.4m0 2.2v1.4m0 .4v1.4m0 .4v1.4m0 .4v1.4m0 58v1.4m0 11.2v1.4m0 2.2v1.4m0 7.6v1.4m0 5.8v1.4m0 11.2v1.4m0 4v1.4m0 .4v1.4m0 .4v1.4m0 4v1.4m0 4v1.4m0 .4v1.4m1.9-167.3v1.4m0 2.2v1.4m0 5.8v1.4m0 5.8v1.4m0 .4v1.4m0 4v1.4m0 2.2v1.4m0 2.2v1.4m0 .4v1.4m0 .4v1.4m0 99.4v1.4m0 5.8v1.4m0 4v1.4m0 .4v1.4m0 .4v1.4m0 7.6v1.4m1.9-164.5v1.4m0 .4v1.4m0 2.2v1.4m0 5.8v1.4m0 4v1.4m0 .4v1.4m0 .4v1.4m0 79.6v1.4m0 4v1.4m0 .4v1.4m0 13v1.4m0 .4v1.4m0 2.2v1.4m0 .4v1.4m0 .4v1.4m0 .4v1.4m0 5.8v1.4m0 18.4v1.4m0 4v1.4m1.8-167.2v1.4m0 2.2v1.4m0 .4v1.4m0 94v1.4m0 18.4v1.4m0 .4v1.4m0 4v1.4m0 5.8v1.4m0 4v1.4m0 .4v1.4m1.9-143.1v1.4m0 2.2v1.4m0 2.2v1.4m0 4v1.4m0 .4v1.4m0 83.2v1.4m0 4v1.4m0 .4v1.4m0 .4v1.4m0 .4v1.4m0 9.4v1.4m0 .4v1.4m0 2.2v1.4m0 .4v1.4m0 .4v1.4m0 4v1.4m0 2.2v1.4m0 .4v1.4m0 2.2v1.4m0 13v1.4m0 4v1.4m1.9-164.6v1.4m0 2.2v1.4m0 7.6v1.4m0 85v1.4m0 2.2v1.4m0 .4v1.4m0 .4v1.4m0 9.4v1.4m0 9.4v1.4m0 .4v1.4m0 .4v1.4m0 .4v1.4m0 4v1.4m0 .4v1.4m0 13v1.4m0 2.2v1.4m0 4v1.4m1.8-165.7v1.4m0 5.8v1.4m0 .4v1.4m0 88.6v1.4m0 2.2v1.4m0 5.8v1.4m0 .4v1.4m0 4v1.4m0 .4v1.4m0 7.6v1.4m0 14.8v1.4m0 .4v1.4m0 4v1.4m0 4v1.4m1.9-157.4v1.4m0 2.2v1.4m0 7.6v1.4m0 .4v1.4m0 2.2v1.4m0 .4v1.4m0 76v1.4m0 11.2v1.4m0 4v1.4m0 7.6v1.4m0 5.8v1.4m0 5.8v1.4m0 .4v1.4m0 2.2v1.4m0 4v1.4m0 .4v1.4m0 .4v1.4m0 2.2v1.4m0 .4v1.4m0 .4v1.4m1.9-156.4v1.4m0 .4v1.4m0 9.4v1.4m0 .4v1.4m0 .4v1.4m0 74.2v1.4m0 5.8v1.4m0 .4v1.4m0 2.2v1.4m0 4v1.4m0 2.2v1.4m0 2.2v1.4m0 2.2v1.4m0 .4v1.4m0 2.2v1.4m0 2.2v1.4m0 2.2v1.4m0 .4v1.4m0 .4v1.4m0 .4v1.4m1.9-141.1v1.4m0 2.2v1.4m0 .4v1.4m0 .4v1.4m0 .4v1.4m0 .4v1.4m0 7.6v1.4m0 76v1.4m0 .4v1.4m0 4v1.4m0 2.2v1.4m0 .4v1.4m0 2.2v1.4m0 4v1.4m0 9.4v1.4m0 .4v1.4m0 2.2v1.4m1.8-140.5v1.4m0 .4v1.4m0 4v1.4m0 .4v1.4m0 .4v1.4m0 .4v1.4m0 2.2v1.4m0 4v1.4m0 5.8v1.4m0 2.2v1.4m0 59.8v1.4m0 5.8v1.4m0 2.2v1.4m0 .4v1.4m0 .4v1.4m0 4v1.4m0 2.2v1.4m0 .4v1.4m0 5.8v1.4m0 .4v1.4m0 4v1.4m0 .4v1.4m0 4v1.4m0 .4v1.4m0 .4v1.4m0 .4v1.4m0 2.2v1.4m0 2.2v1.4m0 4v1.4m0 2.2v1.4m0 .4v1.4m1.9-158.3v1.4m0 27.4v1.4m0 59.8v1.4m0 9.4v1.4m0 2.2v1.4m0 11.2v1.4m0 11.2v1.4m0 2.2v1.4m0 .4v1.4m1.9-143.3v1.4m0 4v1.4m0 .4v1.4m0 22v1.4m0 5.8v1.4m0 50.8v1.4m0 2.2v1.4m0 .4v1.4m0 2.2v1.4m0 4v1.4m0 .4v1.4m0 4v1.4m0 5.8v1.4m0 2.2v1.4m0 .4v1.4m0 9.4v1.4m0 5.8v1.4m0 2.2v1.4m0 .4v1.4m0 7.6v1.4m0 .4v1.4m1.8-160.2v1.4m0 2.2v1.4m0 27.4v1.4m0 2.2v1.4m0 5.8v1.4m0 50.8v1.4m0 2.2v1.4m0 4v1.4m0 .4v1.4m0 11.2v1.4m0 2.2v1.4m0 14.8v1.4m0 2.2v1.4m1.9-146.1v1.4m0 2.2v1.4m0 .4v1.4m0 2.2v1.4m0 .4v1.4m0 32.8v1.4m0 5.8v1.4m0 2.2v1.4m0 40v1.4m0 7.6v1.4m0 4v1.4m0 5.8v1.4m0 .4v1.4m0 4v1.4m0 9.4v1.4m0 4v1.4m0 4v1.4m0 5.8v1.4m0 11.2v1.4m1.9-112v1.4m0 .4v1.4m0 .4v1.4m0 29.2v1.4m0 4v1.4m0 2.2v1.4m0 4v1.4m0 4v1.4m0 .4v1.4m0 7.6v1.4m0 2.2v1.4m0 .4v1.4m0 .4v1.4m0 9.4v1.4m0 .4v1.4m0 5.8v1.4m0 14.8v1.4m1.8-164.4v1.4m0 5.8v1.4m0 47.2v1.4m0 .4v1.4m0 49v1.4m0 14.8v1.4m0 16.6v1.4m0 2.2v1.4m1.9-146.4v1.4m0 2.2v1.4m0 2.2v1.4m0 49v1.4m0 7.6v1.4m0 .4v1.4m0 13v1.4m0 2.2v1.4m0 11.2v1.4m0 .4v1.4m0 .4v1.4m0 4v1.4m0 2.2v1.4m0 4v1.4m0 7.6v1.4m0 .4v1.4m0 .4v1.4m0 11.2v1.4m0 4v1.4m0 2.2v1.4m0 .4v1.4m0 .4v1.4m0 2.2v1.4m0 .4v1.4m1.9-163.5v1.4m0 4v1.4m0 2.2v1.4m0 58v1.4m0 40v1.4m0 .4v1.4m0 .4v1.4m0 .4v1.4m0 .4v1.4m0 .4v1.4m0 .4v1.4m0 5.8v1.4m0 .4v1.4m0 .4v1.4m0 4v1.4m0 .4v1.4m0 4v1.4m0 .4v1.4m0 4v1.4m0 .4v1.4m0 .4v1.4m0 .4v1.4m0 .4v1.4m0 .4v1.4m0 .4v1.4m1.9-153.7v1.4m0 58v1.4m0 25.6v1.4m0 7.6v1.4m0 5.8v1.4m0 .4v1.4m0 4v1.4m0 2.2v1.4m0 4v1.4m0 .4v1.4m0 .4v1.4m0 7.6v1.4m0 2.2v1.4m0 .4v1.4m0 9.4v1.4m0 .4v1.4m0 .4v1.4m0 2.2v1.4m0 .4v1.4m1.8-170.6v1.4m0 .4v1.4m0 .4v1.4m0 2.2v1.4m0 4v1.4m0 76v1.4m0 13v1.4m0 9.4v1.4m0 2.2v1.4m0 2.2v1.4m0 .4v1.4m0 9.4v1.4m0 .4v1.4m0 4v1.4m0 14.8v1.4m0 .4v1.4m0 2.2v1.4m0 4v1.4m1.9-160.5v1.4m0 86.8v1.4m0 5.8v1.4m0 7.6v1.4m0 .4v1.4m0 9.4v1.4m0 2.2v1.4m0 .4v1.4m0 .4v1.4m0 16.6v1.4m0 .4v1.4m0 4v1.4m0 .4v1.4m0 .4v1.4m1.9-158.5v1.4m0 4v1.4m0 54.4v1.4m0 27.4v1.4m0 9.4v1.4m0 9.4v1.4m0 9.4v1.4m0 4v1.4m0 .4v1.4m0 .4v1.4m0 7.6v1.4m0 4v1.4m0 .4v1.4m0 .4v1.4m0 .4v1.4m0 4v1.4m0 .4v1.4m0 .4v1.4m1.8-160.7v1.4m0 52.6v1.4m0 2.2v1.4m0 4v1.4m0 38.2v1.4m0 .4v1.4m0 .4v1.4m0 4v1.4m0 2.2v1.4m0 .4v1.4m0 2.2v1.4m0 7.6v1.4m0 .4v1.4m0 .4v1.4m0 .4v1.4m0 2.2v1.4m0 .4v1.4m0 .4v1.4m0 14.8v1.4m0 .4v1.4m1.9-164.1v1.4m0 .4v1.4m0 4v1.4m0 45.4v1.4m0 5.8v1.4m0 .4v1.4m0 32.8v1.4m0 18.4v1.4m0 4v1.4m0 .4v1.4m0 7.6v1.4m0 .4v1.4m0 .4v1.4m0 5.8v1.4m0 .4v1.4m0 5.8v1.4m0 9.4v1.4m1.9-165v1.4m0 43.6v1.4m0 .4v1.4m0 7.6v1.4m0 43.6v1.4m0 5.8v1.4m0 2.2v1.4m0 5.8v1.4m0 .4v1.4m0 2.2v1.4m0 .4v1.4m0 .4v1.4m0 2.2v1.4m0 .4v1.4m0 .4v1.4m0 18.4v1.4m0 .4v1.4m0 .4v1.4m0 .4v1.4m1.8-162.2v1.4m0 38.2v1.4m0 9.4v1.4m0 .4v1.4m0 .4v1.4m0 45.4v1.4m0 2.2v1.4m0 9.4v1.4m0 7.6v1.4m0 .4v1.4m0 2.2v1.4m0 7.6v1.4m0 .4v1.4m0 4v1.4m0 2.2v1.4m0 2.2v1.4m0 .4v1.4m0 2.2v1.4m0 2.2v1.4m1.9-164v1.4m0 2.2v1.4m0 31v1.4m0 7.6v1.4m0 59.8v1.4m0 .4v1.4m0 7.6v1.4m0 4v1.4m0 .4v1.4m0 2.2v1.4m0 .4v1.4m0 .4v1.4m0 5.8v1.4m0 11.2v1.4m0 2.2v1.4m0 .4v1.4m0 .4v1.4m0 .4v1.4m0 4v1.4m1.9-167.4v1.4m0 25.6v1.4m0 .4v1.4m0 .4v1.4m0 5.8v1.4m0 .4v1.4m0 68.8v1.4m0 9.4v1.4m0 4v1.4m0 .4v1.4m0 2.2v1.4m0 .4v1.4m0 4v1.4m0 .4v1.4m0 2.2v1.4m0 7.6v1.4m0 7.6v1.4m1.9-164.7v1.4m0 2.2v1.4m0 .4v1.4m0 11.2v1.4m0 5.8v1.4m0 5.8v1.4m0 .4v1.4m0 .4v1.4m0 74.2v1.4m0 .4v1.4m0 4v1.4m0 4v1.4m0 4v1.4m0 .4v1.4m0 .4v1.4m0 5.8v1.4m0 16.6v1.4m0 7.6v1.4m1.8-161.9v1.4m0 2.2v1.4m0 .4v1.4m0 .4v1.4m0 .4v1.4m0 .4v1.4m0 9.4v1.4m0 83.2v1.4m0 2.2v1.4m0 16.6v1.4m0 .4v1.4m0 7.6v1.4m0 .4v1.4m0 2.2v1.4m0 .4v1.4m0 5.8v1.4m0 2.2v1.4m0 .4v1.4m1.9-165.6v1.4m0 5.8v1.4m0 .4v1.4m0 7.6v1.4m0 2.2v1.4m0 92.2v1.4m0 7.6v1.4m0 7.6v1.4m0 2.2v1.4m0 .4v1.4m0 4v1.4m1.9-146.2v1.4m0 5.8v1.4m0 .4v1.4m0 2.2v1.4m0 5.8v1.4m0 .4v1.4m0 90.4v1.4m0 2.2v1.4m0 .4v1.4m0 18.4v1.4m0 .4v1.4m0 5.8v1.4m0 .4v1.4m0 .4v1.4m0 .4v1.4m0 .4v1.4m0 4v1.4m0 2.2v1.4m0 .4v1.4m0 .4v1.4" stroke="#6193bd" stroke-width="1.1" fill="none"/>
<path d="M386.4 573.1v1.6m0 3.8v1.6m0 21.8v1.6m0 3.8v1.6m0 5.6v1.6m0 .2v1.6m1.9-42.8v1.6m0 2v1.6m0 21.8v1.6m0 3.8v1.6m0 7.4v1.6m0 .2v1.6m1.9-43v1.6m0 .2v1.6m0 20v1.6m0 5.6v1.6m0 9.2v1.6m0 .2v1.6m0 .2v1.6m1.9-24.6v1.6m0 5.6v1.6m0 .2v1.6m0 12.8v1.6m0 .2v1.6m1.8-46.8v1.6m0 .2v1.6m0 16.4v1.6m0 5.6v1.6m0 18.2v1.6m0 .2v1.6m0 .2v1.6m0 .2v1.6m1.9-52.1v1.6m0 16.4v1.6m0 5.6v1.6m0 .2v1.6m0 20v1.6m0 .2v1.6m0 .2v1.6m1.9-53.9v1.6m0 16.4v1.6m0 5.6v1.6m0 .2v1.6m0 23.6v1.6m0 .2v1.6m0 .2v1.6m0 .2v1.6m0 .2v1.6m0 .2v1.6m1.8-61.7v1.6m0 14.6v1.6m0 7.4v1.6m0 27.2v1.6m0 .2v1.6m0 .2v1.6m0 .2v1.6m0 .2v1.6m0 .2v1.6m0 23.6v1.6m1.9-164v1.6m0 .2v1.6m0 70.4v1.6m0 .2v1.6m0 14.6v1.6m0 5.6v1.6m0 36.2v1.6m0 .2v1.6m0 .2v1.6m0 .2v1.6m0 12.8v1.6m0 .2v1.6m0 .2v1.6m0 .2v1.6m0 .2v1.6m1.9-159v1.6m0 .2v1.6m0 .2v1.6m0 63.2v1.6m0 .2v1.6m0 12.8v1.6m0 5.6v1.6m0 41.6v1.6m0 .2v1.6m0 .2v1.6m0 .2v1.6m0 .2v1.6m0 .2v1.6m0 .2v1.6m0 .2v1.6m0 .2v1.6m1.9-148.1v1.6m0 .2v1.6m0 .2v1.6m0 .2v1.6m0 .2v1.6m0 57.8v1.6m0 14.6v1.6m0 3.8v1.6m0 .2v1.6m0 34.4v1.6m0 .2v1.6m0 2v1.6m0 .2v1.6m0 .2v1.6m0 .2v1.6m0 .2v1.6m0 .2v1.6m0 .2v1.6m0 .2v1.6m0 .2v1.6m0 .2v1.6m0 .2v1.6m0 2v1.6m0 .2v1.6m1.8-150.8v1.6m0 .2v1.6m0 .2v1.6m0 .2v1.6m0 75.8v1.6m0 38v1.6m0 .2v1.6m0 .2v1.6m0 .2v1.6m0 9.2v1.6m0 .2v1.6m0 .2v1.6m0 .2v1.6m0 .2v1.6m0 .2v1.6m0 .2v1.6m0 2v1.6m1.9-146.6v1.6m0 .2v1.6m0 .2v1.6m0 48.8v1.6m0 12.8v1.6m0 5.6v1.6m0 29v1.6m0 .2v1.6m0 .2v1.6m0 .2v1.6m0 .2v1.6m0 23.6v1.6m0 2v1.6m0 .2v1.6m0 .2v1.6m1.9-142.1v1.6m0 .2v1.6m0 .2v1.6m0 .2v1.6m0 41.6v1.6m0 12.8v1.6m0 5.6v1.6m0 25.4v1.6m0 .2v1.6m0 .2v1.6m0 .2v1.6m1.8-96.7v1.6m0 2v1.6m0 36.2v1.6m0 12.8v1.6m0 3.8v1.6m0 21.8v1.6m0 .2v1.6m0 .2v1.6m1.9-82.5v1.6m0 .2v1.6m0 .2v1.6m0 .2v1.6m0 .2v1.6m0 25.4v1.6m0 11v1.6m0 .2v1.6m0 3.8v1.6m0 16.4v1.6m0 .2v1.6m0 .2v1.6m0 .2v1.6m0 .2v1.6m1.9-69.3v1.6m0 .2v1.6m0 .2v1.6m0 .2v1.6m0 16.4v1.6m0 11v1.6m0 3.8v1.6m0 14.6v1.6m0 .2v1.6m0 .2v1.6m1.8-56v1.6m0 5.6v1.6m0 .2v1.6m0 23.6v1.6m0 12.8v1.6m0 .2v1.6m1.9-39.5v1.6m0 .2v1.6m0 .2v1.6m0 12.8v1.6m0 2v1.6m0 12.8v1.6m1.9-37.8v1.6m0 16.4v1.6m0 18.2v1.6m0 .2v1.6m1.9-47v1.6m0 .2v1.6m0 3.8v1.6m0 16.4v1.6m0 .2v1.6m0 .2v1.6m0 16.4v1.6m0 .2v1.6m1.8-59.3v1.6m0 .2v1.6m0 .2v1.6m0 .2v1.6m0 3.8v1.6m0 .2v1.6m0 20v1.6m0 3.8v1.6m0 .2v1.6m0 14.6v1.6m0 .2v1.6m1.9-70v1.6m0 .2v1.6m0 .2v1.6m0 .2v1.6m0 .2v1.6m0 5.6v1.6m0 .2v1.6m0 32.6v1.6m0 .2v1.6m0 .2v1.6m0 14.6v1.6m0 .2v1.6m1.9-79.2v1.6m0 .2v1.6m0 .2v1.6m0 9.2v1.6m0 .2v1.6m0 .2v1.6m0 39.8v1.6m0 .2v1.6m0 .2v1.6m0 14.6v1.6m0 .2v1.6m0 .2v1.6m1.8-93.2v1.6m0 .2v1.6m0 .2v1.6m0 .2v1.6m0 .2v1.6m0 7.4v1.6m0 .2v1.6m0 .2v1.6m0 52.4v1.6m0 .2v1.6m0 12.8v1.6m0 .2v1.6m1.9-98.9v1.6m0 .2v1.6m0 .2v1.6m0 9.2v1.6m0 .2v1.6m0 .2v1.6m0 .2v1.6m0 59.6v1.6m0 .2v1.6m0 14.6v1.6m0 .2v1.6m1.9-111.3v1.6m0 2v1.6m0 .2v1.6m0 .2v1.6m0 11v1.6m0 .2v1.6m0 72.2v1.6m0 .2v1.6m0 11v1.6m0 .2v1.6m0 .2v1.6m1.8-121.7v1.6m0 .2v1.6m0 .2v1.6m0 .2v1.6m0 11v1.6m0 .2v1.6m0 .2v1.6m0 .2v1.6m0 79.4v1.6m0 .2v1.6m0 .2v1.6m0 9.2v1.6m0 .2v1.6m0 .2v1.6m0 .2v1.6m1.9-134.2v1.6m0 .2v1.6m0 .2v1.6m0 .2v1.6m0 .2v1.6m0 .2v1.6m0 11v1.6m0 .2v1.6m0 .2v1.6m0 88.4v1.6m0 .2v1.6m0 .2v1.6m0 .2v1.6m0 7.4v1.6m0 .2v1.6m0 .2v1.6m1.9-141.1v1.6m0 .2v1.6m0 .2v1.6m0 .2v1.6m0 14.6v1.6m0 .2v1.6m0 .2v1.6m0 99.2v1.6m0 .2v1.6m0 .2v1.6m0 7.4v1.6m0 .2v1.6m0 .2v1.6m1.9-142.9v1.6m0 12.8v1.6m0 .2v1.6m0 .2v1.6m0 106.4v1.6m0 .2v1.6m0 .2v1.6m0 .2v1.6m0 .2v1.6m0 7.4v1.6m0 .2v1.6m0 .2v1.6m1.8-140v1.6m0 .2v1.6m0 .2v1.6m0 .2v1.6m0 .2v1.6m0 .2v1.6m0 113.6v1.6m0 .2v1.6m0 .2v1.6m0 .2v1.6m0 5.6v1.6m0 .2v1.6m1.9-145.8v1.6m0 .2v1.6m0 .2v1.6m0 .2v1.6m0 5.6v1.6m0 .2v1.6m0 .2v1.6m0 .2v1.6m0 115.4v1.6m0 .2v1.6m0 .2v1.6m0 5.6v1.6m0 .2v1.6m1.9-132.3v1.6m0 .2v1.6m0 .2v1.6m0 115.4v1.6m0 .2v1.6m0 .2v1.6m0 .2v1.6m0 2v1.6m0 .2v1.6m0 .2v1.6m0 .2v1.6m1.8-132.6v1.6m0 .2v1.6m0 .2v1.6m0 111.8v1.6m0 .2v1.6m0 .2v1.6m0 .2v1.6m0 .2v1.6m0 2v1.6m0 .2v1.6m0 2v1.6m1.9-131.6v1.6m0 .2v1.6m0 113.6v1.6m0 .2v1.6m0 .2v1.6m0 .2v1.6m0 .2v1.6m0 .2v1.6m0 .2v1.6m0 .2v1.6m1.9-128.2v1.6m0 .2v1.6m0 115.4v1.6m0 .2v1.6m0 3.8v1.6m1.8-126.5v1.6m0 .2v1.6m0 .2v1.6m0 115.4v1.6m0 3.8v1.6m0 .2v1.6m1.9-127v1.6m0 .2v1.6m0 .2v1.6m0 113.6v1.6m0 .2v1.6m0 2v1.6m0 .2v1.6m1.9-124.6v1.6m0 .2v1.6m0 113.6v1.6m0 .2v1.6m0 .2v1.6m0 .2v1.6m1.9-123v1.6m0 .2v1.6m0 115.4v1.6m0 .2v1.6m0 .2v1.6m1.8-123.2v1.6m0 119v1.6m0 .2v1.6m1.9-122.8v1.6m0 117.2v1.6m0 .2v1.6m0 .2v1.6m0 .2v1.6m1.9-128.1v1.6m0 .2v1.6m0 117.2v1.6m0 .2v1.6m0 2v1.6m1.8-127.4v1.6m0 .2v1.6m0 119v1.6m1.9-126.7v1.6m0 .2v1.6m0 113.6v1.6m0 .2v1.6m0 3.8v1.6m1.9-126.3v1.6m0 .2v1.6m0 111.8v1.6m0 .2v1.6m0 .2v1.6m0 2v1.6m0 .2v1.6m1.8-127.3v1.6m0 .2v1.6m0 115.4v1.6m0 .2v1.6m0 .2v1.6m0 .2v1.6m0 .2v1.6m1.9-127.8v1.6m0 .2v1.6m0 111.8v1.6m0 .2v1.6m0 .2v1.6m0 2v1.6m0 .2v1.6m1.9-129.4v1.6m0 .2v1.6m0 .2v1.6m0 99.2v1.6m0 12.8v1.6m0 .2v1.6m0 .2v1.6m0 .2v1.6m0 .2v1.6m0 .2v1.6m0 .2v1.6m1.9-133v1.6m0 .2v1.6m0 .2v1.6m0 101v1.6m0 14.6v1.6m0 .2v1.6m0 .2v1.6m0 .2v1.6m0 .2v1.6m1.8-132.9v1.6m0 .2v1.6m0 97.4v1.6m0 .2v1.6m0 .2v1.6m0 .2v1.6m0 14.6v1.6m0 .2v1.6m0 .2v1.6m0 .2v1.6m1.9-152.8v1.6m0 20v1.6m0 .2v1.6m0 88.4v1.6m0 3.8v1.6m0 2v1.6m0 .2v1.6m0 .2v1.6m0 2v1.6m0 .2v1.6m0 .2v1.6m0 11v1.6m0 .2v1.6m0 .2v1.6m0 .2v1.6m0 3.8v1.6m1.9-158.4v1.6m0 .2v1.6m0 16.4v1.6m0 .2v1.6m0 90.2v1.6m0 2v1.6m0 .2v1.6m0 .2v1.6m0 .2v1.6m0 .2v1.6m0 .2v1.6m0 14.6v1.6m0 .2v1.6m0 .2v1.6m0 .2v1.6m1.8-150v1.6m0 .2v1.6m0 .2v1.6m0 12.8v1.6m0 .2v1.6m0 .2v1.6m0 3.8v1.6m0 2v1.6m0 77.6v1.6m0 .2v1.6m0 .2v1.6m0 .2v1.6m0 .2v1.6m0 .2v1.6m0 .2v1.6m0 2v1.6m0 2v1.6m0 2v1.6m0 .2v1.6m0 2v1.6m0 5.6v1.6m0 .2v1.6m0 .2v1.6m0 .2v1.6m1.9-151.7v1.6m0 .2v1.6m0 .2v1.6m0 .2v1.6m0 12.8v1.6m0 .2v1.6m0 16.4v1.6m0 65v1.6m0 .2v1.6m0 .2v1.6m0 .2v1.6m0 .2v1.6m0 14.6v1.6m0 .2v1.6m0 .2v1.6m0 9.2v1.6m0 .2v1.6m0 .2v1.6m0 .2v1.6m1.9-149.5v1.6m0 2v1.6m0 12.8v1.6m0 27.2v1.6m0 .2v1.6m0 50.6v1.6m0 .2v1.6m0 .2v1.6m0 23.6v1.6m0 .2v1.6m0 9.2v1.6m0 .2v1.6m1.8-145v1.6m0 2v1.6m0 11v1.6m0 .2v1.6m0 38v1.6m0 36.2v1.6m0 .2v1.6m0 27.2v1.6m0 .2v1.6m0 .2v1.6m0 2v1.6m0 3.8v1.6m0 .2v1.6m0 .2v1.6m0 .2v1.6m1.9-145.3v1.6m0 2v1.6m0 11v1.6m0 .2v1.6m0 75.8v1.6m0 30.8v1.6m0 .2v1.6m0 7.4v1.6m0 .2v1.6m0 .2v1.6m1.9-143.7v1.6m0 .2v1.6m0 .2v1.6m0 .2v1.6m0 9.2v1.6m0 .2v1.6m0 34.4v1.6m0 .2v1.6m0 .2v1.6m0 38v1.6m0 .2v1.6m0 3.8v1.6m0 .2v1.6m0 .2v1.6m0 9.2v1.6m0 .2v1.6m0 5.6v1.6m0 .2v1.6m0 .2v1.6m0 3.8v1.6m0 .2v1.6m0 .2v1.6m0 .2v1.6m1.9-141.9v1.6m0 2v1.6m0 9.2v1.6m0 23.6v1.6m0 2v1.6m0 2v1.6m0 48.8v1.6m0 .2v1.6m0 .2v1.6m0 .2v1.6m0 .2v1.6m0 12.8v1.6m0 5.6v1.6m0 7.4v1.6m0 2v1.6m1.8-141.3v1.6m0 3.8v1.6m0 5.6v1.6m0 .2v1.6m0 .2v1.6m0 14.6v1.6m0 66.8v1.6m0 .2v1.6m0 .2v1.6m0 .2v1.6m0 .2v1.6m0 .2v1.6m0 2v1.6m0 2v1.6m0 .2v1.6m0 .2v1.6m0 .2v1.6m0 2v1.6m0 .2v1.6m0 .2v1.6m0 2v1.6m0 .2v1.6m0 .2v1.6m0 .2v1.6m0 .2v1.6m0 .2v1.6m0 2v1.6m0 .2v1.6m0 11v1.6m1.9-160.3v1.6m0 2v1.6m0 .2v1.6m0 3.8v1.6m0 .2v1.6m0 .2v1.6m0 3.8v1.6m0 .2v1.6m0 2v1.6m0 74v1.6m0 .2v1.6m0 .2v1.6m0 .2v1.6m0 .2v1.6m0 .2v1.6m0 .2v1.6m0 .2v1.6m0 .2v1.6m0 .2v1.6m0 .2v1.6m0 2v1.6m0 .2v1.6m0 .2v1.6m0 .2v1.6m0 .2v1.6m0 .2v1.6m0 .2v1.6m0 2v1.6m0 .2v1.6m0 .2v1.6m0 14.6v1.6m0 3.8v1.6m1.9-162.9v1.6m0 2v1.6m0 .2v1.6m0 3.8v1.6m0 .2v1.6m0 86.6v1.6m0 .2v1.6m0 3.8v1.6m0 .2v1.6m0 .2v1.6m0 .2v1.6m0 .2v1.6m0 .2v1.6m0 .2v1.6m0 3.8v1.6m0 7.4v1.6m0 .2v1.6m0 .2v1.6m1.8-138.6v1.6m0 3.8v1.6m0 3.8v1.6m0 88.4v1.6m0 9.2v1.6m0 .2v1.6m0 .2v1.6m0 .2v1.6m0 3.8v1.6m0 .2v1.6m0 9.2v1.6m0 .2v1.6m1.9-137.9v1.6m0 2v1.6m0 3.8v1.6m0 88.4v1.6m0 .2v1.6m0 7.4v1.6m0 .2v1.6m0 .2v1.6m0 .2v1.6m0 .2v1.6m0 3.8v1.6m0 11v1.6m1.9-136v1.6m0 2v1.6m0 3.8v1.6m0 88.4v1.6m0 5.6v1.6m0 .2v1.6m0 2v1.6m0 .2v1.6m0 2v1.6m0 .2v1.6m0 .2v1.6m0 .2v1.6m0 .2v1.6m0 7.4v1.6m0 .2v1.6m1.8-137.1v1.6m0 .2v1.6m0 .2v1.6m0 3.8v1.6m0 88.4v1.6m0 3.8v1.6m0 .2v1.6m0 3.8v1.6m0 .2v1.6m0 3.8v1.6m0 .2v1.6m0 .2v1.6m0 .2v1.6m0 7.4v1.6m0 .2v1.6m0 .2v1.6m1.9-137.8v1.6m0 2v1.6m0 .2v1.6m0 .2v1.6m0 .2v1.6m0 86.6v1.6m0 .2v1.6m0 .2v1.6m0 .2v1.6m0 .2v1.6m0 .2v1.6m0 2v1.6m0 .2v1.6m0 3.8v1.6m0 .2v1.6m0 .2v1.6m0 2v1.6m0 5.6v1.6m0 .2v1.6m0 .2v1.6m0 3.8v1.6m0 11v1.6m1.9-154.8v1.6m0 .2v1.6m0 3.8v1.6m0 .2v1.6m0 .2v1.6m0 .2v1.6m0 .2v1.6m0 81.2v1.6m0 .2v1.6m0 .2v1.6m0 7.4v1.6m0 .2v1.6m0 5.6v1.6m0 2v1.6m0 11v1.6m1.9-135.9v1.6m0 2v1.6m0 9.2v1.6m0 .2v1.6m0 .2v1.6m0 .2v1.6m0 74v1.6m0 .2v1.6m0 9.2v1.6m0 9.2v1.6m0 14.6v1.6m1.8-135.3v1.6m0 .2v1.6m0 16.4v1.6m0 .2v1.6m0 .2v1.6m0 66.8v1.6m0 .2v1.6m0 .2v1.6m0 9.2v1.6m0 .2v1.6m0 7.4v1.6m0 .2v1.6m0 .2v1.6m0 11v1.6m0 .2v1.6m0 11v1.6m1.9-149.5v1.6m0 .2v1.6m0 20v1.6m0 .2v1.6m0 .2v1.6m0 .2v1.6m0 59.6v1.6m0 .2v1.6m0 2v1.6m0 9.2v1.6m0 9.2v1.6m0 .2v1.6m0 14.6v1.6m1.9-138.1v1.6m0 .2v1.6m0 27.2v1.6m0 .2v1.6m0 .2v1.6m0 54.2v1.6m0 3.8v1.6m0 9.2v1.6m0 .2v1.6m0 9.2v1.6m0 14.6v1.6m0 .2v1.6m0 .2v1.6m1.8-140.6v1.6m0 2v1.6m0 30.8v1.6m0 .2v1.6m0 .2v1.6m0 47v1.6m0 .2v1.6m0 3.8v1.6m0 9.2v1.6m0 11v1.6m0 18.2v1.6m1.9-142.7v1.6m0 3.8v1.6m0 38v1.6m0 .2v1.6m0 .2v1.6m0 38v1.6m0 .2v1.6m0 5.6v1.6m0 7.4v1.6m0 .2v1.6m0 11v1.6m0 .2v1.6m0 18.2v1.6m0 .2v1.6m1.9-146.4v1.6m0 .2v1.6m0 3.8v1.6m0 41.6v1.6m0 .2v1.6m0 .2v1.6m0 32.6v1.6m0 7.4v1.6m0 7.4v1.6m0 .2v1.6m0 12.8v1.6m0 18.2v1.6m0 .2v1.6m0 .2v1.6m1.8-148.4v1.6m0 5.6v1.6m0 52.4v1.6m0 .2v1.6m0 .2v1.6m0 21.8v1.6m0 7.4v1.6m0 9.2v1.6m0 12.8v1.6m0 .2v1.6m0 20v1.6m1.9-148.4v1.6m0 .2v1.6m0 5.6v1.6m0 54.2v1.6m0 .2v1.6m0 .2v1.6m0 18.2v1.6m0 7.4v1.6m0 .2v1.6m0 7.4v1.6m0 .2v1.6m0 12.8v1.6m0 .2v1.6m0 .2v1.6m0 14.6v1.6m0 2v1.6m0 .2v1.6m0 2v1.6m1.9-154.7v1.6m0 7.4v1.6m0 61.4v1.6m0 14.6v1.6m0 9.2v1.6m0 7.4v1.6m0 .2v1.6m0 12.8v1.6m0 .2v1.6m0 .2v1.6m0 20v1.6m0 .2v1.6m0 14.6v1.6m1.9-170.1v1.6m0 .2v1.6m0 5.6v1.6m0 .2v1.6m0 61.4v1.6m0 .2v1.6m0 12.8v1.6m0 .2v1.6m0 7.4v1.6m0 .2v1.6m0 5.6v1.6m0 .2v1.6m0 .2v1.6m0 9.2v1.6m0 2v1.6m0 .2v1.6m0 20v1.6m0 .2v1.6m0 .2v1.6m0 .2v1.6m0 .2v1.6m1.8-151v1.6m0 .2v1.6m0 63.2v1.6m0 14.6v1.6m0 .2v1.6m0 5.6v1.6m0 .2v1.6m0 5.6v1.6m0 .2v1.6m0 .2v1.6m0 11v1.6m0 .2v1.6m0 .2v1.6m0 .2v1.6m0 .2v1.6m0 12.8v1.6m0 3.8v1.6m0 .2v1.6m0 .2v1.6m1.9-149.9v1.6m0 63.2v1.6m0 .2v1.6m0 18.2v1.6m0 .2v1.6m0 3.8v1.6m0 .2v1.6m0 7.4v1.6m0 14.6v1.6m0 25.4v1.6m0 .2v1.6m1.9-151.5v1.6m0 .2v1.6m0 57.8v1.6m0 .2v1.6m0 .2v1.6m0 23.6v1.6m0 .2v1.6m0 2v1.6m0 .2v1.6m0 5.6v1.6m0 .2v1.6m0 .2v1.6m0 12.8v1.6m0 .2v1.6m0 25.4v1.6m0 .2v1.6m1.8-153.7v1.6m0 56v1.6m0 .2v1.6m0 30.8v1.6m0 .2v1.6m0 .2v1.6m0 .2v1.6m0 .2v1.6m0 5.6v1.6m0 .2v1.6m0 2v1.6m0 3.8v1.6m0 2v1.6m0 .2v1.6m0 .2v1.6m0 .2v1.6m0 14.6v1.6m0 2v1.6m0 .2v1.6m0 .2v1.6m0 .2v1.6m0 .2v1.6m0 .2v1.6m0 3.8v1.6m1.9-162.5v1.6m0 50.6v1.6m0 .2v1.6m0 .2v1.6m0 38v1.6m0 .2v1.6m0 .2v1.6m0 .2v1.6m0 .2v1.6m0 2v1.6m0 .2v1.6m0 .2v1.6m0 .2v1.6m0 9.2v1.6m0 .2v1.6m0 .2v1.6m0 .2v1.6m0 21.8v1.6m0 .2v1.6m0 .2v1.6m0 .2v1.6m0 .2v1.6m1.9-161.6v1.6m0 45.2v1.6m0 .2v1.6m0 .2v1.6m0 .2v1.6m0 47v1.6m0 .2v1.6m0 .2v1.6m0 5.6v1.6m0 .2v1.6m0 .2v1.6m0 11v1.6m0 30.8v1.6m0 .2v1.6m1.8-164.2v1.6m0 39.8v1.6m0 .2v1.6m0 .2v1.6m0 .2v1.6m0 56v1.6m0 .2v1.6m0 .2v1.6m0 .2v1.6m0 3.8v1.6m0 .2v1.6m0 .2v1.6m0 9.2v1.6m0 .2v1.6m0 .2v1.6m0 23.6v1.6m0 2v1.6m0 .2v1.6m1.9-166v1.6m0 34.4v1.6m0 .2v1.6m0 .2v1.6m0 .2v1.6m0 65v1.6m0 .2v1.6m0 .2v1.6m0 .2v1.6m0 2v1.6m0 .2v1.6m0 3.8v1.6m0 5.6v1.6m0 .2v1.6m0 27.2v1.6m1.9-164v1.6m0 29v1.6m0 .2v1.6m0 .2v1.6m0 74v1.6m0 .2v1.6m0 .2v1.6m0 .2v1.6m0 .2v1.6m0 2v1.6m0 .2v1.6m0 9.2v1.6m0 .2v1.6m1.9-137.9v1.6m0 23.6v1.6m0 .2v1.6m0 .2v1.6m0 83v1.6m0 .2v1.6m0 2v1.6m0 .2v1.6m0 2v1.6m0 .2v1.6m0 5.6v1.6m0 .2v1.6m0 .2v1.6m0 2v1.6m1.8-144.1v1.6m0 .2v1.6m0 .2v1.6m0 14.6v1.6m0 .2v1.6m0 .2v1.6m0 .2v1.6m0 .2v1.6m0 86.6v1.6m0 2v1.6m0 .2v1.6m0 .2v1.6m0 .2v1.6m0 .2v1.6m0 .2v1.6m0 .2v1.6m0 .2v1.6m0 .2v1.6m0 3.8v1.6m0 .2v1.6m0 .2v1.6m0 .2v1.6m0 12.8v1.6m1.9-160.4v1.6m0 11v1.6m0 .2v1.6m0 .2v1.6m0 .2v1.6m0 2v1.6m0 97.4v1.6m0 .2v1.6m0 3.8v1.6m0 .2v1.6m0 .2v1.6m0 .2v1.6m0 7.4v1.6m0 .2v1.6m1.9-133.8v1.6m0 2v1.6m0 104.6v1.6m0 .2v1.6m0 .2v1.6m0 .2v1.6m0 .2v1.6m0 .2v1.6m0 .2v1.6m0 .2v1.6m0 .2v1.6m0 5.6v1.6m0 .2v1.6m0 .2v1.6" stroke="#3a72a2" stroke-width="1.3" fill="none"/>
</g>
<rect x="385.2" y="506" width="175.6" height="171" fill="none" stroke="#000000" stroke-width="1.4" />
<line x1="385.2" y1="677.5" x2="389.2" y2="677.5" stroke="#000000" stroke-width="1.2" />
<text x="378.4" y="681.4" font-size="11.2" text-anchor="end" font-weight="normal" font-style="normal" fill="#1a1a1a" >-4</text>
<line x1="385.2" y1="656" x2="387.7" y2="656" stroke="#000000" stroke-width="1.2" />
<line x1="385.2" y1="634.5" x2="389.2" y2="634.5" stroke="#000000" stroke-width="1.2" />
<text x="378.4" y="638.4" font-size="11.2" text-anchor="end" font-weight="normal" font-style="normal" fill="#1a1a1a" >-2</text>
<line x1="385.2" y1="613" x2="387.7" y2="613" stroke="#000000" stroke-width="1.2" />
<line x1="385.2" y1="591.5" x2="389.2" y2="591.5" stroke="#000000" stroke-width="1.2" />
<text x="378.4" y="595.4" font-size="11.2" text-anchor="end" font-weight="normal" font-style="normal" fill="#1a1a1a" >0</text>
<line x1="385.2" y1="570" x2="387.7" y2="570" stroke="#000000" stroke-width="1.2" />
<line x1="385.2" y1="548.5" x2="389.2" y2="548.5" stroke="#000000" stroke-width="1.2" />
<text x="378.4" y="552.4" font-size="11.2" text-anchor="end" font-weight="normal" font-style="normal" fill="#1a1a1a" >2</text>
<line x1="385.2" y1="527" x2="387.7" y2="527" stroke="#000000" stroke-width="1.2" />
<line x1="385.2" y1="505.5" x2="389.2" y2="505.5" stroke="#000000" stroke-width="1.2" />
<text x="378.4" y="509.4" font-size="11.2" text-anchor="end" font-weight="normal" font-style="normal" fill="#1a1a1a" >4</text>
<line x1="385.2" y1="677" x2="385.2" y2="673" stroke="#000000" stroke-width="1.2" />
<text x="385.2" y="692.2" font-size="11" text-anchor="middle" font-weight="normal" font-style="normal" fill="#1a1a1a" >W</text>
<line x1="419.4" y1="677" x2="419.4" y2="673" stroke="#000000" stroke-width="1.2" />
<text x="419.4" y="692.2" font-size="11" text-anchor="middle" font-weight="normal" font-style="normal" fill="#1a1a1a" >L</text>
<line x1="461.5" y1="677" x2="461.5" y2="673" stroke="#000000" stroke-width="1.2" />
<text x="461.5" y="692.2" font-size="11" text-anchor="middle" font-weight="normal" font-style="normal" fill="#1a1a1a" >X</text>
<line x1="510.1" y1="677" x2="510.1" y2="673" stroke="#000000" stroke-width="1.2" />
<text x="510.1" y="692.2" font-size="11" text-anchor="middle" font-weight="normal" font-style="normal" fill="#1a1a1a" >G</text>
<line x1="560.8" y1="677" x2="560.8" y2="673" stroke="#000000" stroke-width="1.2" />
<text x="560.8" y="692.2" font-size="11" text-anchor="middle" font-weight="normal" font-style="normal" fill="#1a1a1a" >K</text>
<text x="473" y="710.2" font-size="13.2" font-weight="bold" text-anchor="middle" fill="#1a1a1a"><tspan font-style="italic">k</tspan>-point</text>
<text x="348.7" y="490.6" font-size="16" font-weight="bold" fill="#000000">h</text>
<text transform="translate(363.2,591.3) rotate(-90)" font-size="14" font-weight="bold" text-anchor="middle" fill="#1a1a1a"><tspan font-style="italic">E</tspan> (eV)</text>
<path d="M236.8,505.8 L272.92,505.88 L273.75,510.07 L272.92,512.59 L277.11,513.43 L278.79,515.95 L281.31,516.79 L279.63,519.31 L284.67,521.82 L281.31,523.5 L279.63,525.18 L277.11,526.86 L278.79,530.22 L276.27,533.57 L279.63,535.25 L277.95,536.93 L276.27,539.45 L279.63,541.13 L282.15,542.81 L287.18,545.32 L283.83,548.68 L282.15,550.36 L285.51,552.04 L286.34,555.4 L281.31,557.92 L276.27,558.75 L279.63,561.27 L282.99,564.63 L280.47,567.15 L272.08,570.51 L265.36,573.02 L258.65,575.54 L253.61,577.22 L251.09,578.9 L246.06,581.42 L243.54,583.1 L242.7,585.61 L240.18,588.13 L237.33,591.15 L236.82,591.71 L241.86,596.75 L248.57,599.27 L255.29,600.95 L260.32,603.47 L262.84,605.98 L270.4,607.66 L278.79,609.34 L281.31,611.02 L276.27,612.7 L278.79,615.22 L287.18,616.06 L297.26,618.57 L288.86,620.25 L282.15,622.77 L277.11,625.29 L273.75,627.81 L278.79,630.32 L279.63,632 L274.59,634.52 L278.79,636.2 L287.18,637.88 L293.9,639.56 L292.22,642.08 L287.18,644.59 L290.54,647.11 L293.06,649.63 L289.7,652.15 L292.22,654.67 L291.38,657.18 L288.86,659.7 L289.7,662.22 L287.18,665.58 L286.34,668.1 L289.7,670.61 L292.22,673.97 L293.06,676.99 L236.8,677.4 Z" fill="#eaebeb"/>
<path d="M272.92,505.88 L273.75,510.07 L272.92,512.59 L277.11,513.43 L278.79,515.95 L281.31,516.79 L279.63,519.31 L284.67,521.82 L281.31,523.5 L279.63,525.18 L277.11,526.86 L278.79,530.22 L276.27,533.57 L279.63,535.25 L277.95,536.93 L276.27,539.45 L279.63,541.13 L282.15,542.81 L287.18,545.32 L283.83,548.68 L282.15,550.36 L285.51,552.04 L286.34,555.4 L281.31,557.92 L276.27,558.75 L279.63,561.27 L282.99,564.63 L280.47,567.15 L272.08,570.51 L265.36,573.02 L258.65,575.54 L253.61,577.22 L251.09,578.9 L246.06,581.42 L243.54,583.1 L242.7,585.61 L240.18,588.13 L237.33,591.15" fill="none" stroke="#333" stroke-width="1.3" stroke-linejoin="round"/>
<path d="M236.82,591.71 L241.86,596.75 L248.57,599.27 L255.29,600.95 L260.32,603.47 L262.84,605.98 L270.4,607.66 L278.79,609.34 L281.31,611.02 L276.27,612.7 L278.79,615.22 L287.18,616.06 L297.26,618.57 L288.86,620.25 L282.15,622.77 L277.11,625.29 L273.75,627.81 L278.79,630.32 L279.63,632 L274.59,634.52 L278.79,636.2 L287.18,637.88 L293.9,639.56 L292.22,642.08 L287.18,644.59 L290.54,647.11 L293.06,649.63 L289.7,652.15 L292.22,654.67 L291.38,657.18 L288.86,659.7 L289.7,662.22 L287.18,665.58 L286.34,668.1 L289.7,670.61 L292.22,673.97 L293.06,676.99" fill="none" stroke="#333" stroke-width="1.3" stroke-linejoin="round"/>
<path d="M237.66,505.88 L237.33,525.18 L237.66,550.36 L239.34,563.79 L239.34,568.83 L238.17,573.86 L237.16,578.9 L236.99,591.49" fill="none" stroke="#f08c28" stroke-width="1.3" stroke-linejoin="round"/>
<path d="M237.16,591.71 L237.33,676.99" fill="none" stroke="#f08c28" stroke-width="1.3" stroke-linejoin="round"/>
<path d="M237.33,648.79 L238,676.99" fill="none" stroke="#9b59d0" stroke-width="1.3" stroke-linejoin="round"/>
<path d="M246.9,505.88 L247.73,511.75 L250.25,518.47 L249.41,525.18 L250.25,533.57 L251.09,541.97 L251.93,550.36 L249.41,558.75 L250.25,562.11 L248.57,567.15 L243.54,573.86 L240.18,578.9 L238.5,582.26 L237.33,587.29 L236.99,591.49" fill="none" stroke="#d42a20" stroke-width="1.3" stroke-linejoin="round"/>
<path d="M236.82,593.39 L239.34,600.11 L241.02,605.14 L243.54,610.18 L246.06,617.73 L244.38,623.61 L243.2,630.32 L242.7,633.68 L245.22,638.72 L243.54,645.43 L244.38,652.15 L243.87,660.54 L244.38,668.93 L244.88,676.99" fill="none" stroke="#d42a20" stroke-width="1.3" stroke-linejoin="round"/>
<path d="M244.88,505.88 L245.22,510.07 L244.38,516.79 L243.54,525.18 L244.38,533.57 L243.54,541.97 L243.2,550.36 L242.7,558.75 L241.02,567.15 L239.34,573.86 L238.17,580.58 L237.33,587.29 L236.82,591.49" fill="none" stroke="#4585c0" stroke-width="1.3" stroke-linejoin="round"/>
<path d="M236.82,592.55 L241.86,600.11 L246.06,604.31 L250.25,608.5 L252.77,611.02 L251.93,614.38 L257.81,617.73 L258.65,619.41 L254.45,622.77 L250.25,627.81 L251.09,630.32 L254.45,633.68 L256.97,638.72 L256.13,643.75 L255.29,648.79 L256.13,653.83 L255.29,660.54 L254.45,667.26 L254.95,676.99" fill="none" stroke="#4585c0" stroke-width="1.3" stroke-linejoin="round"/>
<rect x="236.8" y="505.8" width="88.5" height="171.6" fill="none" stroke="#000000" stroke-width="1.4" />
<line x1="236.8" y1="677.5" x2="243.3" y2="677.5" stroke="#000000" stroke-width="1.2" />
<text x="227.6" y="682.5" font-size="14" text-anchor="end" font-weight="normal" font-style="normal" fill="#1a1a1a" >-2</text>
<line x1="236.8" y1="656" x2="240.2" y2="656" stroke="#000000" stroke-width="1.2" />
<line x1="236.8" y1="634.5" x2="243.3" y2="634.5" stroke="#000000" stroke-width="1.2" />
<text x="227.6" y="639.5" font-size="14" text-anchor="end" font-weight="normal" font-style="normal" fill="#1a1a1a" >-1</text>
<line x1="236.8" y1="613" x2="240.2" y2="613" stroke="#000000" stroke-width="1.2" />
<line x1="236.8" y1="591.5" x2="243.3" y2="591.5" stroke="#000000" stroke-width="1.2" />
<text x="227.6" y="596.5" font-size="14" text-anchor="end" font-weight="normal" font-style="normal" fill="#1a1a1a" >0</text>
<line x1="236.8" y1="570" x2="240.2" y2="570" stroke="#000000" stroke-width="1.2" />
<line x1="236.8" y1="548.5" x2="243.3" y2="548.5" stroke="#000000" stroke-width="1.2" />
<text x="227.6" y="553.5" font-size="14" text-anchor="end" font-weight="normal" font-style="normal" fill="#1a1a1a" >1</text>
<line x1="236.8" y1="527" x2="240.2" y2="527" stroke="#000000" stroke-width="1.2" />
<line x1="236.8" y1="505.5" x2="243.3" y2="505.5" stroke="#000000" stroke-width="1.2" />
<text x="227.6" y="510.5" font-size="14" text-anchor="end" font-weight="normal" font-style="normal" fill="#1a1a1a" >2</text>
<line x1="251.55" y1="677.4" x2="251.55" y2="674.4" stroke="#000000" stroke-width="1.2" />
<line x1="266.3" y1="677.4" x2="266.3" y2="671.9" stroke="#000000" stroke-width="1.2" />
<line x1="281.05" y1="677.4" x2="281.05" y2="674.4" stroke="#000000" stroke-width="1.2" />
<line x1="295.8" y1="677.4" x2="295.8" y2="671.9" stroke="#000000" stroke-width="1.2" />
<line x1="310.55" y1="677.4" x2="310.55" y2="674.4" stroke="#000000" stroke-width="1.2" />
<text x="281.05" y="710.2" font-size="13.6" font-weight="bold" text-anchor="middle" fill="#1a1a1a">DOS (a.u.)</text>
<line x1="286.3" y1="566.3" x2="298.6" y2="566.3" stroke="#9b59d0" stroke-width="1.4" />
<text x="305.3" y="570.2" font-size="11" text-anchor="start" font-weight="normal" font-style="normal" fill="#1a1a1a" >Cu</text>
<line x1="286.3" y1="579.7" x2="298.6" y2="579.7" stroke="#f08c28" stroke-width="1.4" />
<text x="305.3" y="583.6" font-size="11" text-anchor="start" font-weight="normal" font-style="normal" fill="#1a1a1a" >Sb</text>
<line x1="286.3" y1="593.1" x2="298.6" y2="593.1" stroke="#d42a20" stroke-width="1.4" />
<text x="305.3" y="597" font-size="11" text-anchor="start" font-weight="normal" font-style="normal" fill="#1a1a1a" >Ge</text>
<line x1="286.3" y1="606.4" x2="298.6" y2="606.4" stroke="#4585c0" stroke-width="1.4" />
<text x="305.3" y="610.3" font-size="11" text-anchor="start" font-weight="normal" font-style="normal" fill="#1a1a1a" >Te</text>
<path d="M584.2,505.9 L622.96,505.84 L623.87,510.95 L625.69,517.34 L629.34,519.16 L627.52,522.81 L630.26,528.28 L633.91,533.76 L629.34,536.5 L626.61,539.23 L630.26,544.71 L639.38,549.27 L634.82,552.01 L633.91,554.74 L640.29,558.39 L636.64,562.04 L632.99,565.69 L629.34,568.43 L622.04,571.17 L612.92,573.91 L603.8,576.64 L596.5,578.47 L591.02,580.29 L586.46,583.03 L584.27,585.4 L584.2,585.4 Z" fill="#eaebeb"/>
<path d="M584.2,598.69 L584.27,598.69 L589.2,603.25 L596.5,605.99 L605.62,607.81 L614.74,609.64 L622.96,614.2 L624.78,616.93 L623.87,619.67 L626.61,623.32 L626.61,626.97 L632.99,629.71 L629.34,632.45 L634.82,638.83 L629.34,641.57 L630.26,647.04 L628.43,652.52 L631.17,656.17 L629.34,659.82 L632.99,663.47 L639.38,667.12 L638.47,672.59 L636.64,677.15 L584.2,677.1 Z" fill="#eaebeb"/>
<path d="M622.96,505.84 L623.87,510.95 L625.69,517.34 L629.34,519.16 L627.52,522.81 L630.26,528.28 L633.91,533.76 L629.34,536.5 L626.61,539.23 L630.26,544.71 L639.38,549.27 L634.82,552.01 L633.91,554.74 L640.29,558.39 L636.64,562.04 L632.99,565.69 L629.34,568.43 L622.04,571.17 L612.92,573.91 L603.8,576.64 L596.5,578.47 L591.02,580.29 L586.46,583.03 L584.27,585.4" fill="none" stroke="#333" stroke-width="1.3" stroke-linejoin="round"/>
<path d="M584.27,598.69 L589.2,603.25 L596.5,605.99 L605.62,607.81 L614.74,609.64 L622.96,614.2 L624.78,616.93 L623.87,619.67 L626.61,623.32 L626.61,626.97 L632.99,629.71 L629.34,632.45 L634.82,638.83 L629.34,641.57 L630.26,647.04 L628.43,652.52 L631.17,656.17 L629.34,659.82 L632.99,663.47 L639.38,667.12 L638.47,672.59 L636.64,677.15" fill="none" stroke="#333" stroke-width="1.3" stroke-linejoin="round"/>
<path d="M585.18,505.84 L585,554.74 L585.55,572.99 L585,583.94" fill="none" stroke="#f08c28" stroke-width="1.3" stroke-linejoin="round"/>
<path d="M584.64,598.69 L585,677.15" fill="none" stroke="#f08c28" stroke-width="1.3" stroke-linejoin="round"/>
<path d="M585,639.74 L585.55,677.15" fill="none" stroke="#9b59d0" stroke-width="1.3" stroke-linejoin="round"/>
<path d="M594.67,505.84 L595.58,514.6 L598.32,527.37 L596.5,540.15 L598.32,547.45 L600.15,551.09 L598.69,554.74 L601.06,558.39 L598.32,565.69 L592.85,572.99 L588.28,578.47 L585.18,583.03" fill="none" stroke="#d42a20" stroke-width="1.3" stroke-linejoin="round"/>
<path d="M584.27,600.51 L586.46,605.07 L589.2,608.72 L590.66,614.2 L591.02,621.5 L591.93,628.8 L592.85,632.45 L592.48,639.74 L591.93,648.87 L591.39,657.99 L591.93,667.12 L591.39,677.15" fill="none" stroke="#d42a20" stroke-width="1.3" stroke-linejoin="round"/>
<path d="M592.85,505.84 L593.39,514.6 L592.85,527.37 L593.39,536.5 L592.85,545.62 L593.39,554.74 L591.93,563.87 L589.2,572.99 L586.46,580.29 L584.64,583.94" fill="none" stroke="#4585c0" stroke-width="1.3" stroke-linejoin="round"/>
<path d="M584.27,599.6 L587.37,605.07 L591.93,609.64 L598.32,615.11 L598.69,621.5 L599.23,628.8 L601.06,632.45 L599.78,636.09 L602.34,639.74 L600.51,645.22 L599.78,650.69 L601.06,657.99 L602.88,663.47 L603.43,670.77 L601.97,677.15" fill="none" stroke="#4585c0" stroke-width="1.3" stroke-linejoin="round"/>
<rect x="584.2" y="505.9" width="88.4" height="171.2" fill="none" stroke="#000000" stroke-width="1.4" />
<line x1="584.2" y1="677.5" x2="590.7" y2="677.5" stroke="#000000" stroke-width="1.2" />
<text x="575" y="682.5" font-size="14" text-anchor="end" font-weight="normal" font-style="normal" fill="#1a1a1a" >-2</text>
<line x1="584.2" y1="656" x2="587.6" y2="656" stroke="#000000" stroke-width="1.2" />
<line x1="584.2" y1="634.5" x2="590.7" y2="634.5" stroke="#000000" stroke-width="1.2" />
<text x="575" y="639.5" font-size="14" text-anchor="end" font-weight="normal" font-style="normal" fill="#1a1a1a" >-1</text>
<line x1="584.2" y1="613" x2="587.6" y2="613" stroke="#000000" stroke-width="1.2" />
<line x1="584.2" y1="591.5" x2="590.7" y2="591.5" stroke="#000000" stroke-width="1.2" />
<text x="575" y="596.5" font-size="14" text-anchor="end" font-weight="normal" font-style="normal" fill="#1a1a1a" >0</text>
<line x1="584.2" y1="570" x2="587.6" y2="570" stroke="#000000" stroke-width="1.2" />
<line x1="584.2" y1="548.5" x2="590.7" y2="548.5" stroke="#000000" stroke-width="1.2" />
<text x="575" y="553.5" font-size="14" text-anchor="end" font-weight="normal" font-style="normal" fill="#1a1a1a" >1</text>
<line x1="584.2" y1="527" x2="587.6" y2="527" stroke="#000000" stroke-width="1.2" />
<line x1="584.2" y1="505.5" x2="590.7" y2="505.5" stroke="#000000" stroke-width="1.2" />
<text x="575" y="510.5" font-size="14" text-anchor="end" font-weight="normal" font-style="normal" fill="#1a1a1a" >2</text>
<line x1="598.93" y1="677.1" x2="598.93" y2="674.1" stroke="#000000" stroke-width="1.2" />
<line x1="613.67" y1="677.1" x2="613.67" y2="671.6" stroke="#000000" stroke-width="1.2" />
<line x1="628.4" y1="677.1" x2="628.4" y2="674.1" stroke="#000000" stroke-width="1.2" />
<line x1="643.13" y1="677.1" x2="643.13" y2="671.6" stroke="#000000" stroke-width="1.2" />
<line x1="657.87" y1="677.1" x2="657.87" y2="674.1" stroke="#000000" stroke-width="1.2" />
<text x="628.4" y="710.2" font-size="13.6" font-weight="bold" text-anchor="middle" fill="#1a1a1a">DOS (a.u.)</text>
<line x1="637.6" y1="567.2" x2="650.3" y2="567.2" stroke="#9b59d0" stroke-width="1.4" />
<text x="656.7" y="571.1" font-size="11" text-anchor="start" font-weight="normal" font-style="normal" fill="#1a1a1a" >Cu</text>
<line x1="637.6" y1="580.8" x2="650.3" y2="580.8" stroke="#f08c28" stroke-width="1.4" />
<text x="656.7" y="584.7" font-size="11" text-anchor="start" font-weight="normal" font-style="normal" fill="#1a1a1a" >Sb</text>
<line x1="637.6" y1="594.1" x2="650.3" y2="594.1" stroke="#d42a20" stroke-width="1.4" />
<text x="656.7" y="598" font-size="11" text-anchor="start" font-weight="normal" font-style="normal" fill="#1a1a1a" >Ge</text>
<line x1="637.6" y1="607.8" x2="650.3" y2="607.8" stroke="#4585c0" stroke-width="1.4" />
<text x="656.7" y="611.7" font-size="11" text-anchor="start" font-weight="normal" font-style="normal" fill="#1a1a1a" >Te</text>
</svg></body></html>
